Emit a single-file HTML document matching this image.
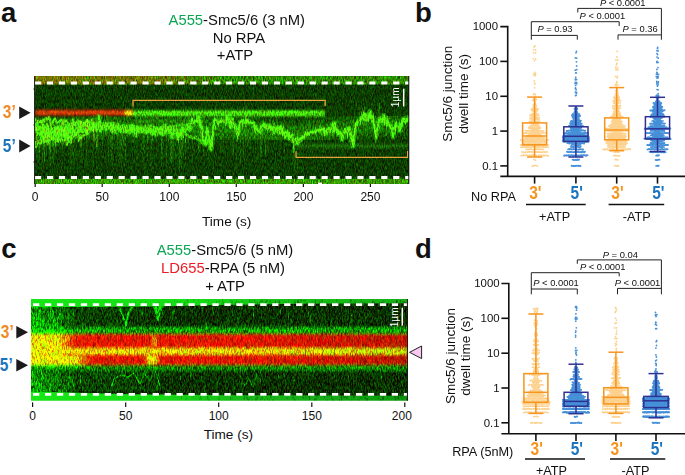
<!DOCTYPE html>
<html><head><meta charset="utf-8"><title>Figure</title>
<style>html,body{margin:0;padding:0;background:#fff;}svg{display:block;font-family:"Liberation Sans", sans-serif;}</style>
</head><body>
<svg width="685" height="475" viewBox="0 0 685 475">
<defs>
<clipPath id="clipA"><rect x="35" y="76" width="374" height="108"/></clipPath>
<clipPath id="clipC"><rect x="31" y="299" width="376.8" height="101.7"/></clipPath>
<filter id="blur05" x="-10%" y="-50%" width="120%" height="200%"><feGaussianBlur stdDeviation="0.5"/></filter>
<filter id="blur07" x="-10%" y="-50%" width="120%" height="200%"><feGaussianBlur stdDeviation="0.7"/></filter>
<filter id="blur1" x="-10%" y="-50%" width="120%" height="200%"><feGaussianBlur stdDeviation="1.0"/></filter>
<filter id="blur15" x="-10%" y="-50%" width="120%" height="200%"><feGaussianBlur stdDeviation="1.5"/></filter>
<filter id="blur2" x="-10%" y="-50%" width="120%" height="200%"><feGaussianBlur stdDeviation="2.2"/></filter>
<filter id="blur3" x="-10%" y="-50%" width="120%" height="200%"><feGaussianBlur stdDeviation="4"/></filter>
<filter id="noiseA" filterUnits="userSpaceOnUse" x="35" y="76" width="374" height="108" color-interpolation-filters="sRGB">
<feTurbulence type="fractalNoise" baseFrequency="1.1 0.3" numOctaves="2" seed="4" result="t"/>
<feColorMatrix in="t" type="matrix" values="1.3 0 0 0 -0.22  0 1.5 0 0 -0.25  0 0 0 0 0  0 0 0 0 1" result="n"/>
<feComposite in="SourceGraphic" in2="n" operator="arithmetic" k1="1.2" k2="0.4" k3="0.14" k4="-0.07"/>
</filter>
<filter id="noiseA2" filterUnits="userSpaceOnUse" x="35" y="76" width="374" height="108" color-interpolation-filters="sRGB">
<feTurbulence type="fractalNoise" baseFrequency="1.1 0.3" numOctaves="2" seed="4" result="t"/>
<feColorMatrix in="t" type="matrix" values="1.2 0 0 0 -0.1  0 1.6 0 0 -0.3  0 0 0 0 0  0 0 0 0 1" result="n"/>
<feComposite in="SourceGraphic" in2="n" operator="arithmetic" k1="1.1" k2="0.5" k3="0" k4="0"/>
</filter>
<filter id="noiseCg" filterUnits="userSpaceOnUse" x="31" y="299" width="377" height="102" color-interpolation-filters="sRGB">
<feTurbulence type="fractalNoise" baseFrequency="1.25 0.3" numOctaves="2" seed="9" result="t"/>
<feColorMatrix in="t" type="matrix" values="0 0 0 0 0  0 2.2 0 0 -0.6  0 0 0 0 0  0 0 0 0 1" result="n"/>
<feComposite in="SourceGraphic" in2="n" operator="arithmetic" k1="0.8" k2="0.6" k3="0.26" k4="-0.13"/>
</filter>
<filter id="noiseCr" filterUnits="userSpaceOnUse" x="31" y="299" width="377" height="102" color-interpolation-filters="sRGB">
<feTurbulence type="fractalNoise" baseFrequency="0.8 0.14" numOctaves="2" seed="23" result="t"/>
<feColorMatrix in="t" type="matrix" values="2 0 0 0 -0.5  0 0 0 0 0  0 0 0 0 0  0 0 0 0 1" result="n"/>
<feComposite in="SourceGraphic" in2="n" operator="arithmetic" k1="0.45" k2="0.78" k3="0.08" k4="-0.04"/>
</filter>
<linearGradient id="topA" x1="0" x2="1"><stop offset="0" stop-color="#847a1a"/><stop offset="0.7" stop-color="#7c7418" stop-opacity="0.85"/><stop offset="1" stop-color="#6a7c18" stop-opacity="0"/></linearGradient>
<linearGradient id="leftC" x1="0" x2="1"><stop offset="0" stop-color="#008800"/><stop offset="0.6" stop-color="#007000" stop-opacity="0.8"/><stop offset="1" stop-color="#007000" stop-opacity="0"/></linearGradient>
<linearGradient id="gLeftBand" x1="0" x2="1"><stop offset="0" stop-color="#00ff00"/><stop offset="0.62" stop-color="#00f800" stop-opacity="0.95"/><stop offset="1" stop-color="#00e000" stop-opacity="0"/></linearGradient>
<linearGradient id="gLeftBand2" x1="0" x2="1"><stop offset="0" stop-color="#00ff00"/><stop offset="0.75" stop-color="#00f800" stop-opacity="0.95"/><stop offset="1" stop-color="#00e000" stop-opacity="0"/></linearGradient>
<linearGradient id="yelC" x1="0" x2="1"><stop offset="0" stop-color="#f0d818"/><stop offset="0.75" stop-color="#f0c818" stop-opacity="0.8"/><stop offset="1" stop-color="#f0c818" stop-opacity="0"/></linearGradient>
<linearGradient id="ygC" x1="0" x2="1"><stop offset="0" stop-color="#9ee020" stop-opacity="0"/><stop offset="0.4" stop-color="#9ee020" stop-opacity="0.7"/><stop offset="1" stop-color="#8ce020" stop-opacity="0.85"/></linearGradient>
<linearGradient id="redC" gradientUnits="userSpaceOnUse" x1="31" x2="408"><stop offset="0" stop-color="#e60000"/><stop offset="0.6" stop-color="#e00000"/><stop offset="0.8" stop-color="#cc0000"/><stop offset="1" stop-color="#b80000"/></linearGradient>
<linearGradient id="hazeC" x1="0" x2="1"><stop offset="0" stop-color="#006000" stop-opacity="0.0"/><stop offset="0.3" stop-color="#005800" stop-opacity="0.55"/><stop offset="0.8" stop-color="#005000" stop-opacity="0.5"/><stop offset="1" stop-color="#004000" stop-opacity="0"/></linearGradient>
<linearGradient id="stripT" gradientUnits="userSpaceOnUse" x1="31" x2="408"><stop offset="0" stop-color="#18e618"/><stop offset="0.4" stop-color="#18e018"/><stop offset="0.65" stop-color="#16c416"/><stop offset="1" stop-color="#14b014"/></linearGradient>
<linearGradient id="stripB" gradientUnits="userSpaceOnUse" x1="31" x2="408"><stop offset="0" stop-color="#18e618"/><stop offset="0.3" stop-color="#18e018"/><stop offset="0.55" stop-color="#14bc14"/><stop offset="1" stop-color="#109c10"/></linearGradient>
<linearGradient id="yelC2" x1="0" x2="1"><stop offset="0" stop-color="#ecec1c"/><stop offset="0.8" stop-color="#ecec1c" stop-opacity="0.9"/><stop offset="1" stop-color="#ecec1c" stop-opacity="0"/></linearGradient>
</defs>
<rect width="685" height="475" fill="#fff"/>
<text x="1.0" y="22.4" font-size="27.5" text-anchor="start" font-weight="bold" fill="#111" >a</text>
<text x="415.0" y="22.4" font-size="27.5" text-anchor="start" font-weight="bold" fill="#111" >b</text>
<text x="1.2" y="258.3" font-size="27.5" text-anchor="start" font-weight="bold" fill="#111" >c</text>
<text x="415.0" y="258.3" font-size="27.5" text-anchor="start" font-weight="bold" fill="#111" >d</text>
<!-- panel a -->
<g clip-path="url(#clipA)">
<g filter="url(#noiseA)">
<rect x="35" y="76" width="374" height="108" fill="#103d08"/>
<g filter="url(#blur07)">
<rect x="25" y="70" width="400" height="14.4" fill="#348a12"/>
<rect x="25" y="70" width="200" height="14.4" fill="url(#topA)"/>
</g>
<rect x="35" y="178.8" width="374" height="6" fill="#3e9a15"/>
<g filter="url(#blur3)" opacity="0.45">
<path d="M35 131 L68 131 L95 126 L133 127 L200 127 L295 134 L355 128 L409 122" stroke="#34c018" stroke-width="20" fill="none"/>
</g>
</g>
<g filter="url(#noiseA2)">
<g filter="url(#blur2)">
<path d="M35 117 L70 118 L100 120 L100 130 L82 137 L68 145 L35 148 Z" fill="#36c416" opacity="0.42"/>
<ellipse cx="54" cy="133" rx="15" ry="7" fill="#50e81c" opacity="0.4"/>
</g>
<g filter="url(#blur07)" fill="none" stroke-linejoin="round">
<path d="M35 117.8L36 120.2L37 122.7L38 120.5L39 122.3L40 122.6L41 120.7L42 122.3L43 119.3L44 119.4L45 121.6L46 117.8L47 119.9L48 119.1L49 116.7L50 119.8L51 125.5L52 123.4L53 121.6L54 119.9L55 118.3L56 121.1L57 123.1L58 122.4L59 122.5L60 120.7L61 119.5L62 119.7L63 123L64 120.4L65 121.5L66 120.3L67 122.7L68 122.4L69 124.5L70 123.9L71 124.2L72 123.6L73 124L74 124.4L75 125.7L76 123.9L77 124.2L78 121L79 125.3L80 124.3L81 126.2L82 124.2L83 123.9L84 123.6L85 126L86 123.2L87 119.9L88 126.5L89 127.2L90 127.3L91 122.5L92 119L93 125.4L94 126.6L95 128.3L96 129L97 126.6L98 126.4L99 126L100 131.5L101 127L102 126.5L103 127.9L104 125.2L105 127.2L106 129L107 127L108 127.6" stroke="#5cf420" stroke-width="2.1" opacity="0.85"/>
<path d="M35 128L36 125.4L37 120.8L38 127.7L39 129.7L40 132L41 131.2L42 127.2L43 131.7L44 133.3L45 134.3L46 132.7L47 135.7L48 136.6L49 136.1L50 134.6L51 134.7L52 138.8L53 135.3L54 139L55 139.1L56 139.3L57 140.5L58 141.7L59 138.9L60 136.5L61 141.3L62 139.6L63 140L64 141.1L65 139.5L66 139.4L67 141.3L68 140.2L69 141.9L70 140.6L71 142.9L72 137.4L73 137.1L74 135.2L75 135L76 134.1L77 130.1L78 127.5L79 130.1L80 127.1L81 128.4L82 125.9" stroke="#5cf420" stroke-width="2.1" opacity="0.85"/>
<path d="M35 133.4L36 132L37 134.9L38 133L39 132.7L40 134.5L41 133.7L42 129.5L43 132.6L44 133.2L45 134L46 131.4L47 132.1L48 135L49 130.5L50 129.2L51 128.2L52 131.9L53 131.9L54 127.9L55 129L56 128.4L57 128.7L58 127.7L59 128.7L60 130.1L61 126.6L62 123.4L63 123.5L64 124.9L65 125.8L66 124.8L67 125.8L68 125.4L69 125.3L70 131.7L71 124.9L72 125.1L73 119.2L74 124.6L75 122.8L76 122.6L77 122.3L78 120.1L79 122.3L80 121.7L81 124.4L82 125.3L83 124.9L84 122.9L85 125L86 124.6L87 123.7L88 121.4L89 122.6L90 127.9L91 124.2L92 124.7" stroke="#5cf420" stroke-width="2.1" opacity="0.85"/>
<path d="M35 141.9L36 142.5L37 143.1L38 141L39 142.1L40 141L41 139.4L42 135.7L43 137.4L44 137.4L45 141.2L46 141.3L47 141.3L48 137.5L49 137.2L50 135.5L51 138.1L52 139.5L53 135.6L54 137L55 136.4L56 131.7L57 137L58 136.5L59 131.2L60 130.1L61 132.9L62 136.7L63 135L64 134.8L65 133.8L66 129.5L67 129.5L68 131.9L69 132L70 131.9L71 132.1L72 126.9L73 132.2L74 131.8L75 131.3L76 130.1L77 132.6L78 133.5L79 128.3L80 130.3L81 130.1L82 131.1L83 129.6L84 129.2L85 131.1L86 132L87 129.8L88 128.1L89 128.5L90 128.4L91 127.9L92 128.7L93 128.2L94 127.8L95 130.1L96 130.9L97 128.4L98 129L99 126.6L100 126.1L101 127.2L102 127.1L103 127.8L104 126.5" stroke="#5cf420" stroke-width="2.1" opacity="0.85"/>
<path d="M35 143.4L36 147.3L37 143.7L38 141.9L39 143.3L40 143.2L41 143.5L42 138.6L43 141.2L44 142.7L45 141.5L46 140.5L47 140.8L48 144.6L49 139.4L50 140.4L51 139.2L52 139.2L53 138.8L54 140.3L55 142.4L56 140.4L57 139.3L58 139.5L59 136.9L60 136.5L61 134.1L62 134.5L63 134.8L64 136.6L65 137.8L66 138.3L67 144.9L68 137.1L69 137.4L70 137.3L71 138.9L72 136.4L73 131.4L74 135.8L75 135L76 134.4L77 133.6L78 129.5L79 140.8L80 137.1L81 134.8L82 137.6L83 135.7L84 135.1L85 135.3L86 134.3L87 134.1L88 133.2L89 129.6L90 130.1L91 129.6L92 129.3L93 130.2L94 129.3L95 128.3L96 128.5" stroke="#5cf420" stroke-width="2.1" opacity="0.85"/>
<path d="M35 128.5L36 127.8L37 129.3L38 129.1L39 129.5L40 129.4L41 128.9L42 127.9L43 124.8L44 129L45 136.3L46 128.3L47 124.1L48 128.3L49 131.6L50 133.1L51 132.5L52 131.6L53 128.5L54 129.9L55 129L56 131.4L57 131.1L58 133.3L59 138L60 134.8L61 134.1L62 132.9L63 133.3L64 131.4L65 129.6L66 127.3L67 125.9L68 128.1L69 128.3L70 132.3L71 127.1L72 124.5" stroke="#5cf420" stroke-width="2.1" opacity="0.85"/>
</g>
<g filter="url(#blur1)">
<rect x="35" y="109.6" width="98" height="6" fill="#b8400e"/>
<rect x="35" y="110.8" width="96" height="3.6" fill="#cc3a0a"/>
<ellipse cx="128.5" cy="113" rx="3.6" ry="3" fill="#e6dc20"/>
<rect x="133" y="110.3" width="192" height="6.2" fill="#48ec1a"/>
<rect x="133" y="113.6" width="192" height="0.9" fill="#2a9014" opacity="0.7"/>
<rect x="296" y="143.4" width="113" height="5.2" fill="#218211" opacity="0.8"/>
</g>
<g filter="url(#blur07)">
<path d="M35 123L36 130.6L37 127.9L38 130.1L39 127L40 126.7L41 134.2L42 136.6L43 129.1L44 127.6L45 131.5L46 132.7L47 129.4L48 132L49 131.1L50 131.8L51 130.5L52 132.3L53 131.8L54 134.2L55 133.6L56 133.2L57 132.5L58 126.2L59 127.7L60 131.3L61 135.7L62 128.6L63 131.6L64 132.7L65 136.1L66 131.1L67 136.6L68 124.6L69 131.4L70 131.1L71 130.8L72 132.3L73 131.4L74 131.6L75 131L76 131.1L77 129.9L78 129.1L79 124.6L80 130L81 123L82 129.5L83 131L84 130.6L85 130L86 129.8L87 129.9L88 129.5L89 128.4L90 128.3L91 126.9L92 126.8L93 128.3L94 125.6L95 126L96 125L97 126.1L98 125.2L99 116.5L100 125.3L101 126.9L102 129.2L103 126.3L104 124.9L105 127.2L106 124.2L107 125.5L108 127.3L109 126.5L110 126.2L111 124.1L112 126.1L113 131.3L114 130.1L115 132.5L116 126.1L117 128.3L118 128L119 129.3L120 130.1L121 128.6L122 127L123 130.8L124 127.9L125 128.5L126 128L127 130L128 131.6L129 130.6L130 130.6L131 129.2L132 126.4L133 128.8L134 128.1L135 129.1L136 135.8L137 127.2L138 129.2L139 129.3L140 131.3L141 129L142 130.4L143 129.6L144 130.2L145 131.1L146 129.8L147 132.8L148 130.1L149 129.8L150 127.5L151 128.1L152 131.7L153 133.1L154 129.4L155 128.2L156 134.8L157 128.8L158 129.6L159 130.1L160 130.4L161 130.2L162 134L163 127.5L164 128.1L165 124.8L166 129.5L167 129.2L168 131.2L169 128.7L170 128.2L171 129.7L172 137L173 133.8L174 132.8L175 133L176 126.4L177 136.7L178 138.7L179 135.9L180 135.1L181 132.4L182 129.3L183 130.7L184 130.2L185 130.5L186 128.6L187 128.8L188 129.1L189 129.3L190 124L191 123L192 118.9L193 123.2L194 121L195 121.4L196 121L197 121.5L198 122.3L199 117.1L200 124.4L201 126.9L202 127.4L203 139.6L204 142.1L205 144.8L206 137.7L207 128.2L208 131.6L209 138.3L210 143.2L211 149L212 144.7L213 130.6L214 122.2L215 118.7L216 120L217 120.4L218 124L219 122L220 120.9L221 121.9L222 120.1L223 120.5L224 121.7L225 120.3L226 123.8L227 115.9L228 118.9L229 119.4L230 127.5L231 120.6L232 119.4L233 121.7L234 125.5L235 128.5L236 126.8L237 134.5L238 134.9L239 128.8L240 122.1L241 121.8L242 121.8L243 122.1L244 122.9L245 122.5L246 121L247 120.3L248 122.3L249 122.7L250 121.7L251 123L252 123.1L253 122.9L254 124.1L255 131.7L256 126.3L257 128.7L258 131.4L259 130.9L260 131.9L261 127.1L262 125.3L263 125.9L264 123.6L265 127.4L266 125.3L267 129.1L268 128.5L269 127.3L270 126.2L271 129.7L272 128.2L273 129.8L274 133.3L275 128L276 128.6L277 129.1L278 128.2L279 127.4L280 133.6L281 126.1L282 130.9L283 134.7L284 132.3L285 137.6L286 133L287 132.8L288 133.5L289 139L290 136.6L291 137.1L292 134.5L293 139.7L294 141.3L295 139.5L296 138.3L297 143.3L298 141.4L299 139.8L300 140.4L301 138.7L302 137.8L303 136.9L304 137.5L305 134.5L306 133L307 134.2L308 133.5L309 133.5L310 132.2L311 132.5L312 132L313 131.8L314 132.2L315 131.7L316 129.8L317 130.6L318 129.6L319 130.6L320 128.3L321 130.3L322 129.5L323 130L324 128.6L325 135L326 131.2L327 132.4L328 129.6L329 128L330 128.1L331 128.9L332 128.1L333 123.5L334 131.1L335 122.8L336 131.7L337 129.1L338 134.4L339 132.9L340 132.1L341 133.3L342 139.7L343 135.5L344 133.2L345 129L346 131.5L347 132.2L348 130.5L349 127.4L350 130.5L351 134.3L352 139.5L353 145.8L354 135.6L355 130.6L356 123.4L357 123.2L358 121.5L359 121.1L360 120.8L361 119.1L362 118L363 118.2L364 119.4L365 114L366 120.4L367 118.2L368 119L369 116.1L370 111.2L371 118.1L372 116.4L373 119.6L374 123.4L375 130L376 137.3L377 131.6L378 124L379 119.2L380 119.2L381 122L382 118.6L383 119.2L384 115.4L385 122L386 121.3L387 122.6L388 122.5L389 124.3L390 125.6L391 128.2L392 128.4L393 136.9L394 127.3L395 127.4L396 123L397 126.7L398 127.5L399 126.8L400 130.8L401 123.9L402 123.1L403 119L404 118.7L405 118.4L406 121.3L407 119.4L408 117.5L409 119.9" stroke="#2ed014" stroke-width="5" fill="none" stroke-linejoin="round" opacity="0.65"/>
<path d="M35 123L36 130.6L37 127.9L38 130.1L39 127L40 126.7L41 134.2L42 136.6L43 129.1L44 127.6L45 131.5L46 132.7L47 129.4L48 132L49 131.1L50 131.8L51 130.5L52 132.3L53 131.8L54 134.2L55 133.6L56 133.2L57 132.5L58 126.2L59 127.7L60 131.3L61 135.7L62 128.6L63 131.6L64 132.7L65 136.1L66 131.1L67 136.6L68 124.6L69 131.4L70 131.1L71 130.8L72 132.3L73 131.4L74 131.6L75 131L76 131.1L77 129.9L78 129.1L79 124.6L80 130L81 123L82 129.5L83 131L84 130.6L85 130L86 129.8L87 129.9L88 129.5L89 128.4L90 128.3L91 126.9L92 126.8L93 128.3L94 125.6L95 126L96 125L97 126.1L98 125.2L99 116.5L100 125.3L101 126.9L102 129.2L103 126.3L104 124.9L105 127.2L106 124.2L107 125.5L108 127.3L109 126.5L110 126.2L111 124.1L112 126.1L113 131.3L114 130.1L115 132.5L116 126.1L117 128.3L118 128L119 129.3L120 130.1L121 128.6L122 127L123 130.8L124 127.9L125 128.5L126 128L127 130L128 131.6L129 130.6L130 130.6L131 129.2L132 126.4L133 128.8L134 128.1L135 129.1L136 135.8L137 127.2L138 129.2L139 129.3L140 131.3L141 129L142 130.4L143 129.6L144 130.2L145 131.1L146 129.8L147 132.8L148 130.1L149 129.8L150 127.5L151 128.1L152 131.7L153 133.1L154 129.4L155 128.2L156 134.8L157 128.8L158 129.6L159 130.1L160 130.4L161 130.2L162 134L163 127.5L164 128.1L165 124.8L166 129.5L167 129.2L168 131.2L169 128.7L170 128.2L171 129.7L172 137L173 133.8L174 132.8L175 133L176 126.4L177 136.7L178 138.7L179 135.9L180 135.1L181 132.4L182 129.3L183 130.7L184 130.2L185 130.5L186 128.6L187 128.8L188 129.1L189 129.3L190 124L191 123L192 118.9L193 123.2L194 121L195 121.4L196 121L197 121.5L198 122.3L199 117.1L200 124.4L201 126.9L202 127.4L203 139.6L204 142.1L205 144.8L206 137.7L207 128.2L208 131.6L209 138.3L210 143.2L211 149L212 144.7L213 130.6L214 122.2L215 118.7L216 120L217 120.4L218 124L219 122L220 120.9L221 121.9L222 120.1L223 120.5L224 121.7L225 120.3L226 123.8L227 115.9L228 118.9L229 119.4L230 127.5L231 120.6L232 119.4L233 121.7L234 125.5L235 128.5L236 126.8L237 134.5L238 134.9L239 128.8L240 122.1L241 121.8L242 121.8L243 122.1L244 122.9L245 122.5L246 121L247 120.3L248 122.3L249 122.7L250 121.7L251 123L252 123.1L253 122.9L254 124.1L255 131.7L256 126.3L257 128.7L258 131.4L259 130.9L260 131.9L261 127.1L262 125.3L263 125.9L264 123.6L265 127.4L266 125.3L267 129.1L268 128.5L269 127.3L270 126.2L271 129.7L272 128.2L273 129.8L274 133.3L275 128L276 128.6L277 129.1L278 128.2L279 127.4L280 133.6L281 126.1L282 130.9L283 134.7L284 132.3L285 137.6L286 133L287 132.8L288 133.5L289 139L290 136.6L291 137.1L292 134.5L293 139.7L294 141.3L295 139.5L296 138.3L297 143.3L298 141.4L299 139.8L300 140.4L301 138.7L302 137.8L303 136.9L304 137.5L305 134.5L306 133L307 134.2L308 133.5L309 133.5L310 132.2L311 132.5L312 132L313 131.8L314 132.2L315 131.7L316 129.8L317 130.6L318 129.6L319 130.6L320 128.3L321 130.3L322 129.5L323 130L324 128.6L325 135L326 131.2L327 132.4L328 129.6L329 128L330 128.1L331 128.9L332 128.1L333 123.5L334 131.1L335 122.8L336 131.7L337 129.1L338 134.4L339 132.9L340 132.1L341 133.3L342 139.7L343 135.5L344 133.2L345 129L346 131.5L347 132.2L348 130.5L349 127.4L350 130.5L351 134.3L352 139.5L353 145.8L354 135.6L355 130.6L356 123.4L357 123.2L358 121.5L359 121.1L360 120.8L361 119.1L362 118L363 118.2L364 119.4L365 114L366 120.4L367 118.2L368 119L369 116.1L370 111.2L371 118.1L372 116.4L373 119.6L374 123.4L375 130L376 137.3L377 131.6L378 124L379 119.2L380 119.2L381 122L382 118.6L383 119.2L384 115.4L385 122L386 121.3L387 122.6L388 122.5L389 124.3L390 125.6L391 128.2L392 128.4L393 136.9L394 127.3L395 127.4L396 123L397 126.7L398 127.5L399 126.8L400 130.8L401 123.9L402 123.1L403 119L404 118.7L405 118.4L406 121.3L407 119.4L408 117.5L409 119.9" stroke="#50f81c" stroke-width="2" fill="none" stroke-linejoin="round"/>
<path d="M68 131.4L69 131.4L70 131.8L71 133.5L72 130.7L73 132.1L74 133.1L75 132.1L76 130.2L77 130.3L78 129.2L79 128.5L80 128.8L81 128.3L82 128.8L83 129.2L84 127.8L85 128.8L86 128.5L87 129L88 128.7L89 127.7L90 125.8L91 126.4L92 126.6L93 125.9L94 126.9L95 125.8L96 126L97 127L98 127.1L99 126.2L100 126.3L101 126.7L102 126L103 125.7L104 126.1L105 126.4L106 126.8L107 126.9L108 126.1L109 125.6L110 125.7L111 126.4L112 124.9L113 125.9L114 128.2L115 126L116 126.6L117 126.3L118 127.5L119 128.1L120 128.2L121 128.6L122 128.3L123 127.8L124 127.7L125 128.4L126 129.9L127 128.2L128 127.9L129 128.7L130 130.5L131 129.6L132 129.7L133 128.4L134 129.1L135 128.8L136 128.8L137 129.4L138 128.8L139 129.9L140 129.6L141 129.8L142 129.7L143 128.8L144 130.2L145 128.4L146 129.3L147 130.8L148 129.4L149 128.5L150 127.9L151 128.9L152 129.1L153 129.3L154 130.2L155 131.6L156 131.8L157 130.4L158 130.2L159 130.5L160 129.6L161 129.9L162 131.2L163 131.5L164 132.4L165 131.5L166 130.6L167 130.1L168 130L169 130.5L170 130L171 128.7L172 129.2L173 129.5L174 128.6L175 129.5L176 129.8L177 129.9L178 129.4L179 129L180 127.7L181 126.9L182 128L183 127.2L184 127.7L185 127.1L186 127.8L187 126.9L188 127.6L189 127.9L190 125.7" stroke="#44e01a" stroke-width="7.5" fill="none" stroke-linejoin="round" opacity="0.7"/>
<rect x="133" y="119.6" width="62" height="3" fill="#38c018" opacity="0.6"/>
<path d="M172 130.8L173 130.1L174 131.9L175 130.8L176 132.1L177 133.5L178 134.1L179 134.1L180 132.6L181 133.9L182 134.2L183 131.8L184 133.5L185 133.5L186 134.5L187 135L188 136.2L189 136.2L190 136.5L191 137.3L192 137L193 138.1L194 138.3L195 138.1L196 136.9L197 138.8L198 139L199 140L200 139.9L201 141L202 142.6L203 142.8L204 142.2L205 144L206 143.5L207 143.8L208 142.6L209 141.8L210 141.2L211 140.7L212 137.9L213 135.6" stroke="#44dc1c" stroke-width="3" fill="none" stroke-linejoin="round" opacity="0.8"/>
<line x1="380.2" y1="119.1" x2="379.3" y2="129.8" stroke="#3cd818" stroke-width="1.1" opacity="0.64"/>
<line x1="397.1" y1="128" x2="396.5" y2="118.8" stroke="#3cd818" stroke-width="1.1" opacity="0.41"/>
<line x1="181.1" y1="133.4" x2="181.9" y2="124.4" stroke="#3cd818" stroke-width="1.1" opacity="0.74"/>
<line x1="89.7" y1="127.4" x2="89.7" y2="139.1" stroke="#3cd818" stroke-width="1.1" opacity="0.53"/>
<line x1="200.8" y1="124.8" x2="200.3" y2="138.3" stroke="#3cd818" stroke-width="1.1" opacity="0.46"/>
<line x1="51.1" y1="130.9" x2="50.3" y2="122" stroke="#3cd818" stroke-width="1.1" opacity="0.68"/>
<line x1="230.1" y1="120.7" x2="230.3" y2="113.9" stroke="#3cd818" stroke-width="1.1" opacity="0.67"/>
<line x1="366.8" y1="117.4" x2="366" y2="130.1" stroke="#3cd818" stroke-width="1.1" opacity="0.36"/>
<line x1="285.2" y1="132.1" x2="284.7" y2="120.5" stroke="#3cd818" stroke-width="1.1" opacity="0.30"/>
<line x1="293.5" y1="141.4" x2="294.5" y2="151.6" stroke="#3cd818" stroke-width="1.1" opacity="0.53"/>
<line x1="165.3" y1="129.7" x2="166.4" y2="137" stroke="#3cd818" stroke-width="1.1" opacity="0.34"/>
<line x1="188.3" y1="127.4" x2="188.7" y2="114.2" stroke="#3cd818" stroke-width="1.1" opacity="0.41"/>
<line x1="245.5" y1="121.6" x2="246" y2="105.8" stroke="#3cd818" stroke-width="1.1" opacity="0.56"/>
<line x1="355.2" y1="127.3" x2="356.3" y2="135.6" stroke="#3cd818" stroke-width="1.1" opacity="0.33"/>
<line x1="168.7" y1="129.6" x2="169.7" y2="136.5" stroke="#3cd818" stroke-width="1.1" opacity="0.65"/>
<line x1="358.9" y1="119.4" x2="358.4" y2="130.4" stroke="#3cd818" stroke-width="1.1" opacity="0.35"/>
<line x1="307.9" y1="134" x2="308.6" y2="124.7" stroke="#3cd818" stroke-width="1.1" opacity="0.36"/>
<line x1="126.6" y1="128.2" x2="125.8" y2="133.3" stroke="#3cd818" stroke-width="1.1" opacity="0.44"/>
<line x1="242.6" y1="122.4" x2="243.6" y2="106.9" stroke="#3cd818" stroke-width="1.1" opacity="0.63"/>
<line x1="133.2" y1="129" x2="133.2" y2="143.1" stroke="#3cd818" stroke-width="1.1" opacity="0.41"/>
<line x1="201.2" y1="125.2" x2="200.5" y2="117" stroke="#3cd818" stroke-width="1.1" opacity="0.42"/>
<line x1="208.9" y1="138.2" x2="208" y2="149.3" stroke="#3cd818" stroke-width="1.1" opacity="0.35"/>
<line x1="365" y1="117.2" x2="364.4" y2="106.7" stroke="#3cd818" stroke-width="1.1" opacity="0.60"/>
<line x1="207.9" y1="133.8" x2="206.7" y2="142.5" stroke="#3cd818" stroke-width="1.1" opacity="0.59"/>
<line x1="294.1" y1="141.9" x2="293" y2="153.1" stroke="#3cd818" stroke-width="1.1" opacity="0.74"/>
<line x1="55.3" y1="131.4" x2="56.1" y2="139.8" stroke="#3cd818" stroke-width="1.1" opacity="0.62"/>
<line x1="349.6" y1="131.9" x2="349.2" y2="142.7" stroke="#3cd818" stroke-width="1.1" opacity="0.48"/>
<line x1="244.7" y1="121.8" x2="245.2" y2="113.9" stroke="#3cd818" stroke-width="1.1" opacity="0.46"/>
<line x1="359.8" y1="118.7" x2="358.9" y2="106.7" stroke="#3cd818" stroke-width="1.1" opacity="0.38"/>
<line x1="156.7" y1="129.8" x2="156" y2="136.3" stroke="#3cd818" stroke-width="1.1" opacity="0.49"/>
<line x1="183.7" y1="131.2" x2="182.6" y2="147.2" stroke="#3cd818" stroke-width="1.1" opacity="0.74"/>
<line x1="398.1" y1="127.1" x2="398.4" y2="131.6" stroke="#3cd818" stroke-width="1.1" opacity="0.71"/>
<line x1="267.9" y1="127" x2="266.8" y2="138.5" stroke="#3cd818" stroke-width="1.1" opacity="0.35"/>
<line x1="81.3" y1="129.7" x2="80.2" y2="125.5" stroke="#3cd818" stroke-width="1.1" opacity="0.35"/>
<line x1="165.3" y1="129.7" x2="166.4" y2="123.6" stroke="#3cd818" stroke-width="1.1" opacity="0.71"/>
<line x1="371.3" y1="117.8" x2="372.4" y2="122.8" stroke="#3cd818" stroke-width="1.1" opacity="0.50"/>
<line x1="226.3" y1="120.1" x2="226.5" y2="134.8" stroke="#3cd818" stroke-width="1.1" opacity="0.42"/>
<line x1="309.8" y1="133.1" x2="309.7" y2="120.2" stroke="#3cd818" stroke-width="1.1" opacity="0.61"/>
<line x1="118.4" y1="127" x2="118.1" y2="135.6" stroke="#3cd818" stroke-width="1.1" opacity="0.70"/>
<line x1="149" y1="129.9" x2="147.9" y2="139.7" stroke="#3cd818" stroke-width="1.1" opacity="0.45"/>
<line x1="106.2" y1="126" x2="106" y2="136.6" stroke="#3cd818" stroke-width="1.1" opacity="0.72"/>
<line x1="96.4" y1="126" x2="96" y2="141.4" stroke="#3cd818" stroke-width="1.1" opacity="0.42"/>
<line x1="362.8" y1="117.1" x2="361.6" y2="110.5" stroke="#3cd818" stroke-width="1.1" opacity="0.55"/>
<line x1="261.4" y1="128.3" x2="261.4" y2="136.5" stroke="#3cd818" stroke-width="1.1" opacity="0.68"/>
<line x1="167.7" y1="129.6" x2="168.9" y2="142.8" stroke="#3cd818" stroke-width="1.1" opacity="0.60"/>
<line x1="383.4" y1="119.3" x2="382.6" y2="128.3" stroke="#3cd818" stroke-width="1.1" opacity="0.39"/>
<line x1="263.2" y1="127" x2="262.2" y2="134.3" stroke="#3cd818" stroke-width="1.1" opacity="0.69"/>
<line x1="379" y1="119" x2="379.3" y2="103.1" stroke="#3cd818" stroke-width="1.1" opacity="0.58"/>
<line x1="297.7" y1="140.1" x2="297.5" y2="131.2" stroke="#3cd818" stroke-width="1.1" opacity="0.55"/>
<line x1="79.7" y1="130.1" x2="78.8" y2="138.8" stroke="#3cd818" stroke-width="1.1" opacity="0.68"/>
<line x1="139.9" y1="129.4" x2="140.7" y2="117.9" stroke="#3cd818" stroke-width="1.1" opacity="0.61"/>
<line x1="143.2" y1="129.6" x2="143.2" y2="137.8" stroke="#3cd818" stroke-width="1.1" opacity="0.57"/>
<line x1="277.1" y1="128" x2="278.3" y2="132" stroke="#3cd818" stroke-width="1.1" opacity="0.47"/>
<line x1="147.6" y1="129.9" x2="147.5" y2="140.3" stroke="#3cd818" stroke-width="1.1" opacity="0.47"/>
<line x1="122.3" y1="127.6" x2="123.4" y2="141.4" stroke="#3cd818" stroke-width="1.1" opacity="0.57"/>
<line x1="126.3" y1="128.2" x2="127.2" y2="136.1" stroke="#3cd818" stroke-width="1.1" opacity="0.73"/>
<line x1="45.5" y1="130.3" x2="45" y2="137.3" stroke="#3cd818" stroke-width="1.1" opacity="0.54"/>
<line x1="152.2" y1="129.9" x2="153" y2="141.4" stroke="#3cd818" stroke-width="1.1" opacity="0.63"/>
<line x1="196" y1="121.7" x2="196.4" y2="112.2" stroke="#3cd818" stroke-width="1.1" opacity="0.50"/>
<line x1="39.9" y1="129.6" x2="39.6" y2="124.8" stroke="#3cd818" stroke-width="1.1" opacity="0.53"/>
<line x1="277.3" y1="128" x2="276.5" y2="112.8" stroke="#3cd818" stroke-width="1.1" opacity="0.49"/>
<line x1="185.4" y1="129.8" x2="185.6" y2="143" stroke="#3cd818" stroke-width="1.1" opacity="0.61"/>
<line x1="313.7" y1="131.6" x2="313.4" y2="136.7" stroke="#3cd818" stroke-width="1.1" opacity="0.33"/>
<line x1="151.6" y1="130" x2="151.1" y2="136.1" stroke="#3cd818" stroke-width="1.1" opacity="0.45"/>
<line x1="384" y1="119.4" x2="384.3" y2="129.5" stroke="#3cd818" stroke-width="1.1" opacity="0.54"/>
<line x1="339.6" y1="131.8" x2="339.4" y2="138.3" stroke="#3cd818" stroke-width="1.1" opacity="0.33"/>
<line x1="246.2" y1="121.5" x2="246.5" y2="126.7" stroke="#3cd818" stroke-width="1.1" opacity="0.63"/>
<line x1="293.3" y1="141.1" x2="293.8" y2="137" stroke="#3cd818" stroke-width="1.1" opacity="0.55"/>
<line x1="377.1" y1="129.4" x2="376" y2="120.6" stroke="#3cd818" stroke-width="1.1" opacity="0.31"/>
<line x1="101.2" y1="126" x2="102.1" y2="139.2" stroke="#3cd818" stroke-width="1.1" opacity="0.70"/>
<line x1="227.3" y1="120.3" x2="227.6" y2="114.6" stroke="#3cd818" stroke-width="1.1" opacity="0.37"/>
<line x1="228.9" y1="120.5" x2="227.8" y2="110.4" stroke="#3cd818" stroke-width="1.1" opacity="0.73"/>
<line x1="218.4" y1="121.5" x2="219.2" y2="131.1" stroke="#3cd818" stroke-width="1.1" opacity="0.59"/>
<line x1="290.7" y1="137.5" x2="290" y2="126.6" stroke="#3cd818" stroke-width="1.1" opacity="0.42"/>
<line x1="48.2" y1="130.6" x2="49.3" y2="142.1" stroke="#3cd818" stroke-width="1.1" opacity="0.33"/>
<line x1="107.3" y1="126" x2="106.6" y2="114.5" stroke="#3cd818" stroke-width="1.1" opacity="0.48"/>
<line x1="320.2" y1="130.4" x2="319.6" y2="125.9" stroke="#3cd818" stroke-width="1.1" opacity="0.40"/>
<line x1="95.3" y1="126" x2="94.1" y2="115" stroke="#3cd818" stroke-width="1.1" opacity="0.69"/>
<line x1="205.4" y1="142" x2="206.4" y2="133" stroke="#3cd818" stroke-width="1.1" opacity="0.74"/>
<line x1="61.1" y1="132" x2="61.3" y2="144.1" stroke="#3cd818" stroke-width="1.1" opacity="0.49"/>
<line x1="184.3" y1="130.8" x2="185.2" y2="118.2" stroke="#3cd818" stroke-width="1.1" opacity="0.34"/>
<line x1="99.2" y1="126" x2="100.1" y2="117.5" stroke="#3cd818" stroke-width="1.1" opacity="0.48"/>
<line x1="171" y1="129.5" x2="170.6" y2="137.5" stroke="#3cd818" stroke-width="1.1" opacity="0.59"/>
<line x1="393.6" y1="128" x2="393.7" y2="137.1" stroke="#3cd818" stroke-width="1.1" opacity="0.47"/>
<line x1="209.7" y1="141.7" x2="209.2" y2="149.8" stroke="#3cd818" stroke-width="1.1" opacity="0.31"/>
<line x1="335.4" y1="130.2" x2="334.7" y2="123.3" stroke="#3cd818" stroke-width="1.1" opacity="0.55"/>
<line x1="328.9" y1="130.2" x2="329.6" y2="140.8" stroke="#3cd818" stroke-width="1.1" opacity="0.41"/>
<line x1="172.9" y1="130.4" x2="173.2" y2="137" stroke="#3cd818" stroke-width="1.1" opacity="0.56"/>
<line x1="146.6" y1="129.8" x2="147.4" y2="120.1" stroke="#3cd818" stroke-width="1.1" opacity="0.60"/>
<line x1="386.5" y1="120.2" x2="386.3" y2="136.2" stroke="#3cd818" stroke-width="1.1" opacity="0.75"/>
<line x1="234.9" y1="122.4" x2="234.9" y2="126.6" stroke="#5cff20" stroke-width="1" opacity="0.40"/>
<line x1="352.9" y1="139" x2="352.9" y2="145.1" stroke="#5cff20" stroke-width="1" opacity="0.75"/>
<line x1="90" y1="126.2" x2="90" y2="132.9" stroke="#5cff20" stroke-width="1" opacity="0.45"/>
<line x1="367.6" y1="115.7" x2="367.6" y2="120.1" stroke="#5cff20" stroke-width="1" opacity="0.77"/>
<line x1="107.7" y1="123.4" x2="107.7" y2="128.2" stroke="#5cff20" stroke-width="1" opacity="0.55"/>
<line x1="350.1" y1="129.1" x2="350.1" y2="135.2" stroke="#5cff20" stroke-width="1" opacity="0.82"/>
<line x1="384.5" y1="116.4" x2="384.5" y2="125.9" stroke="#5cff20" stroke-width="1" opacity="0.36"/>
<line x1="297.8" y1="138" x2="297.8" y2="144.4" stroke="#5cff20" stroke-width="1" opacity="0.85"/>
<line x1="72.3" y1="129.7" x2="72.3" y2="135.8" stroke="#5cff20" stroke-width="1" opacity="0.57"/>
<line x1="262.4" y1="125.4" x2="262.4" y2="130.3" stroke="#5cff20" stroke-width="1" opacity="0.76"/>
<line x1="241.5" y1="118.2" x2="241.5" y2="123.5" stroke="#5cff20" stroke-width="1" opacity="0.64"/>
<line x1="380.4" y1="113.3" x2="380.4" y2="121.7" stroke="#5cff20" stroke-width="1" opacity="0.41"/>
<line x1="320.1" y1="124.9" x2="320.1" y2="133.9" stroke="#5cff20" stroke-width="1" opacity="0.89"/>
<line x1="289.4" y1="131.9" x2="289.4" y2="135.2" stroke="#5cff20" stroke-width="1" opacity="0.54"/>
<line x1="375.9" y1="130.7" x2="375.9" y2="138.4" stroke="#5cff20" stroke-width="1" opacity="0.64"/>
<line x1="165.8" y1="127.7" x2="165.8" y2="135" stroke="#5cff20" stroke-width="1" opacity="0.63"/>
<line x1="292.1" y1="137.8" x2="292.1" y2="143.1" stroke="#5cff20" stroke-width="1" opacity="0.72"/>
<line x1="350.9" y1="130.1" x2="350.9" y2="136.2" stroke="#5cff20" stroke-width="1" opacity="0.87"/>
<line x1="343" y1="134.5" x2="343" y2="138.3" stroke="#5cff20" stroke-width="1" opacity="0.49"/>
<line x1="394.5" y1="126.7" x2="394.5" y2="129.4" stroke="#5cff20" stroke-width="1" opacity="0.70"/>
<line x1="87" y1="124.6" x2="87" y2="129.2" stroke="#5cff20" stroke-width="1" opacity="0.73"/>
<line x1="85.5" y1="123.6" x2="85.5" y2="129.4" stroke="#5cff20" stroke-width="1" opacity="0.74"/>
<line x1="254.6" y1="122.5" x2="254.6" y2="126.7" stroke="#5cff20" stroke-width="1" opacity="0.72"/>
<line x1="93.6" y1="123.9" x2="93.6" y2="133.1" stroke="#5cff20" stroke-width="1" opacity="0.46"/>
<line x1="292.7" y1="140.3" x2="292.7" y2="143.6" stroke="#5cff20" stroke-width="1" opacity="0.41"/>
<line x1="150.9" y1="127.8" x2="150.9" y2="134.7" stroke="#5cff20" stroke-width="1" opacity="0.66"/>
<line x1="143.7" y1="125.7" x2="143.7" y2="132.3" stroke="#5cff20" stroke-width="1" opacity="0.76"/>
<line x1="159.4" y1="127.3" x2="159.4" y2="134.2" stroke="#5cff20" stroke-width="1" opacity="0.88"/>
<line x1="217.7" y1="121" x2="217.7" y2="124.5" stroke="#5cff20" stroke-width="1" opacity="0.69"/>
<line x1="307.8" y1="129.4" x2="307.8" y2="135.2" stroke="#5cff20" stroke-width="1" opacity="0.76"/>
<line x1="45.4" y1="126.5" x2="45.4" y2="132.5" stroke="#5cff20" stroke-width="1" opacity="0.84"/>
<line x1="289.7" y1="135.1" x2="289.7" y2="138.5" stroke="#5cff20" stroke-width="1" opacity="0.69"/>
<line x1="177.1" y1="133" x2="177.1" y2="137.5" stroke="#5cff20" stroke-width="1" opacity="0.81"/>
<line x1="130.3" y1="126.7" x2="130.3" y2="129.8" stroke="#5cff20" stroke-width="1" opacity="0.86"/>
<line x1="408" y1="116.8" x2="408" y2="121.3" stroke="#5cff20" stroke-width="1" opacity="0.90"/>
<line x1="260.2" y1="129.5" x2="260.2" y2="134" stroke="#5cff20" stroke-width="1" opacity="0.43"/>
<line x1="272.9" y1="120.4" x2="272.9" y2="126.9" stroke="#5cff20" stroke-width="1" opacity="0.55"/>
<line x1="47.9" y1="129.6" x2="47.9" y2="136.8" stroke="#5cff20" stroke-width="1" opacity="0.43"/>
<line x1="62.8" y1="132.5" x2="62.8" y2="136.9" stroke="#5cff20" stroke-width="1" opacity="0.88"/>
<line x1="101.6" y1="124.3" x2="101.6" y2="129.1" stroke="#5cff20" stroke-width="1" opacity="0.79"/>
<line x1="287.2" y1="129.3" x2="287.2" y2="135" stroke="#5cff20" stroke-width="1" opacity="0.64"/>
<line x1="268.8" y1="124.8" x2="268.8" y2="128.6" stroke="#5cff20" stroke-width="1" opacity="0.39"/>
<line x1="337.2" y1="127.7" x2="337.2" y2="134.2" stroke="#5cff20" stroke-width="1" opacity="0.55"/>
<line x1="280.2" y1="125.1" x2="280.2" y2="129.4" stroke="#5cff20" stroke-width="1" opacity="0.70"/>
<line x1="351.5" y1="135.6" x2="351.5" y2="141.7" stroke="#5cff20" stroke-width="1" opacity="0.66"/>
<line x1="386.9" y1="121.9" x2="386.9" y2="126.1" stroke="#5cff20" stroke-width="1" opacity="0.49"/>
<line x1="120.5" y1="126.2" x2="120.5" y2="133.8" stroke="#5cff20" stroke-width="1" opacity="0.71"/>
<line x1="105.8" y1="122.4" x2="105.8" y2="128.7" stroke="#5cff20" stroke-width="1" opacity="0.60"/>
<line x1="237.3" y1="131.8" x2="237.3" y2="141.6" stroke="#5cff20" stroke-width="1" opacity="0.72"/>
<line x1="333.7" y1="126" x2="333.7" y2="129.7" stroke="#5cff20" stroke-width="1" opacity="0.81"/>
<line x1="388.7" y1="118.3" x2="388.7" y2="124.6" stroke="#5cff20" stroke-width="1" opacity="0.65"/>
<line x1="396.1" y1="124.4" x2="396.1" y2="127.5" stroke="#5cff20" stroke-width="1" opacity="0.56"/>
<line x1="266.2" y1="125" x2="266.2" y2="129.1" stroke="#5cff20" stroke-width="1" opacity="0.60"/>
<line x1="80.8" y1="127.9" x2="80.8" y2="131.4" stroke="#5cff20" stroke-width="1" opacity="0.89"/>
<line x1="111" y1="126.2" x2="111" y2="131.6" stroke="#5cff20" stroke-width="1" opacity="0.79"/>
<line x1="309.8" y1="133.9" x2="309.8" y2="136.1" stroke="#5cff20" stroke-width="1" opacity="0.63"/>
<line x1="231.2" y1="117" x2="231.2" y2="123.5" stroke="#5cff20" stroke-width="1" opacity="0.53"/>
<line x1="260.3" y1="130.2" x2="260.3" y2="133.4" stroke="#5cff20" stroke-width="1" opacity="0.54"/>
<line x1="294.1" y1="143.8" x2="294.1" y2="149.7" stroke="#5cff20" stroke-width="1" opacity="0.39"/>
<line x1="132.1" y1="127.3" x2="132.1" y2="132.4" stroke="#5cff20" stroke-width="1" opacity="0.72"/>
<line x1="347.1" y1="125.8" x2="347.1" y2="134.3" stroke="#5cff20" stroke-width="1" opacity="0.59"/>
<line x1="45.2" y1="126" x2="45.2" y2="134.4" stroke="#5cff20" stroke-width="1" opacity="0.37"/>
<line x1="347.4" y1="130.4" x2="347.4" y2="138.4" stroke="#5cff20" stroke-width="1" opacity="0.88"/>
<line x1="293.8" y1="141" x2="293.8" y2="147.1" stroke="#5cff20" stroke-width="1" opacity="0.63"/>
<line x1="170.3" y1="126.5" x2="170.3" y2="129.7" stroke="#5cff20" stroke-width="1" opacity="0.80"/>
<line x1="306.5" y1="132.6" x2="306.5" y2="138.3" stroke="#5cff20" stroke-width="1" opacity="0.52"/>
<line x1="160.8" y1="126.1" x2="160.8" y2="131.3" stroke="#5cff20" stroke-width="1" opacity="0.70"/>
<line x1="306.4" y1="133.5" x2="306.4" y2="136.2" stroke="#5cff20" stroke-width="1" opacity="0.90"/>
<line x1="168.7" y1="125.8" x2="168.7" y2="130.6" stroke="#5cff20" stroke-width="1" opacity="0.85"/>
<line x1="71.4" y1="129.5" x2="71.4" y2="133.5" stroke="#5cff20" stroke-width="1" opacity="0.40"/>
<line x1="330.6" y1="128.4" x2="330.6" y2="133.1" stroke="#5cff20" stroke-width="1" opacity="0.88"/>
<line x1="163" y1="125.8" x2="163" y2="130.8" stroke="#5cff20" stroke-width="1" opacity="0.83"/>
<line x1="302.2" y1="132.2" x2="302.2" y2="140.9" stroke="#5cff20" stroke-width="1" opacity="0.63"/>
<line x1="368.6" y1="115" x2="368.6" y2="122.6" stroke="#5cff20" stroke-width="1" opacity="0.46"/>
<line x1="366.6" y1="113.8" x2="366.6" y2="120.7" stroke="#5cff20" stroke-width="1" opacity="0.67"/>
<line x1="89.5" y1="123.9" x2="89.5" y2="130.4" stroke="#5cff20" stroke-width="1" opacity="0.71"/>
<line x1="395.3" y1="125.9" x2="395.3" y2="133.5" stroke="#5cff20" stroke-width="1" opacity="0.54"/>
<line x1="210" y1="139.3" x2="210" y2="149.4" stroke="#5cff20" stroke-width="1" opacity="0.86"/>
<line x1="348" y1="127.7" x2="348" y2="136.9" stroke="#5cff20" stroke-width="1" opacity="0.69"/>
<line x1="124.1" y1="128.1" x2="124.1" y2="130.4" stroke="#5cff20" stroke-width="1" opacity="0.84"/>
<line x1="141.1" y1="127.8" x2="141.1" y2="130.4" stroke="#5cff20" stroke-width="1" opacity="0.38"/>
<line x1="63.3" y1="128.6" x2="63.3" y2="137.2" stroke="#5cff20" stroke-width="1" opacity="0.35"/>
<line x1="136.7" y1="128" x2="136.7" y2="131.3" stroke="#5cff20" stroke-width="1" opacity="0.83"/>
<line x1="46.1" y1="127.5" x2="46.1" y2="134.3" stroke="#5cff20" stroke-width="1" opacity="0.45"/>
<line x1="357.1" y1="117.8" x2="357.1" y2="126.5" stroke="#5cff20" stroke-width="1" opacity="0.57"/>
<line x1="385.8" y1="117.1" x2="385.8" y2="122.6" stroke="#5cff20" stroke-width="1" opacity="0.71"/>
<line x1="152.6" y1="125.7" x2="152.6" y2="130.2" stroke="#5cff20" stroke-width="1" opacity="0.47"/>
<line x1="233" y1="121.1" x2="233" y2="127.8" stroke="#5cff20" stroke-width="1" opacity="0.54"/>
<line x1="289" y1="132.1" x2="289" y2="139.7" stroke="#5cff20" stroke-width="1" opacity="0.69"/>
<line x1="338.6" y1="129.5" x2="338.6" y2="134.4" stroke="#5cff20" stroke-width="1" opacity="0.71"/>
<line x1="240.4" y1="120.2" x2="240.4" y2="124.6" stroke="#5cff20" stroke-width="1" opacity="0.49"/>
<line x1="243.6" y1="118.2" x2="243.6" y2="123" stroke="#5cff20" stroke-width="1" opacity="0.43"/>
<line x1="270" y1="119.5" x2="270" y2="126.5" stroke="#5cff20" stroke-width="1" opacity="0.65"/>
<line x1="112.2" y1="126.3" x2="112.2" y2="133.3" stroke="#5cff20" stroke-width="1" opacity="0.76"/>
<line x1="371.9" y1="116.9" x2="371.9" y2="123.7" stroke="#5cff20" stroke-width="1" opacity="0.74"/>
<line x1="200.3" y1="119.6" x2="200.3" y2="128.1" stroke="#5cff20" stroke-width="1" opacity="0.85"/>
<line x1="180.7" y1="132.9" x2="180.7" y2="135.4" stroke="#5cff20" stroke-width="1" opacity="0.79"/>
<line x1="375.9" y1="137.4" x2="375.9" y2="142.7" stroke="#5cff20" stroke-width="1" opacity="0.56"/>
<line x1="373.4" y1="114.6" x2="373.4" y2="118.9" stroke="#5cff20" stroke-width="1" opacity="0.74"/>
<line x1="126" y1="128.1" x2="126" y2="132.4" stroke="#5cff20" stroke-width="1" opacity="0.50"/>
<line x1="363.1" y1="109.5" x2="363.1" y2="118.4" stroke="#5cff20" stroke-width="1" opacity="0.77"/>
<line x1="391" y1="125.8" x2="391" y2="128.3" stroke="#5cff20" stroke-width="1" opacity="0.35"/>
<line x1="360.4" y1="114.4" x2="360.4" y2="121" stroke="#5cff20" stroke-width="1" opacity="0.38"/>
<line x1="327" y1="127.6" x2="327" y2="134.3" stroke="#5cff20" stroke-width="1" opacity="0.78"/>
<line x1="199.3" y1="118.4" x2="199.3" y2="128.6" stroke="#5cff20" stroke-width="1" opacity="0.43"/>
<line x1="375.5" y1="133.3" x2="375.5" y2="136.6" stroke="#5cff20" stroke-width="1" opacity="0.54"/>
<line x1="315.5" y1="127.1" x2="315.5" y2="133" stroke="#5cff20" stroke-width="1" opacity="0.57"/>
<line x1="160.9" y1="126.5" x2="160.9" y2="133.5" stroke="#5cff20" stroke-width="1" opacity="0.70"/>
<line x1="41.7" y1="128.1" x2="41.7" y2="135.5" stroke="#5cff20" stroke-width="1" opacity="0.38"/>
<line x1="368.6" y1="118.3" x2="368.6" y2="121.8" stroke="#5cff20" stroke-width="1" opacity="0.88"/>
<line x1="231.5" y1="119.2" x2="231.5" y2="125.6" stroke="#5cff20" stroke-width="1" opacity="0.90"/>
<line x1="233.1" y1="118.2" x2="233.1" y2="125.6" stroke="#5cff20" stroke-width="1" opacity="0.88"/>
<line x1="353.4" y1="138.9" x2="353.4" y2="141.6" stroke="#5cff20" stroke-width="1" opacity="0.50"/>
<line x1="395.5" y1="127.7" x2="395.5" y2="131.5" stroke="#5cff20" stroke-width="1" opacity="0.87"/>
<line x1="135.4" y1="127.1" x2="135.4" y2="131.6" stroke="#5cff20" stroke-width="1" opacity="0.58"/>
<line x1="405.5" y1="118.8" x2="405.5" y2="125" stroke="#5cff20" stroke-width="1" opacity="0.65"/>
<line x1="178.5" y1="132.9" x2="178.5" y2="143.4" stroke="#5cff20" stroke-width="1" opacity="0.70"/>
<line x1="124.9" y1="126.6" x2="124.9" y2="134.1" stroke="#5cff20" stroke-width="1" opacity="0.75"/>
<line x1="404.7" y1="120.9" x2="404.7" y2="123.6" stroke="#5cff20" stroke-width="1" opacity="0.74"/>
<line x1="187" y1="123.4" x2="187" y2="129.7" stroke="#5cff20" stroke-width="1" opacity="0.72"/>
<line x1="205.4" y1="137.6" x2="205.4" y2="143.5" stroke="#5cff20" stroke-width="1" opacity="0.65"/>
<line x1="177.3" y1="130.3" x2="177.3" y2="140.3" stroke="#5cff20" stroke-width="1" opacity="0.55"/>
<line x1="59.9" y1="129.5" x2="59.9" y2="135.6" stroke="#5cff20" stroke-width="1" opacity="0.79"/>
<line x1="283.1" y1="126.1" x2="283.1" y2="134.1" stroke="#5cff20" stroke-width="1" opacity="0.81"/>
<line x1="355.1" y1="123.1" x2="355.1" y2="129.1" stroke="#5cff20" stroke-width="1" opacity="0.77"/>
<line x1="171.4" y1="130.1" x2="171.4" y2="133.3" stroke="#5cff20" stroke-width="1" opacity="0.72"/>
<line x1="92.7" y1="121.4" x2="92.7" y2="131.5" stroke="#5cff20" stroke-width="1" opacity="0.85"/>
<line x1="155.8" y1="126.2" x2="155.8" y2="131.7" stroke="#5cff20" stroke-width="1" opacity="0.58"/>
<line x1="297.4" y1="136.4" x2="297.4" y2="142.4" stroke="#5cff20" stroke-width="1" opacity="0.71"/>
<line x1="138.3" y1="128.6" x2="138.3" y2="132.1" stroke="#5cff20" stroke-width="1" opacity="0.70"/>
<line x1="307.8" y1="134.2" x2="307.8" y2="136.6" stroke="#5cff20" stroke-width="1" opacity="0.71"/>
<line x1="267.7" y1="125.5" x2="267.7" y2="131.3" stroke="#5cff20" stroke-width="1" opacity="0.66"/>
<line x1="36.3" y1="127" x2="36.3" y2="132.7" stroke="#5cff20" stroke-width="1" opacity="0.49"/>
<line x1="134.7" y1="128.9" x2="134.7" y2="134.3" stroke="#5cff20" stroke-width="1" opacity="0.40"/>
<line x1="83.7" y1="126" x2="83.7" y2="135.4" stroke="#5cff20" stroke-width="1" opacity="0.56"/>
<line x1="51.5" y1="126.2" x2="51.5" y2="134.5" stroke="#5cff20" stroke-width="1" opacity="0.68"/>
<line x1="131.5" y1="127.3" x2="131.5" y2="132" stroke="#5cff20" stroke-width="1" opacity="0.82"/>
<line x1="251.8" y1="123.9" x2="251.8" y2="127.4" stroke="#5cff20" stroke-width="1" opacity="0.39"/>
<line x1="201.7" y1="120.5" x2="201.7" y2="130.4" stroke="#5cff20" stroke-width="1" opacity="0.41"/>
<line x1="245.6" y1="118.5" x2="245.6" y2="127.1" stroke="#5cff20" stroke-width="1" opacity="0.90"/>
<line x1="101.6" y1="125.6" x2="101.6" y2="128.6" stroke="#5cff20" stroke-width="1" opacity="0.48"/>
<line x1="110.5" y1="123.1" x2="110.5" y2="129.4" stroke="#5cff20" stroke-width="1" opacity="0.53"/>
<line x1="180.1" y1="130.1" x2="180.1" y2="136" stroke="#5cff20" stroke-width="1" opacity="0.62"/>
<line x1="351.5" y1="135.6" x2="351.5" y2="140.3" stroke="#5cff20" stroke-width="1" opacity="0.46"/>
<line x1="160.8" y1="127" x2="160.8" y2="133.8" stroke="#5cff20" stroke-width="1" opacity="0.57"/>
<line x1="54.6" y1="127.6" x2="54.6" y2="132.5" stroke="#5cff20" stroke-width="1" opacity="0.89"/>
<line x1="105.2" y1="122.9" x2="105.2" y2="126.3" stroke="#5cff20" stroke-width="1" opacity="0.51"/>
<line x1="182.9" y1="127.6" x2="182.9" y2="135.3" stroke="#5cff20" stroke-width="1" opacity="0.49"/>
<line x1="177.4" y1="132.3" x2="177.4" y2="135.5" stroke="#5cff20" stroke-width="1" opacity="0.71"/>
<line x1="382.9" y1="116.7" x2="382.9" y2="122.6" stroke="#5cff20" stroke-width="1" opacity="0.86"/>
<line x1="163.1" y1="123.9" x2="163.1" y2="129.4" stroke="#5cff20" stroke-width="1" opacity="0.39"/>
<line x1="389.9" y1="124.4" x2="389.9" y2="129.3" stroke="#5cff20" stroke-width="1" opacity="0.59"/>
<line x1="110.6" y1="124.7" x2="110.6" y2="131.5" stroke="#5cff20" stroke-width="1" opacity="0.46"/>
<line x1="111.6" y1="127.9" x2="111.6" y2="131.6" stroke="#5cff20" stroke-width="1" opacity="0.43"/>
<line x1="363.3" y1="116.3" x2="363.3" y2="119.8" stroke="#5cff20" stroke-width="1" opacity="0.44"/>
<line x1="118.1" y1="121.6" x2="118.1" y2="130.4" stroke="#5cff20" stroke-width="1" opacity="0.64"/>
<line x1="95.1" y1="124.1" x2="95.1" y2="128.9" stroke="#5cff20" stroke-width="1" opacity="0.40"/>
<line x1="54.7" y1="126.6" x2="54.7" y2="131.7" stroke="#5cff20" stroke-width="1" opacity="0.59"/>
<line x1="193.9" y1="124.6" x2="193.9" y2="127.6" stroke="#5cff20" stroke-width="1" opacity="0.77"/>
<line x1="361.4" y1="111.4" x2="361.4" y2="120.3" stroke="#5cff20" stroke-width="1" opacity="0.52"/>
<line x1="132" y1="123.8" x2="132" y2="131.4" stroke="#5cff20" stroke-width="1" opacity="0.89"/>
<line x1="157.9" y1="128.2" x2="157.9" y2="132" stroke="#5cff20" stroke-width="1" opacity="0.73"/>
<line x1="109.7" y1="124.8" x2="109.7" y2="128.2" stroke="#5cff20" stroke-width="1" opacity="0.54"/>
<line x1="280.6" y1="127.8" x2="280.6" y2="132.1" stroke="#5cff20" stroke-width="1" opacity="0.39"/>
<line x1="218.2" y1="119.7" x2="218.2" y2="127.7" stroke="#5cff20" stroke-width="1" opacity="0.50"/>
<line x1="148.7" y1="127" x2="148.7" y2="132.8" stroke="#5cff20" stroke-width="1" opacity="0.61"/>
<line x1="321.6" y1="128.7" x2="321.6" y2="134.5" stroke="#5cff20" stroke-width="1" opacity="0.41"/>
<line x1="36.5" y1="124.6" x2="36.5" y2="127.6" stroke="#5cff20" stroke-width="1" opacity="0.44"/>
<line x1="166.3" y1="126.9" x2="166.3" y2="131.9" stroke="#5cff20" stroke-width="1" opacity="0.79"/>
<line x1="305.2" y1="132.7" x2="305.2" y2="137.6" stroke="#5cff20" stroke-width="1" opacity="0.44"/>
<line x1="182.3" y1="130.5" x2="182.3" y2="137.1" stroke="#5cff20" stroke-width="1" opacity="0.58"/>
<line x1="347.4" y1="129.9" x2="347.4" y2="133.9" stroke="#5cff20" stroke-width="1" opacity="0.55"/>
<line x1="282.5" y1="126.7" x2="282.5" y2="133.5" stroke="#5cff20" stroke-width="1" opacity="0.49"/>
<line x1="75.6" y1="130" x2="75.6" y2="133.1" stroke="#5cff20" stroke-width="1" opacity="0.65"/>
<line x1="156.6" y1="128.9" x2="156.6" y2="132.4" stroke="#5cff20" stroke-width="1" opacity="0.51"/>
<line x1="242.6" y1="119.4" x2="242.6" y2="130.4" stroke="#5cff20" stroke-width="1" opacity="0.64"/>
<line x1="125.1" y1="126.9" x2="125.1" y2="130.8" stroke="#5cff20" stroke-width="1" opacity="0.47"/>
<line x1="312.7" y1="131.3" x2="312.7" y2="134.8" stroke="#5cff20" stroke-width="1" opacity="0.90"/>
<line x1="193.7" y1="121.2" x2="193.7" y2="126.8" stroke="#5cff20" stroke-width="1" opacity="0.47"/>
<line x1="126.6" y1="124.6" x2="126.6" y2="133.1" stroke="#5cff20" stroke-width="1" opacity="0.80"/>
<line x1="63.2" y1="129.4" x2="63.2" y2="133.3" stroke="#5cff20" stroke-width="1" opacity="0.52"/>
<line x1="67.2" y1="129.3" x2="67.2" y2="135.6" stroke="#5cff20" stroke-width="1" opacity="0.52"/>
<line x1="382.5" y1="117.4" x2="382.5" y2="123.7" stroke="#5cff20" stroke-width="1" opacity="0.44"/>
<line x1="332.7" y1="127.5" x2="332.7" y2="135.5" stroke="#5cff20" stroke-width="1" opacity="0.73"/>
<line x1="299.6" y1="137.4" x2="299.6" y2="143.9" stroke="#5cff20" stroke-width="1" opacity="0.53"/>
<line x1="61.7" y1="130.6" x2="61.7" y2="136.9" stroke="#5cff20" stroke-width="1" opacity="0.38"/>
<line x1="172" y1="123.7" x2="172" y2="133.7" stroke="#5cff20" stroke-width="1" opacity="0.62"/>
<line x1="323.2" y1="129.8" x2="323.2" y2="135.4" stroke="#5cff20" stroke-width="1" opacity="0.52"/>
<line x1="55.6" y1="126.8" x2="55.6" y2="132.2" stroke="#5cff20" stroke-width="1" opacity="0.70"/>
<line x1="384.8" y1="117" x2="384.8" y2="123.6" stroke="#5cff20" stroke-width="1" opacity="0.71"/>
<line x1="271.3" y1="125.6" x2="271.3" y2="135.2" stroke="#5cff20" stroke-width="1" opacity="0.48"/>
<line x1="254.6" y1="121.4" x2="254.6" y2="128.6" stroke="#5cff20" stroke-width="1" opacity="0.86"/>
<line x1="366.9" y1="117.2" x2="366.9" y2="123.3" stroke="#5cff20" stroke-width="1" opacity="0.54"/>
<line x1="177" y1="133.1" x2="177" y2="141.2" stroke="#5cff20" stroke-width="1" opacity="0.79"/>
<line x1="282.7" y1="130.2" x2="282.7" y2="134.7" stroke="#5cff20" stroke-width="1" opacity="0.87"/>
<line x1="362.7" y1="114.1" x2="362.7" y2="118.8" stroke="#5cff20" stroke-width="1" opacity="0.43"/>
<line x1="238.9" y1="129.4" x2="238.9" y2="133.3" stroke="#5cff20" stroke-width="1" opacity="0.90"/>
<line x1="105.7" y1="123.8" x2="105.7" y2="131.5" stroke="#5cff20" stroke-width="1" opacity="0.48"/>
<line x1="116.5" y1="122.6" x2="116.5" y2="129.5" stroke="#5cff20" stroke-width="1" opacity="0.43"/>
<line x1="98.3" y1="122.2" x2="98.3" y2="128.7" stroke="#5cff20" stroke-width="1" opacity="0.88"/>
<line x1="150.8" y1="125.2" x2="150.8" y2="134.3" stroke="#5cff20" stroke-width="1" opacity="0.88"/>
<line x1="181.4" y1="134.5" x2="181.4" y2="137.2" stroke="#5cff20" stroke-width="1" opacity="0.49"/>
<line x1="246.3" y1="115.8" x2="246.3" y2="124.7" stroke="#5cff20" stroke-width="1" opacity="0.76"/>
<line x1="283.8" y1="127" x2="283.8" y2="130.6" stroke="#5cff20" stroke-width="1" opacity="0.58"/>
<line x1="227.3" y1="118.1" x2="227.3" y2="122.8" stroke="#5cff20" stroke-width="1" opacity="0.73"/>
<line x1="384.9" y1="118.8" x2="384.9" y2="125.4" stroke="#5cff20" stroke-width="1" opacity="0.62"/>
<line x1="293.3" y1="142.2" x2="293.3" y2="148.3" stroke="#5cff20" stroke-width="1" opacity="0.52"/>
<line x1="226.6" y1="118.8" x2="226.6" y2="122.6" stroke="#5cff20" stroke-width="1" opacity="0.87"/>
<line x1="215.5" y1="125.6" x2="215.5" y2="130.4" stroke="#5cff20" stroke-width="1" opacity="0.63"/>
<line x1="407.1" y1="117.9" x2="407.1" y2="122.8" stroke="#5cff20" stroke-width="1" opacity="0.70"/>
<line x1="125.9" y1="125.9" x2="125.9" y2="130.3" stroke="#5cff20" stroke-width="1" opacity="0.87"/>
<line x1="273.9" y1="123.5" x2="273.9" y2="129.8" stroke="#5cff20" stroke-width="1" opacity="0.85"/>
<line x1="156.6" y1="129.4" x2="156.6" y2="133.2" stroke="#5cff20" stroke-width="1" opacity="0.46"/>
<line x1="336.4" y1="127.8" x2="336.4" y2="130.8" stroke="#5cff20" stroke-width="1" opacity="0.72"/>
<line x1="373.6" y1="112.7" x2="373.6" y2="120.3" stroke="#5cff20" stroke-width="1" opacity="0.50"/>
<line x1="367.5" y1="112.6" x2="367.5" y2="119.7" stroke="#5cff20" stroke-width="1" opacity="0.57"/>
<line x1="289.5" y1="132.1" x2="289.5" y2="137.9" stroke="#5cff20" stroke-width="1" opacity="0.86"/>
<line x1="267.7" y1="125.9" x2="267.7" y2="130.4" stroke="#5cff20" stroke-width="1" opacity="0.84"/>
<line x1="52.3" y1="127" x2="52.3" y2="134.2" stroke="#5cff20" stroke-width="1" opacity="0.39"/>
<line x1="181.7" y1="132.3" x2="181.7" y2="140" stroke="#5cff20" stroke-width="1" opacity="0.82"/>
<line x1="81" y1="126.5" x2="81" y2="132.3" stroke="#5cff20" stroke-width="1" opacity="0.68"/>
<line x1="169.8" y1="124.7" x2="169.8" y2="136.2" stroke="#5cff20" stroke-width="1" opacity="0.40"/>
<line x1="260.2" y1="128.1" x2="260.2" y2="135" stroke="#5cff20" stroke-width="1" opacity="0.45"/>
<line x1="304.9" y1="131" x2="304.9" y2="136.6" stroke="#5cff20" stroke-width="1" opacity="0.81"/>
<line x1="329.8" y1="129" x2="329.8" y2="135.4" stroke="#5cff20" stroke-width="1" opacity="0.74"/>
<line x1="89.4" y1="123.5" x2="89.4" y2="131.8" stroke="#5cff20" stroke-width="1" opacity="0.51"/>
<line x1="115.3" y1="124.3" x2="115.3" y2="127" stroke="#5cff20" stroke-width="1" opacity="0.48"/>
<line x1="196.9" y1="115.6" x2="196.9" y2="120.7" stroke="#5cff20" stroke-width="1" opacity="0.72"/>
<line x1="353.3" y1="138.3" x2="353.3" y2="143.6" stroke="#5cff20" stroke-width="1" opacity="0.51"/>
<line x1="48.5" y1="126.4" x2="48.5" y2="135.8" stroke="#5cff20" stroke-width="1" opacity="0.51"/>
<line x1="276.9" y1="125" x2="276.9" y2="134.8" stroke="#5cff20" stroke-width="1" opacity="0.68"/>
<line x1="225.4" y1="115.2" x2="225.4" y2="121.9" stroke="#5cff20" stroke-width="1" opacity="0.55"/>
<line x1="247.7" y1="120.3" x2="247.7" y2="122.7" stroke="#5cff20" stroke-width="1" opacity="0.87"/>
<line x1="117.2" y1="123.5" x2="117.2" y2="129.4" stroke="#5cff20" stroke-width="1" opacity="0.63"/>
<line x1="399.5" y1="122.6" x2="399.5" y2="125.6" stroke="#5cff20" stroke-width="1" opacity="0.62"/>
<line x1="145.4" y1="123.5" x2="145.4" y2="133.4" stroke="#5cff20" stroke-width="1" opacity="0.48"/>
<line x1="243.1" y1="119" x2="243.1" y2="128.6" stroke="#5cff20" stroke-width="1" opacity="0.47"/>
<line x1="100.4" y1="122.4" x2="100.4" y2="128.7" stroke="#5cff20" stroke-width="1" opacity="0.87"/>
<line x1="137.8" y1="126.8" x2="137.8" y2="132.6" stroke="#5cff20" stroke-width="1" opacity="0.72"/>
<line x1="364" y1="116.4" x2="364" y2="119.4" stroke="#5cff20" stroke-width="1" opacity="0.71"/>
<line x1="129.7" y1="124" x2="129.7" y2="131.4" stroke="#5cff20" stroke-width="1" opacity="0.69"/>
<line x1="107" y1="122.7" x2="107" y2="126.9" stroke="#5cff20" stroke-width="1" opacity="0.77"/>
<line x1="64.4" y1="128.3" x2="64.4" y2="137.4" stroke="#5cff20" stroke-width="1" opacity="0.78"/>
<line x1="110.8" y1="121.8" x2="110.8" y2="129.2" stroke="#5cff20" stroke-width="1" opacity="0.78"/>
<line x1="44.5" y1="128.9" x2="44.5" y2="131.6" stroke="#5cff20" stroke-width="1" opacity="0.81"/>
<line x1="274.7" y1="122.2" x2="274.7" y2="129.6" stroke="#5cff20" stroke-width="1" opacity="0.70"/>
<line x1="246.3" y1="119" x2="246.3" y2="123.2" stroke="#5cff20" stroke-width="1" opacity="0.58"/>
<line x1="46.9" y1="128.1" x2="46.9" y2="135.2" stroke="#5cff20" stroke-width="1" opacity="0.82"/>
<line x1="171.4" y1="129.7" x2="171.4" y2="132.5" stroke="#5cff20" stroke-width="1" opacity="0.84"/>
<line x1="399.2" y1="121.5" x2="399.2" y2="128.3" stroke="#5cff20" stroke-width="1" opacity="0.56"/>
<line x1="167.6" y1="126.2" x2="167.6" y2="130.4" stroke="#5cff20" stroke-width="1" opacity="0.64"/>
<line x1="324.1" y1="125.2" x2="324.1" y2="132.7" stroke="#5cff20" stroke-width="1" opacity="0.59"/>
<line x1="87.5" y1="128.7" x2="87.5" y2="134.4" stroke="#5cff20" stroke-width="1" opacity="0.89"/>
<line x1="68" y1="131.5" x2="68" y2="138.2" stroke="#5cff20" stroke-width="1" opacity="0.85"/>
<line x1="355.4" y1="122.2" x2="355.4" y2="129.5" stroke="#5cff20" stroke-width="1" opacity="0.35"/>
<line x1="112.1" y1="124.9" x2="112.1" y2="129.5" stroke="#5cff20" stroke-width="1" opacity="0.83"/>
<line x1="387.5" y1="115.7" x2="387.5" y2="126.2" stroke="#5cff20" stroke-width="1" opacity="0.77"/>
<line x1="248.1" y1="117.8" x2="248.1" y2="124.6" stroke="#5cff20" stroke-width="1" opacity="0.71"/>
<line x1="356.6" y1="120.8" x2="356.6" y2="127.5" stroke="#5cff20" stroke-width="1" opacity="0.42"/>
<line x1="221.2" y1="117.2" x2="221.2" y2="123.5" stroke="#5cff20" stroke-width="1" opacity="0.84"/>
<line x1="37.8" y1="124.8" x2="37.8" y2="129.6" stroke="#5cff20" stroke-width="1" opacity="0.48"/>
<line x1="373.8" y1="118.3" x2="373.8" y2="121.4" stroke="#5cff20" stroke-width="1" opacity="0.57"/>
<line x1="386.1" y1="121" x2="386.1" y2="124.3" stroke="#5cff20" stroke-width="1" opacity="0.58"/>
<line x1="51.4" y1="128" x2="51.4" y2="134.8" stroke="#5cff20" stroke-width="1" opacity="0.77"/>
<line x1="364.2" y1="115.1" x2="364.2" y2="120.7" stroke="#5cff20" stroke-width="1" opacity="0.63"/>
<line x1="391.9" y1="125" x2="391.9" y2="129.7" stroke="#5cff20" stroke-width="1" opacity="0.37"/>
<line x1="277.2" y1="126.3" x2="277.2" y2="133.5" stroke="#5cff20" stroke-width="1" opacity="0.74"/>
<line x1="282.1" y1="128.4" x2="282.1" y2="135.2" stroke="#5cff20" stroke-width="1" opacity="0.66"/>
<line x1="113.6" y1="124.7" x2="113.6" y2="132.2" stroke="#5cff20" stroke-width="1" opacity="0.75"/>
<line x1="285.9" y1="130.3" x2="285.9" y2="137.4" stroke="#5cff20" stroke-width="1" opacity="0.64"/>
<line x1="288.1" y1="130.2" x2="288.1" y2="138" stroke="#5cff20" stroke-width="1" opacity="0.50"/>
<line x1="151" y1="128.7" x2="151" y2="133.4" stroke="#5cff20" stroke-width="1" opacity="0.53"/>
<line x1="107.4" y1="122.8" x2="107.4" y2="129.3" stroke="#5cff20" stroke-width="1" opacity="0.56"/>
<line x1="401.9" y1="120.1" x2="401.9" y2="127.2" stroke="#5cff20" stroke-width="1" opacity="0.77"/>
<line x1="315.7" y1="129.7" x2="315.7" y2="133.5" stroke="#5cff20" stroke-width="1" opacity="0.42"/>
<line x1="375" y1="128.1" x2="375" y2="134.6" stroke="#5cff20" stroke-width="1" opacity="0.51"/>
<line x1="131" y1="128.9" x2="131" y2="134.6" stroke="#5cff20" stroke-width="1" opacity="0.44"/>
<line x1="96.6" y1="124.1" x2="96.6" y2="132.8" stroke="#5cff20" stroke-width="1" opacity="0.69"/>
<line x1="316.2" y1="129.3" x2="316.2" y2="135.4" stroke="#5cff20" stroke-width="1" opacity="0.54"/>
<line x1="238.4" y1="128.1" x2="238.4" y2="132.3" stroke="#5cff20" stroke-width="1" opacity="0.77"/>
<line x1="124.8" y1="126.8" x2="124.8" y2="130.5" stroke="#5cff20" stroke-width="1" opacity="0.58"/>
<line x1="161.3" y1="129.4" x2="161.3" y2="132.1" stroke="#5cff20" stroke-width="1" opacity="0.47"/>
<line x1="55.9" y1="126" x2="55.9" y2="135.6" stroke="#5cff20" stroke-width="1" opacity="0.78"/>
<line x1="270.9" y1="124" x2="270.9" y2="130.6" stroke="#5cff20" stroke-width="1" opacity="0.84"/>
<line x1="301.7" y1="133.1" x2="301.7" y2="142.2" stroke="#5cff20" stroke-width="1" opacity="0.44"/>
<line x1="388.7" y1="122.2" x2="388.7" y2="126.1" stroke="#5cff20" stroke-width="1" opacity="0.88"/>
<line x1="70.1" y1="130.4" x2="70.1" y2="138" stroke="#5cff20" stroke-width="1" opacity="0.43"/>
<line x1="61.8" y1="129.1" x2="61.8" y2="131.4" stroke="#5cff20" stroke-width="1" opacity="0.75"/>
<line x1="235.3" y1="124.7" x2="235.3" y2="131.7" stroke="#5cff20" stroke-width="1" opacity="0.63"/>
<line x1="362.5" y1="114.3" x2="362.5" y2="123.9" stroke="#5cff20" stroke-width="1" opacity="0.49"/>
<line x1="182.9" y1="126.7" x2="182.9" y2="138.2" stroke="#5cff20" stroke-width="1" opacity="0.60"/>
<line x1="156" y1="127.4" x2="156" y2="131.9" stroke="#5cff20" stroke-width="1" opacity="0.41"/>
<line x1="113.7" y1="121.8" x2="113.7" y2="127.7" stroke="#5cff20" stroke-width="1" opacity="0.40"/>
<line x1="327.1" y1="129.1" x2="327.1" y2="134.4" stroke="#5cff20" stroke-width="1" opacity="0.38"/>
<line x1="215.1" y1="122.6" x2="215.1" y2="126.4" stroke="#5cff20" stroke-width="1" opacity="0.38"/>
<line x1="146.1" y1="126.7" x2="146.1" y2="132.8" stroke="#5cff20" stroke-width="1" opacity="0.55"/>
<line x1="237.7" y1="134" x2="237.7" y2="139.5" stroke="#5cff20" stroke-width="1" opacity="0.71"/>
<line x1="360.5" y1="117.4" x2="360.5" y2="125.4" stroke="#5cff20" stroke-width="1" opacity="0.86"/>
<line x1="47.2" y1="124.4" x2="47.2" y2="131.7" stroke="#5cff20" stroke-width="1" opacity="0.84"/>
<line x1="133.8" y1="125.6" x2="133.8" y2="127.9" stroke="#5cff20" stroke-width="1" opacity="0.55"/>
<line x1="110.4" y1="132.3" x2="110.4" y2="152" stroke="#38c818" stroke-width="1" opacity="0.15"/>
<line x1="182.6" y1="138.6" x2="182.6" y2="156.3" stroke="#38c818" stroke-width="1" opacity="0.23"/>
<line x1="279.7" y1="137.8" x2="279.7" y2="156" stroke="#38c818" stroke-width="1" opacity="0.13"/>
<line x1="86.4" y1="133.2" x2="86.4" y2="151.9" stroke="#38c818" stroke-width="1" opacity="0.17"/>
<line x1="125.4" y1="131.4" x2="125.4" y2="151.7" stroke="#38c818" stroke-width="1" opacity="0.23"/>
<line x1="93" y1="133.8" x2="93" y2="165.8" stroke="#38c818" stroke-width="1" opacity="0.33"/>
<line x1="135.3" y1="132.6" x2="135.3" y2="150.9" stroke="#38c818" stroke-width="1" opacity="0.13"/>
<line x1="173.7" y1="137.9" x2="173.7" y2="153.5" stroke="#38c818" stroke-width="1" opacity="0.14"/>
<line x1="162" y1="136" x2="162" y2="166.7" stroke="#38c818" stroke-width="1" opacity="0.30"/>
<line x1="70.8" y1="140.6" x2="70.8" y2="163.8" stroke="#38c818" stroke-width="1" opacity="0.14"/>
<line x1="110.1" y1="134.5" x2="110.1" y2="144.2" stroke="#38c818" stroke-width="1" opacity="0.28"/>
<line x1="161.4" y1="134.5" x2="161.4" y2="154.8" stroke="#38c818" stroke-width="1" opacity="0.26"/>
<line x1="250.2" y1="130" x2="250.2" y2="153.4" stroke="#38c818" stroke-width="1" opacity="0.28"/>
<line x1="44.5" y1="137.7" x2="44.5" y2="164.2" stroke="#38c818" stroke-width="1" opacity="0.27"/>
<line x1="72.8" y1="137.4" x2="72.8" y2="154.7" stroke="#38c818" stroke-width="1" opacity="0.32"/>
<line x1="121" y1="130.7" x2="121" y2="159.3" stroke="#38c818" stroke-width="1" opacity="0.27"/>
<line x1="207.8" y1="141.4" x2="207.8" y2="149.8" stroke="#38c818" stroke-width="1" opacity="0.23"/>
<line x1="227.1" y1="126.4" x2="227.1" y2="154.8" stroke="#38c818" stroke-width="1" opacity="0.19"/>
<line x1="293.5" y1="150.2" x2="293.5" y2="165.5" stroke="#38c818" stroke-width="1" opacity="0.19"/>
<line x1="88.6" y1="131.2" x2="88.6" y2="139.8" stroke="#38c818" stroke-width="1" opacity="0.16"/>
<line x1="131" y1="135.1" x2="131" y2="144.7" stroke="#38c818" stroke-width="1" opacity="0.21"/>
<line x1="261.3" y1="136.8" x2="261.3" y2="160.9" stroke="#38c818" stroke-width="1" opacity="0.17"/>
<line x1="275.2" y1="131.9" x2="275.2" y2="151.2" stroke="#38c818" stroke-width="1" opacity="0.19"/>
<line x1="243.1" y1="127.1" x2="243.1" y2="158.5" stroke="#38c818" stroke-width="1" opacity="0.29"/>
<line x1="44.4" y1="134.4" x2="44.4" y2="152.3" stroke="#38c818" stroke-width="1" opacity="0.28"/>
<line x1="186.1" y1="137.6" x2="186.1" y2="151.4" stroke="#38c818" stroke-width="1" opacity="0.31"/>
<line x1="76.9" y1="139.5" x2="76.9" y2="162" stroke="#38c818" stroke-width="1" opacity="0.23"/>
<line x1="180.6" y1="139.5" x2="180.6" y2="153.8" stroke="#38c818" stroke-width="1" opacity="0.25"/>
<line x1="108.3" y1="131.9" x2="108.3" y2="161.8" stroke="#38c818" stroke-width="1" opacity="0.35"/>
<line x1="71.7" y1="137.2" x2="71.7" y2="163.3" stroke="#38c818" stroke-width="1" opacity="0.16"/>
<line x1="147.6" y1="133.4" x2="147.6" y2="161.1" stroke="#38c818" stroke-width="1" opacity="0.30"/>
<line x1="102.8" y1="133" x2="102.8" y2="146.3" stroke="#38c818" stroke-width="1" opacity="0.15"/>
<line x1="232.5" y1="131.7" x2="232.5" y2="156.8" stroke="#38c818" stroke-width="1" opacity="0.14"/>
<line x1="151" y1="138.7" x2="151" y2="169.9" stroke="#38c818" stroke-width="1" opacity="0.33"/>
<line x1="54.6" y1="139.6" x2="54.6" y2="151.8" stroke="#38c818" stroke-width="1" opacity="0.15"/>
<line x1="55.4" y1="137.1" x2="55.4" y2="152.3" stroke="#38c818" stroke-width="1" opacity="0.27"/>
<line x1="222.3" y1="126.6" x2="222.3" y2="145.3" stroke="#38c818" stroke-width="1" opacity="0.23"/>
<line x1="176" y1="141.6" x2="176" y2="158.5" stroke="#38c818" stroke-width="1" opacity="0.24"/>
<line x1="183.4" y1="137.6" x2="183.4" y2="159.8" stroke="#38c818" stroke-width="1" opacity="0.18"/>
<line x1="136.8" y1="138.2" x2="136.8" y2="169.2" stroke="#38c818" stroke-width="1" opacity="0.27"/>
<line x1="144.8" y1="139.4" x2="144.8" y2="153.6" stroke="#38c818" stroke-width="1" opacity="0.31"/>
<line x1="221.1" y1="123.4" x2="221.1" y2="147.8" stroke="#38c818" stroke-width="1" opacity="0.17"/>
<line x1="122.6" y1="137.1" x2="122.6" y2="155.8" stroke="#38c818" stroke-width="1" opacity="0.20"/>
<line x1="236.8" y1="143.8" x2="236.8" y2="173.2" stroke="#38c818" stroke-width="1" opacity="0.23"/>
<line x1="121.6" y1="137.3" x2="121.6" y2="168.8" stroke="#38c818" stroke-width="1" opacity="0.14"/>
<line x1="292.3" y1="146.6" x2="292.3" y2="164.2" stroke="#38c818" stroke-width="1" opacity="0.15"/>
<line x1="233.3" y1="128.7" x2="233.3" y2="153.7" stroke="#38c818" stroke-width="1" opacity="0.21"/>
<line x1="166.5" y1="135.2" x2="166.5" y2="167.1" stroke="#38c818" stroke-width="1" opacity="0.27"/>
<line x1="268" y1="130.8" x2="268" y2="151" stroke="#38c818" stroke-width="1" opacity="0.32"/>
<line x1="198.6" y1="130.1" x2="198.6" y2="149.4" stroke="#38c818" stroke-width="1" opacity="0.22"/>
<line x1="123.7" y1="134.6" x2="123.7" y2="150.9" stroke="#38c818" stroke-width="1" opacity="0.29"/>
<line x1="119" y1="135.8" x2="119" y2="160.4" stroke="#38c818" stroke-width="1" opacity="0.28"/>
<line x1="242.2" y1="128.2" x2="242.2" y2="139" stroke="#38c818" stroke-width="1" opacity="0.26"/>
<line x1="113.1" y1="133" x2="113.1" y2="145.9" stroke="#38c818" stroke-width="1" opacity="0.18"/>
<line x1="192.3" y1="132.7" x2="192.3" y2="149.6" stroke="#38c818" stroke-width="1" opacity="0.32"/>
<line x1="207.3" y1="135.3" x2="207.3" y2="144.8" stroke="#38c818" stroke-width="1" opacity="0.22"/>
<line x1="211.8" y1="145.6" x2="211.8" y2="154.7" stroke="#38c818" stroke-width="1" opacity="0.33"/>
<line x1="193.2" y1="129.6" x2="193.2" y2="151" stroke="#38c818" stroke-width="1" opacity="0.13"/>
<line x1="246.8" y1="130.2" x2="246.8" y2="140.2" stroke="#38c818" stroke-width="1" opacity="0.18"/>
<line x1="81.8" y1="133.8" x2="81.8" y2="163.4" stroke="#38c818" stroke-width="1" opacity="0.30"/>
<line x1="98.4" y1="129.2" x2="98.4" y2="139.1" stroke="#38c818" stroke-width="1" opacity="0.14"/>
<line x1="88.4" y1="134.1" x2="88.4" y2="143.9" stroke="#38c818" stroke-width="1" opacity="0.20"/>
<line x1="113" y1="134.4" x2="113" y2="163.4" stroke="#38c818" stroke-width="1" opacity="0.20"/>
<line x1="280.8" y1="133.9" x2="280.8" y2="148.3" stroke="#38c818" stroke-width="1" opacity="0.13"/>
<line x1="49.8" y1="140.6" x2="49.8" y2="151.8" stroke="#38c818" stroke-width="1" opacity="0.32"/>
<line x1="122.8" y1="134.2" x2="122.8" y2="145.6" stroke="#38c818" stroke-width="1" opacity="0.26"/>
<line x1="297.2" y1="149" x2="297.2" y2="175" stroke="#38c818" stroke-width="1" opacity="0.31"/>
<line x1="147.6" y1="134.9" x2="147.6" y2="143.3" stroke="#38c818" stroke-width="1" opacity="0.19"/>
<line x1="55" y1="137.7" x2="55" y2="147.3" stroke="#38c818" stroke-width="1" opacity="0.16"/>
<line x1="245.6" y1="127.8" x2="245.6" y2="147" stroke="#38c818" stroke-width="1" opacity="0.31"/>
<line x1="200.3" y1="133.1" x2="200.3" y2="152.4" stroke="#38c818" stroke-width="1" opacity="0.22"/>
<line x1="39.5" y1="139.1" x2="39.5" y2="152.3" stroke="#38c818" stroke-width="1" opacity="0.31"/>
<line x1="156.7" y1="138.1" x2="156.7" y2="158.1" stroke="#38c818" stroke-width="1" opacity="0.24"/>
<line x1="123.6" y1="131.2" x2="123.6" y2="144.7" stroke="#38c818" stroke-width="1" opacity="0.13"/>
<line x1="171.4" y1="134" x2="171.4" y2="159.2" stroke="#38c818" stroke-width="1" opacity="0.22"/>
<line x1="86.8" y1="132.5" x2="86.8" y2="164.2" stroke="#38c818" stroke-width="1" opacity="0.35"/>
<line x1="273.2" y1="131.1" x2="273.2" y2="140.6" stroke="#38c818" stroke-width="1" opacity="0.23"/>
<line x1="125.5" y1="136" x2="125.5" y2="160.3" stroke="#38c818" stroke-width="1" opacity="0.28"/>
<line x1="248.5" y1="126.6" x2="248.5" y2="147.2" stroke="#38c818" stroke-width="1" opacity="0.19"/>
<line x1="240.5" y1="128.1" x2="240.5" y2="143.1" stroke="#38c818" stroke-width="1" opacity="0.19"/>
<line x1="98.4" y1="130.2" x2="98.4" y2="153.3" stroke="#38c818" stroke-width="1" opacity="0.18"/>
<line x1="44" y1="135.3" x2="44" y2="162.2" stroke="#38c818" stroke-width="1" opacity="0.29"/>
<line x1="265.7" y1="134.8" x2="265.7" y2="154.2" stroke="#38c818" stroke-width="1" opacity="0.19"/>
<line x1="55.8" y1="139.1" x2="55.8" y2="162.1" stroke="#38c818" stroke-width="1" opacity="0.22"/>
<line x1="53.6" y1="139.9" x2="53.6" y2="160.2" stroke="#38c818" stroke-width="1" opacity="0.22"/>
<line x1="261" y1="138.7" x2="261" y2="156.7" stroke="#38c818" stroke-width="1" opacity="0.28"/>
<line x1="177.2" y1="143.6" x2="177.2" y2="169" stroke="#38c818" stroke-width="1" opacity="0.19"/>
<line x1="49.5" y1="139.1" x2="49.5" y2="149.2" stroke="#38c818" stroke-width="1" opacity="0.33"/>
<line x1="71.1" y1="141" x2="71.1" y2="171.6" stroke="#38c818" stroke-width="1" opacity="0.25"/>
<line x1="52.7" y1="138.9" x2="52.7" y2="147.8" stroke="#38c818" stroke-width="1" opacity="0.27"/>
<line x1="261" y1="136.7" x2="261" y2="152.9" stroke="#38c818" stroke-width="1" opacity="0.24"/>
<line x1="74.2" y1="139.3" x2="74.2" y2="164.5" stroke="#38c818" stroke-width="1" opacity="0.29"/>
<line x1="44.4" y1="139.5" x2="44.4" y2="163.6" stroke="#38c818" stroke-width="1" opacity="0.24"/>
<line x1="220.8" y1="125.4" x2="220.8" y2="153" stroke="#38c818" stroke-width="1" opacity="0.26"/>
<line x1="143.3" y1="134.3" x2="143.3" y2="151.6" stroke="#38c818" stroke-width="1" opacity="0.31"/>
<line x1="222.9" y1="125.2" x2="222.9" y2="154.6" stroke="#38c818" stroke-width="1" opacity="0.23"/>
<line x1="181.7" y1="136.6" x2="181.7" y2="167.2" stroke="#38c818" stroke-width="1" opacity="0.34"/>
<line x1="226.1" y1="125.8" x2="226.1" y2="139.3" stroke="#38c818" stroke-width="1" opacity="0.16"/>
<line x1="250.1" y1="128.9" x2="250.1" y2="146.3" stroke="#38c818" stroke-width="1" opacity="0.17"/>
<line x1="243.9" y1="130.3" x2="243.9" y2="160.2" stroke="#38c818" stroke-width="1" opacity="0.23"/>
<line x1="265" y1="133.6" x2="265" y2="160.8" stroke="#38c818" stroke-width="1" opacity="0.13"/>
<line x1="171.4" y1="138.2" x2="171.4" y2="162.9" stroke="#38c818" stroke-width="1" opacity="0.34"/>
<line x1="198.5" y1="127.6" x2="198.5" y2="153.2" stroke="#38c818" stroke-width="1" opacity="0.32"/>
<line x1="216.2" y1="130.4" x2="216.2" y2="139.7" stroke="#38c818" stroke-width="1" opacity="0.12"/>
<line x1="97.2" y1="131.4" x2="97.2" y2="158.3" stroke="#38c818" stroke-width="1" opacity="0.18"/>
<line x1="46.4" y1="133.6" x2="46.4" y2="165.6" stroke="#38c818" stroke-width="1" opacity="0.17"/>
<line x1="119.9" y1="136.4" x2="119.9" y2="167.2" stroke="#38c818" stroke-width="1" opacity="0.19"/>
<line x1="199.1" y1="128.9" x2="199.1" y2="143.7" stroke="#38c818" stroke-width="1" opacity="0.34"/>
<line x1="39.3" y1="137.2" x2="39.3" y2="163.4" stroke="#38c818" stroke-width="1" opacity="0.30"/>
<line x1="185.7" y1="139" x2="185.7" y2="166.6" stroke="#38c818" stroke-width="1" opacity="0.27"/>
<line x1="49.8" y1="140" x2="49.8" y2="152.1" stroke="#38c818" stroke-width="1" opacity="0.15"/>
<line x1="117" y1="133.3" x2="117" y2="149.1" stroke="#38c818" stroke-width="1" opacity="0.22"/>
<line x1="117.1" y1="131.5" x2="117.1" y2="156.6" stroke="#38c818" stroke-width="1" opacity="0.27"/>
<line x1="50.5" y1="140.1" x2="50.5" y2="152.3" stroke="#38c818" stroke-width="1" opacity="0.19"/>
<line x1="240.4" y1="131.9" x2="240.4" y2="162.8" stroke="#38c818" stroke-width="1" opacity="0.32"/>
<line x1="179.2" y1="144.3" x2="179.2" y2="171.4" stroke="#38c818" stroke-width="1" opacity="0.31"/>
<line x1="294.5" y1="151.4" x2="294.5" y2="170.7" stroke="#38c818" stroke-width="1" opacity="0.23"/>
<line x1="233.7" y1="132.7" x2="233.7" y2="158.2" stroke="#38c818" stroke-width="1" opacity="0.20"/>
<line x1="52.9" y1="135" x2="52.9" y2="164.3" stroke="#38c818" stroke-width="1" opacity="0.33"/>
<line x1="42.8" y1="135.5" x2="42.8" y2="158.3" stroke="#38c818" stroke-width="1" opacity="0.23"/>
<line x1="49.9" y1="139.8" x2="49.9" y2="163.2" stroke="#38c818" stroke-width="1" opacity="0.19"/>
<line x1="161.8" y1="135.4" x2="161.8" y2="158.7" stroke="#38c818" stroke-width="1" opacity="0.32"/>
<line x1="188.3" y1="132.7" x2="188.3" y2="149" stroke="#38c818" stroke-width="1" opacity="0.31"/>
<line x1="231.1" y1="126.3" x2="231.1" y2="156.3" stroke="#38c818" stroke-width="1" opacity="0.26"/>
<line x1="299.4" y1="148.5" x2="299.4" y2="158.1" stroke="#38c818" stroke-width="1" opacity="0.22"/>
<line x1="39.1" y1="139.2" x2="39.1" y2="152.6" stroke="#38c818" stroke-width="1" opacity="0.17"/>
<line x1="179.3" y1="144.4" x2="179.3" y2="168.2" stroke="#38c818" stroke-width="1" opacity="0.32"/>
<line x1="208.9" y1="145" x2="208.9" y2="164" stroke="#38c818" stroke-width="1" opacity="0.25"/>
<line x1="42.2" y1="133.8" x2="42.2" y2="165.8" stroke="#38c818" stroke-width="1" opacity="0.16"/>
<line x1="112.8" y1="132.7" x2="112.8" y2="158.6" stroke="#38c818" stroke-width="1" opacity="0.14"/>
<line x1="245.6" y1="128.8" x2="245.6" y2="138.2" stroke="#38c818" stroke-width="1" opacity="0.20"/>
<line x1="284.7" y1="139.9" x2="284.7" y2="151.7" stroke="#38c818" stroke-width="1" opacity="0.27"/>
<line x1="56.3" y1="137.5" x2="56.3" y2="153.3" stroke="#38c818" stroke-width="1" opacity="0.35"/>
<line x1="172.1" y1="139.4" x2="172.1" y2="159.2" stroke="#38c818" stroke-width="1" opacity="0.29"/>
<line x1="38.9" y1="138.6" x2="38.9" y2="161.1" stroke="#38c818" stroke-width="1" opacity="0.21"/>
<line x1="255.6" y1="135" x2="255.6" y2="146.9" stroke="#38c818" stroke-width="1" opacity="0.12"/>
<line x1="207.4" y1="140.9" x2="207.4" y2="151.6" stroke="#38c818" stroke-width="1" opacity="0.25"/>
<line x1="50.1" y1="134.2" x2="50.1" y2="154.3" stroke="#38c818" stroke-width="1" opacity="0.33"/>
<line x1="260.7" y1="137.8" x2="260.7" y2="162.9" stroke="#38c818" stroke-width="1" opacity="0.17"/>
<line x1="158.1" y1="133.9" x2="158.1" y2="147" stroke="#38c818" stroke-width="1" opacity="0.16"/>
<line x1="151.7" y1="133.2" x2="151.7" y2="144.4" stroke="#38c818" stroke-width="1" opacity="0.28"/>
<line x1="195.5" y1="126.7" x2="195.5" y2="139.9" stroke="#38c818" stroke-width="1" opacity="0.26"/>
<line x1="50.3" y1="139.3" x2="50.3" y2="166.5" stroke="#38c818" stroke-width="1" opacity="0.33"/>
<line x1="79.7" y1="138.6" x2="79.7" y2="159.5" stroke="#38c818" stroke-width="1" opacity="0.17"/>
<line x1="253" y1="127.2" x2="253" y2="139.4" stroke="#38c818" stroke-width="1" opacity="0.32"/>
<line x1="293.7" y1="149.6" x2="293.7" y2="160.2" stroke="#38c818" stroke-width="1" opacity="0.23"/>
<line x1="192.9" y1="128.5" x2="192.9" y2="156.5" stroke="#38c818" stroke-width="1" opacity="0.22"/>
<line x1="170.9" y1="135.9" x2="170.9" y2="144" stroke="#38c818" stroke-width="1" opacity="0.32"/>
<line x1="265.3" y1="136.3" x2="265.3" y2="157.7" stroke="#38c818" stroke-width="1" opacity="0.22"/>
<line x1="120.5" y1="131.5" x2="120.5" y2="144.7" stroke="#38c818" stroke-width="1" opacity="0.24"/>
<line x1="143.8" y1="137.7" x2="143.8" y2="169.6" stroke="#38c818" stroke-width="1" opacity="0.17"/>
<line x1="265.5" y1="132.5" x2="265.5" y2="151" stroke="#38c818" stroke-width="1" opacity="0.19"/>
<line x1="203.6" y1="147.2" x2="203.6" y2="158.6" stroke="#38c818" stroke-width="1" opacity="0.26"/>
<line x1="68.9" y1="137.1" x2="68.9" y2="155.1" stroke="#38c818" stroke-width="1" opacity="0.31"/>
<line x1="238.9" y1="136.1" x2="238.9" y2="155.5" stroke="#38c818" stroke-width="1" opacity="0.18"/>
<line x1="172.9" y1="136.8" x2="172.9" y2="157" stroke="#38c818" stroke-width="1" opacity="0.24"/>
<line x1="97.5" y1="131.5" x2="97.5" y2="148.7" stroke="#38c818" stroke-width="1" opacity="0.14"/>
<line x1="62.5" y1="140.1" x2="62.5" y2="156.2" stroke="#38c818" stroke-width="1" opacity="0.28"/>
<line x1="257.8" y1="140" x2="257.8" y2="159.2" stroke="#38c818" stroke-width="1" opacity="0.31"/>
<line x1="180.6" y1="137.1" x2="180.6" y2="163.9" stroke="#38c818" stroke-width="1" opacity="0.23"/>
<line x1="170.4" y1="137.5" x2="170.4" y2="161.8" stroke="#38c818" stroke-width="1" opacity="0.34"/>
<line x1="199.6" y1="127.7" x2="199.6" y2="151.4" stroke="#38c818" stroke-width="1" opacity="0.29"/>
<line x1="37" y1="137" x2="37" y2="160.1" stroke="#38c818" stroke-width="1" opacity="0.28"/>
<line x1="141.3" y1="134.8" x2="141.3" y2="156.5" stroke="#38c818" stroke-width="1" opacity="0.17"/>
<line x1="247.5" y1="125.2" x2="247.5" y2="146.5" stroke="#38c818" stroke-width="1" opacity="0.27"/>
<line x1="111.4" y1="130" x2="111.4" y2="159.7" stroke="#38c818" stroke-width="1" opacity="0.34"/>
<line x1="198.7" y1="131.4" x2="198.7" y2="150" stroke="#38c818" stroke-width="1" opacity="0.18"/>
<line x1="173.7" y1="134.4" x2="173.7" y2="155.6" stroke="#38c818" stroke-width="1" opacity="0.30"/>
<line x1="121.8" y1="137.1" x2="121.8" y2="147.9" stroke="#38c818" stroke-width="1" opacity="0.18"/>
<line x1="197" y1="128" x2="197" y2="156.6" stroke="#38c818" stroke-width="1" opacity="0.12"/>
<line x1="87.2" y1="118.4" x2="87.2" y2="128.9" stroke="#90ff30" stroke-width="1.1" opacity="0.61"/>
<line x1="36.8" y1="135.7" x2="36.8" y2="142" stroke="#90ff30" stroke-width="1.1" opacity="0.55"/>
<line x1="96.1" y1="124.9" x2="96.1" y2="129.5" stroke="#90ff30" stroke-width="1.1" opacity="0.40"/>
<line x1="83.2" y1="120" x2="83.2" y2="126.4" stroke="#90ff30" stroke-width="1.1" opacity="0.41"/>
<line x1="63.9" y1="119.6" x2="63.9" y2="131.3" stroke="#90ff30" stroke-width="1.1" opacity="0.75"/>
<line x1="42.9" y1="120" x2="42.9" y2="128.4" stroke="#90ff30" stroke-width="1.1" opacity="0.79"/>
<line x1="85.5" y1="120.1" x2="85.5" y2="130.8" stroke="#90ff30" stroke-width="1.1" opacity="0.32"/>
<line x1="67.8" y1="132.3" x2="67.8" y2="139.7" stroke="#90ff30" stroke-width="1.1" opacity="0.61"/>
<line x1="81.4" y1="120.8" x2="81.4" y2="125.8" stroke="#90ff30" stroke-width="1.1" opacity="0.45"/>
<line x1="41.4" y1="120.4" x2="41.4" y2="124.7" stroke="#90ff30" stroke-width="1.1" opacity="0.46"/>
<line x1="80.4" y1="120.5" x2="80.4" y2="128.2" stroke="#90ff30" stroke-width="1.1" opacity="0.35"/>
<line x1="48.6" y1="124.5" x2="48.6" y2="136" stroke="#90ff30" stroke-width="1.1" opacity="0.40"/>
<line x1="43.7" y1="135" x2="43.7" y2="141.6" stroke="#90ff30" stroke-width="1.1" opacity="0.50"/>
<line x1="64.6" y1="127.1" x2="64.6" y2="131.3" stroke="#90ff30" stroke-width="1.1" opacity="0.64"/>
<line x1="93.6" y1="120.5" x2="93.6" y2="131.6" stroke="#90ff30" stroke-width="1.1" opacity="0.70"/>
<line x1="76.1" y1="130.8" x2="76.1" y2="138.3" stroke="#90ff30" stroke-width="1.1" opacity="0.61"/>
<line x1="93.9" y1="133.4" x2="93.9" y2="141.8" stroke="#90ff30" stroke-width="1.1" opacity="0.74"/>
<line x1="36.9" y1="126.2" x2="36.9" y2="130.4" stroke="#90ff30" stroke-width="1.1" opacity="0.62"/>
<line x1="78.3" y1="127.7" x2="78.3" y2="132.9" stroke="#90ff30" stroke-width="1.1" opacity="0.32"/>
<line x1="86.3" y1="127.8" x2="86.3" y2="135.8" stroke="#90ff30" stroke-width="1.1" opacity="0.64"/>
<line x1="46" y1="130.6" x2="46" y2="138.6" stroke="#90ff30" stroke-width="1.1" opacity="0.76"/>
<line x1="80.9" y1="136.7" x2="80.9" y2="147.5" stroke="#90ff30" stroke-width="1.1" opacity="0.48"/>
<line x1="81.2" y1="121" x2="81.2" y2="128" stroke="#90ff30" stroke-width="1.1" opacity="0.63"/>
<line x1="57.4" y1="127.1" x2="57.4" y2="135.7" stroke="#90ff30" stroke-width="1.1" opacity="0.79"/>
<line x1="46.3" y1="135.8" x2="46.3" y2="141.3" stroke="#90ff30" stroke-width="1.1" opacity="0.80"/>
<line x1="49.5" y1="130.9" x2="49.5" y2="139.9" stroke="#90ff30" stroke-width="1.1" opacity="0.30"/>
<line x1="73.1" y1="123.9" x2="73.1" y2="133" stroke="#90ff30" stroke-width="1.1" opacity="0.58"/>
<line x1="87.3" y1="124.1" x2="87.3" y2="132.7" stroke="#90ff30" stroke-width="1.1" opacity="0.57"/>
<line x1="96.9" y1="135" x2="96.9" y2="146.9" stroke="#90ff30" stroke-width="1.1" opacity="0.55"/>
<line x1="89" y1="118" x2="89" y2="125.4" stroke="#90ff30" stroke-width="1.1" opacity="0.34"/>
</g>
</g>
</g>
<line x1="35" y1="83" x2="409" y2="83" stroke="#fff" stroke-width="3" stroke-dasharray="6.2 5.74"/>
<line x1="35" y1="177.5" x2="409" y2="177.5" stroke="#fff" stroke-width="3" stroke-dasharray="6.2 5.74"/>
<path d="M133 106.5 V100.3 H325.2 V106.3" stroke="#e9a23b" stroke-width="1.3" fill="none"/>
<path d="M296 151.3 V157.4 H407.6 V151" stroke="#e9a23b" stroke-width="1.3" fill="none"/>
<line x1="403.7" y1="88.7" x2="403.7" y2="106.4" stroke="#fff" stroke-width="1.5"/>
<text transform="translate(399.3,107.3) rotate(-90)" font-size="10.1" fill="#fff">1µm</text>
<line x1="34.6" y1="76" x2="34.6" y2="184" stroke="#111" stroke-width="1"/>
<line x1="408.8" y1="76" x2="408.8" y2="184" stroke="#111" stroke-width="1"/>
<line x1="33.4" y1="89" x2="35" y2="89" stroke="#111" stroke-width="0.9"/>
<line x1="33.4" y1="125" x2="35" y2="125" stroke="#111" stroke-width="0.9"/>
<line x1="33.4" y1="162" x2="35" y2="162" stroke="#111" stroke-width="0.9"/>
<line x1="35.2" y1="184" x2="35.2" y2="187" stroke="#111" stroke-width="1.2"/>
<text x="35.2" y="200.6" font-size="12" text-anchor="middle" font-weight="normal" fill="#111" >0</text>
<line x1="102.2" y1="184" x2="102.2" y2="187" stroke="#111" stroke-width="1.2"/>
<text x="102.2" y="200.6" font-size="12" text-anchor="middle" font-weight="normal" fill="#111" >50</text>
<line x1="169.3" y1="184" x2="169.3" y2="187" stroke="#111" stroke-width="1.2"/>
<text x="169.3" y="200.6" font-size="12" text-anchor="middle" font-weight="normal" fill="#111" >100</text>
<line x1="236.3" y1="184" x2="236.3" y2="187" stroke="#111" stroke-width="1.2"/>
<text x="236.3" y="200.6" font-size="12" text-anchor="middle" font-weight="normal" fill="#111" >150</text>
<line x1="303.4" y1="184" x2="303.4" y2="187" stroke="#111" stroke-width="1.2"/>
<text x="303.4" y="200.6" font-size="12" text-anchor="middle" font-weight="normal" fill="#111" >200</text>
<line x1="370.4" y1="184" x2="370.4" y2="187" stroke="#111" stroke-width="1.2"/>
<text x="370.4" y="200.6" font-size="12" text-anchor="middle" font-weight="normal" fill="#111" >250</text>
<rect x="318" y="182.6" width="4" height="1.6" fill="#fff"/>
<text x="226.7" y="226.2" font-size="13.6" text-anchor="middle" font-weight="normal" fill="#111" >Time (s)</text>
<text transform="translate(2.8,118.3) scale(0.82,1)" font-size="18.9" text-anchor="start" font-weight="bold" fill="#f08a24">3’</text>
<text transform="translate(2.8,151.8) scale(0.82,1)" font-size="18.9" text-anchor="start" font-weight="bold" fill="#1c75bc">5’</text>
<path d="M19.2 106.4 L30.6 112.7 L19.2 119 Z" fill="#1a1a1a"/>
<path d="M19.2 139.6 L30.6 146 L19.2 152.4 Z" fill="#1a1a1a"/>
<text x="236.8" y="25.4" font-size="14.8" text-anchor="middle" fill="#111"><tspan fill="#0aa653">A555</tspan>-Smc5/6 (3 nM)</text>
<text x="239" y="42.7" font-size="14.8" text-anchor="middle" font-weight="normal" fill="#111" >No RPA</text>
<text x="235" y="60.1" font-size="14.8" text-anchor="middle" font-weight="normal" fill="#111" >+ATP</text>
<!-- panel c -->
<g clip-path="url(#clipC)" style="isolation:isolate">
<g filter="url(#noiseCg)">
<rect x="31" y="299" width="376.5" height="101.69999999999999" fill="#003000"/>
<rect x="31" y="299" width="46" height="101.69999999999999" fill="url(#leftC)"/>
<rect x="31" y="366" width="140" height="25" fill="url(#hazeC)"/>
<rect x="31" y="306" width="120" height="24" fill="url(#hazeC)" opacity="0.7"/>
<g filter="url(#blur15)">
<rect x="25" y="327" width="390" height="6.2" fill="#00a800"/>
<rect x="25" y="365.4" width="390" height="5.4" fill="#008c00"/>
<rect x="25" y="334" width="390" height="31" fill="#001200"/>
<rect x="25" y="348.6" width="390" height="5.2" fill="#00ee00"/>
<rect x="25" y="330" width="52" height="37" fill="url(#gLeftBand)"/>
<rect x="25" y="356" width="66" height="10" fill="url(#gLeftBand2)"/>
<ellipse cx="152" cy="359.5" rx="5.5" ry="4.8" fill="#00f000"/>
<rect x="153.4" y="335.5" width="2.2" height="10" fill="#00e600"/>
</g>
<g filter="url(#blur07)" stroke="#00e000" fill="none" stroke-width="1.6" stroke-linejoin="round">
<path d="M119 307 L123 316 L126 326 L128 314 L132 307" />
<path d="M154 307 L158 320 L161 309 L163 307 Z" fill="#00e000"/>
<path d="M111 388 L114 379 L120 375 L128 377 L134 373 L140 384 L144 373 L150 380 L155 369 L160 386" opacity="0.6" stroke-width="1.4"/>
<path d="M239 373 L244 386 L249 379 L253 388 L257 373" stroke-width="1.2" opacity="0.45"/>
<line x1="47" y1="386.5" x2="47" y2="396.4" stroke-width="1.1" opacity="0.47"/>
<line x1="36.7" y1="380.6" x2="35.9" y2="387.6" stroke-width="1.1" opacity="0.73"/>
<line x1="33.9" y1="381.9" x2="34.8" y2="395.5" stroke-width="1.1" opacity="0.41"/>
<line x1="56.2" y1="371.1" x2="56.2" y2="375.7" stroke-width="1.1" opacity="0.24"/>
<line x1="36.9" y1="307.6" x2="36.7" y2="320" stroke-width="1.1" opacity="0.58"/>
<line x1="49.9" y1="378" x2="49.8" y2="384.8" stroke-width="1.1" opacity="0.51"/>
<line x1="73.9" y1="384.8" x2="73.5" y2="391.1" stroke-width="1.1" opacity="0.23"/>
<line x1="40.4" y1="321.6" x2="41.1" y2="329.4" stroke-width="1.1" opacity="0.52"/>
<line x1="71.7" y1="368" x2="72.5" y2="376.7" stroke-width="1.1" opacity="0.17"/>
<line x1="72.9" y1="308.4" x2="73.5" y2="315.1" stroke-width="1.1" opacity="0.23"/>
<line x1="33.8" y1="325.3" x2="33" y2="331.8" stroke-width="1.1" opacity="0.76"/>
<line x1="34.1" y1="322.1" x2="34.3" y2="330.6" stroke-width="1.1" opacity="0.47"/>
<line x1="36.9" y1="370.6" x2="36.1" y2="378.8" stroke-width="1.1" opacity="0.66"/>
<line x1="37.6" y1="325.4" x2="37.2" y2="338.3" stroke-width="1.1" opacity="0.73"/>
<line x1="37.5" y1="323.2" x2="36.7" y2="337.1" stroke-width="1.1" opacity="0.65"/>
<line x1="37.6" y1="321.7" x2="37.2" y2="326.4" stroke-width="1.1" opacity="0.51"/>
<line x1="33.8" y1="372.9" x2="33.6" y2="381.4" stroke-width="1.1" opacity="0.68"/>
<line x1="71.8" y1="317.9" x2="71.1" y2="323.5" stroke-width="1.1" opacity="0.28"/>
<line x1="69.1" y1="373" x2="69.5" y2="386.4" stroke-width="1.1" opacity="0.19"/>
<line x1="37.1" y1="385.6" x2="36.9" y2="390.7" stroke-width="1.1" opacity="0.64"/>
<line x1="32.6" y1="372.8" x2="32.1" y2="385" stroke-width="1.1" opacity="0.74"/>
<line x1="53.5" y1="310.3" x2="52.6" y2="316.6" stroke-width="1.1" opacity="0.49"/>
<line x1="51.7" y1="380.3" x2="52.6" y2="386.3" stroke-width="1.1" opacity="0.36"/>
<line x1="32.2" y1="315.5" x2="31.6" y2="323.2" stroke-width="1.1" opacity="0.43"/>
<line x1="52.3" y1="313.9" x2="53.3" y2="324.5" stroke-width="1.1" opacity="0.56"/>
<line x1="58" y1="370.8" x2="57" y2="383.9" stroke-width="1.1" opacity="0.24"/>
<line x1="58.5" y1="368.4" x2="58.4" y2="379.7" stroke-width="1.1" opacity="0.40"/>
<line x1="41.5" y1="369.5" x2="42" y2="382.5" stroke-width="1.1" opacity="0.57"/>
<line x1="60.3" y1="383.9" x2="60" y2="394.7" stroke-width="1.1" opacity="0.45"/>
<line x1="68.7" y1="376.3" x2="69.4" y2="386.1" stroke-width="1.1" opacity="0.31"/>
<line x1="54.8" y1="318.1" x2="54" y2="328.5" stroke-width="1.1" opacity="0.44"/>
<line x1="73.6" y1="382.6" x2="74.1" y2="392.4" stroke-width="1.1" opacity="0.18"/>
<line x1="46.5" y1="369.7" x2="45.5" y2="379.7" stroke-width="1.1" opacity="0.59"/>
<line x1="48.2" y1="320.3" x2="48.4" y2="333.5" stroke-width="1.1" opacity="0.47"/>
<line x1="39.1" y1="312.7" x2="38.5" y2="318.4" stroke-width="1.1" opacity="0.65"/>
<line x1="68.9" y1="376.8" x2="68.6" y2="387.5" stroke-width="1.1" opacity="0.33"/>
<line x1="37.1" y1="322.3" x2="37.9" y2="330.2" stroke-width="1.1" opacity="0.78"/>
<line x1="52.8" y1="309.6" x2="53.5" y2="322.1" stroke-width="1.1" opacity="0.42"/>
<line x1="59" y1="373.5" x2="58.9" y2="380.3" stroke-width="1.1" opacity="0.27"/>
<line x1="37.7" y1="318.9" x2="37.3" y2="331.3" stroke-width="1.1" opacity="0.59"/>
<line x1="73" y1="308.4" x2="73.8" y2="312.8" stroke-width="1.1" opacity="0.13"/>
<line x1="58.8" y1="374.2" x2="57.9" y2="379.5" stroke-width="1.1" opacity="0.44"/>
<line x1="47.1" y1="322.8" x2="46.4" y2="327.2" stroke-width="1.1" opacity="0.39"/>
<line x1="55" y1="319" x2="55.6" y2="332.6" stroke-width="1.1" opacity="0.45"/>
<line x1="57.7" y1="316" x2="56.7" y2="324.7" stroke-width="1.1" opacity="0.28"/>
<line x1="59.1" y1="312.2" x2="59.5" y2="321.4" stroke-width="1.1" opacity="0.31"/>
<line x1="54.3" y1="375.9" x2="55.1" y2="380.7" stroke-width="1.1" opacity="0.50"/>
<line x1="70.4" y1="370.6" x2="70.6" y2="383.7" stroke-width="1.1" opacity="0.23"/>
<line x1="43.8" y1="385.6" x2="44.7" y2="394.2" stroke-width="1.1" opacity="0.64"/>
<line x1="56.1" y1="320.7" x2="56.3" y2="331.9" stroke-width="1.1" opacity="0.48"/>
<line x1="37.6" y1="387.6" x2="37.7" y2="399.5" stroke-width="1.1" opacity="0.81"/>
<line x1="41.6" y1="385.1" x2="40.7" y2="393.5" stroke-width="1.1" opacity="0.48"/>
<line x1="51.3" y1="377.7" x2="51.9" y2="382.4" stroke-width="1.1" opacity="0.28"/>
<line x1="63.4" y1="313.4" x2="62.7" y2="318.9" stroke-width="1.1" opacity="0.38"/>
<line x1="49.8" y1="384.8" x2="50.7" y2="393.7" stroke-width="1.1" opacity="0.52"/>
<line x1="71.2" y1="311.2" x2="70.8" y2="322.5" stroke-width="1.1" opacity="0.23"/>
<line x1="55.5" y1="384.9" x2="55.1" y2="392.7" stroke-width="1.1" opacity="0.41"/>
<line x1="65.8" y1="372.2" x2="66.7" y2="381.4" stroke-width="1.1" opacity="0.36"/>
<line x1="52.4" y1="317.2" x2="52.6" y2="321.5" stroke-width="1.1" opacity="0.43"/>
<line x1="72.3" y1="376" x2="72.5" y2="384.9" stroke-width="1.1" opacity="0.26"/>
<line x1="58" y1="317.2" x2="58.9" y2="330.5" stroke-width="1.1" opacity="0.34"/>
<line x1="39.6" y1="309.4" x2="40.3" y2="322.4" stroke-width="1.1" opacity="0.54"/>
<line x1="48" y1="310.6" x2="48.9" y2="315.9" stroke-width="1.1" opacity="0.52"/>
<line x1="62.4" y1="310.7" x2="62.7" y2="317.9" stroke-width="1.1" opacity="0.25"/>
<line x1="42.9" y1="370.1" x2="42.2" y2="379.2" stroke-width="1.1" opacity="0.63"/>
<line x1="38.9" y1="317.1" x2="38.7" y2="325.2" stroke-width="1.1" opacity="0.55"/>
<line x1="50.4" y1="310.9" x2="50.6" y2="320.2" stroke-width="1.1" opacity="0.50"/>
<line x1="66.1" y1="385.1" x2="66.5" y2="397.2" stroke-width="1.1" opacity="0.22"/>
<line x1="68.8" y1="313" x2="68.2" y2="327" stroke-width="1.1" opacity="0.33"/>
<line x1="68" y1="311.5" x2="67.5" y2="316.5" stroke-width="1.1" opacity="0.31"/>
<line x1="65.1" y1="322" x2="64.9" y2="332.9" stroke-width="1.1" opacity="0.21"/>
<line x1="32.2" y1="320" x2="33.2" y2="325.1" stroke-width="1.1" opacity="0.85"/>
<line x1="49.3" y1="378.1" x2="48.7" y2="382.8" stroke-width="1.1" opacity="0.53"/>
<line x1="34.3" y1="317.5" x2="34.4" y2="322.9" stroke-width="1.1" opacity="0.63"/>
<line x1="36.7" y1="323" x2="37.5" y2="327.9" stroke-width="1.1" opacity="0.83"/>
<line x1="33.1" y1="377.2" x2="32.8" y2="385.9" stroke-width="1.1" opacity="0.77"/>
<line x1="49.7" y1="318.4" x2="50.1" y2="330.9" stroke-width="1.1" opacity="0.29"/>
<line x1="36.6" y1="321" x2="36" y2="326.7" stroke-width="1.1" opacity="0.56"/>
<line x1="49.6" y1="324" x2="50" y2="336.6" stroke-width="1.1" opacity="0.57"/>
<line x1="55" y1="318.4" x2="56" y2="330.4" stroke-width="1.1" opacity="0.40"/>
<line x1="39.2" y1="382.9" x2="39.9" y2="390.9" stroke-width="1.1" opacity="0.69"/>
<line x1="68.4" y1="381.9" x2="69" y2="390" stroke-width="1.1" opacity="0.31"/>
<line x1="59.5" y1="313.5" x2="58.6" y2="321" stroke-width="1.1" opacity="0.34"/>
<line x1="55.5" y1="372.6" x2="55.8" y2="380" stroke-width="1.1" opacity="0.53"/>
<line x1="56.5" y1="378.7" x2="57.5" y2="389.1" stroke-width="1.1" opacity="0.35"/>
<line x1="58.5" y1="387.6" x2="58.7" y2="399" stroke-width="1.1" opacity="0.23"/>
<line x1="39.2" y1="308" x2="38.9" y2="312.9" stroke-width="1.1" opacity="0.44"/>
<line x1="39" y1="379" x2="39.9" y2="388.7" stroke-width="1.1" opacity="0.58"/>
<line x1="73.7" y1="384.2" x2="73.9" y2="395.8" stroke-width="1.1" opacity="0.13"/>
<line x1="32.7" y1="371.2" x2="32.1" y2="380.2" stroke-width="1.1" opacity="0.63"/>
<line x1="54.1" y1="325" x2="54.2" y2="334.9" stroke-width="1.1" opacity="0.39"/>
<line x1="43.4" y1="319.4" x2="42.9" y2="330.6" stroke-width="1.1" opacity="0.55"/>
<line x1="40.6" y1="311.7" x2="39.9" y2="323.2" stroke-width="1.1" opacity="0.36"/>
<line x1="44.3" y1="383" x2="45.3" y2="396.4" stroke-width="1.1" opacity="0.34"/>
<line x1="33.4" y1="376.6" x2="34.4" y2="383" stroke-width="1.1" opacity="0.62"/>
<line x1="50.1" y1="382.5" x2="51.1" y2="394.6" stroke-width="1.1" opacity="0.44"/>
<line x1="53.8" y1="318.9" x2="53.2" y2="323.4" stroke-width="1.1" opacity="0.40"/>
<line x1="50.3" y1="315.4" x2="50.2" y2="322" stroke-width="1.1" opacity="0.51"/>
<line x1="52.8" y1="321.8" x2="53.8" y2="335.3" stroke-width="1.1" opacity="0.43"/>
<line x1="60.1" y1="309.2" x2="60.7" y2="319.4" stroke-width="1.1" opacity="0.45"/>
<line x1="43.1" y1="320" x2="43.3" y2="330.3" stroke-width="1.1" opacity="0.56"/>
<line x1="61.1" y1="311.7" x2="61.9" y2="324.5" stroke-width="1.1" opacity="0.46"/>
<line x1="32.6" y1="312.1" x2="32.9" y2="317.2" stroke-width="1.1" opacity="0.61"/>
<line x1="50.9" y1="308.6" x2="51" y2="319" stroke-width="1.1" opacity="0.51"/>
<line x1="43.7" y1="311" x2="44.2" y2="323.4" stroke-width="1.1" opacity="0.46"/>
<line x1="33.4" y1="322.4" x2="34" y2="328.5" stroke-width="1.1" opacity="0.69"/>
<line x1="45.8" y1="322.4" x2="46.1" y2="336.3" stroke-width="1.1" opacity="0.45"/>
<line x1="41.8" y1="382.9" x2="41.6" y2="390.6" stroke-width="1.1" opacity="0.72"/>
<line x1="34" y1="369.6" x2="34.2" y2="378.4" stroke-width="1.1" opacity="0.43"/>
<line x1="57.7" y1="321.7" x2="57.1" y2="332.4" stroke-width="1.1" opacity="0.25"/>
<line x1="33.6" y1="320.8" x2="33.2" y2="326.2" stroke-width="1.1" opacity="0.73"/>
<line x1="43" y1="375.3" x2="43.5" y2="385" stroke-width="1.1" opacity="0.37"/>
<line x1="69.6" y1="386.3" x2="70.2" y2="393.3" stroke-width="1.1" opacity="0.23"/>
<line x1="41.5" y1="324.8" x2="41" y2="332.4" stroke-width="1.1" opacity="0.71"/>
<line x1="43.4" y1="314.5" x2="42.7" y2="324.2" stroke-width="1.1" opacity="0.48"/>
<line x1="63.3" y1="384.7" x2="62.6" y2="396.3" stroke-width="1.1" opacity="0.33"/>
<line x1="67.6" y1="307.4" x2="67.7" y2="317.1" stroke-width="1.1" opacity="0.27"/>
<line x1="72.2" y1="384.1" x2="72.3" y2="396" stroke-width="1.1" opacity="0.14"/>
<line x1="33.7" y1="321" x2="32.8" y2="331.3" stroke-width="1.1" opacity="0.83"/>
<line x1="35.4" y1="381" x2="34.8" y2="392.6" stroke-width="1.1" opacity="0.49"/>
<line x1="50" y1="375.9" x2="51" y2="386.6" stroke-width="1.1" opacity="0.40"/>
<line x1="48.8" y1="382.4" x2="49.6" y2="390.5" stroke-width="1.1" opacity="0.54"/>
<line x1="64.8" y1="385.1" x2="65.4" y2="398" stroke-width="1.1" opacity="0.36"/>
<line x1="71.7" y1="378.5" x2="72.3" y2="386.7" stroke-width="1.1" opacity="0.26"/>
<line x1="45.6" y1="321.1" x2="45.4" y2="326.8" stroke-width="1.1" opacity="0.69"/>
<line x1="37.3" y1="312.5" x2="36.4" y2="319.6" stroke-width="1.1" opacity="0.81"/>
<line x1="34.5" y1="383.5" x2="33.6" y2="392.1" stroke-width="1.1" opacity="0.47"/>
<line x1="52.9" y1="368.7" x2="52.2" y2="374.9" stroke-width="1.1" opacity="0.30"/>
<line x1="38.4" y1="379.9" x2="37.8" y2="386.7" stroke-width="1.1" opacity="0.46"/>
<line x1="36.3" y1="374.2" x2="36.9" y2="383" stroke-width="1.1" opacity="0.63"/>
<line x1="157.5" y1="384.6" x2="157.2" y2="390.9" stroke-width="1" opacity="0.48"/>
<line x1="232.2" y1="307.8" x2="233.1" y2="315.7" stroke-width="1" opacity="0.28"/>
<line x1="247.3" y1="374.4" x2="248.2" y2="381.3" stroke-width="1" opacity="0.23"/>
<line x1="73.7" y1="313.3" x2="74.2" y2="320.6" stroke-width="1" opacity="0.36"/>
<line x1="122.8" y1="312.5" x2="122.4" y2="320.7" stroke-width="1" opacity="0.33"/>
<line x1="284" y1="374.3" x2="284.1" y2="378.2" stroke-width="1" opacity="0.42"/>
<line x1="70.5" y1="383.5" x2="71.1" y2="387" stroke-width="1" opacity="0.24"/>
<line x1="310.8" y1="315.2" x2="310.7" y2="323.9" stroke-width="1" opacity="0.36"/>
<line x1="358.1" y1="320.4" x2="357.9" y2="328.9" stroke-width="1" opacity="0.18"/>
<line x1="347.6" y1="316.2" x2="347.7" y2="320.2" stroke-width="1" opacity="0.44"/>
<line x1="174.6" y1="308.3" x2="174.2" y2="314.1" stroke-width="1" opacity="0.40"/>
<line x1="190.9" y1="371.7" x2="190.7" y2="377.5" stroke-width="1" opacity="0.49"/>
<line x1="348.8" y1="370.2" x2="348.5" y2="377.5" stroke-width="1" opacity="0.23"/>
<line x1="259.5" y1="307.2" x2="260.5" y2="315" stroke-width="1" opacity="0.22"/>
<line x1="277" y1="313.4" x2="277.1" y2="318.2" stroke-width="1" opacity="0.27"/>
<line x1="201.8" y1="374.1" x2="201.2" y2="381.5" stroke-width="1" opacity="0.27"/>
<line x1="387.5" y1="381.6" x2="387.2" y2="389.5" stroke-width="1" opacity="0.18"/>
<line x1="117.3" y1="318.5" x2="117.7" y2="322.6" stroke-width="1" opacity="0.29"/>
<line x1="351.2" y1="371.4" x2="350.7" y2="375.4" stroke-width="1" opacity="0.19"/>
<line x1="206.7" y1="322.7" x2="206.6" y2="328.7" stroke-width="1" opacity="0.38"/>
<line x1="327.7" y1="376.2" x2="327.3" y2="381.6" stroke-width="1" opacity="0.16"/>
<line x1="204.6" y1="385.7" x2="205.2" y2="392.7" stroke-width="1" opacity="0.36"/>
<line x1="76.2" y1="312.8" x2="76.5" y2="316.5" stroke-width="1" opacity="0.28"/>
<line x1="241.1" y1="383.2" x2="241.4" y2="387.2" stroke-width="1" opacity="0.42"/>
<line x1="373.4" y1="375.6" x2="373.4" y2="379.5" stroke-width="1" opacity="0.40"/>
<line x1="401.6" y1="381.4" x2="402.2" y2="385.6" stroke-width="1" opacity="0.48"/>
<line x1="280.7" y1="308.4" x2="280.2" y2="314.9" stroke-width="1" opacity="0.39"/>
<line x1="180.6" y1="375.8" x2="180.5" y2="379.5" stroke-width="1" opacity="0.49"/>
<line x1="115.6" y1="378.7" x2="115.7" y2="385.1" stroke-width="1" opacity="0.24"/>
<line x1="375.5" y1="383.1" x2="375.7" y2="386.8" stroke-width="1" opacity="0.44"/>
<line x1="167" y1="373.9" x2="167.1" y2="381.8" stroke-width="1" opacity="0.21"/>
<line x1="254.1" y1="307.5" x2="253.4" y2="316.5" stroke-width="1" opacity="0.48"/>
<line x1="291.2" y1="318.4" x2="291.7" y2="323.7" stroke-width="1" opacity="0.36"/>
<line x1="340.1" y1="310.4" x2="340" y2="314.3" stroke-width="1" opacity="0.29"/>
<line x1="261.4" y1="315.8" x2="260.9" y2="322.2" stroke-width="1" opacity="0.27"/>
<line x1="285.6" y1="318.4" x2="284.9" y2="327.2" stroke-width="1" opacity="0.36"/>
<line x1="227.9" y1="317.6" x2="228.3" y2="325.2" stroke-width="1" opacity="0.41"/>
<line x1="233.2" y1="383.4" x2="233.9" y2="388.9" stroke-width="1" opacity="0.30"/>
<line x1="260.2" y1="378.4" x2="260.2" y2="384" stroke-width="1" opacity="0.47"/>
<line x1="177.8" y1="319.3" x2="178.6" y2="326.7" stroke-width="1" opacity="0.36"/>
<line x1="322.6" y1="317.1" x2="321.8" y2="320.8" stroke-width="1" opacity="0.31"/>
<line x1="238.9" y1="307.9" x2="239.3" y2="314" stroke-width="1" opacity="0.23"/>
<line x1="172.9" y1="311" x2="172.1" y2="319.5" stroke-width="1" opacity="0.49"/>
<line x1="293.7" y1="376.7" x2="294.3" y2="381.1" stroke-width="1" opacity="0.41"/>
<line x1="260.4" y1="371.6" x2="261" y2="375.3" stroke-width="1" opacity="0.34"/>
<line x1="389.5" y1="311.1" x2="389.1" y2="316.1" stroke-width="1" opacity="0.17"/>
<line x1="370.8" y1="376.4" x2="370.5" y2="382.9" stroke-width="1" opacity="0.17"/>
<line x1="80.5" y1="374.9" x2="80.5" y2="383.5" stroke-width="1" opacity="0.49"/>
<line x1="228.8" y1="312" x2="229.7" y2="320.4" stroke-width="1" opacity="0.22"/>
<line x1="351.5" y1="315" x2="350.9" y2="323.3" stroke-width="1" opacity="0.50"/>
<line x1="137.9" y1="373.1" x2="138.6" y2="376.4" stroke-width="1" opacity="0.19"/>
<line x1="313.9" y1="322.3" x2="314.6" y2="329.6" stroke-width="1" opacity="0.20"/>
<line x1="303.8" y1="377.1" x2="303" y2="381.5" stroke-width="1" opacity="0.26"/>
<line x1="308.7" y1="310.1" x2="308.2" y2="317.1" stroke-width="1" opacity="0.43"/>
<line x1="195.2" y1="384.2" x2="195.3" y2="388.5" stroke-width="1" opacity="0.26"/>
<line x1="381.4" y1="374.4" x2="381.7" y2="378" stroke-width="1" opacity="0.49"/>
<line x1="218" y1="378.5" x2="217" y2="385.1" stroke-width="1" opacity="0.25"/>
<line x1="154.3" y1="371.4" x2="153.9" y2="378.9" stroke-width="1" opacity="0.24"/>
<line x1="163.8" y1="373" x2="164.6" y2="381.9" stroke-width="1" opacity="0.16"/>
<line x1="225.1" y1="376.2" x2="226" y2="382.2" stroke-width="1" opacity="0.21"/>
<line x1="256.8" y1="375.8" x2="257.1" y2="383.5" stroke-width="1" opacity="0.33"/>
<line x1="239.9" y1="380.9" x2="239.9" y2="389.7" stroke-width="1" opacity="0.21"/>
<line x1="332" y1="317.3" x2="331.4" y2="323" stroke-width="1" opacity="0.42"/>
<line x1="334.3" y1="373.8" x2="334.3" y2="378.1" stroke-width="1" opacity="0.35"/>
<line x1="237.7" y1="317.1" x2="238.1" y2="323.6" stroke-width="1" opacity="0.46"/>
<line x1="130.5" y1="307.3" x2="130.5" y2="312.9" stroke-width="1" opacity="0.30"/>
<line x1="158.3" y1="371.2" x2="159.2" y2="377.6" stroke-width="1" opacity="0.34"/>
<line x1="336" y1="309.5" x2="335.6" y2="312.7" stroke-width="1" opacity="0.26"/>
<line x1="278.7" y1="374.2" x2="278.9" y2="377.8" stroke-width="1" opacity="0.44"/>
<line x1="127.7" y1="309.7" x2="128" y2="317.7" stroke-width="1" opacity="0.43"/>
<line x1="90.5" y1="313.2" x2="90" y2="322" stroke-width="1" opacity="0.16"/>
<line x1="234.5" y1="385.8" x2="233.8" y2="391.5" stroke-width="1" opacity="0.41"/>
<line x1="83.2" y1="322.1" x2="82.5" y2="327.5" stroke-width="1" opacity="0.25"/>
<line x1="212.6" y1="307.6" x2="213.6" y2="315.2" stroke-width="1" opacity="0.41"/>
<line x1="147.2" y1="316.4" x2="146.7" y2="322.2" stroke-width="1" opacity="0.48"/>
<line x1="192.3" y1="323.7" x2="192.5" y2="326.9" stroke-width="1" opacity="0.29"/>
<line x1="288.3" y1="312.8" x2="288.7" y2="321" stroke-width="1" opacity="0.36"/>
<line x1="367.8" y1="313.7" x2="368.5" y2="319" stroke-width="1" opacity="0.42"/>
<line x1="142.4" y1="310.1" x2="142.5" y2="314.1" stroke-width="1" opacity="0.22"/>
<line x1="142.1" y1="312.2" x2="142" y2="321.2" stroke-width="1" opacity="0.39"/>
<line x1="359.9" y1="313.5" x2="359" y2="320.7" stroke-width="1" opacity="0.28"/>
<line x1="162.2" y1="310.1" x2="161.8" y2="315.5" stroke-width="1" opacity="0.47"/>
<line x1="310.3" y1="313.1" x2="309.6" y2="321.8" stroke-width="1" opacity="0.28"/>
<line x1="327.3" y1="384.5" x2="326.3" y2="389.4" stroke-width="1" opacity="0.28"/>
<line x1="97.9" y1="375.2" x2="98.5" y2="381.3" stroke-width="1" opacity="0.17"/>
<line x1="202.4" y1="307.7" x2="201.7" y2="314.3" stroke-width="1" opacity="0.16"/>
<line x1="174.9" y1="316.2" x2="174.2" y2="323.5" stroke-width="1" opacity="0.24"/>
<line x1="313.8" y1="372.4" x2="313.2" y2="377" stroke-width="1" opacity="0.40"/>
<line x1="206.2" y1="321.7" x2="205.6" y2="326.5" stroke-width="1" opacity="0.27"/>
<line x1="142.5" y1="307.4" x2="142.8" y2="313.8" stroke-width="1" opacity="0.43"/>
</g>
</g>
<g style="mix-blend-mode:screen">
<g filter="url(#noiseCr)">
<rect x="31" y="299" width="376.5" height="101.69999999999999" fill="#0a0000"/>
<g filter="url(#blur15)">
<rect x="25" y="333.8" width="390" height="31.4" fill="url(#redC)"/>
</g>
</g>
</g>
<g filter="url(#blur05)">
<path d="M25 296 H415 V303.2 L300 303.8 L230 304.8 L150 306.6 L25 307.2 Z" fill="url(#stripT)"/>
<path d="M25 391.6 L60 392.2 L130 394.2 L230 395.2 L415 395.8 V404 H25 Z" fill="url(#stripB)"/>
</g>
<line x1="403.1" y1="399.2" x2="403.1" y2="400.9" stroke="#033c03" stroke-width="1" opacity="0.33"/>
<line x1="341.9" y1="399" x2="341.9" y2="400.7" stroke="#033c03" stroke-width="1" opacity="0.46"/>
<line x1="329" y1="300.6" x2="329" y2="301.9" stroke="#033c03" stroke-width="1" opacity="0.19"/>
<line x1="267.2" y1="300.1" x2="267.2" y2="301.7" stroke="#033c03" stroke-width="1" opacity="0.25"/>
<line x1="272.3" y1="301.7" x2="272.3" y2="303.4" stroke="#033c03" stroke-width="1" opacity="0.30"/>
<line x1="174.6" y1="299.6" x2="174.6" y2="302.1" stroke="#033c03" stroke-width="1" opacity="0.19"/>
<line x1="344.7" y1="395.6" x2="344.7" y2="397.7" stroke="#033c03" stroke-width="1" opacity="0.41"/>
<line x1="262" y1="299.2" x2="262" y2="301.6" stroke="#033c03" stroke-width="1" opacity="0.17"/>
<line x1="318.1" y1="300" x2="318.1" y2="301.3" stroke="#033c03" stroke-width="1" opacity="0.34"/>
<line x1="257.3" y1="396.5" x2="257.3" y2="399.3" stroke="#033c03" stroke-width="1" opacity="0.41"/>
<line x1="208.7" y1="399.3" x2="208.7" y2="401.4" stroke="#033c03" stroke-width="1" opacity="0.24"/>
<line x1="315.8" y1="398" x2="315.8" y2="400.6" stroke="#033c03" stroke-width="1" opacity="0.53"/>
<line x1="274.5" y1="302.3" x2="274.5" y2="305.5" stroke="#033c03" stroke-width="1" opacity="0.28"/>
<line x1="266.8" y1="299.5" x2="266.8" y2="301.9" stroke="#033c03" stroke-width="1" opacity="0.43"/>
<line x1="246.5" y1="396.1" x2="246.5" y2="397.7" stroke="#033c03" stroke-width="1" opacity="0.24"/>
<line x1="222.5" y1="299" x2="222.5" y2="301.5" stroke="#033c03" stroke-width="1" opacity="0.30"/>
<line x1="270" y1="301.6" x2="270" y2="304.1" stroke="#033c03" stroke-width="1" opacity="0.22"/>
<line x1="327.1" y1="399.4" x2="327.1" y2="401.3" stroke="#033c03" stroke-width="1" opacity="0.39"/>
<line x1="257.2" y1="301.9" x2="257.2" y2="304.7" stroke="#033c03" stroke-width="1" opacity="0.40"/>
<line x1="341.3" y1="396.1" x2="341.3" y2="398.8" stroke="#033c03" stroke-width="1" opacity="0.59"/>
<line x1="295" y1="300.1" x2="295" y2="303.1" stroke="#033c03" stroke-width="1" opacity="0.36"/>
<line x1="305.6" y1="300.3" x2="305.6" y2="301.9" stroke="#033c03" stroke-width="1" opacity="0.24"/>
<line x1="300.7" y1="299.3" x2="300.7" y2="300.7" stroke="#033c03" stroke-width="1" opacity="0.20"/>
<line x1="345.4" y1="302.1" x2="345.4" y2="304.4" stroke="#033c03" stroke-width="1" opacity="0.20"/>
<line x1="200.7" y1="395.7" x2="200.7" y2="397.5" stroke="#033c03" stroke-width="1" opacity="0.30"/>
<line x1="299.1" y1="301.9" x2="299.1" y2="303.6" stroke="#033c03" stroke-width="1" opacity="0.45"/>
<line x1="347.9" y1="302" x2="347.9" y2="305.2" stroke="#033c03" stroke-width="1" opacity="0.31"/>
<line x1="372.5" y1="301.8" x2="372.5" y2="304.5" stroke="#033c03" stroke-width="1" opacity="0.45"/>
<line x1="373" y1="300.5" x2="373" y2="303.2" stroke="#033c03" stroke-width="1" opacity="0.57"/>
<line x1="223.3" y1="301.3" x2="223.3" y2="304.7" stroke="#033c03" stroke-width="1" opacity="0.19"/>
<line x1="402" y1="397.2" x2="402" y2="399.8" stroke="#033c03" stroke-width="1" opacity="0.23"/>
<line x1="270.8" y1="395.7" x2="270.8" y2="398.5" stroke="#033c03" stroke-width="1" opacity="0.44"/>
<line x1="184.7" y1="301.9" x2="184.7" y2="305.4" stroke="#033c03" stroke-width="1" opacity="0.16"/>
<line x1="185.3" y1="301.2" x2="185.3" y2="303.5" stroke="#033c03" stroke-width="1" opacity="0.19"/>
<line x1="264.5" y1="398.9" x2="264.5" y2="400.7" stroke="#033c03" stroke-width="1" opacity="0.24"/>
<line x1="269.4" y1="399.4" x2="269.4" y2="401.5" stroke="#033c03" stroke-width="1" opacity="0.34"/>
<line x1="343" y1="396.1" x2="343" y2="397.7" stroke="#033c03" stroke-width="1" opacity="0.40"/>
<line x1="180.3" y1="301" x2="180.3" y2="302.4" stroke="#033c03" stroke-width="1" opacity="0.27"/>
<line x1="250.8" y1="396.1" x2="250.8" y2="398.7" stroke="#033c03" stroke-width="1" opacity="0.16"/>
<line x1="236.4" y1="300.5" x2="236.4" y2="302.3" stroke="#033c03" stroke-width="1" opacity="0.21"/>
<line x1="156" y1="396.7" x2="156" y2="398.1" stroke="#033c03" stroke-width="1" opacity="0.15"/>
<line x1="207.6" y1="396.3" x2="207.6" y2="399.5" stroke="#033c03" stroke-width="1" opacity="0.24"/>
<line x1="293.4" y1="397.1" x2="293.4" y2="398.4" stroke="#033c03" stroke-width="1" opacity="0.30"/>
<line x1="309.6" y1="396.6" x2="309.6" y2="400" stroke="#033c03" stroke-width="1" opacity="0.41"/>
<line x1="380.1" y1="302.3" x2="380.1" y2="305.2" stroke="#033c03" stroke-width="1" opacity="0.69"/>
<line x1="205.3" y1="299.5" x2="205.3" y2="300.8" stroke="#033c03" stroke-width="1" opacity="0.15"/>
<line x1="260.6" y1="301.1" x2="260.6" y2="302.3" stroke="#033c03" stroke-width="1" opacity="0.37"/>
<line x1="216.6" y1="301.1" x2="216.6" y2="304.2" stroke="#033c03" stroke-width="1" opacity="0.34"/>
<line x1="364.7" y1="302.2" x2="364.7" y2="305.3" stroke="#033c03" stroke-width="1" opacity="0.52"/>
<line x1="359.3" y1="302.8" x2="359.3" y2="304.9" stroke="#033c03" stroke-width="1" opacity="0.64"/>
<line x1="345.5" y1="395.6" x2="345.5" y2="398.1" stroke="#033c03" stroke-width="1" opacity="0.27"/>
<line x1="222.1" y1="301.6" x2="222.1" y2="304.7" stroke="#033c03" stroke-width="1" opacity="0.23"/>
<line x1="262.1" y1="300.1" x2="262.1" y2="303.4" stroke="#033c03" stroke-width="1" opacity="0.34"/>
<line x1="250.2" y1="302" x2="250.2" y2="303.7" stroke="#033c03" stroke-width="1" opacity="0.18"/>
<line x1="354" y1="396.2" x2="354" y2="397.7" stroke="#033c03" stroke-width="1" opacity="0.42"/>
<line x1="193.8" y1="299" x2="193.8" y2="301.4" stroke="#033c03" stroke-width="1" opacity="0.20"/>
<line x1="272.5" y1="399.3" x2="272.5" y2="401" stroke="#033c03" stroke-width="1" opacity="0.25"/>
<line x1="383.4" y1="395.9" x2="383.4" y2="399.4" stroke="#033c03" stroke-width="1" opacity="0.33"/>
<line x1="279.6" y1="300.6" x2="279.6" y2="303.5" stroke="#033c03" stroke-width="1" opacity="0.47"/>
<line x1="206" y1="399.3" x2="206" y2="401.2" stroke="#033c03" stroke-width="1" opacity="0.20"/>
<line x1="207.9" y1="396.1" x2="207.9" y2="398.8" stroke="#033c03" stroke-width="1" opacity="0.22"/>
<line x1="265.8" y1="301.5" x2="265.8" y2="304.7" stroke="#033c03" stroke-width="1" opacity="0.35"/>
<line x1="378.4" y1="397.8" x2="378.4" y2="399.2" stroke="#033c03" stroke-width="1" opacity="0.49"/>
<line x1="374.4" y1="301.7" x2="374.4" y2="303.8" stroke="#033c03" stroke-width="1" opacity="0.52"/>
<line x1="267.5" y1="397.8" x2="267.5" y2="400.2" stroke="#033c03" stroke-width="1" opacity="0.22"/>
<line x1="146" y1="301.4" x2="146" y2="303.9" stroke="#033c03" stroke-width="1" opacity="0.18"/>
<line x1="394.1" y1="303" x2="394.1" y2="305.9" stroke="#033c03" stroke-width="1" opacity="0.24"/>
<line x1="247.7" y1="397.1" x2="247.7" y2="400.3" stroke="#033c03" stroke-width="1" opacity="0.35"/>
<line x1="187.8" y1="299.9" x2="187.8" y2="303.1" stroke="#033c03" stroke-width="1" opacity="0.29"/>
<line x1="332.8" y1="398.7" x2="332.8" y2="401.1" stroke="#033c03" stroke-width="1" opacity="0.57"/>
<line x1="406.7" y1="398.3" x2="406.7" y2="400.1" stroke="#033c03" stroke-width="1" opacity="0.19"/>
<line x1="367.9" y1="399" x2="367.9" y2="400.6" stroke="#033c03" stroke-width="1" opacity="0.38"/>
<line x1="238" y1="301.2" x2="238" y2="304.2" stroke="#033c03" stroke-width="1" opacity="0.31"/>
<line x1="295" y1="398.9" x2="295" y2="401.9" stroke="#033c03" stroke-width="1" opacity="0.24"/>
<line x1="309.3" y1="396.1" x2="309.3" y2="398.1" stroke="#033c03" stroke-width="1" opacity="0.51"/>
<line x1="177.6" y1="302.5" x2="177.6" y2="305.6" stroke="#033c03" stroke-width="1" opacity="0.15"/>
<line x1="184.3" y1="302.4" x2="184.3" y2="305" stroke="#033c03" stroke-width="1" opacity="0.17"/>
<line x1="387.9" y1="396.3" x2="387.9" y2="399" stroke="#033c03" stroke-width="1" opacity="0.19"/>
<line x1="382.6" y1="301.7" x2="382.6" y2="303.9" stroke="#033c03" stroke-width="1" opacity="0.55"/>
<line x1="135.5" y1="301.5" x2="135.5" y2="303.4" stroke="#033c03" stroke-width="1" opacity="0.16"/>
<line x1="322.1" y1="299.5" x2="322.1" y2="302.3" stroke="#033c03" stroke-width="1" opacity="0.44"/>
<line x1="288.9" y1="302.8" x2="288.9" y2="305.4" stroke="#033c03" stroke-width="1" opacity="0.20"/>
<line x1="260.2" y1="398.3" x2="260.2" y2="401.2" stroke="#033c03" stroke-width="1" opacity="0.21"/>
<line x1="261" y1="299.6" x2="261" y2="302.2" stroke="#033c03" stroke-width="1" opacity="0.24"/>
<line x1="278.1" y1="300.8" x2="278.1" y2="303.2" stroke="#033c03" stroke-width="1" opacity="0.42"/>
<line x1="396.1" y1="396.4" x2="396.1" y2="399" stroke="#033c03" stroke-width="1" opacity="0.35"/>
<line x1="239.6" y1="302.4" x2="239.6" y2="305.2" stroke="#033c03" stroke-width="1" opacity="0.37"/>
<line x1="285.9" y1="302" x2="285.9" y2="304.6" stroke="#033c03" stroke-width="1" opacity="0.47"/>
<line x1="284.3" y1="300.1" x2="284.3" y2="302.3" stroke="#033c03" stroke-width="1" opacity="0.17"/>
<line x1="398.8" y1="398.2" x2="398.8" y2="400" stroke="#033c03" stroke-width="1" opacity="0.32"/>
<line x1="274.7" y1="396.5" x2="274.7" y2="398.7" stroke="#033c03" stroke-width="1" opacity="0.19"/>
<line x1="255.8" y1="397.9" x2="255.8" y2="400.3" stroke="#033c03" stroke-width="1" opacity="0.38"/>
<line x1="177.2" y1="300.5" x2="177.2" y2="302.5" stroke="#033c03" stroke-width="1" opacity="0.26"/>
<line x1="349.5" y1="302.6" x2="349.5" y2="306" stroke="#033c03" stroke-width="1" opacity="0.47"/>
<line x1="140.7" y1="300.4" x2="140.7" y2="302.7" stroke="#033c03" stroke-width="1" opacity="0.18"/>
<line x1="248.6" y1="399.4" x2="248.6" y2="402.8" stroke="#033c03" stroke-width="1" opacity="0.33"/>
<line x1="406.5" y1="398.1" x2="406.5" y2="400.9" stroke="#033c03" stroke-width="1" opacity="0.39"/>
<line x1="407.5" y1="300.6" x2="407.5" y2="303.3" stroke="#033c03" stroke-width="1" opacity="0.19"/>
<line x1="219.2" y1="300.5" x2="219.2" y2="302" stroke="#033c03" stroke-width="1" opacity="0.35"/>
<line x1="270.2" y1="299.7" x2="270.2" y2="302.4" stroke="#033c03" stroke-width="1" opacity="0.38"/>
<line x1="326.8" y1="302.2" x2="326.8" y2="305.1" stroke="#033c03" stroke-width="1" opacity="0.47"/>
<line x1="361.2" y1="299.1" x2="361.2" y2="302.2" stroke="#033c03" stroke-width="1" opacity="0.21"/>
<line x1="396.7" y1="300.4" x2="396.7" y2="302.8" stroke="#033c03" stroke-width="1" opacity="0.67"/>
<line x1="305.6" y1="396.7" x2="305.6" y2="399.1" stroke="#033c03" stroke-width="1" opacity="0.19"/>
<line x1="187" y1="299.4" x2="187" y2="301.7" stroke="#033c03" stroke-width="1" opacity="0.23"/>
<line x1="242.2" y1="300.7" x2="242.2" y2="302" stroke="#033c03" stroke-width="1" opacity="0.35"/>
<line x1="219" y1="397.3" x2="219" y2="400.5" stroke="#033c03" stroke-width="1" opacity="0.24"/>
<line x1="179.2" y1="302.9" x2="179.2" y2="305.3" stroke="#033c03" stroke-width="1" opacity="0.25"/>
<line x1="273.4" y1="399.4" x2="273.4" y2="401.5" stroke="#033c03" stroke-width="1" opacity="0.35"/>
<line x1="132" y1="398.4" x2="132" y2="401.3" stroke="#033c03" stroke-width="1" opacity="0.15"/>
<line x1="198.6" y1="299.4" x2="198.6" y2="301.3" stroke="#033c03" stroke-width="1" opacity="0.24"/>
<line x1="401.2" y1="395.7" x2="401.2" y2="397.8" stroke="#033c03" stroke-width="1" opacity="0.53"/>
<line x1="168.4" y1="302.7" x2="168.4" y2="304.6" stroke="#033c03" stroke-width="1" opacity="0.18"/>
<line x1="294.5" y1="399.3" x2="294.5" y2="401.8" stroke="#033c03" stroke-width="1" opacity="0.39"/>
<line x1="297.5" y1="300.2" x2="297.5" y2="303.1" stroke="#033c03" stroke-width="1" opacity="0.48"/>
<line x1="231.6" y1="300.9" x2="231.6" y2="302.9" stroke="#033c03" stroke-width="1" opacity="0.24"/>
<line x1="279.7" y1="302.3" x2="279.7" y2="303.7" stroke="#033c03" stroke-width="1" opacity="0.30"/>
<line x1="304.1" y1="299.9" x2="304.1" y2="301.3" stroke="#033c03" stroke-width="1" opacity="0.36"/>
<line x1="264.1" y1="299.9" x2="264.1" y2="302.8" stroke="#033c03" stroke-width="1" opacity="0.24"/>
<line x1="294.1" y1="302.9" x2="294.1" y2="304.1" stroke="#033c03" stroke-width="1" opacity="0.15"/>
<line x1="319.9" y1="301.4" x2="319.9" y2="303.4" stroke="#033c03" stroke-width="1" opacity="0.55"/>
<line x1="244.3" y1="396.8" x2="244.3" y2="399.1" stroke="#033c03" stroke-width="1" opacity="0.31"/>
<line x1="301.3" y1="299.4" x2="301.3" y2="301.2" stroke="#033c03" stroke-width="1" opacity="0.43"/>
<line x1="235.2" y1="302.4" x2="235.2" y2="304.6" stroke="#033c03" stroke-width="1" opacity="0.34"/>
<line x1="239.8" y1="302.9" x2="239.8" y2="306" stroke="#033c03" stroke-width="1" opacity="0.32"/>
<line x1="252" y1="398.7" x2="252" y2="401.3" stroke="#033c03" stroke-width="1" opacity="0.24"/>
<line x1="158.6" y1="301.5" x2="158.6" y2="304" stroke="#033c03" stroke-width="1" opacity="0.21"/>
<line x1="393.2" y1="302.7" x2="393.2" y2="305.7" stroke="#033c03" stroke-width="1" opacity="0.51"/>
<line x1="316.7" y1="397.2" x2="316.7" y2="399.9" stroke="#033c03" stroke-width="1" opacity="0.15"/>
<line x1="404.7" y1="302.1" x2="404.7" y2="304.3" stroke="#033c03" stroke-width="1" opacity="0.69"/>
<line x1="355.8" y1="300.7" x2="355.8" y2="302.2" stroke="#033c03" stroke-width="1" opacity="0.34"/>
<line x1="249.7" y1="299.5" x2="249.7" y2="302.6" stroke="#033c03" stroke-width="1" opacity="0.35"/>
<line x1="336.7" y1="299.5" x2="336.7" y2="301.4" stroke="#033c03" stroke-width="1" opacity="0.40"/>
<line x1="398.6" y1="396.3" x2="398.6" y2="398.5" stroke="#033c03" stroke-width="1" opacity="0.48"/>
<line x1="306.2" y1="302.5" x2="306.2" y2="304.8" stroke="#033c03" stroke-width="1" opacity="0.48"/>
<line x1="145.5" y1="301.7" x2="145.5" y2="305" stroke="#033c03" stroke-width="1" opacity="0.17"/>
<line x1="295.7" y1="302.1" x2="295.7" y2="303.6" stroke="#033c03" stroke-width="1" opacity="0.40"/>
<line x1="353.8" y1="396.3" x2="353.8" y2="398.3" stroke="#033c03" stroke-width="1" opacity="0.23"/>
<line x1="201.2" y1="397.6" x2="201.2" y2="399.7" stroke="#033c03" stroke-width="1" opacity="0.21"/>
<line x1="315.3" y1="301.3" x2="315.3" y2="303.6" stroke="#033c03" stroke-width="1" opacity="0.49"/>
<line x1="404.1" y1="396.4" x2="404.1" y2="398.2" stroke="#033c03" stroke-width="1" opacity="0.34"/>
<line x1="351.1" y1="299.3" x2="351.1" y2="302.4" stroke="#033c03" stroke-width="1" opacity="0.43"/>
<line x1="265.6" y1="301.5" x2="265.6" y2="304" stroke="#033c03" stroke-width="1" opacity="0.37"/>
<line x1="403.1" y1="300.9" x2="403.1" y2="302.7" stroke="#033c03" stroke-width="1" opacity="0.69"/>
<line x1="356.2" y1="302.4" x2="356.2" y2="303.7" stroke="#033c03" stroke-width="1" opacity="0.20"/>
<line x1="344" y1="396.8" x2="344" y2="398.4" stroke="#033c03" stroke-width="1" opacity="0.42"/>
<line x1="398" y1="395.9" x2="398" y2="398.9" stroke="#033c03" stroke-width="1" opacity="0.59"/>
<line x1="219.3" y1="397.9" x2="219.3" y2="399.4" stroke="#033c03" stroke-width="1" opacity="0.19"/>
<line x1="358.7" y1="399.2" x2="358.7" y2="402" stroke="#033c03" stroke-width="1" opacity="0.44"/>
<line x1="262" y1="396.7" x2="262" y2="399.8" stroke="#033c03" stroke-width="1" opacity="0.43"/>
<line x1="350.4" y1="299.1" x2="350.4" y2="301.5" stroke="#033c03" stroke-width="1" opacity="0.28"/>
<line x1="230.2" y1="299.5" x2="230.2" y2="301.8" stroke="#033c03" stroke-width="1" opacity="0.22"/>
<line x1="236" y1="301" x2="236" y2="304.2" stroke="#033c03" stroke-width="1" opacity="0.22"/>
<line x1="199.9" y1="397.9" x2="199.9" y2="400.4" stroke="#033c03" stroke-width="1" opacity="0.29"/>
<line x1="351.9" y1="399.2" x2="351.9" y2="402.2" stroke="#033c03" stroke-width="1" opacity="0.41"/>
<line x1="232.1" y1="397" x2="232.1" y2="400" stroke="#033c03" stroke-width="1" opacity="0.16"/>
<line x1="224" y1="301.9" x2="224" y2="305.3" stroke="#033c03" stroke-width="1" opacity="0.25"/>
<line x1="298.7" y1="299.9" x2="298.7" y2="303.3" stroke="#033c03" stroke-width="1" opacity="0.36"/>
<line x1="181.5" y1="395.8" x2="181.5" y2="399.1" stroke="#033c03" stroke-width="1" opacity="0.27"/>
<line x1="178.3" y1="303" x2="178.3" y2="304.9" stroke="#033c03" stroke-width="1" opacity="0.22"/>
<line x1="381.7" y1="395.8" x2="381.7" y2="397" stroke="#033c03" stroke-width="1" opacity="0.18"/>
<line x1="314.5" y1="398.9" x2="314.5" y2="401.9" stroke="#033c03" stroke-width="1" opacity="0.55"/>
<line x1="302.5" y1="396.2" x2="302.5" y2="398.6" stroke="#033c03" stroke-width="1" opacity="0.18"/>
<line x1="259.3" y1="301.8" x2="259.3" y2="304" stroke="#033c03" stroke-width="1" opacity="0.29"/>
<line x1="293.8" y1="301.2" x2="293.8" y2="304.7" stroke="#033c03" stroke-width="1" opacity="0.18"/>
<line x1="312.3" y1="300.3" x2="312.3" y2="303.2" stroke="#033c03" stroke-width="1" opacity="0.20"/>
<line x1="395.6" y1="399.2" x2="395.6" y2="402.4" stroke="#033c03" stroke-width="1" opacity="0.71"/>
<line x1="394.8" y1="301.4" x2="394.8" y2="304.1" stroke="#033c03" stroke-width="1" opacity="0.16"/>
<line x1="324.4" y1="395.8" x2="324.4" y2="398.2" stroke="#033c03" stroke-width="1" opacity="0.41"/>
<line x1="399.8" y1="302.5" x2="399.8" y2="305.9" stroke="#033c03" stroke-width="1" opacity="0.17"/>
<line x1="141.2" y1="398.3" x2="141.2" y2="400.6" stroke="#033c03" stroke-width="1" opacity="0.15"/>
<line x1="316.7" y1="395.5" x2="316.7" y2="396.9" stroke="#033c03" stroke-width="1" opacity="0.46"/>
<line x1="365.1" y1="397.1" x2="365.1" y2="399.1" stroke="#033c03" stroke-width="1" opacity="0.65"/>
<line x1="257.2" y1="396.5" x2="257.2" y2="399.1" stroke="#033c03" stroke-width="1" opacity="0.15"/>
<line x1="303.7" y1="397.3" x2="303.7" y2="399.1" stroke="#033c03" stroke-width="1" opacity="0.28"/>
<line x1="383.7" y1="300" x2="383.7" y2="302.3" stroke="#033c03" stroke-width="1" opacity="0.25"/>
<line x1="362.8" y1="301.6" x2="362.8" y2="303.4" stroke="#033c03" stroke-width="1" opacity="0.32"/>
<line x1="302.9" y1="396.2" x2="302.9" y2="398" stroke="#033c03" stroke-width="1" opacity="0.25"/>
<line x1="244.4" y1="398.2" x2="244.4" y2="401.2" stroke="#033c03" stroke-width="1" opacity="0.24"/>
<line x1="307.1" y1="396.5" x2="307.1" y2="398.2" stroke="#033c03" stroke-width="1" opacity="0.18"/>
<line x1="275.4" y1="300.4" x2="275.4" y2="303.7" stroke="#033c03" stroke-width="1" opacity="0.47"/>
<line x1="406.1" y1="302.2" x2="406.1" y2="305.2" stroke="#033c03" stroke-width="1" opacity="0.38"/>
<line x1="254.8" y1="300.1" x2="254.8" y2="302.7" stroke="#033c03" stroke-width="1" opacity="0.37"/>
<line x1="353.6" y1="395.6" x2="353.6" y2="397.9" stroke="#033c03" stroke-width="1" opacity="0.38"/>
<line x1="266.4" y1="396.1" x2="266.4" y2="397.7" stroke="#033c03" stroke-width="1" opacity="0.17"/>
<line x1="383" y1="396.9" x2="383" y2="400.2" stroke="#033c03" stroke-width="1" opacity="0.68"/>
<line x1="193.4" y1="396.3" x2="193.4" y2="397.8" stroke="#033c03" stroke-width="1" opacity="0.26"/>
<line x1="339.5" y1="399.3" x2="339.5" y2="401.5" stroke="#033c03" stroke-width="1" opacity="0.55"/>
<line x1="264.2" y1="302.8" x2="264.2" y2="304.1" stroke="#033c03" stroke-width="1" opacity="0.19"/>
<line x1="208.3" y1="300.2" x2="208.3" y2="301.8" stroke="#033c03" stroke-width="1" opacity="0.21"/>
<line x1="186.3" y1="397.8" x2="186.3" y2="400.7" stroke="#033c03" stroke-width="1" opacity="0.22"/>
<line x1="303.9" y1="299.9" x2="303.9" y2="301.3" stroke="#033c03" stroke-width="1" opacity="0.51"/>
<line x1="246.7" y1="397.5" x2="246.7" y2="399.1" stroke="#033c03" stroke-width="1" opacity="0.35"/>
<line x1="252.7" y1="302.2" x2="252.7" y2="305.6" stroke="#033c03" stroke-width="1" opacity="0.31"/>
<line x1="287.2" y1="397.4" x2="287.2" y2="399" stroke="#033c03" stroke-width="1" opacity="0.36"/>
<line x1="396.6" y1="302.1" x2="396.6" y2="304.2" stroke="#033c03" stroke-width="1" opacity="0.71"/>
<line x1="156.3" y1="301.9" x2="156.3" y2="303.6" stroke="#033c03" stroke-width="1" opacity="0.16"/>
<line x1="138.4" y1="397.5" x2="138.4" y2="400.2" stroke="#033c03" stroke-width="1" opacity="0.16"/>
<line x1="288.5" y1="300.2" x2="288.5" y2="301.5" stroke="#033c03" stroke-width="1" opacity="0.21"/>
<line x1="232.3" y1="300.9" x2="232.3" y2="303.5" stroke="#033c03" stroke-width="1" opacity="0.29"/>
<line x1="248.9" y1="397.8" x2="248.9" y2="400" stroke="#033c03" stroke-width="1" opacity="0.25"/>
<line x1="307.1" y1="302.7" x2="307.1" y2="304.4" stroke="#033c03" stroke-width="1" opacity="0.33"/>
<line x1="394.9" y1="396.2" x2="394.9" y2="398.5" stroke="#033c03" stroke-width="1" opacity="0.64"/>
<line x1="404.9" y1="301.9" x2="404.9" y2="303.6" stroke="#033c03" stroke-width="1" opacity="0.32"/>
<line x1="317.6" y1="396.6" x2="317.6" y2="398.1" stroke="#033c03" stroke-width="1" opacity="0.21"/>
<line x1="341.5" y1="397.5" x2="341.5" y2="400.8" stroke="#033c03" stroke-width="1" opacity="0.31"/>
<line x1="300.8" y1="301" x2="300.8" y2="302.8" stroke="#033c03" stroke-width="1" opacity="0.29"/>
<line x1="315.3" y1="299.4" x2="315.3" y2="301.7" stroke="#033c03" stroke-width="1" opacity="0.41"/>
<line x1="292.7" y1="396.6" x2="292.7" y2="398.8" stroke="#033c03" stroke-width="1" opacity="0.38"/>
<line x1="171.1" y1="302.3" x2="171.1" y2="305.4" stroke="#033c03" stroke-width="1" opacity="0.24"/>
<line x1="230.5" y1="397.2" x2="230.5" y2="399.7" stroke="#033c03" stroke-width="1" opacity="0.36"/>
<line x1="397" y1="300.2" x2="397" y2="303.3" stroke="#033c03" stroke-width="1" opacity="0.43"/>
<line x1="298" y1="299.9" x2="298" y2="303" stroke="#033c03" stroke-width="1" opacity="0.28"/>
<line x1="367.1" y1="398.2" x2="367.1" y2="401.3" stroke="#033c03" stroke-width="1" opacity="0.65"/>
<line x1="347" y1="396.2" x2="347" y2="399.3" stroke="#033c03" stroke-width="1" opacity="0.53"/>
<line x1="244.9" y1="395.6" x2="244.9" y2="398" stroke="#033c03" stroke-width="1" opacity="0.21"/>
<line x1="256.2" y1="399.1" x2="256.2" y2="402.5" stroke="#033c03" stroke-width="1" opacity="0.37"/>
<line x1="331.7" y1="395.9" x2="331.7" y2="399.4" stroke="#033c03" stroke-width="1" opacity="0.18"/>
<line x1="381.5" y1="301.8" x2="381.5" y2="304.7" stroke="#033c03" stroke-width="1" opacity="0.32"/>
<line x1="405" y1="301.9" x2="405" y2="303.2" stroke="#033c03" stroke-width="1" opacity="0.52"/>
<line x1="380.8" y1="399" x2="380.8" y2="401.5" stroke="#033c03" stroke-width="1" opacity="0.57"/>
<line x1="396.5" y1="300.5" x2="396.5" y2="302.6" stroke="#033c03" stroke-width="1" opacity="0.52"/>
<line x1="140.5" y1="396.4" x2="140.5" y2="399.1" stroke="#033c03" stroke-width="1" opacity="0.16"/>
<line x1="361" y1="396.8" x2="361" y2="398.6" stroke="#033c03" stroke-width="1" opacity="0.50"/>
<line x1="209.2" y1="399.3" x2="209.2" y2="401.2" stroke="#033c03" stroke-width="1" opacity="0.27"/>
<line x1="393.1" y1="302.8" x2="393.1" y2="305.4" stroke="#033c03" stroke-width="1" opacity="0.67"/>
<line x1="400.4" y1="300.1" x2="400.4" y2="302.5" stroke="#033c03" stroke-width="1" opacity="0.60"/>
<line x1="294.3" y1="397.6" x2="294.3" y2="399.9" stroke="#033c03" stroke-width="1" opacity="0.16"/>
<line x1="354.3" y1="301.3" x2="354.3" y2="303.1" stroke="#033c03" stroke-width="1" opacity="0.27"/>
<line x1="251.8" y1="300.4" x2="251.8" y2="302.8" stroke="#033c03" stroke-width="1" opacity="0.17"/>
</g>
<line x1="33" y1="304.6" x2="407.5" y2="304.6" stroke="#fff" stroke-width="2.6" stroke-dasharray="6.3 5.66"/>
<line x1="33" y1="394.4" x2="407.5" y2="394.4" stroke="#fff" stroke-width="2.6" stroke-dasharray="6.3 5.66"/>
<line x1="402.3" y1="307.7" x2="402.3" y2="325.6" stroke="#fff" stroke-width="1.5"/>
<text transform="translate(397.8,327.3) rotate(-90)" font-size="10.1" fill="#fff">1µm</text>
<line x1="407.4" y1="299" x2="407.4" y2="400.7" stroke="#111" stroke-width="1"/>
<line x1="32.6" y1="402.4" x2="32.6" y2="407" stroke="#111" stroke-width="1.2"/>
<text x="32.6" y="419.8" font-size="12" text-anchor="middle" font-weight="normal" fill="#111" >0</text>
<line x1="125.7" y1="402.4" x2="125.7" y2="407" stroke="#111" stroke-width="1.2"/>
<text x="125.7" y="419.8" font-size="12" text-anchor="middle" font-weight="normal" fill="#111" >50</text>
<line x1="218.7" y1="402.4" x2="218.7" y2="407" stroke="#111" stroke-width="1.2"/>
<text x="218.7" y="419.8" font-size="12" text-anchor="middle" font-weight="normal" fill="#111" >100</text>
<line x1="311.8" y1="402.4" x2="311.8" y2="407" stroke="#111" stroke-width="1.2"/>
<text x="311.8" y="419.8" font-size="12" text-anchor="middle" font-weight="normal" fill="#111" >150</text>
<line x1="404.8" y1="402.4" x2="404.8" y2="407" stroke="#111" stroke-width="1.2"/>
<text x="401.8" y="419.8" font-size="12" text-anchor="middle" font-weight="normal" fill="#111" >200</text>
<text x="228.4" y="438.9" font-size="13.6" text-anchor="middle" font-weight="normal" fill="#111" >Time (s)</text>
<text transform="translate(0.8,337.6) scale(0.82,1)" font-size="18.9" text-anchor="start" font-weight="bold" fill="#f08a24">3’</text>
<text transform="translate(-0.2,371.2) scale(0.82,1)" font-size="18.9" text-anchor="start" font-weight="bold" fill="#1c75bc">5’</text>
<path d="M16.3 326 L28 332.3 L16.3 338.6 Z" fill="#1a1a1a"/>
<path d="M16.3 359 L28 365.3 L16.3 371.6 Z" fill="#1a1a1a"/>
<path d="M409.6 352.3 L421.6 346 L421.6 358.6 Z" fill="#f9c9f1" stroke="#222" stroke-width="1"/>
<text x="225" y="255" font-size="14.8" text-anchor="middle" fill="#111"><tspan fill="#0aa653">A555</tspan>-Smc5/6 (5 nM)</text>
<text x="223" y="273.3" font-size="14.8" text-anchor="middle" fill="#111"><tspan fill="#ed1c24">LD655</tspan>-RPA (5 nM)</text>
<text x="225" y="290.6" font-size="14.8" text-anchor="middle" font-weight="normal" fill="#111" >+ ATP</text>
<!-- panel b -->
<g fill="#fdd08c"><circle cx="526.3" cy="149.1" r="0.9"/><circle cx="527.3" cy="149.3" r="0.9"/><circle cx="528.2" cy="149.5" r="0.9"/><circle cx="529.3" cy="149.3" r="0.9"/><circle cx="530.4" cy="149.1" r="0.9"/><circle cx="531.6" cy="149.3" r="0.9"/><circle cx="532.2" cy="149.3" r="0.9"/><circle cx="533.8" cy="149.6" r="0.9"/><circle cx="534.6" cy="149.1" r="0.9"/><circle cx="535.9" cy="149.2" r="0.9"/><circle cx="536.4" cy="149.1" r="0.9"/><circle cx="537.8" cy="149.4" r="0.9"/><circle cx="538.6" cy="149.2" r="0.9"/><circle cx="540.0" cy="149.2" r="0.9"/><circle cx="540.8" cy="149.4" r="0.9"/><circle cx="542.0" cy="149.4" r="0.9"/><circle cx="543.1" cy="149.5" r="0.9"/><circle cx="525.1" cy="137.9" r="0.9"/><circle cx="526.3" cy="137.8" r="0.9"/><circle cx="527.2" cy="137.7" r="0.9"/><circle cx="528.2" cy="137.3" r="0.9"/><circle cx="529.6" cy="137.8" r="0.9"/><circle cx="530.5" cy="137.9" r="0.9"/><circle cx="531.5" cy="138.0" r="0.9"/><circle cx="532.5" cy="137.9" r="0.9"/><circle cx="533.3" cy="137.5" r="0.9"/><circle cx="534.6" cy="137.8" r="0.9"/><circle cx="535.7" cy="137.8" r="0.9"/><circle cx="536.6" cy="137.7" r="0.9"/><circle cx="537.9" cy="137.7" r="0.9"/><circle cx="538.5" cy="137.7" r="0.9"/><circle cx="539.6" cy="137.5" r="0.9"/><circle cx="540.7" cy="137.8" r="0.9"/><circle cx="541.8" cy="137.8" r="0.9"/><circle cx="542.8" cy="137.4" r="0.9"/><circle cx="544.2" cy="137.9" r="0.9"/><circle cx="520.8" cy="145.0" r="0.9"/><circle cx="521.7" cy="145.0" r="0.9"/><circle cx="522.2" cy="144.6" r="0.9"/><circle cx="522.8" cy="145.2" r="0.9"/><circle cx="523.7" cy="145.0" r="0.9"/><circle cx="524.2" cy="145.1" r="0.9"/><circle cx="525.3" cy="144.7" r="0.9"/><circle cx="525.9" cy="145.2" r="0.9"/><circle cx="526.7" cy="145.0" r="0.9"/><circle cx="527.1" cy="144.8" r="0.9"/><circle cx="527.9" cy="144.8" r="0.9"/><circle cx="528.4" cy="145.0" r="0.9"/><circle cx="529.3" cy="145.2" r="0.9"/><circle cx="529.4" cy="144.7" r="0.9"/><circle cx="530.2" cy="144.9" r="0.9"/><circle cx="531.1" cy="144.8" r="0.9"/><circle cx="531.7" cy="144.9" r="0.9"/><circle cx="532.2" cy="145.0" r="0.9"/><circle cx="532.9" cy="145.3" r="0.9"/><circle cx="533.4" cy="145.2" r="0.9"/><circle cx="534.4" cy="144.9" r="0.9"/><circle cx="534.7" cy="145.1" r="0.9"/><circle cx="535.8" cy="144.8" r="0.9"/><circle cx="536.4" cy="145.0" r="0.9"/><circle cx="536.7" cy="145.2" r="0.9"/><circle cx="537.5" cy="144.9" r="0.9"/><circle cx="538.4" cy="145.2" r="0.9"/><circle cx="539.1" cy="144.9" r="0.9"/><circle cx="539.7" cy="144.7" r="0.9"/><circle cx="540.2" cy="144.9" r="0.9"/><circle cx="541.1" cy="145.1" r="0.9"/><circle cx="541.6" cy="145.2" r="0.9"/><circle cx="542.1" cy="144.9" r="0.9"/><circle cx="542.6" cy="144.8" r="0.9"/><circle cx="543.3" cy="145.1" r="0.9"/><circle cx="543.9" cy="145.2" r="0.9"/><circle cx="544.9" cy="144.9" r="0.9"/><circle cx="545.2" cy="144.9" r="0.9"/><circle cx="546.2" cy="144.7" r="0.9"/><circle cx="547.1" cy="144.9" r="0.9"/><circle cx="547.4" cy="144.8" r="0.9"/><circle cx="548.0" cy="144.8" r="0.9"/><circle cx="526.8" cy="136.2" r="0.9"/><circle cx="527.6" cy="136.6" r="0.9"/><circle cx="528.7" cy="136.4" r="0.9"/><circle cx="529.8" cy="136.2" r="0.9"/><circle cx="530.8" cy="136.4" r="0.9"/><circle cx="532.1" cy="136.4" r="0.9"/><circle cx="532.9" cy="136.6" r="0.9"/><circle cx="533.9" cy="136.5" r="0.9"/><circle cx="535.0" cy="136.6" r="0.9"/><circle cx="536.2" cy="136.6" r="0.9"/><circle cx="537.5" cy="136.7" r="0.9"/><circle cx="538.6" cy="136.3" r="0.9"/><circle cx="539.7" cy="136.4" r="0.9"/><circle cx="540.4" cy="136.5" r="0.9"/><circle cx="541.8" cy="136.8" r="0.9"/><circle cx="542.8" cy="136.3" r="0.9"/><circle cx="520.9" cy="139.9" r="0.9"/><circle cx="522.2" cy="140.3" r="0.9"/><circle cx="522.9" cy="139.8" r="0.9"/><circle cx="524.5" cy="140.0" r="0.9"/><circle cx="525.0" cy="140.1" r="0.9"/><circle cx="526.1" cy="140.4" r="0.9"/><circle cx="527.3" cy="140.2" r="0.9"/><circle cx="528.6" cy="139.9" r="0.9"/><circle cx="529.2" cy="140.3" r="0.9"/><circle cx="530.5" cy="140.1" r="0.9"/><circle cx="531.4" cy="140.2" r="0.9"/><circle cx="532.8" cy="140.4" r="0.9"/><circle cx="533.8" cy="140.5" r="0.9"/><circle cx="534.4" cy="139.8" r="0.9"/><circle cx="535.8" cy="140.0" r="0.9"/><circle cx="536.7" cy="140.1" r="0.9"/><circle cx="538.0" cy="140.1" r="0.9"/><circle cx="538.5" cy="139.9" r="0.9"/><circle cx="540.0" cy="140.4" r="0.9"/><circle cx="540.6" cy="140.5" r="0.9"/><circle cx="541.8" cy="140.3" r="0.9"/><circle cx="542.9" cy="140.4" r="0.9"/><circle cx="543.9" cy="139.8" r="0.9"/><circle cx="545.0" cy="140.4" r="0.9"/><circle cx="546.0" cy="140.4" r="0.9"/><circle cx="547.0" cy="140.0" r="0.9"/><circle cx="548.0" cy="139.9" r="0.9"/><circle cx="523.1" cy="133.4" r="0.9"/><circle cx="524.2" cy="133.3" r="0.9"/><circle cx="525.0" cy="133.0" r="0.9"/><circle cx="526.3" cy="133.0" r="0.9"/><circle cx="527.0" cy="133.4" r="0.9"/><circle cx="528.1" cy="133.2" r="0.9"/><circle cx="529.7" cy="132.9" r="0.9"/><circle cx="530.3" cy="133.0" r="0.9"/><circle cx="531.5" cy="133.4" r="0.9"/><circle cx="532.3" cy="132.9" r="0.9"/><circle cx="533.8" cy="132.9" r="0.9"/><circle cx="534.7" cy="133.3" r="0.9"/><circle cx="535.3" cy="132.8" r="0.9"/><circle cx="536.8" cy="133.4" r="0.9"/><circle cx="537.9" cy="133.1" r="0.9"/><circle cx="538.5" cy="133.1" r="0.9"/><circle cx="539.6" cy="133.0" r="0.9"/><circle cx="540.6" cy="133.1" r="0.9"/><circle cx="541.9" cy="132.9" r="0.9"/><circle cx="542.8" cy="132.8" r="0.9"/><circle cx="543.7" cy="132.8" r="0.9"/><circle cx="545.3" cy="132.8" r="0.9"/><circle cx="546.2" cy="133.1" r="0.9"/><circle cx="523.2" cy="143.0" r="0.9"/><circle cx="524.4" cy="143.4" r="0.9"/><circle cx="525.1" cy="143.1" r="0.9"/><circle cx="526.5" cy="142.9" r="0.9"/><circle cx="527.5" cy="143.3" r="0.9"/><circle cx="528.4" cy="143.2" r="0.9"/><circle cx="529.4" cy="142.9" r="0.9"/><circle cx="530.3" cy="143.1" r="0.9"/><circle cx="531.3" cy="142.9" r="0.9"/><circle cx="532.6" cy="143.1" r="0.9"/><circle cx="533.7" cy="143.1" r="0.9"/><circle cx="534.9" cy="143.0" r="0.9"/><circle cx="535.7" cy="143.1" r="0.9"/><circle cx="536.9" cy="142.9" r="0.9"/><circle cx="537.8" cy="143.1" r="0.9"/><circle cx="538.9" cy="143.0" r="0.9"/><circle cx="539.9" cy="143.5" r="0.9"/><circle cx="540.6" cy="143.5" r="0.9"/><circle cx="542.2" cy="143.1" r="0.9"/><circle cx="542.7" cy="143.2" r="0.9"/><circle cx="544.3" cy="142.8" r="0.9"/><circle cx="545.2" cy="143.4" r="0.9"/><circle cx="545.9" cy="143.2" r="0.9"/><circle cx="530.4" cy="123.2" r="0.9"/><circle cx="531.8" cy="123.3" r="0.9"/><circle cx="533.0" cy="123.5" r="0.9"/><circle cx="533.9" cy="123.8" r="0.9"/><circle cx="534.9" cy="123.7" r="0.9"/><circle cx="536.2" cy="123.7" r="0.9"/><circle cx="537.5" cy="123.4" r="0.9"/><circle cx="538.4" cy="123.7" r="0.9"/><circle cx="533.3" cy="113.1" r="0.9"/><circle cx="534.7" cy="113.0" r="0.9"/><circle cx="536.3" cy="112.8" r="0.9"/><circle cx="529.0" cy="134.5" r="0.9"/><circle cx="530.1" cy="134.7" r="0.9"/><circle cx="531.3" cy="134.7" r="0.9"/><circle cx="532.6" cy="134.6" r="0.9"/><circle cx="533.3" cy="134.3" r="0.9"/><circle cx="534.4" cy="134.3" r="0.9"/><circle cx="535.5" cy="134.3" r="0.9"/><circle cx="537.0" cy="134.2" r="0.9"/><circle cx="538.2" cy="134.8" r="0.9"/><circle cx="539.2" cy="134.3" r="0.9"/><circle cx="540.0" cy="134.4" r="0.9"/><circle cx="533.2" cy="106.8" r="0.9"/><circle cx="534.3" cy="106.2" r="0.9"/><circle cx="536.3" cy="106.2" r="0.9"/><circle cx="525.3" cy="138.6" r="0.9"/><circle cx="526.4" cy="138.8" r="0.9"/><circle cx="527.3" cy="139.0" r="0.9"/><circle cx="528.5" cy="138.8" r="0.9"/><circle cx="529.3" cy="139.0" r="0.9"/><circle cx="530.2" cy="138.7" r="0.9"/><circle cx="531.7" cy="139.1" r="0.9"/><circle cx="532.7" cy="138.7" r="0.9"/><circle cx="533.5" cy="138.5" r="0.9"/><circle cx="534.8" cy="138.5" r="0.9"/><circle cx="535.5" cy="138.5" r="0.9"/><circle cx="536.7" cy="139.2" r="0.9"/><circle cx="537.5" cy="138.6" r="0.9"/><circle cx="538.7" cy="139.0" r="0.9"/><circle cx="539.8" cy="138.6" r="0.9"/><circle cx="541.0" cy="139.1" r="0.9"/><circle cx="541.8" cy="138.5" r="0.9"/><circle cx="543.0" cy="139.1" r="0.9"/><circle cx="543.8" cy="138.6" r="0.9"/><circle cx="532.2" cy="120.0" r="0.9"/><circle cx="533.3" cy="119.5" r="0.9"/><circle cx="534.6" cy="119.5" r="0.9"/><circle cx="535.6" cy="119.5" r="0.9"/><circle cx="537.4" cy="119.5" r="0.9"/><circle cx="531.6" cy="109.3" r="0.9"/><circle cx="532.6" cy="109.0" r="0.9"/><circle cx="534.2" cy="109.1" r="0.9"/><circle cx="535.0" cy="109.1" r="0.9"/><circle cx="536.7" cy="109.3" r="0.9"/><circle cx="537.9" cy="108.8" r="0.9"/><circle cx="531.3" cy="122.5" r="0.9"/><circle cx="532.5" cy="122.8" r="0.9"/><circle cx="533.9" cy="122.5" r="0.9"/><circle cx="535.4" cy="122.4" r="0.9"/><circle cx="536.6" cy="122.2" r="0.9"/><circle cx="537.6" cy="122.6" r="0.9"/><circle cx="530.1" cy="125.6" r="0.9"/><circle cx="531.4" cy="125.7" r="0.9"/><circle cx="532.6" cy="125.7" r="0.9"/><circle cx="533.7" cy="125.6" r="0.9"/><circle cx="534.7" cy="126.1" r="0.9"/><circle cx="535.8" cy="125.8" r="0.9"/><circle cx="537.1" cy="126.2" r="0.9"/><circle cx="538.2" cy="125.6" r="0.9"/><circle cx="538.9" cy="125.9" r="0.9"/><circle cx="521.9" cy="151.8" r="0.9"/><circle cx="523.2" cy="152.4" r="0.9"/><circle cx="524.0" cy="152.3" r="0.9"/><circle cx="525.5" cy="152.4" r="0.9"/><circle cx="526.0" cy="151.8" r="0.9"/><circle cx="527.6" cy="152.4" r="0.9"/><circle cx="528.2" cy="151.8" r="0.9"/><circle cx="529.5" cy="151.8" r="0.9"/><circle cx="530.2" cy="151.8" r="0.9"/><circle cx="531.5" cy="152.0" r="0.9"/><circle cx="532.7" cy="151.8" r="0.9"/><circle cx="533.8" cy="152.3" r="0.9"/><circle cx="534.5" cy="152.1" r="0.9"/><circle cx="535.7" cy="151.8" r="0.9"/><circle cx="536.9" cy="152.0" r="0.9"/><circle cx="537.7" cy="152.3" r="0.9"/><circle cx="538.5" cy="151.9" r="0.9"/><circle cx="539.5" cy="152.2" r="0.9"/><circle cx="540.7" cy="152.2" r="0.9"/><circle cx="542.0" cy="152.4" r="0.9"/><circle cx="542.7" cy="152.0" r="0.9"/><circle cx="544.1" cy="152.0" r="0.9"/><circle cx="544.8" cy="152.2" r="0.9"/><circle cx="546.2" cy="152.0" r="0.9"/><circle cx="547.0" cy="151.8" r="0.9"/><circle cx="521.0" cy="147.2" r="0.9"/><circle cx="521.9" cy="147.3" r="0.9"/><circle cx="522.9" cy="147.0" r="0.9"/><circle cx="524.1" cy="147.3" r="0.9"/><circle cx="525.0" cy="146.9" r="0.9"/><circle cx="525.7" cy="146.7" r="0.9"/><circle cx="526.7" cy="147.2" r="0.9"/><circle cx="527.4" cy="146.8" r="0.9"/><circle cx="528.3" cy="146.9" r="0.9"/><circle cx="529.5" cy="147.3" r="0.9"/><circle cx="530.5" cy="147.3" r="0.9"/><circle cx="531.2" cy="146.9" r="0.9"/><circle cx="532.4" cy="146.7" r="0.9"/><circle cx="533.2" cy="147.1" r="0.9"/><circle cx="533.9" cy="146.8" r="0.9"/><circle cx="535.2" cy="146.7" r="0.9"/><circle cx="536.1" cy="146.9" r="0.9"/><circle cx="536.9" cy="147.2" r="0.9"/><circle cx="537.8" cy="147.2" r="0.9"/><circle cx="539.0" cy="147.0" r="0.9"/><circle cx="539.5" cy="146.9" r="0.9"/><circle cx="540.9" cy="146.8" r="0.9"/><circle cx="541.6" cy="146.8" r="0.9"/><circle cx="542.7" cy="147.1" r="0.9"/><circle cx="543.7" cy="147.0" r="0.9"/><circle cx="544.1" cy="147.2" r="0.9"/><circle cx="545.4" cy="147.3" r="0.9"/><circle cx="546.2" cy="146.8" r="0.9"/><circle cx="547.1" cy="147.0" r="0.9"/><circle cx="548.2" cy="147.1" r="0.9"/><circle cx="523.3" cy="141.6" r="0.9"/><circle cx="524.0" cy="141.8" r="0.9"/><circle cx="525.3" cy="141.3" r="0.9"/><circle cx="526.2" cy="141.8" r="0.9"/><circle cx="527.3" cy="141.3" r="0.9"/><circle cx="528.5" cy="141.7" r="0.9"/><circle cx="529.2" cy="141.7" r="0.9"/><circle cx="530.6" cy="141.6" r="0.9"/><circle cx="531.7" cy="141.6" r="0.9"/><circle cx="532.2" cy="141.7" r="0.9"/><circle cx="533.8" cy="141.9" r="0.9"/><circle cx="534.8" cy="141.9" r="0.9"/><circle cx="535.8" cy="141.6" r="0.9"/><circle cx="536.4" cy="141.3" r="0.9"/><circle cx="537.5" cy="141.9" r="0.9"/><circle cx="539.0" cy="141.9" r="0.9"/><circle cx="540.0" cy="141.5" r="0.9"/><circle cx="540.9" cy="141.2" r="0.9"/><circle cx="541.7" cy="141.5" r="0.9"/><circle cx="542.7" cy="141.4" r="0.9"/><circle cx="544.0" cy="141.3" r="0.9"/><circle cx="544.9" cy="141.3" r="0.9"/><circle cx="546.1" cy="141.8" r="0.9"/><circle cx="521.1" cy="155.6" r="0.9"/><circle cx="522.2" cy="155.6" r="0.9"/><circle cx="523.3" cy="155.4" r="0.9"/><circle cx="523.8" cy="155.2" r="0.9"/><circle cx="525.0" cy="155.3" r="0.9"/><circle cx="526.2" cy="155.4" r="0.9"/><circle cx="527.0" cy="155.2" r="0.9"/><circle cx="528.2" cy="155.8" r="0.9"/><circle cx="529.2" cy="155.2" r="0.9"/><circle cx="530.2" cy="155.6" r="0.9"/><circle cx="531.1" cy="155.5" r="0.9"/><circle cx="532.3" cy="155.4" r="0.9"/><circle cx="533.2" cy="155.2" r="0.9"/><circle cx="534.3" cy="155.5" r="0.9"/><circle cx="534.9" cy="155.5" r="0.9"/><circle cx="536.3" cy="155.4" r="0.9"/><circle cx="537.0" cy="155.6" r="0.9"/><circle cx="538.4" cy="155.8" r="0.9"/><circle cx="539.0" cy="155.4" r="0.9"/><circle cx="540.0" cy="155.2" r="0.9"/><circle cx="541.1" cy="155.3" r="0.9"/><circle cx="542.1" cy="155.7" r="0.9"/><circle cx="543.1" cy="155.8" r="0.9"/><circle cx="543.9" cy="155.2" r="0.9"/><circle cx="544.8" cy="155.6" r="0.9"/><circle cx="546.0" cy="155.2" r="0.9"/><circle cx="547.2" cy="155.8" r="0.9"/><circle cx="548.3" cy="155.8" r="0.9"/><circle cx="533.9" cy="75.4" r="0.9"/><circle cx="535.4" cy="75.6" r="0.9"/><circle cx="530.4" cy="117.3" r="0.9"/><circle cx="531.7" cy="117.7" r="0.9"/><circle cx="533.0" cy="117.5" r="0.9"/><circle cx="533.8" cy="117.3" r="0.9"/><circle cx="535.2" cy="117.6" r="0.9"/><circle cx="536.3" cy="117.7" r="0.9"/><circle cx="537.5" cy="117.8" r="0.9"/><circle cx="538.9" cy="117.6" r="0.9"/><circle cx="529.0" cy="128.6" r="0.9"/><circle cx="530.0" cy="128.3" r="0.9"/><circle cx="531.4" cy="128.5" r="0.9"/><circle cx="532.1" cy="128.5" r="0.9"/><circle cx="533.4" cy="128.3" r="0.9"/><circle cx="534.3" cy="128.6" r="0.9"/><circle cx="535.9" cy="128.8" r="0.9"/><circle cx="536.9" cy="128.4" r="0.9"/><circle cx="538.0" cy="128.4" r="0.9"/><circle cx="538.8" cy="128.4" r="0.9"/><circle cx="539.9" cy="128.3" r="0.9"/><circle cx="528.9" cy="127.2" r="0.9"/><circle cx="530.0" cy="127.6" r="0.9"/><circle cx="530.9" cy="127.2" r="0.9"/><circle cx="532.0" cy="127.3" r="0.9"/><circle cx="533.0" cy="127.4" r="0.9"/><circle cx="534.3" cy="127.2" r="0.9"/><circle cx="534.8" cy="127.5" r="0.9"/><circle cx="536.3" cy="127.6" r="0.9"/><circle cx="537.1" cy="127.4" r="0.9"/><circle cx="538.5" cy="127.5" r="0.9"/><circle cx="539.4" cy="127.1" r="0.9"/><circle cx="540.3" cy="127.7" r="0.9"/><circle cx="534.3" cy="47.0" r="0.9"/><circle cx="530.0" cy="118.8" r="0.9"/><circle cx="531.3" cy="118.7" r="0.9"/><circle cx="532.4" cy="119.2" r="0.9"/><circle cx="533.5" cy="119.1" r="0.9"/><circle cx="534.4" cy="119.0" r="0.9"/><circle cx="535.9" cy="118.9" r="0.9"/><circle cx="537.0" cy="118.8" r="0.9"/><circle cx="538.0" cy="119.3" r="0.9"/><circle cx="539.2" cy="118.9" r="0.9"/><circle cx="531.5" cy="110.2" r="0.9"/><circle cx="533.0" cy="110.2" r="0.9"/><circle cx="534.2" cy="110.5" r="0.9"/><circle cx="535.4" cy="110.3" r="0.9"/><circle cx="536.3" cy="110.4" r="0.9"/><circle cx="537.6" cy="110.0" r="0.9"/><circle cx="534.5" cy="60.6" r="0.9"/><circle cx="532.3" cy="116.3" r="0.9"/><circle cx="534.2" cy="116.6" r="0.9"/><circle cx="535.2" cy="116.6" r="0.9"/><circle cx="536.5" cy="116.5" r="0.9"/><circle cx="527.5" cy="135.7" r="0.9"/><circle cx="528.9" cy="135.4" r="0.9"/><circle cx="529.8" cy="135.4" r="0.9"/><circle cx="531.0" cy="135.7" r="0.9"/><circle cx="532.2" cy="135.2" r="0.9"/><circle cx="533.2" cy="135.2" r="0.9"/><circle cx="533.8" cy="135.4" r="0.9"/><circle cx="535.2" cy="135.2" r="0.9"/><circle cx="536.3" cy="135.8" r="0.9"/><circle cx="537.5" cy="135.7" r="0.9"/><circle cx="538.2" cy="135.3" r="0.9"/><circle cx="539.3" cy="135.4" r="0.9"/><circle cx="540.8" cy="135.8" r="0.9"/><circle cx="541.5" cy="135.5" r="0.9"/><circle cx="532.7" cy="100.1" r="0.9"/><circle cx="533.9" cy="99.5" r="0.9"/><circle cx="535.0" cy="99.5" r="0.9"/><circle cx="536.6" cy="99.5" r="0.9"/><circle cx="525.7" cy="130.6" r="0.9"/><circle cx="526.4" cy="131.0" r="0.9"/><circle cx="527.7" cy="131.0" r="0.9"/><circle cx="528.8" cy="130.7" r="0.9"/><circle cx="529.6" cy="131.1" r="0.9"/><circle cx="531.0" cy="130.6" r="0.9"/><circle cx="531.7" cy="130.9" r="0.9"/><circle cx="533.3" cy="131.0" r="0.9"/><circle cx="534.3" cy="131.1" r="0.9"/><circle cx="534.9" cy="130.6" r="0.9"/><circle cx="536.2" cy="130.5" r="0.9"/><circle cx="537.2" cy="131.0" r="0.9"/><circle cx="538.2" cy="131.0" r="0.9"/><circle cx="539.2" cy="131.0" r="0.9"/><circle cx="540.2" cy="130.5" r="0.9"/><circle cx="541.2" cy="130.9" r="0.9"/><circle cx="542.3" cy="130.9" r="0.9"/><circle cx="543.6" cy="131.1" r="0.9"/><circle cx="530.0" cy="115.5" r="0.9"/><circle cx="531.4" cy="115.2" r="0.9"/><circle cx="532.5" cy="115.4" r="0.9"/><circle cx="533.5" cy="115.2" r="0.9"/><circle cx="534.4" cy="115.3" r="0.9"/><circle cx="535.7" cy="115.2" r="0.9"/><circle cx="537.1" cy="115.1" r="0.9"/><circle cx="538.2" cy="115.3" r="0.9"/><circle cx="538.9" cy="115.3" r="0.9"/><circle cx="534.2" cy="98.4" r="0.9"/><circle cx="531.1" cy="114.3" r="0.9"/><circle cx="532.5" cy="113.8" r="0.9"/><circle cx="533.7" cy="114.4" r="0.9"/><circle cx="534.4" cy="113.8" r="0.9"/><circle cx="535.7" cy="113.8" r="0.9"/><circle cx="536.7" cy="114.1" r="0.9"/><circle cx="537.9" cy="114.2" r="0.9"/><circle cx="529.4" cy="121.5" r="0.9"/><circle cx="530.8" cy="121.1" r="0.9"/><circle cx="531.9" cy="121.7" r="0.9"/><circle cx="533.2" cy="121.1" r="0.9"/><circle cx="534.2" cy="121.3" r="0.9"/><circle cx="535.1" cy="121.4" r="0.9"/><circle cx="536.0" cy="121.5" r="0.9"/><circle cx="537.2" cy="121.6" r="0.9"/><circle cx="538.2" cy="121.5" r="0.9"/><circle cx="539.6" cy="121.1" r="0.9"/><circle cx="534.1" cy="93.9" r="0.9"/><circle cx="533.5" cy="94.5" r="0.9"/><circle cx="535.4" cy="94.5" r="0.9"/><circle cx="532.8" cy="111.0" r="0.9"/><circle cx="534.1" cy="111.0" r="0.9"/><circle cx="535.5" cy="111.5" r="0.9"/><circle cx="536.8" cy="111.2" r="0.9"/><circle cx="531.4" cy="129.6" r="0.9"/><circle cx="532.3" cy="129.9" r="0.9"/><circle cx="533.2" cy="129.3" r="0.9"/><circle cx="534.7" cy="129.5" r="0.9"/><circle cx="535.6" cy="129.6" r="0.9"/><circle cx="536.7" cy="129.5" r="0.9"/><circle cx="537.9" cy="129.4" r="0.9"/><circle cx="535.0" cy="45.8" r="0.9"/><circle cx="534.9" cy="101.8" r="0.9"/><circle cx="535.2" cy="96.4" r="0.9"/><circle cx="533.6" cy="105.1" r="0.9"/><circle cx="535.5" cy="105.2" r="0.9"/><circle cx="532.2" cy="166.2" r="0.9"/><circle cx="533.4" cy="165.8" r="0.9"/><circle cx="534.8" cy="165.6" r="0.9"/><circle cx="536.0" cy="165.6" r="0.9"/><circle cx="537.4" cy="166.1" r="0.9"/><circle cx="532.9" cy="108.1" r="0.9"/><circle cx="534.0" cy="108.1" r="0.9"/><circle cx="535.4" cy="108.2" r="0.9"/><circle cx="536.6" cy="108.3" r="0.9"/><circle cx="533.9" cy="159.6" r="0.9"/><circle cx="535.5" cy="160.1" r="0.9"/><circle cx="534.4" cy="80.9" r="0.9"/><circle cx="533.6" cy="104.3" r="0.9"/><circle cx="535.6" cy="104.3" r="0.9"/><circle cx="532.1" cy="124.8" r="0.9"/><circle cx="533.5" cy="124.9" r="0.9"/><circle cx="534.9" cy="124.4" r="0.9"/><circle cx="536.0" cy="124.7" r="0.9"/><circle cx="537.2" cy="124.6" r="0.9"/><circle cx="531.4" cy="131.9" r="0.9"/><circle cx="532.5" cy="131.6" r="0.9"/><circle cx="533.3" cy="131.6" r="0.9"/><circle cx="534.7" cy="131.8" r="0.9"/><circle cx="535.7" cy="131.8" r="0.9"/><circle cx="536.9" cy="131.7" r="0.9"/><circle cx="538.1" cy="132.0" r="0.9"/><circle cx="533.3" cy="58.6" r="0.9"/><circle cx="535.6" cy="59.0" r="0.9"/><circle cx="533.7" cy="52.7" r="0.9"/><circle cx="535.6" cy="52.8" r="0.9"/><circle cx="535.0" cy="84.1" r="0.9"/><circle cx="534.7" cy="87.8" r="0.9"/><circle cx="533.5" cy="49.8" r="0.9"/><circle cx="535.6" cy="50.0" r="0.9"/><circle cx="534.0" cy="100.9" r="0.9"/><circle cx="533.9" cy="73.9" r="0.9"/><circle cx="535.6" cy="73.8" r="0.9"/><circle cx="534.4" cy="83.1" r="0.9"/><circle cx="535.1" cy="74.4" r="0.9"/><circle cx="534.8" cy="72.3" r="0.9"/><circle cx="535.3" cy="103.4" r="0.9"/></g>
<g fill="#4690d8"><circle cx="564.0" cy="135.4" r="0.9"/><circle cx="565.0" cy="135.3" r="0.9"/><circle cx="565.8" cy="135.5" r="0.9"/><circle cx="566.2" cy="135.4" r="0.9"/><circle cx="567.0" cy="135.5" r="0.9"/><circle cx="568.1" cy="135.3" r="0.9"/><circle cx="568.2" cy="135.5" r="0.9"/><circle cx="569.4" cy="135.2" r="0.9"/><circle cx="569.6" cy="135.4" r="0.9"/><circle cx="570.8" cy="135.6" r="0.9"/><circle cx="571.2" cy="135.7" r="0.9"/><circle cx="572.0" cy="135.1" r="0.9"/><circle cx="572.6" cy="135.1" r="0.9"/><circle cx="573.2" cy="135.3" r="0.9"/><circle cx="574.1" cy="135.4" r="0.9"/><circle cx="575.1" cy="135.5" r="0.9"/><circle cx="575.7" cy="135.1" r="0.9"/><circle cx="576.5" cy="135.3" r="0.9"/><circle cx="577.1" cy="135.2" r="0.9"/><circle cx="577.7" cy="135.2" r="0.9"/><circle cx="578.6" cy="135.4" r="0.9"/><circle cx="579.3" cy="135.7" r="0.9"/><circle cx="579.6" cy="135.3" r="0.9"/><circle cx="580.6" cy="135.3" r="0.9"/><circle cx="581.0" cy="135.1" r="0.9"/><circle cx="582.1" cy="135.6" r="0.9"/><circle cx="582.4" cy="135.8" r="0.9"/><circle cx="583.1" cy="135.3" r="0.9"/><circle cx="583.9" cy="135.2" r="0.9"/><circle cx="584.4" cy="135.3" r="0.9"/><circle cx="585.6" cy="135.2" r="0.9"/><circle cx="586.1" cy="135.7" r="0.9"/><circle cx="586.6" cy="135.5" r="0.9"/><circle cx="587.7" cy="135.2" r="0.9"/><circle cx="572.3" cy="116.8" r="0.9"/><circle cx="572.8" cy="117.0" r="0.9"/><circle cx="573.7" cy="116.9" r="0.9"/><circle cx="574.6" cy="116.5" r="0.9"/><circle cx="574.9" cy="116.3" r="0.9"/><circle cx="575.7" cy="116.4" r="0.9"/><circle cx="576.8" cy="116.5" r="0.9"/><circle cx="577.5" cy="116.3" r="0.9"/><circle cx="577.9" cy="116.4" r="0.9"/><circle cx="578.7" cy="116.7" r="0.9"/><circle cx="579.7" cy="116.5" r="0.9"/><circle cx="564.2" cy="155.7" r="0.9"/><circle cx="564.4" cy="155.5" r="0.9"/><circle cx="565.3" cy="155.6" r="0.9"/><circle cx="565.9" cy="155.3" r="0.9"/><circle cx="566.5" cy="155.5" r="0.9"/><circle cx="567.4" cy="155.4" r="0.9"/><circle cx="568.4" cy="155.7" r="0.9"/><circle cx="568.6" cy="155.1" r="0.9"/><circle cx="569.6" cy="155.3" r="0.9"/><circle cx="570.1" cy="155.5" r="0.9"/><circle cx="571.1" cy="155.3" r="0.9"/><circle cx="571.8" cy="155.2" r="0.9"/><circle cx="572.6" cy="155.5" r="0.9"/><circle cx="573.1" cy="155.6" r="0.9"/><circle cx="573.8" cy="155.3" r="0.9"/><circle cx="574.3" cy="155.5" r="0.9"/><circle cx="575.3" cy="155.7" r="0.9"/><circle cx="575.8" cy="155.4" r="0.9"/><circle cx="576.4" cy="155.5" r="0.9"/><circle cx="577.4" cy="155.3" r="0.9"/><circle cx="577.8" cy="155.7" r="0.9"/><circle cx="578.6" cy="155.3" r="0.9"/><circle cx="579.5" cy="155.7" r="0.9"/><circle cx="580.3" cy="155.5" r="0.9"/><circle cx="581.0" cy="155.1" r="0.9"/><circle cx="581.4" cy="155.6" r="0.9"/><circle cx="582.2" cy="155.3" r="0.9"/><circle cx="583.2" cy="155.3" r="0.9"/><circle cx="583.5" cy="155.1" r="0.9"/><circle cx="584.3" cy="155.2" r="0.9"/><circle cx="585.3" cy="155.7" r="0.9"/><circle cx="585.8" cy="155.4" r="0.9"/><circle cx="586.3" cy="155.7" r="0.9"/><circle cx="586.9" cy="155.1" r="0.9"/><circle cx="587.6" cy="155.3" r="0.9"/><circle cx="562.7" cy="140.4" r="0.9"/><circle cx="563.1" cy="140.3" r="0.9"/><circle cx="563.8" cy="140.3" r="0.9"/><circle cx="563.8" cy="140.4" r="0.9"/><circle cx="564.5" cy="139.8" r="0.9"/><circle cx="565.1" cy="140.2" r="0.9"/><circle cx="565.2" cy="140.3" r="0.9"/><circle cx="565.7" cy="140.2" r="0.9"/><circle cx="566.1" cy="140.3" r="0.9"/><circle cx="566.8" cy="140.0" r="0.9"/><circle cx="567.2" cy="140.4" r="0.9"/><circle cx="567.5" cy="140.3" r="0.9"/><circle cx="567.7" cy="140.2" r="0.9"/><circle cx="568.4" cy="140.3" r="0.9"/><circle cx="568.6" cy="139.8" r="0.9"/><circle cx="569.0" cy="140.0" r="0.9"/><circle cx="569.3" cy="140.0" r="0.9"/><circle cx="569.8" cy="140.1" r="0.9"/><circle cx="570.4" cy="140.3" r="0.9"/><circle cx="570.6" cy="140.4" r="0.9"/><circle cx="570.9" cy="140.2" r="0.9"/><circle cx="571.6" cy="140.1" r="0.9"/><circle cx="572.0" cy="140.4" r="0.9"/><circle cx="572.4" cy="140.1" r="0.9"/><circle cx="572.4" cy="140.3" r="0.9"/><circle cx="573.1" cy="140.2" r="0.9"/><circle cx="573.2" cy="139.8" r="0.9"/><circle cx="573.6" cy="139.8" r="0.9"/><circle cx="574.6" cy="140.1" r="0.9"/><circle cx="574.9" cy="140.1" r="0.9"/><circle cx="575.3" cy="139.8" r="0.9"/><circle cx="575.3" cy="140.3" r="0.9"/><circle cx="575.9" cy="140.0" r="0.9"/><circle cx="576.1" cy="140.4" r="0.9"/><circle cx="576.7" cy="140.2" r="0.9"/><circle cx="577.1" cy="140.4" r="0.9"/><circle cx="577.3" cy="140.0" r="0.9"/><circle cx="577.8" cy="140.1" r="0.9"/><circle cx="578.2" cy="140.0" r="0.9"/><circle cx="578.5" cy="140.3" r="0.9"/><circle cx="578.9" cy="139.9" r="0.9"/><circle cx="579.3" cy="140.4" r="0.9"/><circle cx="579.8" cy="140.0" r="0.9"/><circle cx="580.4" cy="140.3" r="0.9"/><circle cx="580.7" cy="140.1" r="0.9"/><circle cx="580.9" cy="139.8" r="0.9"/><circle cx="581.9" cy="140.1" r="0.9"/><circle cx="582.1" cy="139.9" r="0.9"/><circle cx="582.5" cy="140.3" r="0.9"/><circle cx="582.8" cy="140.4" r="0.9"/><circle cx="583.5" cy="139.9" r="0.9"/><circle cx="583.5" cy="140.1" r="0.9"/><circle cx="583.8" cy="140.1" r="0.9"/><circle cx="584.3" cy="139.9" r="0.9"/><circle cx="584.6" cy="139.8" r="0.9"/><circle cx="585.1" cy="140.1" r="0.9"/><circle cx="585.7" cy="139.8" r="0.9"/><circle cx="586.3" cy="140.3" r="0.9"/><circle cx="586.6" cy="140.1" r="0.9"/><circle cx="586.6" cy="139.9" r="0.9"/><circle cx="587.2" cy="140.2" r="0.9"/><circle cx="588.0" cy="139.9" r="0.9"/><circle cx="588.3" cy="140.4" r="0.9"/><circle cx="588.7" cy="140.0" r="0.9"/><circle cx="589.0" cy="140.3" r="0.9"/><circle cx="563.1" cy="139.0" r="0.9"/><circle cx="563.8" cy="139.0" r="0.9"/><circle cx="564.0" cy="138.6" r="0.9"/><circle cx="564.4" cy="138.7" r="0.9"/><circle cx="565.4" cy="138.6" r="0.9"/><circle cx="566.1" cy="139.0" r="0.9"/><circle cx="566.2" cy="139.0" r="0.9"/><circle cx="567.1" cy="138.6" r="0.9"/><circle cx="567.6" cy="138.9" r="0.9"/><circle cx="568.1" cy="138.8" r="0.9"/><circle cx="568.6" cy="138.7" r="0.9"/><circle cx="569.6" cy="139.0" r="0.9"/><circle cx="570.2" cy="138.8" r="0.9"/><circle cx="570.6" cy="138.7" r="0.9"/><circle cx="571.4" cy="139.0" r="0.9"/><circle cx="571.8" cy="138.7" r="0.9"/><circle cx="572.5" cy="139.1" r="0.9"/><circle cx="572.9" cy="138.5" r="0.9"/><circle cx="573.4" cy="138.7" r="0.9"/><circle cx="573.8" cy="138.6" r="0.9"/><circle cx="574.6" cy="139.0" r="0.9"/><circle cx="575.6" cy="139.1" r="0.9"/><circle cx="575.9" cy="139.1" r="0.9"/><circle cx="576.5" cy="138.6" r="0.9"/><circle cx="577.1" cy="138.8" r="0.9"/><circle cx="577.9" cy="138.7" r="0.9"/><circle cx="578.0" cy="138.5" r="0.9"/><circle cx="578.9" cy="138.9" r="0.9"/><circle cx="579.4" cy="139.0" r="0.9"/><circle cx="580.2" cy="139.0" r="0.9"/><circle cx="580.5" cy="138.9" r="0.9"/><circle cx="581.4" cy="138.5" r="0.9"/><circle cx="581.5" cy="138.8" r="0.9"/><circle cx="582.5" cy="138.6" r="0.9"/><circle cx="582.9" cy="138.6" r="0.9"/><circle cx="583.6" cy="139.1" r="0.9"/><circle cx="583.9" cy="138.8" r="0.9"/><circle cx="584.6" cy="138.8" r="0.9"/><circle cx="585.1" cy="139.0" r="0.9"/><circle cx="586.1" cy="138.9" r="0.9"/><circle cx="586.3" cy="138.5" r="0.9"/><circle cx="587.0" cy="138.5" r="0.9"/><circle cx="587.6" cy="138.9" r="0.9"/><circle cx="588.6" cy="138.5" r="0.9"/><circle cx="588.7" cy="138.8" r="0.9"/><circle cx="563.0" cy="136.2" r="0.9"/><circle cx="563.4" cy="136.2" r="0.9"/><circle cx="564.3" cy="136.5" r="0.9"/><circle cx="564.6" cy="136.2" r="0.9"/><circle cx="565.0" cy="136.5" r="0.9"/><circle cx="565.5" cy="136.3" r="0.9"/><circle cx="566.0" cy="136.2" r="0.9"/><circle cx="566.9" cy="136.4" r="0.9"/><circle cx="567.3" cy="136.4" r="0.9"/><circle cx="567.7" cy="136.3" r="0.9"/><circle cx="568.7" cy="136.5" r="0.9"/><circle cx="569.3" cy="136.3" r="0.9"/><circle cx="570.0" cy="136.8" r="0.9"/><circle cx="570.0" cy="136.4" r="0.9"/><circle cx="571.0" cy="136.3" r="0.9"/><circle cx="571.4" cy="136.6" r="0.9"/><circle cx="571.7" cy="136.5" r="0.9"/><circle cx="572.7" cy="136.6" r="0.9"/><circle cx="573.3" cy="136.7" r="0.9"/><circle cx="573.6" cy="136.2" r="0.9"/><circle cx="574.4" cy="136.8" r="0.9"/><circle cx="574.9" cy="136.7" r="0.9"/><circle cx="575.5" cy="136.4" r="0.9"/><circle cx="575.8" cy="136.2" r="0.9"/><circle cx="576.5" cy="136.7" r="0.9"/><circle cx="577.3" cy="136.6" r="0.9"/><circle cx="577.8" cy="136.4" r="0.9"/><circle cx="578.0" cy="136.5" r="0.9"/><circle cx="578.7" cy="136.4" r="0.9"/><circle cx="579.4" cy="136.5" r="0.9"/><circle cx="579.7" cy="136.8" r="0.9"/><circle cx="580.6" cy="136.6" r="0.9"/><circle cx="580.7" cy="136.6" r="0.9"/><circle cx="581.8" cy="136.2" r="0.9"/><circle cx="582.4" cy="136.2" r="0.9"/><circle cx="582.7" cy="136.3" r="0.9"/><circle cx="583.5" cy="136.4" r="0.9"/><circle cx="584.0" cy="136.4" r="0.9"/><circle cx="584.1" cy="136.5" r="0.9"/><circle cx="584.7" cy="136.4" r="0.9"/><circle cx="585.4" cy="136.2" r="0.9"/><circle cx="586.0" cy="136.7" r="0.9"/><circle cx="586.5" cy="136.8" r="0.9"/><circle cx="587.5" cy="136.2" r="0.9"/><circle cx="587.9" cy="136.7" r="0.9"/><circle cx="588.2" cy="136.3" r="0.9"/><circle cx="588.7" cy="136.7" r="0.9"/><circle cx="568.1" cy="149.4" r="0.9"/><circle cx="569.2" cy="149.0" r="0.9"/><circle cx="569.9" cy="149.4" r="0.9"/><circle cx="570.5" cy="149.2" r="0.9"/><circle cx="571.4" cy="149.2" r="0.9"/><circle cx="571.9" cy="149.6" r="0.9"/><circle cx="572.9" cy="149.3" r="0.9"/><circle cx="573.4" cy="149.0" r="0.9"/><circle cx="574.0" cy="149.1" r="0.9"/><circle cx="574.6" cy="149.3" r="0.9"/><circle cx="575.8" cy="149.6" r="0.9"/><circle cx="576.1" cy="149.0" r="0.9"/><circle cx="576.7" cy="149.3" r="0.9"/><circle cx="577.9" cy="149.6" r="0.9"/><circle cx="578.6" cy="149.6" r="0.9"/><circle cx="579.2" cy="149.2" r="0.9"/><circle cx="579.7" cy="149.3" r="0.9"/><circle cx="580.8" cy="149.2" r="0.9"/><circle cx="581.1" cy="149.6" r="0.9"/><circle cx="582.1" cy="149.5" r="0.9"/><circle cx="582.8" cy="149.6" r="0.9"/><circle cx="583.1" cy="149.3" r="0.9"/><circle cx="566.6" cy="130.8" r="0.9"/><circle cx="567.0" cy="131.0" r="0.9"/><circle cx="567.6" cy="131.0" r="0.9"/><circle cx="568.6" cy="130.9" r="0.9"/><circle cx="569.3" cy="130.5" r="0.9"/><circle cx="569.7" cy="130.6" r="0.9"/><circle cx="570.9" cy="131.0" r="0.9"/><circle cx="571.4" cy="130.4" r="0.9"/><circle cx="571.9" cy="130.6" r="0.9"/><circle cx="572.8" cy="131.0" r="0.9"/><circle cx="573.3" cy="130.8" r="0.9"/><circle cx="574.0" cy="130.4" r="0.9"/><circle cx="574.9" cy="130.4" r="0.9"/><circle cx="575.8" cy="130.6" r="0.9"/><circle cx="576.4" cy="130.8" r="0.9"/><circle cx="577.1" cy="130.7" r="0.9"/><circle cx="577.4" cy="130.6" r="0.9"/><circle cx="578.4" cy="130.9" r="0.9"/><circle cx="579.0" cy="130.9" r="0.9"/><circle cx="579.8" cy="130.9" r="0.9"/><circle cx="580.8" cy="130.7" r="0.9"/><circle cx="581.5" cy="130.4" r="0.9"/><circle cx="581.8" cy="130.4" r="0.9"/><circle cx="582.7" cy="130.4" r="0.9"/><circle cx="583.3" cy="130.4" r="0.9"/><circle cx="584.3" cy="130.8" r="0.9"/><circle cx="584.9" cy="130.7" r="0.9"/><circle cx="585.3" cy="130.6" r="0.9"/><circle cx="570.9" cy="121.3" r="0.9"/><circle cx="571.5" cy="121.0" r="0.9"/><circle cx="572.2" cy="121.3" r="0.9"/><circle cx="573.2" cy="121.2" r="0.9"/><circle cx="573.5" cy="121.0" r="0.9"/><circle cx="574.4" cy="120.9" r="0.9"/><circle cx="575.1" cy="121.0" r="0.9"/><circle cx="575.6" cy="121.0" r="0.9"/><circle cx="576.9" cy="120.8" r="0.9"/><circle cx="577.5" cy="120.9" r="0.9"/><circle cx="578.2" cy="120.8" r="0.9"/><circle cx="578.8" cy="121.0" r="0.9"/><circle cx="579.6" cy="120.8" r="0.9"/><circle cx="580.4" cy="121.2" r="0.9"/><circle cx="580.9" cy="120.7" r="0.9"/><circle cx="570.7" cy="127.5" r="0.9"/><circle cx="571.1" cy="127.7" r="0.9"/><circle cx="571.7" cy="127.8" r="0.9"/><circle cx="572.8" cy="127.2" r="0.9"/><circle cx="573.0" cy="127.4" r="0.9"/><circle cx="573.8" cy="127.5" r="0.9"/><circle cx="575.0" cy="127.5" r="0.9"/><circle cx="575.6" cy="127.1" r="0.9"/><circle cx="576.2" cy="127.7" r="0.9"/><circle cx="577.1" cy="127.2" r="0.9"/><circle cx="577.6" cy="127.4" r="0.9"/><circle cx="578.2" cy="127.6" r="0.9"/><circle cx="579.4" cy="127.7" r="0.9"/><circle cx="580.2" cy="127.2" r="0.9"/><circle cx="580.8" cy="127.5" r="0.9"/><circle cx="581.3" cy="127.2" r="0.9"/><circle cx="570.8" cy="146.8" r="0.9"/><circle cx="571.9" cy="146.8" r="0.9"/><circle cx="572.3" cy="147.2" r="0.9"/><circle cx="573.4" cy="146.8" r="0.9"/><circle cx="573.8" cy="147.0" r="0.9"/><circle cx="574.9" cy="147.2" r="0.9"/><circle cx="575.7" cy="146.9" r="0.9"/><circle cx="576.5" cy="146.7" r="0.9"/><circle cx="577.1" cy="146.7" r="0.9"/><circle cx="578.0" cy="146.7" r="0.9"/><circle cx="578.7" cy="147.2" r="0.9"/><circle cx="579.0" cy="147.1" r="0.9"/><circle cx="580.1" cy="147.1" r="0.9"/><circle cx="580.7" cy="146.6" r="0.9"/><circle cx="568.2" cy="134.3" r="0.9"/><circle cx="568.6" cy="134.6" r="0.9"/><circle cx="569.4" cy="134.2" r="0.9"/><circle cx="570.0" cy="134.8" r="0.9"/><circle cx="570.7" cy="134.3" r="0.9"/><circle cx="571.7" cy="134.6" r="0.9"/><circle cx="572.1" cy="134.6" r="0.9"/><circle cx="573.0" cy="134.4" r="0.9"/><circle cx="573.8" cy="134.3" r="0.9"/><circle cx="574.3" cy="134.5" r="0.9"/><circle cx="575.2" cy="134.6" r="0.9"/><circle cx="575.6" cy="134.2" r="0.9"/><circle cx="576.8" cy="134.6" r="0.9"/><circle cx="577.3" cy="134.7" r="0.9"/><circle cx="578.0" cy="134.3" r="0.9"/><circle cx="578.7" cy="134.2" r="0.9"/><circle cx="579.5" cy="134.7" r="0.9"/><circle cx="580.0" cy="134.3" r="0.9"/><circle cx="580.9" cy="134.3" r="0.9"/><circle cx="581.4" cy="134.6" r="0.9"/><circle cx="582.2" cy="134.2" r="0.9"/><circle cx="583.3" cy="134.6" r="0.9"/><circle cx="584.0" cy="134.1" r="0.9"/><circle cx="568.9" cy="125.9" r="0.9"/><circle cx="569.9" cy="125.5" r="0.9"/><circle cx="570.7" cy="125.9" r="0.9"/><circle cx="571.5" cy="125.9" r="0.9"/><circle cx="571.6" cy="125.8" r="0.9"/><circle cx="572.8" cy="125.8" r="0.9"/><circle cx="573.4" cy="125.9" r="0.9"/><circle cx="574.1" cy="125.6" r="0.9"/><circle cx="574.6" cy="126.1" r="0.9"/><circle cx="575.6" cy="125.8" r="0.9"/><circle cx="576.0" cy="126.1" r="0.9"/><circle cx="576.7" cy="125.7" r="0.9"/><circle cx="577.8" cy="125.7" r="0.9"/><circle cx="578.3" cy="125.7" r="0.9"/><circle cx="579.0" cy="126.2" r="0.9"/><circle cx="580.0" cy="126.2" r="0.9"/><circle cx="580.5" cy="125.6" r="0.9"/><circle cx="581.3" cy="125.8" r="0.9"/><circle cx="582.1" cy="126.0" r="0.9"/><circle cx="583.0" cy="125.8" r="0.9"/><circle cx="571.2" cy="122.4" r="0.9"/><circle cx="572.4" cy="122.1" r="0.9"/><circle cx="573.0" cy="122.5" r="0.9"/><circle cx="573.5" cy="122.3" r="0.9"/><circle cx="574.4" cy="122.2" r="0.9"/><circle cx="574.9" cy="122.2" r="0.9"/><circle cx="575.9" cy="122.1" r="0.9"/><circle cx="576.4" cy="122.7" r="0.9"/><circle cx="577.5" cy="122.2" r="0.9"/><circle cx="578.3" cy="122.6" r="0.9"/><circle cx="579.1" cy="122.6" r="0.9"/><circle cx="579.6" cy="122.2" r="0.9"/><circle cx="580.3" cy="122.3" r="0.9"/><circle cx="571.9" cy="115.2" r="0.9"/><circle cx="572.7" cy="115.4" r="0.9"/><circle cx="573.1" cy="115.1" r="0.9"/><circle cx="573.8" cy="115.0" r="0.9"/><circle cx="574.8" cy="115.6" r="0.9"/><circle cx="575.3" cy="115.3" r="0.9"/><circle cx="576.3" cy="115.2" r="0.9"/><circle cx="577.3" cy="115.0" r="0.9"/><circle cx="578.0" cy="115.4" r="0.9"/><circle cx="578.8" cy="115.3" r="0.9"/><circle cx="579.5" cy="115.1" r="0.9"/><circle cx="580.0" cy="115.6" r="0.9"/><circle cx="562.8" cy="137.6" r="0.9"/><circle cx="563.6" cy="137.7" r="0.9"/><circle cx="564.4" cy="137.6" r="0.9"/><circle cx="564.8" cy="137.5" r="0.9"/><circle cx="565.2" cy="137.9" r="0.9"/><circle cx="565.9" cy="137.7" r="0.9"/><circle cx="566.5" cy="137.8" r="0.9"/><circle cx="567.3" cy="137.4" r="0.9"/><circle cx="568.0" cy="137.5" r="0.9"/><circle cx="569.0" cy="137.9" r="0.9"/><circle cx="569.2" cy="137.4" r="0.9"/><circle cx="570.2" cy="137.7" r="0.9"/><circle cx="570.4" cy="137.6" r="0.9"/><circle cx="571.1" cy="137.4" r="0.9"/><circle cx="571.8" cy="137.4" r="0.9"/><circle cx="572.4" cy="137.5" r="0.9"/><circle cx="573.1" cy="137.9" r="0.9"/><circle cx="574.0" cy="137.8" r="0.9"/><circle cx="574.4" cy="137.4" r="0.9"/><circle cx="575.2" cy="137.7" r="0.9"/><circle cx="576.0" cy="137.3" r="0.9"/><circle cx="576.3" cy="137.6" r="0.9"/><circle cx="577.2" cy="137.6" r="0.9"/><circle cx="578.0" cy="137.5" r="0.9"/><circle cx="578.3" cy="137.8" r="0.9"/><circle cx="579.2" cy="137.3" r="0.9"/><circle cx="579.8" cy="137.6" r="0.9"/><circle cx="580.2" cy="137.5" r="0.9"/><circle cx="581.3" cy="137.7" r="0.9"/><circle cx="581.9" cy="137.7" r="0.9"/><circle cx="582.5" cy="137.8" r="0.9"/><circle cx="583.2" cy="137.6" r="0.9"/><circle cx="583.7" cy="137.7" r="0.9"/><circle cx="584.1" cy="137.4" r="0.9"/><circle cx="584.7" cy="137.4" r="0.9"/><circle cx="585.7" cy="137.4" r="0.9"/><circle cx="586.2" cy="137.5" r="0.9"/><circle cx="586.7" cy="137.7" r="0.9"/><circle cx="587.9" cy="137.5" r="0.9"/><circle cx="588.1" cy="137.3" r="0.9"/><circle cx="588.8" cy="137.9" r="0.9"/><circle cx="576.4" cy="93.4" r="0.9"/><circle cx="574.3" cy="112.3" r="0.9"/><circle cx="575.0" cy="112.5" r="0.9"/><circle cx="575.8" cy="112.9" r="0.9"/><circle cx="576.9" cy="112.8" r="0.9"/><circle cx="577.4" cy="112.7" r="0.9"/><circle cx="563.1" cy="141.5" r="0.9"/><circle cx="563.5" cy="141.2" r="0.9"/><circle cx="564.0" cy="141.5" r="0.9"/><circle cx="564.5" cy="141.7" r="0.9"/><circle cx="565.0" cy="141.5" r="0.9"/><circle cx="565.7" cy="141.2" r="0.9"/><circle cx="565.7" cy="141.3" r="0.9"/><circle cx="566.3" cy="141.5" r="0.9"/><circle cx="567.0" cy="141.3" r="0.9"/><circle cx="567.8" cy="141.7" r="0.9"/><circle cx="567.9" cy="141.8" r="0.9"/><circle cx="568.7" cy="141.8" r="0.9"/><circle cx="569.0" cy="141.7" r="0.9"/><circle cx="569.6" cy="141.7" r="0.9"/><circle cx="570.4" cy="141.9" r="0.9"/><circle cx="570.7" cy="141.3" r="0.9"/><circle cx="571.4" cy="141.9" r="0.9"/><circle cx="571.7" cy="141.5" r="0.9"/><circle cx="572.2" cy="141.4" r="0.9"/><circle cx="572.7" cy="141.5" r="0.9"/><circle cx="573.3" cy="141.6" r="0.9"/><circle cx="573.9" cy="141.6" r="0.9"/><circle cx="574.5" cy="141.3" r="0.9"/><circle cx="575.1" cy="141.3" r="0.9"/><circle cx="575.6" cy="141.7" r="0.9"/><circle cx="576.1" cy="141.6" r="0.9"/><circle cx="576.2" cy="141.5" r="0.9"/><circle cx="577.1" cy="141.5" r="0.9"/><circle cx="577.2" cy="141.5" r="0.9"/><circle cx="578.0" cy="141.3" r="0.9"/><circle cx="578.3" cy="141.5" r="0.9"/><circle cx="578.8" cy="141.4" r="0.9"/><circle cx="579.3" cy="141.4" r="0.9"/><circle cx="580.2" cy="141.3" r="0.9"/><circle cx="580.6" cy="141.4" r="0.9"/><circle cx="581.2" cy="141.4" r="0.9"/><circle cx="581.7" cy="141.8" r="0.9"/><circle cx="582.1" cy="141.4" r="0.9"/><circle cx="582.4" cy="141.7" r="0.9"/><circle cx="583.3" cy="141.4" r="0.9"/><circle cx="583.4" cy="141.2" r="0.9"/><circle cx="584.5" cy="141.7" r="0.9"/><circle cx="584.7" cy="141.7" r="0.9"/><circle cx="585.2" cy="141.9" r="0.9"/><circle cx="585.7" cy="141.3" r="0.9"/><circle cx="586.2" cy="141.7" r="0.9"/><circle cx="586.5" cy="141.6" r="0.9"/><circle cx="587.4" cy="141.4" r="0.9"/><circle cx="587.9" cy="141.7" r="0.9"/><circle cx="588.1" cy="141.4" r="0.9"/><circle cx="588.7" cy="141.5" r="0.9"/><circle cx="572.5" cy="159.6" r="0.9"/><circle cx="573.5" cy="159.6" r="0.9"/><circle cx="573.8" cy="160.1" r="0.9"/><circle cx="574.8" cy="160.1" r="0.9"/><circle cx="575.7" cy="159.7" r="0.9"/><circle cx="576.3" cy="160.1" r="0.9"/><circle cx="577.2" cy="159.5" r="0.9"/><circle cx="577.6" cy="159.9" r="0.9"/><circle cx="578.5" cy="159.8" r="0.9"/><circle cx="579.1" cy="159.5" r="0.9"/><circle cx="563.7" cy="133.2" r="0.9"/><circle cx="564.9" cy="133.3" r="0.9"/><circle cx="565.5" cy="133.2" r="0.9"/><circle cx="566.1" cy="133.2" r="0.9"/><circle cx="566.5" cy="133.0" r="0.9"/><circle cx="567.6" cy="133.5" r="0.9"/><circle cx="568.3" cy="133.0" r="0.9"/><circle cx="568.9" cy="132.9" r="0.9"/><circle cx="569.5" cy="132.8" r="0.9"/><circle cx="570.5" cy="132.9" r="0.9"/><circle cx="570.9" cy="133.5" r="0.9"/><circle cx="571.6" cy="132.9" r="0.9"/><circle cx="572.4" cy="133.1" r="0.9"/><circle cx="572.9" cy="133.3" r="0.9"/><circle cx="573.6" cy="132.8" r="0.9"/><circle cx="574.4" cy="133.0" r="0.9"/><circle cx="575.4" cy="133.1" r="0.9"/><circle cx="576.1" cy="133.1" r="0.9"/><circle cx="576.6" cy="133.4" r="0.9"/><circle cx="577.3" cy="133.0" r="0.9"/><circle cx="578.2" cy="133.4" r="0.9"/><circle cx="578.8" cy="133.5" r="0.9"/><circle cx="579.4" cy="133.4" r="0.9"/><circle cx="579.9" cy="132.9" r="0.9"/><circle cx="580.9" cy="133.3" r="0.9"/><circle cx="581.3" cy="133.2" r="0.9"/><circle cx="582.0" cy="132.9" r="0.9"/><circle cx="583.0" cy="133.2" r="0.9"/><circle cx="583.9" cy="132.9" r="0.9"/><circle cx="584.5" cy="133.0" r="0.9"/><circle cx="585.2" cy="133.1" r="0.9"/><circle cx="585.7" cy="132.9" r="0.9"/><circle cx="586.8" cy="133.1" r="0.9"/><circle cx="587.2" cy="133.0" r="0.9"/><circle cx="587.9" cy="132.9" r="0.9"/><circle cx="572.8" cy="113.9" r="0.9"/><circle cx="573.5" cy="114.2" r="0.9"/><circle cx="574.1" cy="114.1" r="0.9"/><circle cx="574.8" cy="114.1" r="0.9"/><circle cx="575.9" cy="114.3" r="0.9"/><circle cx="576.8" cy="114.0" r="0.9"/><circle cx="577.2" cy="114.1" r="0.9"/><circle cx="578.1" cy="114.0" r="0.9"/><circle cx="579.3" cy="114.1" r="0.9"/><circle cx="567.0" cy="151.7" r="0.9"/><circle cx="567.6" cy="151.8" r="0.9"/><circle cx="568.3" cy="152.1" r="0.9"/><circle cx="569.1" cy="152.1" r="0.9"/><circle cx="569.6" cy="151.8" r="0.9"/><circle cx="570.8" cy="152.0" r="0.9"/><circle cx="571.0" cy="152.0" r="0.9"/><circle cx="571.9" cy="151.9" r="0.9"/><circle cx="572.8" cy="152.2" r="0.9"/><circle cx="573.6" cy="152.3" r="0.9"/><circle cx="574.2" cy="152.2" r="0.9"/><circle cx="575.0" cy="151.7" r="0.9"/><circle cx="575.4" cy="152.2" r="0.9"/><circle cx="576.5" cy="152.2" r="0.9"/><circle cx="577.0" cy="151.8" r="0.9"/><circle cx="577.8" cy="151.9" r="0.9"/><circle cx="578.4" cy="152.0" r="0.9"/><circle cx="579.3" cy="152.1" r="0.9"/><circle cx="580.0" cy="152.3" r="0.9"/><circle cx="580.7" cy="152.1" r="0.9"/><circle cx="581.2" cy="151.8" r="0.9"/><circle cx="581.7" cy="152.4" r="0.9"/><circle cx="582.5" cy="152.0" r="0.9"/><circle cx="583.7" cy="151.7" r="0.9"/><circle cx="584.1" cy="152.4" r="0.9"/><circle cx="585.0" cy="151.7" r="0.9"/><circle cx="571.3" cy="145.2" r="0.9"/><circle cx="572.2" cy="144.6" r="0.9"/><circle cx="572.9" cy="144.7" r="0.9"/><circle cx="573.7" cy="144.8" r="0.9"/><circle cx="574.7" cy="145.2" r="0.9"/><circle cx="575.4" cy="144.9" r="0.9"/><circle cx="576.0" cy="144.9" r="0.9"/><circle cx="576.4" cy="145.2" r="0.9"/><circle cx="577.5" cy="145.2" r="0.9"/><circle cx="578.1" cy="145.2" r="0.9"/><circle cx="578.6" cy="145.0" r="0.9"/><circle cx="579.5" cy="144.9" r="0.9"/><circle cx="580.6" cy="144.9" r="0.9"/><circle cx="567.2" cy="142.9" r="0.9"/><circle cx="568.2" cy="143.1" r="0.9"/><circle cx="569.0" cy="143.4" r="0.9"/><circle cx="569.3" cy="143.4" r="0.9"/><circle cx="570.0" cy="143.0" r="0.9"/><circle cx="571.0" cy="142.8" r="0.9"/><circle cx="571.6" cy="143.5" r="0.9"/><circle cx="572.2" cy="142.8" r="0.9"/><circle cx="573.2" cy="143.4" r="0.9"/><circle cx="573.6" cy="142.9" r="0.9"/><circle cx="574.4" cy="143.2" r="0.9"/><circle cx="575.2" cy="142.9" r="0.9"/><circle cx="575.6" cy="142.9" r="0.9"/><circle cx="576.7" cy="143.4" r="0.9"/><circle cx="577.0" cy="143.1" r="0.9"/><circle cx="578.0" cy="143.2" r="0.9"/><circle cx="578.6" cy="143.3" r="0.9"/><circle cx="579.3" cy="142.9" r="0.9"/><circle cx="579.9" cy="143.0" r="0.9"/><circle cx="580.7" cy="143.2" r="0.9"/><circle cx="581.9" cy="143.3" r="0.9"/><circle cx="582.2" cy="143.2" r="0.9"/><circle cx="583.1" cy="143.4" r="0.9"/><circle cx="584.0" cy="142.9" r="0.9"/><circle cx="584.2" cy="143.5" r="0.9"/><circle cx="571.6" cy="165.7" r="0.9"/><circle cx="572.1" cy="165.9" r="0.9"/><circle cx="573.1" cy="165.8" r="0.9"/><circle cx="573.8" cy="166.0" r="0.9"/><circle cx="574.2" cy="165.9" r="0.9"/><circle cx="575.1" cy="166.0" r="0.9"/><circle cx="575.7" cy="165.8" r="0.9"/><circle cx="576.4" cy="165.6" r="0.9"/><circle cx="577.3" cy="165.9" r="0.9"/><circle cx="578.3" cy="165.7" r="0.9"/><circle cx="578.8" cy="165.8" r="0.9"/><circle cx="579.8" cy="166.0" r="0.9"/><circle cx="580.5" cy="165.9" r="0.9"/><circle cx="571.0" cy="124.4" r="0.9"/><circle cx="571.7" cy="124.4" r="0.9"/><circle cx="572.8" cy="124.7" r="0.9"/><circle cx="573.1" cy="124.5" r="0.9"/><circle cx="574.0" cy="124.6" r="0.9"/><circle cx="574.5" cy="125.0" r="0.9"/><circle cx="575.5" cy="125.0" r="0.9"/><circle cx="576.3" cy="124.9" r="0.9"/><circle cx="577.2" cy="124.7" r="0.9"/><circle cx="577.7" cy="124.4" r="0.9"/><circle cx="578.3" cy="124.8" r="0.9"/><circle cx="579.1" cy="124.5" r="0.9"/><circle cx="579.8" cy="124.9" r="0.9"/><circle cx="580.9" cy="124.6" r="0.9"/><circle cx="571.8" cy="131.7" r="0.9"/><circle cx="572.7" cy="131.9" r="0.9"/><circle cx="573.0" cy="132.1" r="0.9"/><circle cx="574.0" cy="131.6" r="0.9"/><circle cx="574.6" cy="132.1" r="0.9"/><circle cx="575.6" cy="131.7" r="0.9"/><circle cx="576.3" cy="132.1" r="0.9"/><circle cx="577.0" cy="132.0" r="0.9"/><circle cx="577.6" cy="132.2" r="0.9"/><circle cx="578.8" cy="131.6" r="0.9"/><circle cx="579.1" cy="132.1" r="0.9"/><circle cx="579.9" cy="132.2" r="0.9"/><circle cx="572.4" cy="129.4" r="0.9"/><circle cx="573.5" cy="129.5" r="0.9"/><circle cx="574.3" cy="129.8" r="0.9"/><circle cx="574.9" cy="129.9" r="0.9"/><circle cx="575.4" cy="129.5" r="0.9"/><circle cx="576.4" cy="129.4" r="0.9"/><circle cx="576.9" cy="129.3" r="0.9"/><circle cx="577.7" cy="129.5" r="0.9"/><circle cx="578.8" cy="129.4" r="0.9"/><circle cx="579.4" cy="129.5" r="0.9"/><circle cx="576.0" cy="52.8" r="0.9"/><circle cx="573.2" cy="118.3" r="0.9"/><circle cx="573.9" cy="118.7" r="0.9"/><circle cx="575.0" cy="118.6" r="0.9"/><circle cx="575.6" cy="118.7" r="0.9"/><circle cx="576.1" cy="118.8" r="0.9"/><circle cx="577.2" cy="118.7" r="0.9"/><circle cx="577.9" cy="118.8" r="0.9"/><circle cx="578.9" cy="118.8" r="0.9"/><circle cx="573.4" cy="119.8" r="0.9"/><circle cx="573.7" cy="120.1" r="0.9"/><circle cx="574.9" cy="120.1" r="0.9"/><circle cx="575.3" cy="120.1" r="0.9"/><circle cx="576.2" cy="119.9" r="0.9"/><circle cx="576.9" cy="119.9" r="0.9"/><circle cx="577.8" cy="119.8" r="0.9"/><circle cx="578.9" cy="119.6" r="0.9"/><circle cx="575.3" cy="70.2" r="0.9"/><circle cx="576.8" cy="69.7" r="0.9"/><circle cx="575.5" cy="88.7" r="0.9"/><circle cx="570.1" cy="123.2" r="0.9"/><circle cx="570.6" cy="123.8" r="0.9"/><circle cx="571.3" cy="123.8" r="0.9"/><circle cx="572.2" cy="123.2" r="0.9"/><circle cx="572.8" cy="123.7" r="0.9"/><circle cx="573.8" cy="123.2" r="0.9"/><circle cx="574.4" cy="123.6" r="0.9"/><circle cx="575.1" cy="123.3" r="0.9"/><circle cx="575.7" cy="123.8" r="0.9"/><circle cx="576.8" cy="123.7" r="0.9"/><circle cx="577.5" cy="123.6" r="0.9"/><circle cx="578.2" cy="123.8" r="0.9"/><circle cx="578.9" cy="123.4" r="0.9"/><circle cx="579.7" cy="123.7" r="0.9"/><circle cx="580.1" cy="123.5" r="0.9"/><circle cx="581.0" cy="123.8" r="0.9"/><circle cx="581.8" cy="123.7" r="0.9"/><circle cx="575.6" cy="79.1" r="0.9"/><circle cx="575.4" cy="57.9" r="0.9"/><circle cx="576.7" cy="58.1" r="0.9"/><circle cx="575.3" cy="79.8" r="0.9"/><circle cx="576.6" cy="79.6" r="0.9"/><circle cx="575.5" cy="88.0" r="0.9"/><circle cx="570.9" cy="129.0" r="0.9"/><circle cx="571.5" cy="128.9" r="0.9"/><circle cx="572.4" cy="128.8" r="0.9"/><circle cx="573.2" cy="128.9" r="0.9"/><circle cx="573.6" cy="129.0" r="0.9"/><circle cx="574.3" cy="128.5" r="0.9"/><circle cx="575.1" cy="128.6" r="0.9"/><circle cx="576.1" cy="128.5" r="0.9"/><circle cx="576.8" cy="128.9" r="0.9"/><circle cx="577.2" cy="128.9" r="0.9"/><circle cx="578.0" cy="128.5" r="0.9"/><circle cx="578.6" cy="128.8" r="0.9"/><circle cx="579.3" cy="128.9" r="0.9"/><circle cx="580.5" cy="128.4" r="0.9"/><circle cx="580.9" cy="128.8" r="0.9"/><circle cx="573.8" cy="117.4" r="0.9"/><circle cx="574.9" cy="118.0" r="0.9"/><circle cx="575.4" cy="117.4" r="0.9"/><circle cx="576.0" cy="117.8" r="0.9"/><circle cx="577.4" cy="117.3" r="0.9"/><circle cx="577.9" cy="117.5" r="0.9"/><circle cx="575.1" cy="83.5" r="0.9"/><circle cx="576.8" cy="83.7" r="0.9"/><circle cx="575.4" cy="82.3" r="0.9"/><circle cx="576.5" cy="82.3" r="0.9"/><circle cx="576.2" cy="72.8" r="0.9"/><circle cx="575.4" cy="92.2" r="0.9"/><circle cx="576.6" cy="92.4" r="0.9"/><circle cx="575.6" cy="95.5" r="0.9"/><circle cx="574.8" cy="111.4" r="0.9"/><circle cx="575.4" cy="111.6" r="0.9"/><circle cx="576.2" cy="111.9" r="0.9"/><circle cx="577.1" cy="111.8" r="0.9"/><circle cx="575.7" cy="85.4" r="0.9"/><circle cx="575.2" cy="110.2" r="0.9"/><circle cx="576.5" cy="110.3" r="0.9"/><circle cx="575.6" cy="107.0" r="0.9"/><circle cx="575.8" cy="72.8" r="0.9"/><circle cx="576.1" cy="95.3" r="0.9"/><circle cx="574.7" cy="109.4" r="0.9"/><circle cx="575.4" cy="109.2" r="0.9"/><circle cx="576.6" cy="109.2" r="0.9"/><circle cx="577.3" cy="109.1" r="0.9"/><circle cx="574.6" cy="108.4" r="0.9"/><circle cx="575.2" cy="108.5" r="0.9"/><circle cx="576.6" cy="108.0" r="0.9"/><circle cx="577.2" cy="108.5" r="0.9"/><circle cx="576.1" cy="89.9" r="0.9"/><circle cx="576.5" cy="51.4" r="0.9"/><circle cx="576.6" cy="65.9" r="0.9"/><circle cx="576.4" cy="61.8" r="0.9"/><circle cx="575.7" cy="77.5" r="0.9"/></g>
<g fill="#fdd08c"><circle cx="613.6" cy="118.7" r="0.9"/><circle cx="614.6" cy="118.7" r="0.9"/><circle cx="615.9" cy="118.5" r="0.9"/><circle cx="616.9" cy="119.0" r="0.9"/><circle cx="617.9" cy="118.5" r="0.9"/><circle cx="618.9" cy="118.8" r="0.9"/><circle cx="620.1" cy="119.0" r="0.9"/><circle cx="603.2" cy="149.4" r="0.9"/><circle cx="604.3" cy="149.5" r="0.9"/><circle cx="605.0" cy="149.4" r="0.9"/><circle cx="605.8" cy="149.6" r="0.9"/><circle cx="606.7" cy="149.3" r="0.9"/><circle cx="607.6" cy="149.2" r="0.9"/><circle cx="608.2" cy="149.6" r="0.9"/><circle cx="609.0" cy="149.4" r="0.9"/><circle cx="609.9" cy="149.3" r="0.9"/><circle cx="610.9" cy="149.0" r="0.9"/><circle cx="611.8" cy="149.0" r="0.9"/><circle cx="612.6" cy="149.2" r="0.9"/><circle cx="613.6" cy="149.1" r="0.9"/><circle cx="614.0" cy="149.2" r="0.9"/><circle cx="615.2" cy="149.5" r="0.9"/><circle cx="615.7" cy="149.6" r="0.9"/><circle cx="616.8" cy="149.3" r="0.9"/><circle cx="617.5" cy="149.6" r="0.9"/><circle cx="618.5" cy="149.0" r="0.9"/><circle cx="619.2" cy="149.6" r="0.9"/><circle cx="620.1" cy="149.5" r="0.9"/><circle cx="621.2" cy="149.6" r="0.9"/><circle cx="621.7" cy="149.0" r="0.9"/><circle cx="622.3" cy="149.6" r="0.9"/><circle cx="623.4" cy="149.2" r="0.9"/><circle cx="624.1" cy="149.5" r="0.9"/><circle cx="625.3" cy="149.4" r="0.9"/><circle cx="625.9" cy="149.4" r="0.9"/><circle cx="627.0" cy="149.5" r="0.9"/><circle cx="627.4" cy="149.4" r="0.9"/><circle cx="628.2" cy="149.2" r="0.9"/><circle cx="629.5" cy="149.2" r="0.9"/><circle cx="630.3" cy="149.0" r="0.9"/><circle cx="607.5" cy="136.6" r="0.9"/><circle cx="608.0" cy="136.7" r="0.9"/><circle cx="609.3" cy="136.7" r="0.9"/><circle cx="610.3" cy="136.8" r="0.9"/><circle cx="610.9" cy="136.7" r="0.9"/><circle cx="612.3" cy="136.5" r="0.9"/><circle cx="612.8" cy="136.5" r="0.9"/><circle cx="613.7" cy="136.2" r="0.9"/><circle cx="614.9" cy="136.3" r="0.9"/><circle cx="615.5" cy="136.5" r="0.9"/><circle cx="616.9" cy="136.7" r="0.9"/><circle cx="617.8" cy="136.3" r="0.9"/><circle cx="618.8" cy="136.6" r="0.9"/><circle cx="619.6" cy="136.4" r="0.9"/><circle cx="620.6" cy="136.7" r="0.9"/><circle cx="621.5" cy="136.8" r="0.9"/><circle cx="622.3" cy="136.7" r="0.9"/><circle cx="623.4" cy="136.6" r="0.9"/><circle cx="624.5" cy="136.1" r="0.9"/><circle cx="625.3" cy="136.4" r="0.9"/><circle cx="625.9" cy="136.8" r="0.9"/><circle cx="606.3" cy="130.6" r="0.9"/><circle cx="607.4" cy="130.5" r="0.9"/><circle cx="608.4" cy="130.7" r="0.9"/><circle cx="608.9" cy="131.1" r="0.9"/><circle cx="610.0" cy="131.0" r="0.9"/><circle cx="611.2" cy="130.9" r="0.9"/><circle cx="612.1" cy="130.7" r="0.9"/><circle cx="613.0" cy="130.9" r="0.9"/><circle cx="613.6" cy="130.7" r="0.9"/><circle cx="614.6" cy="131.0" r="0.9"/><circle cx="615.5" cy="130.8" r="0.9"/><circle cx="616.9" cy="130.9" r="0.9"/><circle cx="617.4" cy="130.9" r="0.9"/><circle cx="618.5" cy="130.8" r="0.9"/><circle cx="619.7" cy="130.5" r="0.9"/><circle cx="620.3" cy="130.5" r="0.9"/><circle cx="621.2" cy="130.7" r="0.9"/><circle cx="622.4" cy="131.1" r="0.9"/><circle cx="623.1" cy="130.7" r="0.9"/><circle cx="624.0" cy="130.7" r="0.9"/><circle cx="625.2" cy="130.6" r="0.9"/><circle cx="626.2" cy="130.9" r="0.9"/><circle cx="627.2" cy="130.7" r="0.9"/><circle cx="613.9" cy="97.5" r="0.9"/><circle cx="615.0" cy="97.4" r="0.9"/><circle cx="616.0" cy="97.5" r="0.9"/><circle cx="616.9" cy="97.3" r="0.9"/><circle cx="618.5" cy="97.2" r="0.9"/><circle cx="619.1" cy="97.3" r="0.9"/><circle cx="606.2" cy="140.4" r="0.9"/><circle cx="606.6" cy="140.0" r="0.9"/><circle cx="608.1" cy="139.9" r="0.9"/><circle cx="608.7" cy="140.1" r="0.9"/><circle cx="609.6" cy="139.8" r="0.9"/><circle cx="610.5" cy="140.4" r="0.9"/><circle cx="611.3" cy="140.4" r="0.9"/><circle cx="612.6" cy="140.0" r="0.9"/><circle cx="613.3" cy="140.4" r="0.9"/><circle cx="614.1" cy="140.3" r="0.9"/><circle cx="615.1" cy="140.3" r="0.9"/><circle cx="616.0" cy="140.2" r="0.9"/><circle cx="616.9" cy="140.2" r="0.9"/><circle cx="617.9" cy="139.8" r="0.9"/><circle cx="619.2" cy="140.4" r="0.9"/><circle cx="620.2" cy="140.2" r="0.9"/><circle cx="620.6" cy="140.4" r="0.9"/><circle cx="621.6" cy="140.2" r="0.9"/><circle cx="622.6" cy="139.9" r="0.9"/><circle cx="623.7" cy="140.3" r="0.9"/><circle cx="624.9" cy="139.9" r="0.9"/><circle cx="625.9" cy="140.0" r="0.9"/><circle cx="626.8" cy="139.9" r="0.9"/><circle cx="627.4" cy="139.8" r="0.9"/><circle cx="605.3" cy="128.5" r="0.9"/><circle cx="605.9" cy="128.8" r="0.9"/><circle cx="606.9" cy="128.5" r="0.9"/><circle cx="607.6" cy="128.6" r="0.9"/><circle cx="608.6" cy="128.8" r="0.9"/><circle cx="609.9" cy="128.6" r="0.9"/><circle cx="610.6" cy="128.9" r="0.9"/><circle cx="611.7" cy="129.0" r="0.9"/><circle cx="612.2" cy="129.0" r="0.9"/><circle cx="613.5" cy="128.5" r="0.9"/><circle cx="614.6" cy="129.0" r="0.9"/><circle cx="615.1" cy="129.0" r="0.9"/><circle cx="616.2" cy="128.6" r="0.9"/><circle cx="617.2" cy="128.7" r="0.9"/><circle cx="617.8" cy="129.1" r="0.9"/><circle cx="618.8" cy="128.7" r="0.9"/><circle cx="620.2" cy="128.7" r="0.9"/><circle cx="620.7" cy="128.7" r="0.9"/><circle cx="621.6" cy="129.1" r="0.9"/><circle cx="622.6" cy="128.5" r="0.9"/><circle cx="623.9" cy="128.5" r="0.9"/><circle cx="624.4" cy="128.5" r="0.9"/><circle cx="625.5" cy="128.5" r="0.9"/><circle cx="626.2" cy="129.1" r="0.9"/><circle cx="627.5" cy="128.8" r="0.9"/><circle cx="628.4" cy="129.1" r="0.9"/><circle cx="612.6" cy="115.1" r="0.9"/><circle cx="613.6" cy="115.2" r="0.9"/><circle cx="614.8" cy="115.4" r="0.9"/><circle cx="616.0" cy="115.5" r="0.9"/><circle cx="616.6" cy="114.9" r="0.9"/><circle cx="617.9" cy="115.4" r="0.9"/><circle cx="619.0" cy="115.0" r="0.9"/><circle cx="619.7" cy="115.2" r="0.9"/><circle cx="620.6" cy="115.2" r="0.9"/><circle cx="614.8" cy="165.7" r="0.9"/><circle cx="616.3" cy="165.9" r="0.9"/><circle cx="617.4" cy="165.8" r="0.9"/><circle cx="618.5" cy="166.1" r="0.9"/><circle cx="612.2" cy="131.5" r="0.9"/><circle cx="613.1" cy="131.8" r="0.9"/><circle cx="614.3" cy="131.8" r="0.9"/><circle cx="615.3" cy="131.7" r="0.9"/><circle cx="616.3" cy="131.8" r="0.9"/><circle cx="617.2" cy="131.9" r="0.9"/><circle cx="618.1" cy="131.9" r="0.9"/><circle cx="619.3" cy="132.1" r="0.9"/><circle cx="620.4" cy="131.8" r="0.9"/><circle cx="620.9" cy="131.9" r="0.9"/><circle cx="607.9" cy="135.3" r="0.9"/><circle cx="608.8" cy="135.8" r="0.9"/><circle cx="609.7" cy="135.1" r="0.9"/><circle cx="610.4" cy="135.5" r="0.9"/><circle cx="611.2" cy="135.7" r="0.9"/><circle cx="612.4" cy="135.7" r="0.9"/><circle cx="613.4" cy="135.5" r="0.9"/><circle cx="614.6" cy="135.7" r="0.9"/><circle cx="615.0" cy="135.7" r="0.9"/><circle cx="616.4" cy="135.4" r="0.9"/><circle cx="617.1" cy="135.6" r="0.9"/><circle cx="618.4" cy="135.2" r="0.9"/><circle cx="619.3" cy="135.6" r="0.9"/><circle cx="620.0" cy="135.4" r="0.9"/><circle cx="620.9" cy="135.4" r="0.9"/><circle cx="621.6" cy="135.7" r="0.9"/><circle cx="622.8" cy="135.5" r="0.9"/><circle cx="624.0" cy="135.3" r="0.9"/><circle cx="624.4" cy="135.7" r="0.9"/><circle cx="625.6" cy="135.7" r="0.9"/><circle cx="613.3" cy="113.9" r="0.9"/><circle cx="614.3" cy="114.0" r="0.9"/><circle cx="614.9" cy="114.3" r="0.9"/><circle cx="615.9" cy="113.8" r="0.9"/><circle cx="617.4" cy="114.0" r="0.9"/><circle cx="618.4" cy="114.2" r="0.9"/><circle cx="619.3" cy="114.0" r="0.9"/><circle cx="620.2" cy="114.1" r="0.9"/><circle cx="610.7" cy="116.7" r="0.9"/><circle cx="611.7" cy="116.6" r="0.9"/><circle cx="612.7" cy="116.6" r="0.9"/><circle cx="613.6" cy="116.7" r="0.9"/><circle cx="614.6" cy="116.2" r="0.9"/><circle cx="615.7" cy="116.6" r="0.9"/><circle cx="616.5" cy="116.3" r="0.9"/><circle cx="617.7" cy="116.6" r="0.9"/><circle cx="618.6" cy="116.7" r="0.9"/><circle cx="619.4" cy="116.7" r="0.9"/><circle cx="620.6" cy="116.4" r="0.9"/><circle cx="621.6" cy="116.7" r="0.9"/><circle cx="622.8" cy="116.7" r="0.9"/><circle cx="608.5" cy="137.7" r="0.9"/><circle cx="609.5" cy="137.7" r="0.9"/><circle cx="610.4" cy="137.6" r="0.9"/><circle cx="611.7" cy="137.3" r="0.9"/><circle cx="612.3" cy="137.8" r="0.9"/><circle cx="613.4" cy="137.7" r="0.9"/><circle cx="614.3" cy="137.3" r="0.9"/><circle cx="615.2" cy="137.5" r="0.9"/><circle cx="616.3" cy="137.6" r="0.9"/><circle cx="617.4" cy="137.7" r="0.9"/><circle cx="618.1" cy="137.3" r="0.9"/><circle cx="618.9" cy="137.4" r="0.9"/><circle cx="620.0" cy="137.8" r="0.9"/><circle cx="620.9" cy="137.6" r="0.9"/><circle cx="621.8" cy="137.8" r="0.9"/><circle cx="622.8" cy="137.7" r="0.9"/><circle cx="623.6" cy="137.6" r="0.9"/><circle cx="625.1" cy="137.5" r="0.9"/><circle cx="612.9" cy="123.8" r="0.9"/><circle cx="613.6" cy="123.5" r="0.9"/><circle cx="614.9" cy="123.7" r="0.9"/><circle cx="615.9" cy="123.4" r="0.9"/><circle cx="617.0" cy="123.6" r="0.9"/><circle cx="617.5" cy="123.5" r="0.9"/><circle cx="618.5" cy="123.7" r="0.9"/><circle cx="619.6" cy="123.8" r="0.9"/><circle cx="620.8" cy="123.5" r="0.9"/><circle cx="608.9" cy="125.9" r="0.9"/><circle cx="609.5" cy="126.3" r="0.9"/><circle cx="610.4" cy="126.2" r="0.9"/><circle cx="611.2" cy="126.2" r="0.9"/><circle cx="612.7" cy="126.1" r="0.9"/><circle cx="613.1" cy="125.9" r="0.9"/><circle cx="614.2" cy="125.9" r="0.9"/><circle cx="615.1" cy="126.2" r="0.9"/><circle cx="616.2" cy="126.1" r="0.9"/><circle cx="617.5" cy="126.1" r="0.9"/><circle cx="618.2" cy="126.0" r="0.9"/><circle cx="619.2" cy="126.1" r="0.9"/><circle cx="620.3" cy="125.8" r="0.9"/><circle cx="621.0" cy="126.5" r="0.9"/><circle cx="621.7" cy="126.3" r="0.9"/><circle cx="622.6" cy="126.4" r="0.9"/><circle cx="623.7" cy="126.5" r="0.9"/><circle cx="625.0" cy="126.0" r="0.9"/><circle cx="613.8" cy="117.9" r="0.9"/><circle cx="614.8" cy="117.4" r="0.9"/><circle cx="615.7" cy="117.8" r="0.9"/><circle cx="616.5" cy="117.7" r="0.9"/><circle cx="617.6" cy="117.8" r="0.9"/><circle cx="618.6" cy="117.3" r="0.9"/><circle cx="620.1" cy="117.6" r="0.9"/><circle cx="613.7" cy="112.9" r="0.9"/><circle cx="614.9" cy="113.2" r="0.9"/><circle cx="615.6" cy="112.9" r="0.9"/><circle cx="616.8" cy="112.9" r="0.9"/><circle cx="617.8" cy="113.1" r="0.9"/><circle cx="619.1" cy="112.7" r="0.9"/><circle cx="619.9" cy="113.1" r="0.9"/><circle cx="614.3" cy="109.4" r="0.9"/><circle cx="615.7" cy="109.4" r="0.9"/><circle cx="616.8" cy="109.3" r="0.9"/><circle cx="617.6" cy="109.4" r="0.9"/><circle cx="618.7" cy="109.3" r="0.9"/><circle cx="612.9" cy="105.9" r="0.9"/><circle cx="613.9" cy="105.7" r="0.9"/><circle cx="615.0" cy="105.4" r="0.9"/><circle cx="616.3" cy="105.8" r="0.9"/><circle cx="617.0" cy="105.7" r="0.9"/><circle cx="618.2" cy="105.8" r="0.9"/><circle cx="619.2" cy="106.0" r="0.9"/><circle cx="620.3" cy="105.5" r="0.9"/><circle cx="617.2" cy="51.4" r="0.9"/><circle cx="610.1" cy="127.0" r="0.9"/><circle cx="611.0" cy="127.3" r="0.9"/><circle cx="611.7" cy="127.3" r="0.9"/><circle cx="612.9" cy="127.1" r="0.9"/><circle cx="613.9" cy="127.3" r="0.9"/><circle cx="614.8" cy="127.5" r="0.9"/><circle cx="616.0" cy="127.2" r="0.9"/><circle cx="616.7" cy="127.4" r="0.9"/><circle cx="617.6" cy="127.0" r="0.9"/><circle cx="618.7" cy="127.5" r="0.9"/><circle cx="619.5" cy="127.0" r="0.9"/><circle cx="620.3" cy="127.0" r="0.9"/><circle cx="621.5" cy="127.6" r="0.9"/><circle cx="622.2" cy="127.5" r="0.9"/><circle cx="623.7" cy="127.3" r="0.9"/><circle cx="613.8" cy="155.6" r="0.9"/><circle cx="615.3" cy="155.5" r="0.9"/><circle cx="616.2" cy="155.6" r="0.9"/><circle cx="617.5" cy="155.7" r="0.9"/><circle cx="618.1" cy="155.6" r="0.9"/><circle cx="619.5" cy="155.8" r="0.9"/><circle cx="607.7" cy="133.7" r="0.9"/><circle cx="608.4" cy="133.6" r="0.9"/><circle cx="609.9" cy="133.7" r="0.9"/><circle cx="610.4" cy="133.5" r="0.9"/><circle cx="611.5" cy="133.7" r="0.9"/><circle cx="612.6" cy="133.3" r="0.9"/><circle cx="613.7" cy="133.6" r="0.9"/><circle cx="614.4" cy="133.1" r="0.9"/><circle cx="615.2" cy="133.2" r="0.9"/><circle cx="616.0" cy="133.2" r="0.9"/><circle cx="617.4" cy="133.4" r="0.9"/><circle cx="618.2" cy="133.3" r="0.9"/><circle cx="619.1" cy="133.4" r="0.9"/><circle cx="620.1" cy="133.5" r="0.9"/><circle cx="621.2" cy="133.6" r="0.9"/><circle cx="622.1" cy="133.6" r="0.9"/><circle cx="622.6" cy="133.4" r="0.9"/><circle cx="623.9" cy="133.4" r="0.9"/><circle cx="624.9" cy="133.8" r="0.9"/><circle cx="625.6" cy="133.5" r="0.9"/><circle cx="615.6" cy="76.5" r="0.9"/><circle cx="617.4" cy="76.4" r="0.9"/><circle cx="614.9" cy="96.0" r="0.9"/><circle cx="616.2" cy="95.9" r="0.9"/><circle cx="617.2" cy="95.8" r="0.9"/><circle cx="618.3" cy="95.9" r="0.9"/><circle cx="606.1" cy="142.8" r="0.9"/><circle cx="607.2" cy="143.5" r="0.9"/><circle cx="608.6" cy="143.1" r="0.9"/><circle cx="609.3" cy="143.1" r="0.9"/><circle cx="610.4" cy="143.3" r="0.9"/><circle cx="611.1" cy="143.3" r="0.9"/><circle cx="612.2" cy="143.0" r="0.9"/><circle cx="613.1" cy="143.5" r="0.9"/><circle cx="614.0" cy="143.2" r="0.9"/><circle cx="615.0" cy="143.0" r="0.9"/><circle cx="615.6" cy="143.2" r="0.9"/><circle cx="616.6" cy="143.1" r="0.9"/><circle cx="617.7" cy="143.5" r="0.9"/><circle cx="618.5" cy="143.3" r="0.9"/><circle cx="619.3" cy="143.1" r="0.9"/><circle cx="620.7" cy="143.0" r="0.9"/><circle cx="621.6" cy="143.1" r="0.9"/><circle cx="622.3" cy="143.1" r="0.9"/><circle cx="623.0" cy="143.5" r="0.9"/><circle cx="624.1" cy="143.5" r="0.9"/><circle cx="624.9" cy="143.4" r="0.9"/><circle cx="626.1" cy="143.1" r="0.9"/><circle cx="627.1" cy="143.3" r="0.9"/><circle cx="614.7" cy="98.8" r="0.9"/><circle cx="615.8" cy="98.3" r="0.9"/><circle cx="616.7" cy="98.4" r="0.9"/><circle cx="617.6" cy="98.5" r="0.9"/><circle cx="618.8" cy="98.6" r="0.9"/><circle cx="614.7" cy="99.6" r="0.9"/><circle cx="615.7" cy="99.5" r="0.9"/><circle cx="616.5" cy="99.5" r="0.9"/><circle cx="617.9" cy="99.5" r="0.9"/><circle cx="619.0" cy="99.8" r="0.9"/><circle cx="608.5" cy="138.8" r="0.9"/><circle cx="609.7" cy="139.2" r="0.9"/><circle cx="610.5" cy="139.0" r="0.9"/><circle cx="611.3" cy="138.6" r="0.9"/><circle cx="612.2" cy="138.8" r="0.9"/><circle cx="613.5" cy="139.1" r="0.9"/><circle cx="614.1" cy="138.5" r="0.9"/><circle cx="615.4" cy="138.7" r="0.9"/><circle cx="616.4" cy="139.0" r="0.9"/><circle cx="617.1" cy="139.1" r="0.9"/><circle cx="618.4" cy="139.0" r="0.9"/><circle cx="619.3" cy="138.8" r="0.9"/><circle cx="620.1" cy="139.2" r="0.9"/><circle cx="621.2" cy="138.6" r="0.9"/><circle cx="621.8" cy="138.8" r="0.9"/><circle cx="622.8" cy="139.1" r="0.9"/><circle cx="623.7" cy="139.0" r="0.9"/><circle cx="624.6" cy="138.6" r="0.9"/><circle cx="607.0" cy="141.8" r="0.9"/><circle cx="607.7" cy="141.7" r="0.9"/><circle cx="608.4" cy="141.7" r="0.9"/><circle cx="609.7" cy="141.4" r="0.9"/><circle cx="610.8" cy="141.7" r="0.9"/><circle cx="611.3" cy="141.3" r="0.9"/><circle cx="612.2" cy="141.7" r="0.9"/><circle cx="613.6" cy="141.6" r="0.9"/><circle cx="614.6" cy="141.8" r="0.9"/><circle cx="615.0" cy="141.8" r="0.9"/><circle cx="616.5" cy="141.9" r="0.9"/><circle cx="617.0" cy="141.2" r="0.9"/><circle cx="618.0" cy="141.8" r="0.9"/><circle cx="618.9" cy="141.4" r="0.9"/><circle cx="620.0" cy="141.8" r="0.9"/><circle cx="621.2" cy="141.4" r="0.9"/><circle cx="621.7" cy="141.5" r="0.9"/><circle cx="623.0" cy="141.4" r="0.9"/><circle cx="623.9" cy="141.9" r="0.9"/><circle cx="624.9" cy="141.7" r="0.9"/><circle cx="625.7" cy="141.7" r="0.9"/><circle cx="626.3" cy="141.7" r="0.9"/><circle cx="607.8" cy="145.3" r="0.9"/><circle cx="608.9" cy="145.0" r="0.9"/><circle cx="609.3" cy="144.9" r="0.9"/><circle cx="610.8" cy="144.8" r="0.9"/><circle cx="611.4" cy="145.1" r="0.9"/><circle cx="612.3" cy="144.6" r="0.9"/><circle cx="613.5" cy="145.0" r="0.9"/><circle cx="614.6" cy="145.3" r="0.9"/><circle cx="615.4" cy="144.7" r="0.9"/><circle cx="616.5" cy="144.7" r="0.9"/><circle cx="616.9" cy="145.1" r="0.9"/><circle cx="618.0" cy="144.8" r="0.9"/><circle cx="619.1" cy="145.0" r="0.9"/><circle cx="620.2" cy="144.6" r="0.9"/><circle cx="621.2" cy="145.0" r="0.9"/><circle cx="622.0" cy="144.9" r="0.9"/><circle cx="623.0" cy="145.1" r="0.9"/><circle cx="623.6" cy="144.7" r="0.9"/><circle cx="624.7" cy="144.9" r="0.9"/><circle cx="625.8" cy="144.7" r="0.9"/><circle cx="611.3" cy="134.3" r="0.9"/><circle cx="612.5" cy="134.4" r="0.9"/><circle cx="613.4" cy="134.7" r="0.9"/><circle cx="614.2" cy="134.4" r="0.9"/><circle cx="615.4" cy="134.2" r="0.9"/><circle cx="615.9" cy="134.3" r="0.9"/><circle cx="617.4" cy="134.5" r="0.9"/><circle cx="617.9" cy="134.5" r="0.9"/><circle cx="619.0" cy="134.5" r="0.9"/><circle cx="620.1" cy="134.5" r="0.9"/><circle cx="621.4" cy="134.4" r="0.9"/><circle cx="622.1" cy="134.6" r="0.9"/><circle cx="612.0" cy="121.5" r="0.9"/><circle cx="612.5" cy="121.4" r="0.9"/><circle cx="613.8" cy="121.2" r="0.9"/><circle cx="614.5" cy="121.5" r="0.9"/><circle cx="615.6" cy="121.4" r="0.9"/><circle cx="616.8" cy="121.6" r="0.9"/><circle cx="617.6" cy="121.6" r="0.9"/><circle cx="618.4" cy="121.0" r="0.9"/><circle cx="619.6" cy="121.2" r="0.9"/><circle cx="620.6" cy="121.3" r="0.9"/><circle cx="621.8" cy="121.3" r="0.9"/><circle cx="613.8" cy="102.9" r="0.9"/><circle cx="614.5" cy="103.2" r="0.9"/><circle cx="615.7" cy="103.2" r="0.9"/><circle cx="616.9" cy="102.9" r="0.9"/><circle cx="617.6" cy="103.1" r="0.9"/><circle cx="618.6" cy="103.0" r="0.9"/><circle cx="620.1" cy="102.9" r="0.9"/><circle cx="616.4" cy="65.0" r="0.9"/><circle cx="608.1" cy="147.0" r="0.9"/><circle cx="609.2" cy="147.2" r="0.9"/><circle cx="610.1" cy="146.9" r="0.9"/><circle cx="611.0" cy="146.7" r="0.9"/><circle cx="612.0" cy="146.7" r="0.9"/><circle cx="613.1" cy="147.0" r="0.9"/><circle cx="613.8" cy="147.2" r="0.9"/><circle cx="614.9" cy="147.2" r="0.9"/><circle cx="615.5" cy="147.0" r="0.9"/><circle cx="616.4" cy="147.0" r="0.9"/><circle cx="617.7" cy="147.1" r="0.9"/><circle cx="618.7" cy="147.0" r="0.9"/><circle cx="619.5" cy="147.1" r="0.9"/><circle cx="620.2" cy="147.0" r="0.9"/><circle cx="621.4" cy="146.9" r="0.9"/><circle cx="622.5" cy="147.1" r="0.9"/><circle cx="623.6" cy="147.0" r="0.9"/><circle cx="624.2" cy="147.1" r="0.9"/><circle cx="625.1" cy="147.1" r="0.9"/><circle cx="616.0" cy="69.7" r="0.9"/><circle cx="617.8" cy="70.0" r="0.9"/><circle cx="613.9" cy="111.3" r="0.9"/><circle cx="615.0" cy="111.7" r="0.9"/><circle cx="616.0" cy="111.8" r="0.9"/><circle cx="617.4" cy="111.6" r="0.9"/><circle cx="618.2" cy="111.2" r="0.9"/><circle cx="619.2" cy="111.7" r="0.9"/><circle cx="610.6" cy="124.7" r="0.9"/><circle cx="611.6" cy="124.7" r="0.9"/><circle cx="612.4" cy="124.9" r="0.9"/><circle cx="613.4" cy="124.5" r="0.9"/><circle cx="614.6" cy="124.4" r="0.9"/><circle cx="615.4" cy="124.5" r="0.9"/><circle cx="616.4" cy="124.7" r="0.9"/><circle cx="617.1" cy="124.7" r="0.9"/><circle cx="617.9" cy="124.9" r="0.9"/><circle cx="619.1" cy="124.7" r="0.9"/><circle cx="620.2" cy="124.7" r="0.9"/><circle cx="621.0" cy="124.6" r="0.9"/><circle cx="622.0" cy="124.8" r="0.9"/><circle cx="622.8" cy="124.7" r="0.9"/><circle cx="612.1" cy="122.4" r="0.9"/><circle cx="613.0" cy="122.6" r="0.9"/><circle cx="614.4" cy="122.1" r="0.9"/><circle cx="615.2" cy="122.4" r="0.9"/><circle cx="616.0" cy="122.2" r="0.9"/><circle cx="617.3" cy="122.1" r="0.9"/><circle cx="618.3" cy="122.6" r="0.9"/><circle cx="619.1" cy="122.2" r="0.9"/><circle cx="620.5" cy="122.1" r="0.9"/><circle cx="621.3" cy="122.7" r="0.9"/><circle cx="615.0" cy="106.5" r="0.9"/><circle cx="616.0" cy="106.6" r="0.9"/><circle cx="617.4" cy="107.1" r="0.9"/><circle cx="618.6" cy="107.1" r="0.9"/><circle cx="613.2" cy="101.0" r="0.9"/><circle cx="614.2" cy="101.2" r="0.9"/><circle cx="615.2" cy="100.7" r="0.9"/><circle cx="616.1" cy="100.9" r="0.9"/><circle cx="617.4" cy="100.9" r="0.9"/><circle cx="618.4" cy="100.9" r="0.9"/><circle cx="619.2" cy="100.6" r="0.9"/><circle cx="620.5" cy="100.6" r="0.9"/><circle cx="616.4" cy="69.1" r="0.9"/><circle cx="612.9" cy="108.0" r="0.9"/><circle cx="614.0" cy="108.4" r="0.9"/><circle cx="615.2" cy="107.9" r="0.9"/><circle cx="616.0" cy="108.2" r="0.9"/><circle cx="617.1" cy="107.8" r="0.9"/><circle cx="618.2" cy="108.0" r="0.9"/><circle cx="619.1" cy="108.1" r="0.9"/><circle cx="620.3" cy="108.2" r="0.9"/><circle cx="616.9" cy="63.5" r="0.9"/><circle cx="611.0" cy="129.9" r="0.9"/><circle cx="612.5" cy="129.8" r="0.9"/><circle cx="613.4" cy="129.3" r="0.9"/><circle cx="614.5" cy="129.4" r="0.9"/><circle cx="615.1" cy="129.7" r="0.9"/><circle cx="616.4" cy="129.6" r="0.9"/><circle cx="617.0" cy="129.9" r="0.9"/><circle cx="618.0" cy="129.5" r="0.9"/><circle cx="619.0" cy="129.6" r="0.9"/><circle cx="620.3" cy="129.8" r="0.9"/><circle cx="621.4" cy="129.3" r="0.9"/><circle cx="621.8" cy="129.3" r="0.9"/><circle cx="612.4" cy="120.0" r="0.9"/><circle cx="613.5" cy="120.1" r="0.9"/><circle cx="614.7" cy="120.0" r="0.9"/><circle cx="615.4" cy="120.0" r="0.9"/><circle cx="616.7" cy="120.1" r="0.9"/><circle cx="617.7" cy="120.2" r="0.9"/><circle cx="618.6" cy="119.9" r="0.9"/><circle cx="619.8" cy="119.9" r="0.9"/><circle cx="620.5" cy="119.8" r="0.9"/><circle cx="615.5" cy="110.5" r="0.9"/><circle cx="616.5" cy="110.7" r="0.9"/><circle cx="618.3" cy="110.7" r="0.9"/><circle cx="615.5" cy="93.6" r="0.9"/><circle cx="616.8" cy="93.5" r="0.9"/><circle cx="618.0" cy="93.8" r="0.9"/><circle cx="616.4" cy="83.3" r="0.9"/><circle cx="614.3" cy="152.1" r="0.9"/><circle cx="615.6" cy="152.0" r="0.9"/><circle cx="616.7" cy="151.9" r="0.9"/><circle cx="617.8" cy="151.8" r="0.9"/><circle cx="618.7" cy="152.2" r="0.9"/><circle cx="615.6" cy="104.9" r="0.9"/><circle cx="617.4" cy="104.7" r="0.9"/><circle cx="614.8" cy="102.3" r="0.9"/><circle cx="616.1" cy="101.9" r="0.9"/><circle cx="617.5" cy="102.3" r="0.9"/><circle cx="618.3" cy="101.8" r="0.9"/><circle cx="615.9" cy="60.0" r="0.9"/><circle cx="617.6" cy="60.0" r="0.9"/><circle cx="615.3" cy="159.5" r="0.9"/><circle cx="616.5" cy="159.6" r="0.9"/><circle cx="617.8" cy="159.9" r="0.9"/><circle cx="617.1" cy="77.9" r="0.9"/><circle cx="615.7" cy="67.4" r="0.9"/><circle cx="617.7" cy="67.7" r="0.9"/><circle cx="615.1" cy="85.0" r="0.9"/><circle cx="616.5" cy="85.0" r="0.9"/><circle cx="618.3" cy="84.9" r="0.9"/><circle cx="615.8" cy="91.0" r="0.9"/><circle cx="617.8" cy="91.6" r="0.9"/><circle cx="616.4" cy="87.0" r="0.9"/><circle cx="617.3" cy="89.2" r="0.9"/><circle cx="616.8" cy="56.9" r="0.9"/><circle cx="616.8" cy="89.8" r="0.9"/><circle cx="616.8" cy="82.3" r="0.9"/><circle cx="616.8" cy="81.6" r="0.9"/><circle cx="616.5" cy="94.6" r="0.9"/></g>
<g fill="#4690d8"><circle cx="652.0" cy="114.2" r="0.9"/><circle cx="652.7" cy="114.1" r="0.9"/><circle cx="653.4" cy="114.4" r="0.9"/><circle cx="654.0" cy="114.4" r="0.9"/><circle cx="654.3" cy="114.3" r="0.9"/><circle cx="654.9" cy="114.2" r="0.9"/><circle cx="655.5" cy="114.2" r="0.9"/><circle cx="656.2" cy="114.3" r="0.9"/><circle cx="657.4" cy="113.7" r="0.9"/><circle cx="657.5" cy="114.2" r="0.9"/><circle cx="658.2" cy="114.0" r="0.9"/><circle cx="659.3" cy="114.2" r="0.9"/><circle cx="659.6" cy="113.7" r="0.9"/><circle cx="660.7" cy="114.3" r="0.9"/><circle cx="660.9" cy="114.3" r="0.9"/><circle cx="661.8" cy="113.7" r="0.9"/><circle cx="662.6" cy="113.9" r="0.9"/><circle cx="663.1" cy="114.2" r="0.9"/><circle cx="652.9" cy="107.1" r="0.9"/><circle cx="653.4" cy="106.8" r="0.9"/><circle cx="654.2" cy="106.9" r="0.9"/><circle cx="654.6" cy="107.0" r="0.9"/><circle cx="655.2" cy="107.1" r="0.9"/><circle cx="656.4" cy="106.6" r="0.9"/><circle cx="657.1" cy="106.7" r="0.9"/><circle cx="657.2" cy="106.6" r="0.9"/><circle cx="658.2" cy="107.1" r="0.9"/><circle cx="658.7" cy="107.1" r="0.9"/><circle cx="659.3" cy="107.0" r="0.9"/><circle cx="660.4" cy="106.9" r="0.9"/><circle cx="660.8" cy="107.0" r="0.9"/><circle cx="661.6" cy="106.6" r="0.9"/><circle cx="662.3" cy="107.0" r="0.9"/><circle cx="655.7" cy="101.7" r="0.9"/><circle cx="656.4" cy="102.1" r="0.9"/><circle cx="657.2" cy="102.1" r="0.9"/><circle cx="657.9" cy="102.0" r="0.9"/><circle cx="658.8" cy="101.9" r="0.9"/><circle cx="659.6" cy="101.5" r="0.9"/><circle cx="650.5" cy="116.9" r="0.9"/><circle cx="650.8" cy="116.6" r="0.9"/><circle cx="651.4" cy="116.5" r="0.9"/><circle cx="652.2" cy="116.8" r="0.9"/><circle cx="652.6" cy="116.4" r="0.9"/><circle cx="653.7" cy="116.3" r="0.9"/><circle cx="654.2" cy="116.8" r="0.9"/><circle cx="655.1" cy="116.8" r="0.9"/><circle cx="655.8" cy="116.3" r="0.9"/><circle cx="655.9" cy="116.5" r="0.9"/><circle cx="656.9" cy="116.8" r="0.9"/><circle cx="657.4" cy="116.9" r="0.9"/><circle cx="658.3" cy="116.7" r="0.9"/><circle cx="659.1" cy="116.7" r="0.9"/><circle cx="659.8" cy="116.3" r="0.9"/><circle cx="660.2" cy="116.5" r="0.9"/><circle cx="661.1" cy="116.4" r="0.9"/><circle cx="661.7" cy="116.5" r="0.9"/><circle cx="662.4" cy="116.9" r="0.9"/><circle cx="662.6" cy="116.9" r="0.9"/><circle cx="663.6" cy="116.8" r="0.9"/><circle cx="664.4" cy="116.7" r="0.9"/><circle cx="664.6" cy="116.4" r="0.9"/><circle cx="650.2" cy="110.4" r="0.9"/><circle cx="650.9" cy="110.6" r="0.9"/><circle cx="651.4" cy="110.3" r="0.9"/><circle cx="652.3" cy="110.4" r="0.9"/><circle cx="652.8" cy="110.4" r="0.9"/><circle cx="653.5" cy="110.7" r="0.9"/><circle cx="654.3" cy="110.3" r="0.9"/><circle cx="654.7" cy="110.4" r="0.9"/><circle cx="655.3" cy="110.4" r="0.9"/><circle cx="656.4" cy="110.2" r="0.9"/><circle cx="657.1" cy="110.3" r="0.9"/><circle cx="657.7" cy="110.6" r="0.9"/><circle cx="657.9" cy="110.6" r="0.9"/><circle cx="658.7" cy="110.3" r="0.9"/><circle cx="659.3" cy="110.4" r="0.9"/><circle cx="660.1" cy="110.2" r="0.9"/><circle cx="661.0" cy="110.2" r="0.9"/><circle cx="661.3" cy="110.5" r="0.9"/><circle cx="662.4" cy="110.2" r="0.9"/><circle cx="662.9" cy="110.6" r="0.9"/><circle cx="663.2" cy="110.4" r="0.9"/><circle cx="663.9" cy="110.6" r="0.9"/><circle cx="664.7" cy="110.1" r="0.9"/><circle cx="656.1" cy="95.9" r="0.9"/><circle cx="657.1" cy="95.8" r="0.9"/><circle cx="657.9" cy="96.2" r="0.9"/><circle cx="658.7" cy="95.9" r="0.9"/><circle cx="654.3" cy="122.5" r="0.9"/><circle cx="654.5" cy="122.4" r="0.9"/><circle cx="655.4" cy="122.2" r="0.9"/><circle cx="656.2" cy="122.7" r="0.9"/><circle cx="656.5" cy="122.3" r="0.9"/><circle cx="657.4" cy="122.3" r="0.9"/><circle cx="658.5" cy="122.6" r="0.9"/><circle cx="659.1" cy="122.4" r="0.9"/><circle cx="659.6" cy="122.3" r="0.9"/><circle cx="660.0" cy="122.4" r="0.9"/><circle cx="660.9" cy="122.3" r="0.9"/><circle cx="654.4" cy="118.8" r="0.9"/><circle cx="655.2" cy="118.5" r="0.9"/><circle cx="655.9" cy="118.9" r="0.9"/><circle cx="657.0" cy="118.6" r="0.9"/><circle cx="657.8" cy="118.4" r="0.9"/><circle cx="658.0" cy="118.5" r="0.9"/><circle cx="658.7" cy="118.3" r="0.9"/><circle cx="659.6" cy="118.4" r="0.9"/><circle cx="660.5" cy="118.6" r="0.9"/><circle cx="653.2" cy="136.6" r="0.9"/><circle cx="653.8" cy="136.3" r="0.9"/><circle cx="654.5" cy="136.5" r="0.9"/><circle cx="655.4" cy="136.6" r="0.9"/><circle cx="655.6" cy="136.1" r="0.9"/><circle cx="656.6" cy="136.3" r="0.9"/><circle cx="657.0" cy="136.4" r="0.9"/><circle cx="658.1" cy="136.4" r="0.9"/><circle cx="658.5" cy="136.5" r="0.9"/><circle cx="659.1" cy="136.8" r="0.9"/><circle cx="660.2" cy="136.3" r="0.9"/><circle cx="660.6" cy="136.8" r="0.9"/><circle cx="661.0" cy="136.5" r="0.9"/><circle cx="661.9" cy="136.2" r="0.9"/><circle cx="653.9" cy="113.2" r="0.9"/><circle cx="654.5" cy="113.0" r="0.9"/><circle cx="655.2" cy="112.9" r="0.9"/><circle cx="655.9" cy="112.5" r="0.9"/><circle cx="656.8" cy="113.1" r="0.9"/><circle cx="657.2" cy="112.9" r="0.9"/><circle cx="657.9" cy="112.6" r="0.9"/><circle cx="658.7" cy="112.5" r="0.9"/><circle cx="659.0" cy="112.8" r="0.9"/><circle cx="660.1" cy="112.8" r="0.9"/><circle cx="660.4" cy="113.0" r="0.9"/><circle cx="661.2" cy="112.5" r="0.9"/><circle cx="650.4" cy="126.1" r="0.9"/><circle cx="650.9" cy="126.5" r="0.9"/><circle cx="651.8" cy="126.2" r="0.9"/><circle cx="652.2" cy="126.2" r="0.9"/><circle cx="652.7" cy="126.3" r="0.9"/><circle cx="653.4" cy="126.1" r="0.9"/><circle cx="654.4" cy="125.8" r="0.9"/><circle cx="654.9" cy="125.8" r="0.9"/><circle cx="655.4" cy="126.1" r="0.9"/><circle cx="656.0" cy="126.1" r="0.9"/><circle cx="656.8" cy="126.3" r="0.9"/><circle cx="657.3" cy="125.9" r="0.9"/><circle cx="657.9" cy="125.9" r="0.9"/><circle cx="658.6" cy="125.8" r="0.9"/><circle cx="659.7" cy="125.9" r="0.9"/><circle cx="660.3" cy="125.9" r="0.9"/><circle cx="660.7" cy="126.1" r="0.9"/><circle cx="661.8" cy="125.8" r="0.9"/><circle cx="662.2" cy="126.3" r="0.9"/><circle cx="662.8" cy="126.0" r="0.9"/><circle cx="663.3" cy="126.2" r="0.9"/><circle cx="664.2" cy="126.0" r="0.9"/><circle cx="664.7" cy="126.1" r="0.9"/><circle cx="656.4" cy="74.3" r="0.9"/><circle cx="657.8" cy="74.8" r="0.9"/><circle cx="658.6" cy="74.3" r="0.9"/><circle cx="652.5" cy="111.8" r="0.9"/><circle cx="653.3" cy="111.5" r="0.9"/><circle cx="654.0" cy="111.4" r="0.9"/><circle cx="654.6" cy="111.9" r="0.9"/><circle cx="655.4" cy="111.4" r="0.9"/><circle cx="656.2" cy="112.0" r="0.9"/><circle cx="656.8" cy="111.6" r="0.9"/><circle cx="657.3" cy="111.3" r="0.9"/><circle cx="658.4" cy="111.6" r="0.9"/><circle cx="658.8" cy="111.7" r="0.9"/><circle cx="659.6" cy="111.8" r="0.9"/><circle cx="660.1" cy="111.9" r="0.9"/><circle cx="660.9" cy="111.9" r="0.9"/><circle cx="661.4" cy="111.9" r="0.9"/><circle cx="662.4" cy="111.4" r="0.9"/><circle cx="653.3" cy="117.8" r="0.9"/><circle cx="653.5" cy="117.9" r="0.9"/><circle cx="654.4" cy="117.5" r="0.9"/><circle cx="655.2" cy="118.2" r="0.9"/><circle cx="655.6" cy="117.6" r="0.9"/><circle cx="656.5" cy="118.1" r="0.9"/><circle cx="657.2" cy="117.6" r="0.9"/><circle cx="657.6" cy="118.2" r="0.9"/><circle cx="658.6" cy="118.1" r="0.9"/><circle cx="659.2" cy="118.0" r="0.9"/><circle cx="660.2" cy="117.9" r="0.9"/><circle cx="660.7" cy="117.8" r="0.9"/><circle cx="661.2" cy="117.6" r="0.9"/><circle cx="661.9" cy="117.9" r="0.9"/><circle cx="654.6" cy="124.4" r="0.9"/><circle cx="655.4" cy="124.9" r="0.9"/><circle cx="656.3" cy="124.4" r="0.9"/><circle cx="656.5" cy="125.0" r="0.9"/><circle cx="657.5" cy="124.5" r="0.9"/><circle cx="658.4" cy="124.6" r="0.9"/><circle cx="659.0" cy="125.0" r="0.9"/><circle cx="659.9" cy="124.4" r="0.9"/><circle cx="660.5" cy="124.6" r="0.9"/><circle cx="647.3" cy="145.0" r="0.9"/><circle cx="647.7" cy="145.1" r="0.9"/><circle cx="648.5" cy="145.3" r="0.9"/><circle cx="649.2" cy="144.6" r="0.9"/><circle cx="649.4" cy="145.2" r="0.9"/><circle cx="650.2" cy="144.8" r="0.9"/><circle cx="650.7" cy="145.1" r="0.9"/><circle cx="651.6" cy="144.7" r="0.9"/><circle cx="652.4" cy="145.1" r="0.9"/><circle cx="652.9" cy="144.6" r="0.9"/><circle cx="653.6" cy="145.1" r="0.9"/><circle cx="654.0" cy="145.1" r="0.9"/><circle cx="655.0" cy="144.7" r="0.9"/><circle cx="655.8" cy="144.9" r="0.9"/><circle cx="655.9" cy="144.9" r="0.9"/><circle cx="657.0" cy="144.8" r="0.9"/><circle cx="657.5" cy="145.0" r="0.9"/><circle cx="658.0" cy="145.1" r="0.9"/><circle cx="659.1" cy="145.2" r="0.9"/><circle cx="659.5" cy="145.3" r="0.9"/><circle cx="659.9" cy="145.0" r="0.9"/><circle cx="660.9" cy="144.7" r="0.9"/><circle cx="661.1" cy="145.1" r="0.9"/><circle cx="662.0" cy="145.2" r="0.9"/><circle cx="662.7" cy="145.1" r="0.9"/><circle cx="663.3" cy="145.1" r="0.9"/><circle cx="664.1" cy="145.1" r="0.9"/><circle cx="664.6" cy="145.1" r="0.9"/><circle cx="665.6" cy="145.2" r="0.9"/><circle cx="665.8" cy="144.9" r="0.9"/><circle cx="666.8" cy="145.0" r="0.9"/><circle cx="667.4" cy="145.0" r="0.9"/><circle cx="668.0" cy="145.0" r="0.9"/><circle cx="654.9" cy="131.8" r="0.9"/><circle cx="655.9" cy="132.1" r="0.9"/><circle cx="656.1" cy="131.8" r="0.9"/><circle cx="657.3" cy="132.1" r="0.9"/><circle cx="657.8" cy="132.2" r="0.9"/><circle cx="658.8" cy="132.0" r="0.9"/><circle cx="659.0" cy="132.0" r="0.9"/><circle cx="659.8" cy="132.1" r="0.9"/><circle cx="652.5" cy="134.5" r="0.9"/><circle cx="653.6" cy="134.5" r="0.9"/><circle cx="654.4" cy="134.7" r="0.9"/><circle cx="654.8" cy="134.6" r="0.9"/><circle cx="655.6" cy="134.5" r="0.9"/><circle cx="656.0" cy="134.6" r="0.9"/><circle cx="656.7" cy="134.4" r="0.9"/><circle cx="657.5" cy="134.5" r="0.9"/><circle cx="658.4" cy="134.5" r="0.9"/><circle cx="659.2" cy="134.2" r="0.9"/><circle cx="659.6" cy="134.2" r="0.9"/><circle cx="660.5" cy="134.4" r="0.9"/><circle cx="660.9" cy="134.2" r="0.9"/><circle cx="661.9" cy="134.8" r="0.9"/><circle cx="662.5" cy="134.7" r="0.9"/><circle cx="644.3" cy="138.6" r="0.9"/><circle cx="645.2" cy="138.6" r="0.9"/><circle cx="646.0" cy="138.7" r="0.9"/><circle cx="646.6" cy="138.7" r="0.9"/><circle cx="647.2" cy="138.9" r="0.9"/><circle cx="647.4" cy="139.1" r="0.9"/><circle cx="648.3" cy="138.9" r="0.9"/><circle cx="648.7" cy="138.9" r="0.9"/><circle cx="649.2" cy="138.8" r="0.9"/><circle cx="649.9" cy="139.0" r="0.9"/><circle cx="651.0" cy="139.0" r="0.9"/><circle cx="651.1" cy="138.9" r="0.9"/><circle cx="651.9" cy="138.8" r="0.9"/><circle cx="652.5" cy="138.8" r="0.9"/><circle cx="653.0" cy="138.6" r="0.9"/><circle cx="654.0" cy="139.1" r="0.9"/><circle cx="654.4" cy="138.5" r="0.9"/><circle cx="654.7" cy="138.8" r="0.9"/><circle cx="655.8" cy="138.5" r="0.9"/><circle cx="656.1" cy="138.5" r="0.9"/><circle cx="657.1" cy="138.7" r="0.9"/><circle cx="657.5" cy="138.9" r="0.9"/><circle cx="658.0" cy="138.7" r="0.9"/><circle cx="658.6" cy="139.2" r="0.9"/><circle cx="659.5" cy="139.0" r="0.9"/><circle cx="659.7" cy="138.8" r="0.9"/><circle cx="660.4" cy="139.1" r="0.9"/><circle cx="661.2" cy="138.7" r="0.9"/><circle cx="661.9" cy="138.6" r="0.9"/><circle cx="662.3" cy="138.8" r="0.9"/><circle cx="663.2" cy="138.7" r="0.9"/><circle cx="663.6" cy="139.1" r="0.9"/><circle cx="664.4" cy="139.0" r="0.9"/><circle cx="665.1" cy="139.0" r="0.9"/><circle cx="665.5" cy="139.1" r="0.9"/><circle cx="666.4" cy="139.0" r="0.9"/><circle cx="667.1" cy="139.0" r="0.9"/><circle cx="667.1" cy="138.6" r="0.9"/><circle cx="668.0" cy="139.0" r="0.9"/><circle cx="668.9" cy="138.7" r="0.9"/><circle cx="669.0" cy="138.8" r="0.9"/><circle cx="670.1" cy="138.6" r="0.9"/><circle cx="670.7" cy="138.9" r="0.9"/><circle cx="644.7" cy="128.9" r="0.9"/><circle cx="644.9" cy="128.5" r="0.9"/><circle cx="645.7" cy="128.8" r="0.9"/><circle cx="646.0" cy="128.7" r="0.9"/><circle cx="646.8" cy="128.7" r="0.9"/><circle cx="647.6" cy="128.5" r="0.9"/><circle cx="647.9" cy="128.6" r="0.9"/><circle cx="648.8" cy="128.4" r="0.9"/><circle cx="649.1" cy="128.6" r="0.9"/><circle cx="650.1" cy="128.6" r="0.9"/><circle cx="650.4" cy="128.6" r="0.9"/><circle cx="650.7" cy="128.8" r="0.9"/><circle cx="651.5" cy="128.4" r="0.9"/><circle cx="652.1" cy="128.8" r="0.9"/><circle cx="653.0" cy="128.4" r="0.9"/><circle cx="653.5" cy="128.6" r="0.9"/><circle cx="654.2" cy="128.8" r="0.9"/><circle cx="654.5" cy="128.7" r="0.9"/><circle cx="655.2" cy="128.9" r="0.9"/><circle cx="655.5" cy="128.5" r="0.9"/><circle cx="656.1" cy="128.8" r="0.9"/><circle cx="656.7" cy="128.7" r="0.9"/><circle cx="657.7" cy="128.7" r="0.9"/><circle cx="658.2" cy="128.6" r="0.9"/><circle cx="658.9" cy="128.8" r="0.9"/><circle cx="659.0" cy="128.7" r="0.9"/><circle cx="659.7" cy="128.5" r="0.9"/><circle cx="660.4" cy="128.4" r="0.9"/><circle cx="661.3" cy="128.9" r="0.9"/><circle cx="661.9" cy="128.7" r="0.9"/><circle cx="662.2" cy="128.3" r="0.9"/><circle cx="662.6" cy="128.3" r="0.9"/><circle cx="663.5" cy="128.7" r="0.9"/><circle cx="663.9" cy="128.4" r="0.9"/><circle cx="664.4" cy="128.9" r="0.9"/><circle cx="665.1" cy="128.5" r="0.9"/><circle cx="665.7" cy="128.3" r="0.9"/><circle cx="666.2" cy="128.6" r="0.9"/><circle cx="667.0" cy="128.5" r="0.9"/><circle cx="667.5" cy="128.5" r="0.9"/><circle cx="668.2" cy="128.4" r="0.9"/><circle cx="668.8" cy="128.3" r="0.9"/><circle cx="669.3" cy="128.5" r="0.9"/><circle cx="669.9" cy="128.6" r="0.9"/><circle cx="670.4" cy="128.5" r="0.9"/><circle cx="650.0" cy="123.8" r="0.9"/><circle cx="650.8" cy="123.5" r="0.9"/><circle cx="651.0" cy="123.8" r="0.9"/><circle cx="652.0" cy="123.7" r="0.9"/><circle cx="652.6" cy="123.8" r="0.9"/><circle cx="653.4" cy="123.5" r="0.9"/><circle cx="653.7" cy="123.7" r="0.9"/><circle cx="654.4" cy="123.8" r="0.9"/><circle cx="655.2" cy="123.3" r="0.9"/><circle cx="656.1" cy="123.4" r="0.9"/><circle cx="656.7" cy="123.5" r="0.9"/><circle cx="657.2" cy="123.8" r="0.9"/><circle cx="658.1" cy="123.8" r="0.9"/><circle cx="658.6" cy="123.7" r="0.9"/><circle cx="658.9" cy="123.2" r="0.9"/><circle cx="659.7" cy="123.3" r="0.9"/><circle cx="660.3" cy="123.3" r="0.9"/><circle cx="661.2" cy="123.5" r="0.9"/><circle cx="661.8" cy="123.5" r="0.9"/><circle cx="662.7" cy="123.4" r="0.9"/><circle cx="662.9" cy="123.3" r="0.9"/><circle cx="663.6" cy="123.6" r="0.9"/><circle cx="664.2" cy="123.8" r="0.9"/><circle cx="665.0" cy="123.3" r="0.9"/><circle cx="650.7" cy="135.6" r="0.9"/><circle cx="651.3" cy="135.2" r="0.9"/><circle cx="652.4" cy="135.5" r="0.9"/><circle cx="652.8" cy="135.5" r="0.9"/><circle cx="653.7" cy="135.7" r="0.9"/><circle cx="654.4" cy="135.4" r="0.9"/><circle cx="655.1" cy="135.7" r="0.9"/><circle cx="655.3" cy="135.5" r="0.9"/><circle cx="656.2" cy="135.4" r="0.9"/><circle cx="656.6" cy="135.1" r="0.9"/><circle cx="657.6" cy="135.4" r="0.9"/><circle cx="658.2" cy="135.3" r="0.9"/><circle cx="658.8" cy="135.4" r="0.9"/><circle cx="659.7" cy="135.4" r="0.9"/><circle cx="660.2" cy="135.3" r="0.9"/><circle cx="660.5" cy="135.2" r="0.9"/><circle cx="661.6" cy="135.5" r="0.9"/><circle cx="662.3" cy="135.5" r="0.9"/><circle cx="663.0" cy="135.7" r="0.9"/><circle cx="663.3" cy="135.7" r="0.9"/><circle cx="663.9" cy="135.8" r="0.9"/><circle cx="647.5" cy="149.6" r="0.9"/><circle cx="648.5" cy="149.0" r="0.9"/><circle cx="649.1" cy="149.3" r="0.9"/><circle cx="649.7" cy="149.2" r="0.9"/><circle cx="650.4" cy="149.3" r="0.9"/><circle cx="650.8" cy="149.3" r="0.9"/><circle cx="651.6" cy="149.4" r="0.9"/><circle cx="652.0" cy="149.0" r="0.9"/><circle cx="653.0" cy="149.0" r="0.9"/><circle cx="653.7" cy="149.0" r="0.9"/><circle cx="654.4" cy="149.6" r="0.9"/><circle cx="654.9" cy="149.5" r="0.9"/><circle cx="655.4" cy="149.2" r="0.9"/><circle cx="656.1" cy="149.0" r="0.9"/><circle cx="656.9" cy="149.3" r="0.9"/><circle cx="657.6" cy="149.2" r="0.9"/><circle cx="658.5" cy="149.5" r="0.9"/><circle cx="658.7" cy="149.0" r="0.9"/><circle cx="659.3" cy="149.6" r="0.9"/><circle cx="660.4" cy="149.6" r="0.9"/><circle cx="660.7" cy="149.4" r="0.9"/><circle cx="661.3" cy="149.0" r="0.9"/><circle cx="662.1" cy="149.4" r="0.9"/><circle cx="662.5" cy="149.0" r="0.9"/><circle cx="663.2" cy="149.4" r="0.9"/><circle cx="664.0" cy="149.6" r="0.9"/><circle cx="664.9" cy="149.2" r="0.9"/><circle cx="665.6" cy="149.6" r="0.9"/><circle cx="666.1" cy="149.2" r="0.9"/><circle cx="666.8" cy="149.4" r="0.9"/><circle cx="667.6" cy="149.2" r="0.9"/><circle cx="653.3" cy="109.2" r="0.9"/><circle cx="653.9" cy="109.4" r="0.9"/><circle cx="654.5" cy="109.3" r="0.9"/><circle cx="655.3" cy="109.5" r="0.9"/><circle cx="655.6" cy="109.0" r="0.9"/><circle cx="656.3" cy="108.9" r="0.9"/><circle cx="657.1" cy="109.4" r="0.9"/><circle cx="657.7" cy="109.5" r="0.9"/><circle cx="658.4" cy="109.4" r="0.9"/><circle cx="659.5" cy="109.5" r="0.9"/><circle cx="660.2" cy="109.2" r="0.9"/><circle cx="660.8" cy="109.5" r="0.9"/><circle cx="661.5" cy="109.0" r="0.9"/><circle cx="661.9" cy="109.3" r="0.9"/><circle cx="654.3" cy="105.5" r="0.9"/><circle cx="655.3" cy="105.7" r="0.9"/><circle cx="655.5" cy="105.3" r="0.9"/><circle cx="656.2" cy="105.7" r="0.9"/><circle cx="657.4" cy="105.4" r="0.9"/><circle cx="658.1" cy="105.9" r="0.9"/><circle cx="658.5" cy="105.8" r="0.9"/><circle cx="659.2" cy="105.9" r="0.9"/><circle cx="660.3" cy="105.5" r="0.9"/><circle cx="660.7" cy="105.3" r="0.9"/><circle cx="657.1" cy="89.6" r="0.9"/><circle cx="658.1" cy="89.8" r="0.9"/><circle cx="651.0" cy="115.4" r="0.9"/><circle cx="651.6" cy="115.3" r="0.9"/><circle cx="652.2" cy="115.4" r="0.9"/><circle cx="652.9" cy="115.5" r="0.9"/><circle cx="653.6" cy="115.6" r="0.9"/><circle cx="654.8" cy="115.0" r="0.9"/><circle cx="655.4" cy="115.0" r="0.9"/><circle cx="656.1" cy="115.4" r="0.9"/><circle cx="656.3" cy="115.3" r="0.9"/><circle cx="656.9" cy="115.3" r="0.9"/><circle cx="657.6" cy="115.6" r="0.9"/><circle cx="658.6" cy="115.6" r="0.9"/><circle cx="659.2" cy="115.4" r="0.9"/><circle cx="659.9" cy="115.3" r="0.9"/><circle cx="660.7" cy="115.5" r="0.9"/><circle cx="661.4" cy="115.3" r="0.9"/><circle cx="661.7" cy="115.1" r="0.9"/><circle cx="662.6" cy="115.0" r="0.9"/><circle cx="663.0" cy="115.0" r="0.9"/><circle cx="663.8" cy="115.2" r="0.9"/><circle cx="650.6" cy="130.8" r="0.9"/><circle cx="651.2" cy="130.5" r="0.9"/><circle cx="651.7" cy="130.7" r="0.9"/><circle cx="652.6" cy="130.7" r="0.9"/><circle cx="653.2" cy="130.7" r="0.9"/><circle cx="653.8" cy="130.8" r="0.9"/><circle cx="654.7" cy="130.7" r="0.9"/><circle cx="655.2" cy="131.0" r="0.9"/><circle cx="655.9" cy="130.8" r="0.9"/><circle cx="656.4" cy="130.5" r="0.9"/><circle cx="657.0" cy="130.4" r="0.9"/><circle cx="658.0" cy="130.8" r="0.9"/><circle cx="658.6" cy="131.0" r="0.9"/><circle cx="659.4" cy="131.0" r="0.9"/><circle cx="660.0" cy="130.6" r="0.9"/><circle cx="660.5" cy="130.4" r="0.9"/><circle cx="661.4" cy="130.5" r="0.9"/><circle cx="661.6" cy="131.0" r="0.9"/><circle cx="662.7" cy="130.9" r="0.9"/><circle cx="662.9" cy="130.8" r="0.9"/><circle cx="663.8" cy="130.6" r="0.9"/><circle cx="664.4" cy="131.0" r="0.9"/><circle cx="656.9" cy="62.5" r="0.9"/><circle cx="658.1" cy="62.4" r="0.9"/><circle cx="646.7" cy="133.1" r="0.9"/><circle cx="647.1" cy="132.9" r="0.9"/><circle cx="648.0" cy="133.3" r="0.9"/><circle cx="648.9" cy="133.2" r="0.9"/><circle cx="649.5" cy="133.1" r="0.9"/><circle cx="649.9" cy="132.9" r="0.9"/><circle cx="650.5" cy="132.8" r="0.9"/><circle cx="651.3" cy="133.3" r="0.9"/><circle cx="652.2" cy="133.1" r="0.9"/><circle cx="652.7" cy="133.3" r="0.9"/><circle cx="653.0" cy="133.0" r="0.9"/><circle cx="654.1" cy="133.3" r="0.9"/><circle cx="654.5" cy="132.8" r="0.9"/><circle cx="655.2" cy="132.8" r="0.9"/><circle cx="655.8" cy="133.3" r="0.9"/><circle cx="656.4" cy="133.1" r="0.9"/><circle cx="657.3" cy="133.5" r="0.9"/><circle cx="658.0" cy="133.3" r="0.9"/><circle cx="658.2" cy="133.1" r="0.9"/><circle cx="659.0" cy="132.8" r="0.9"/><circle cx="659.9" cy="133.0" r="0.9"/><circle cx="660.3" cy="132.9" r="0.9"/><circle cx="660.9" cy="133.4" r="0.9"/><circle cx="662.0" cy="132.9" r="0.9"/><circle cx="662.6" cy="133.2" r="0.9"/><circle cx="663.0" cy="133.3" r="0.9"/><circle cx="663.7" cy="133.5" r="0.9"/><circle cx="664.4" cy="133.0" r="0.9"/><circle cx="665.2" cy="132.9" r="0.9"/><circle cx="666.0" cy="133.0" r="0.9"/><circle cx="666.3" cy="132.8" r="0.9"/><circle cx="667.1" cy="132.8" r="0.9"/><circle cx="667.9" cy="132.9" r="0.9"/><circle cx="668.4" cy="133.4" r="0.9"/><circle cx="650.9" cy="139.9" r="0.9"/><circle cx="651.3" cy="140.5" r="0.9"/><circle cx="652.4" cy="140.2" r="0.9"/><circle cx="653.1" cy="140.0" r="0.9"/><circle cx="653.6" cy="140.2" r="0.9"/><circle cx="654.3" cy="140.4" r="0.9"/><circle cx="655.0" cy="139.9" r="0.9"/><circle cx="655.5" cy="139.9" r="0.9"/><circle cx="656.2" cy="140.3" r="0.9"/><circle cx="656.7" cy="140.3" r="0.9"/><circle cx="657.5" cy="140.3" r="0.9"/><circle cx="658.0" cy="140.4" r="0.9"/><circle cx="658.9" cy="140.2" r="0.9"/><circle cx="659.4" cy="140.0" r="0.9"/><circle cx="660.1" cy="139.8" r="0.9"/><circle cx="661.0" cy="140.3" r="0.9"/><circle cx="661.3" cy="139.8" r="0.9"/><circle cx="662.3" cy="139.8" r="0.9"/><circle cx="663.1" cy="139.8" r="0.9"/><circle cx="663.3" cy="140.3" r="0.9"/><circle cx="664.2" cy="140.4" r="0.9"/><circle cx="651.6" cy="130.0" r="0.9"/><circle cx="652.4" cy="130.0" r="0.9"/><circle cx="652.9" cy="129.4" r="0.9"/><circle cx="653.3" cy="129.8" r="0.9"/><circle cx="654.0" cy="129.8" r="0.9"/><circle cx="654.9" cy="129.5" r="0.9"/><circle cx="655.7" cy="129.5" r="0.9"/><circle cx="656.4" cy="129.4" r="0.9"/><circle cx="657.0" cy="129.3" r="0.9"/><circle cx="657.6" cy="129.9" r="0.9"/><circle cx="658.4" cy="129.3" r="0.9"/><circle cx="659.0" cy="129.5" r="0.9"/><circle cx="659.2" cy="129.4" r="0.9"/><circle cx="659.9" cy="129.9" r="0.9"/><circle cx="660.7" cy="129.7" r="0.9"/><circle cx="661.6" cy="129.7" r="0.9"/><circle cx="662.4" cy="129.8" r="0.9"/><circle cx="662.7" cy="129.7" r="0.9"/><circle cx="663.4" cy="129.9" r="0.9"/><circle cx="649.5" cy="151.8" r="0.9"/><circle cx="650.5" cy="151.8" r="0.9"/><circle cx="650.9" cy="151.9" r="0.9"/><circle cx="651.4" cy="152.1" r="0.9"/><circle cx="652.5" cy="152.4" r="0.9"/><circle cx="652.9" cy="152.2" r="0.9"/><circle cx="653.7" cy="152.2" r="0.9"/><circle cx="654.4" cy="152.1" r="0.9"/><circle cx="654.9" cy="151.9" r="0.9"/><circle cx="655.4" cy="152.1" r="0.9"/><circle cx="656.0" cy="152.1" r="0.9"/><circle cx="656.8" cy="152.0" r="0.9"/><circle cx="657.3" cy="152.3" r="0.9"/><circle cx="658.0" cy="151.9" r="0.9"/><circle cx="658.5" cy="152.3" r="0.9"/><circle cx="659.7" cy="151.9" r="0.9"/><circle cx="660.0" cy="151.9" r="0.9"/><circle cx="661.0" cy="152.0" r="0.9"/><circle cx="661.5" cy="152.4" r="0.9"/><circle cx="662.3" cy="152.1" r="0.9"/><circle cx="662.6" cy="151.9" r="0.9"/><circle cx="663.7" cy="152.3" r="0.9"/><circle cx="664.2" cy="152.4" r="0.9"/><circle cx="664.7" cy="152.0" r="0.9"/><circle cx="665.6" cy="152.2" r="0.9"/><circle cx="656.9" cy="84.0" r="0.9"/><circle cx="658.2" cy="84.1" r="0.9"/><circle cx="652.2" cy="121.1" r="0.9"/><circle cx="653.2" cy="120.9" r="0.9"/><circle cx="653.7" cy="121.3" r="0.9"/><circle cx="654.3" cy="121.5" r="0.9"/><circle cx="654.9" cy="121.3" r="0.9"/><circle cx="656.1" cy="121.4" r="0.9"/><circle cx="656.3" cy="120.9" r="0.9"/><circle cx="657.2" cy="121.3" r="0.9"/><circle cx="657.7" cy="120.9" r="0.9"/><circle cx="658.8" cy="121.0" r="0.9"/><circle cx="658.9" cy="121.5" r="0.9"/><circle cx="660.2" cy="121.3" r="0.9"/><circle cx="660.6" cy="120.9" r="0.9"/><circle cx="661.1" cy="120.8" r="0.9"/><circle cx="661.7" cy="121.5" r="0.9"/><circle cx="662.9" cy="120.9" r="0.9"/><circle cx="647.2" cy="137.7" r="0.9"/><circle cx="648.0" cy="137.4" r="0.9"/><circle cx="648.3" cy="137.5" r="0.9"/><circle cx="648.9" cy="137.3" r="0.9"/><circle cx="649.8" cy="137.4" r="0.9"/><circle cx="650.5" cy="137.9" r="0.9"/><circle cx="650.8" cy="137.9" r="0.9"/><circle cx="651.5" cy="137.7" r="0.9"/><circle cx="652.2" cy="137.8" r="0.9"/><circle cx="653.0" cy="137.9" r="0.9"/><circle cx="653.6" cy="137.4" r="0.9"/><circle cx="654.4" cy="137.7" r="0.9"/><circle cx="654.8" cy="137.9" r="0.9"/><circle cx="655.7" cy="137.7" r="0.9"/><circle cx="656.4" cy="137.6" r="0.9"/><circle cx="656.8" cy="137.4" r="0.9"/><circle cx="657.3" cy="137.3" r="0.9"/><circle cx="658.1" cy="137.9" r="0.9"/><circle cx="658.7" cy="137.3" r="0.9"/><circle cx="659.5" cy="137.3" r="0.9"/><circle cx="660.3" cy="137.3" r="0.9"/><circle cx="660.8" cy="137.3" r="0.9"/><circle cx="661.2" cy="137.6" r="0.9"/><circle cx="662.1" cy="137.6" r="0.9"/><circle cx="662.6" cy="137.9" r="0.9"/><circle cx="663.2" cy="137.8" r="0.9"/><circle cx="664.2" cy="137.3" r="0.9"/><circle cx="664.5" cy="137.8" r="0.9"/><circle cx="665.4" cy="137.5" r="0.9"/><circle cx="665.9" cy="137.3" r="0.9"/><circle cx="666.8" cy="137.3" r="0.9"/><circle cx="667.4" cy="137.6" r="0.9"/><circle cx="667.7" cy="137.3" r="0.9"/><circle cx="650.5" cy="143.0" r="0.9"/><circle cx="650.9" cy="142.8" r="0.9"/><circle cx="651.5" cy="143.2" r="0.9"/><circle cx="652.4" cy="143.3" r="0.9"/><circle cx="652.8" cy="143.3" r="0.9"/><circle cx="653.2" cy="143.3" r="0.9"/><circle cx="653.9" cy="142.9" r="0.9"/><circle cx="654.8" cy="143.0" r="0.9"/><circle cx="655.6" cy="143.5" r="0.9"/><circle cx="656.1" cy="142.9" r="0.9"/><circle cx="656.8" cy="143.1" r="0.9"/><circle cx="657.7" cy="143.5" r="0.9"/><circle cx="657.9" cy="143.2" r="0.9"/><circle cx="658.7" cy="143.0" r="0.9"/><circle cx="659.7" cy="143.5" r="0.9"/><circle cx="660.4" cy="143.4" r="0.9"/><circle cx="661.0" cy="143.4" r="0.9"/><circle cx="661.5" cy="143.5" r="0.9"/><circle cx="662.0" cy="143.5" r="0.9"/><circle cx="662.8" cy="143.2" r="0.9"/><circle cx="663.7" cy="143.2" r="0.9"/><circle cx="664.1" cy="143.0" r="0.9"/><circle cx="664.5" cy="143.1" r="0.9"/><circle cx="657.0" cy="82.6" r="0.9"/><circle cx="658.1" cy="82.6" r="0.9"/><circle cx="650.9" cy="147.0" r="0.9"/><circle cx="651.8" cy="147.1" r="0.9"/><circle cx="652.4" cy="147.2" r="0.9"/><circle cx="653.0" cy="146.6" r="0.9"/><circle cx="654.1" cy="146.9" r="0.9"/><circle cx="654.7" cy="147.2" r="0.9"/><circle cx="655.4" cy="147.2" r="0.9"/><circle cx="656.0" cy="147.2" r="0.9"/><circle cx="656.4" cy="147.2" r="0.9"/><circle cx="656.9" cy="147.2" r="0.9"/><circle cx="658.1" cy="147.1" r="0.9"/><circle cx="658.3" cy="146.9" r="0.9"/><circle cx="659.2" cy="146.7" r="0.9"/><circle cx="659.9" cy="146.9" r="0.9"/><circle cx="660.8" cy="146.7" r="0.9"/><circle cx="661.1" cy="147.2" r="0.9"/><circle cx="661.8" cy="147.1" r="0.9"/><circle cx="662.2" cy="147.1" r="0.9"/><circle cx="662.9" cy="146.7" r="0.9"/><circle cx="664.0" cy="147.2" r="0.9"/><circle cx="656.1" cy="165.9" r="0.9"/><circle cx="657.2" cy="165.7" r="0.9"/><circle cx="657.9" cy="166.0" r="0.9"/><circle cx="658.7" cy="165.7" r="0.9"/><circle cx="656.9" cy="72.5" r="0.9"/><circle cx="656.3" cy="76.7" r="0.9"/><circle cx="657.6" cy="76.8" r="0.9"/><circle cx="658.3" cy="76.9" r="0.9"/><circle cx="656.8" cy="95.2" r="0.9"/><circle cx="658.1" cy="95.2" r="0.9"/><circle cx="656.7" cy="81.5" r="0.9"/><circle cx="658.4" cy="82.0" r="0.9"/><circle cx="648.5" cy="127.5" r="0.9"/><circle cx="648.8" cy="127.3" r="0.9"/><circle cx="649.4" cy="127.5" r="0.9"/><circle cx="650.4" cy="127.3" r="0.9"/><circle cx="651.1" cy="127.4" r="0.9"/><circle cx="651.7" cy="127.7" r="0.9"/><circle cx="652.3" cy="127.8" r="0.9"/><circle cx="653.0" cy="127.2" r="0.9"/><circle cx="653.8" cy="127.4" r="0.9"/><circle cx="654.5" cy="127.6" r="0.9"/><circle cx="654.9" cy="127.7" r="0.9"/><circle cx="655.5" cy="127.5" r="0.9"/><circle cx="656.3" cy="127.5" r="0.9"/><circle cx="657.0" cy="127.5" r="0.9"/><circle cx="657.3" cy="127.6" r="0.9"/><circle cx="658.0" cy="127.7" r="0.9"/><circle cx="658.6" cy="127.2" r="0.9"/><circle cx="659.5" cy="127.5" r="0.9"/><circle cx="660.2" cy="127.2" r="0.9"/><circle cx="660.8" cy="127.6" r="0.9"/><circle cx="661.6" cy="127.4" r="0.9"/><circle cx="662.0" cy="127.3" r="0.9"/><circle cx="662.6" cy="127.7" r="0.9"/><circle cx="663.3" cy="127.5" r="0.9"/><circle cx="664.1" cy="127.5" r="0.9"/><circle cx="664.8" cy="127.8" r="0.9"/><circle cx="665.4" cy="127.6" r="0.9"/><circle cx="666.3" cy="127.2" r="0.9"/><circle cx="666.7" cy="127.6" r="0.9"/><circle cx="657.6" cy="47.5" r="0.9"/><circle cx="654.4" cy="104.2" r="0.9"/><circle cx="655.5" cy="104.2" r="0.9"/><circle cx="656.2" cy="104.1" r="0.9"/><circle cx="656.8" cy="104.7" r="0.9"/><circle cx="657.4" cy="104.4" r="0.9"/><circle cx="658.4" cy="104.6" r="0.9"/><circle cx="658.7" cy="104.1" r="0.9"/><circle cx="659.4" cy="104.3" r="0.9"/><circle cx="660.6" cy="104.2" r="0.9"/><circle cx="656.6" cy="98.8" r="0.9"/><circle cx="657.7" cy="98.6" r="0.9"/><circle cx="658.5" cy="98.3" r="0.9"/><circle cx="655.6" cy="159.9" r="0.9"/><circle cx="656.5" cy="160.1" r="0.9"/><circle cx="657.2" cy="159.9" r="0.9"/><circle cx="657.6" cy="159.8" r="0.9"/><circle cx="658.5" cy="159.7" r="0.9"/><circle cx="659.5" cy="159.7" r="0.9"/><circle cx="652.6" cy="141.7" r="0.9"/><circle cx="652.9" cy="141.7" r="0.9"/><circle cx="653.5" cy="141.3" r="0.9"/><circle cx="654.7" cy="141.9" r="0.9"/><circle cx="655.4" cy="141.5" r="0.9"/><circle cx="655.7" cy="141.4" r="0.9"/><circle cx="656.4" cy="141.3" r="0.9"/><circle cx="657.3" cy="141.5" r="0.9"/><circle cx="657.7" cy="141.4" r="0.9"/><circle cx="658.5" cy="141.9" r="0.9"/><circle cx="659.2" cy="141.9" r="0.9"/><circle cx="660.0" cy="141.8" r="0.9"/><circle cx="660.8" cy="141.4" r="0.9"/><circle cx="660.9" cy="141.6" r="0.9"/><circle cx="662.0" cy="141.3" r="0.9"/><circle cx="662.5" cy="141.6" r="0.9"/><circle cx="653.4" cy="102.9" r="0.9"/><circle cx="654.4" cy="103.3" r="0.9"/><circle cx="654.8" cy="103.3" r="0.9"/><circle cx="655.4" cy="103.2" r="0.9"/><circle cx="656.2" cy="103.5" r="0.9"/><circle cx="656.7" cy="103.5" r="0.9"/><circle cx="657.8" cy="103.0" r="0.9"/><circle cx="658.3" cy="103.5" r="0.9"/><circle cx="659.1" cy="102.9" r="0.9"/><circle cx="659.6" cy="103.5" r="0.9"/><circle cx="660.3" cy="103.3" r="0.9"/><circle cx="660.9" cy="103.2" r="0.9"/><circle cx="661.4" cy="103.1" r="0.9"/><circle cx="654.4" cy="119.7" r="0.9"/><circle cx="655.5" cy="119.7" r="0.9"/><circle cx="656.3" cy="119.6" r="0.9"/><circle cx="656.7" cy="120.2" r="0.9"/><circle cx="657.2" cy="119.9" r="0.9"/><circle cx="658.0" cy="119.6" r="0.9"/><circle cx="659.1" cy="119.9" r="0.9"/><circle cx="659.4" cy="120.2" r="0.9"/><circle cx="660.1" cy="119.6" r="0.9"/><circle cx="653.8" cy="107.8" r="0.9"/><circle cx="654.2" cy="107.8" r="0.9"/><circle cx="654.9" cy="108.1" r="0.9"/><circle cx="655.5" cy="108.2" r="0.9"/><circle cx="656.4" cy="108.3" r="0.9"/><circle cx="657.3" cy="107.7" r="0.9"/><circle cx="657.9" cy="107.8" r="0.9"/><circle cx="658.6" cy="108.4" r="0.9"/><circle cx="659.4" cy="108.3" r="0.9"/><circle cx="659.8" cy="107.7" r="0.9"/><circle cx="660.8" cy="108.1" r="0.9"/><circle cx="661.1" cy="108.2" r="0.9"/><circle cx="656.9" cy="50.8" r="0.9"/><circle cx="658.1" cy="50.9" r="0.9"/><circle cx="657.0" cy="78.1" r="0.9"/><circle cx="657.8" cy="78.0" r="0.9"/><circle cx="657.5" cy="48.7" r="0.9"/><circle cx="656.1" cy="155.6" r="0.9"/><circle cx="657.0" cy="155.5" r="0.9"/><circle cx="657.6" cy="155.3" r="0.9"/><circle cx="658.2" cy="155.7" r="0.9"/><circle cx="659.0" cy="155.1" r="0.9"/><circle cx="657.0" cy="53.6" r="0.9"/><circle cx="657.4" cy="86.1" r="0.9"/><circle cx="658.0" cy="67.6" r="0.9"/><circle cx="657.0" cy="99.2" r="0.9"/><circle cx="657.6" cy="54.6" r="0.9"/><circle cx="656.6" cy="100.7" r="0.9"/><circle cx="657.8" cy="100.8" r="0.9"/><circle cx="658.4" cy="100.5" r="0.9"/><circle cx="657.8" cy="96.9" r="0.9"/><circle cx="656.9" cy="69.5" r="0.9"/><circle cx="657.2" cy="73.2" r="0.9"/><circle cx="657.0" cy="57.1" r="0.9"/><circle cx="657.6" cy="85.7" r="0.9"/><circle cx="658.2" cy="58.2" r="0.9"/><circle cx="658.1" cy="93.7" r="0.9"/><circle cx="657.0" cy="61.4" r="0.9"/></g>
<g stroke="#f7941d" stroke-width="1.5" fill="none">
<rect x="522.6" y="122.9" width="24" height="21.9"/>
<line x1="522.6" y1="136" x2="546.6" y2="136"/>
<line x1="534.6" y1="122.9" x2="534.6" y2="97.1"/>
<line x1="534.6" y1="144.8" x2="534.6" y2="157"/>
<line x1="527.1" y1="97.1" x2="542.1" y2="97.1"/>
<line x1="527.1" y1="157" x2="542.1" y2="157"/>
</g>
<g stroke="#2e3192" stroke-width="1.5" fill="none">
<rect x="563.8" y="126.8" width="24.2" height="14.6"/>
<line x1="563.8" y1="136.3" x2="588" y2="136.3"/>
<line x1="575.9" y1="126.8" x2="575.9" y2="106"/>
<line x1="575.9" y1="141.4" x2="575.9" y2="157"/>
<line x1="568.4" y1="106" x2="583.4" y2="106"/>
<line x1="568.4" y1="157" x2="583.4" y2="157"/>
</g>
<g stroke="#f7941d" stroke-width="1.5" fill="none">
<rect x="604.7" y="117.9" width="24" height="21.9"/>
<line x1="604.7" y1="130" x2="628.7" y2="130"/>
<line x1="616.7" y1="117.9" x2="616.7" y2="87.6"/>
<line x1="616.7" y1="139.8" x2="616.7" y2="150.7"/>
<line x1="609.2" y1="87.6" x2="624.2" y2="87.6"/>
<line x1="609.2" y1="150.7" x2="624.2" y2="150.7"/>
</g>
<g stroke="#2e3192" stroke-width="1.5" fill="none">
<rect x="645.4" y="116.7" width="24.2" height="22.2"/>
<line x1="645.4" y1="128.8" x2="669.6" y2="128.8"/>
<line x1="657.5" y1="116.7" x2="657.5" y2="97.3"/>
<line x1="657.5" y1="138.9" x2="657.5" y2="151.5"/>
<line x1="650" y1="97.3" x2="665" y2="97.3"/>
<line x1="650" y1="151.5" x2="665" y2="151.5"/>
</g>
<path d="M500.3 26.6 H507.7 V176.4" stroke="#111" stroke-width="1.6" fill="none"/>
<path d="M500.3 176.4 H685" stroke="#111" stroke-width="1.6" fill="none"/>
<text x="498" y="30.4" font-size="11.4" text-anchor="end" font-weight="normal" fill="#111" >1000</text>
<line x1="500.3" y1="61.4" x2="507.7" y2="61.4" stroke="#111" stroke-width="1.6"/>
<text x="498" y="65.2" font-size="11.4" text-anchor="end" font-weight="normal" fill="#111" >100</text>
<line x1="500.3" y1="96.3" x2="507.7" y2="96.3" stroke="#111" stroke-width="1.6"/>
<text x="498" y="100.1" font-size="11.4" text-anchor="end" font-weight="normal" fill="#111" >10</text>
<line x1="500.3" y1="131.1" x2="507.7" y2="131.1" stroke="#111" stroke-width="1.6"/>
<text x="498" y="134.9" font-size="11.4" text-anchor="end" font-weight="normal" fill="#111" >1</text>
<line x1="500.3" y1="165.9" x2="507.7" y2="165.9" stroke="#111" stroke-width="1.6"/>
<text x="498" y="169.7" font-size="11.4" text-anchor="end" font-weight="normal" fill="#111" >0.1</text>
<line x1="534.6" y1="176.4" x2="534.6" y2="183.6" stroke="#111" stroke-width="1.6"/>
<line x1="575.9" y1="176.4" x2="575.9" y2="183.6" stroke="#111" stroke-width="1.6"/>
<line x1="616.7" y1="176.4" x2="616.7" y2="183.6" stroke="#111" stroke-width="1.6"/>
<line x1="657.5" y1="176.4" x2="657.5" y2="183.6" stroke="#111" stroke-width="1.6"/>
<text transform="translate(535.4,198.6) scale(0.82,1)" font-size="18.9" text-anchor="middle" font-weight="bold" fill="#f7941d">3'</text>
<text transform="translate(576.7,198.6) scale(0.82,1)" font-size="18.9" text-anchor="middle" font-weight="bold" fill="#1c75bc">5'</text>
<text transform="translate(617.5,198.6) scale(0.82,1)" font-size="18.9" text-anchor="middle" font-weight="bold" fill="#f7941d">3'</text>
<text transform="translate(658.3,198.6) scale(0.82,1)" font-size="18.9" text-anchor="middle" font-weight="bold" fill="#1c75bc">5'</text>
<line x1="526" y1="204.5" x2="585.7" y2="204.5" stroke="#111" stroke-width="1.4"/>
<line x1="608.6" y1="204.5" x2="664.2" y2="204.5" stroke="#111" stroke-width="1.4"/>
<text x="554.7" y="220.5" font-size="12.7" text-anchor="middle" font-weight="normal" fill="#111" >+ATP</text>
<text x="636.8" y="220.5" font-size="12.7" text-anchor="middle" font-weight="normal" fill="#111" >-ATP</text>
<text x="471" y="200.5" font-size="12.7" text-anchor="start" font-weight="normal" fill="#111" >No RPA</text>
<text transform="translate(452,93.8) rotate(-90)" font-size="13.5" text-anchor="middle" fill="#111">Smc5/6 junction</text>
<text transform="translate(467.6,93.8) rotate(-90)" font-size="13.5" text-anchor="middle" fill="#111">dwell time (s)</text>
<g stroke="#222" stroke-width="1" fill="none">
<path d="M531.3 39.7 V21.7 H619.2 V26"/>
<path d="M531.3 35.4 H577.3 V39.7"/>
<path d="M577.8 12.5 V8.4 H661.4 V39.7"/>
<path d="M618 39.7 V34.9 H661.4"/>
</g>
<text x="555" y="32.4" font-size="9.4" text-anchor="middle" fill="#111"><tspan font-style="italic">P</tspan> = 0.93</text>
<text x="602.4" y="18.8" font-size="9.4" text-anchor="middle" fill="#111"><tspan font-style="italic">P</tspan> &lt; 0.0001</text>
<text x="622.7" y="6" font-size="9.4" text-anchor="middle" fill="#111"><tspan font-style="italic">P</tspan> &lt; 0.0001</text>
<text x="640.1" y="32" font-size="9.4" text-anchor="middle" fill="#111"><tspan font-style="italic">P</tspan> = 0.36</text>
<!-- panel d -->
<g fill="#fdd08c"><circle cx="530.8" cy="390.2" r="0.9"/><circle cx="532.4" cy="390.5" r="0.9"/><circle cx="533.5" cy="390.2" r="0.9"/><circle cx="534.6" cy="390.2" r="0.9"/><circle cx="535.8" cy="390.3" r="0.9"/><circle cx="537.2" cy="390.0" r="0.9"/><circle cx="538.6" cy="390.0" r="0.9"/><circle cx="539.8" cy="389.9" r="0.9"/><circle cx="540.5" cy="390.6" r="0.9"/><circle cx="522.3" cy="401.8" r="0.9"/><circle cx="523.3" cy="401.6" r="0.9"/><circle cx="523.9" cy="402.1" r="0.9"/><circle cx="524.5" cy="401.5" r="0.9"/><circle cx="525.0" cy="402.1" r="0.9"/><circle cx="525.8" cy="402.0" r="0.9"/><circle cx="526.7" cy="402.0" r="0.9"/><circle cx="527.5" cy="401.9" r="0.9"/><circle cx="528.3" cy="402.0" r="0.9"/><circle cx="528.6" cy="401.6" r="0.9"/><circle cx="529.6" cy="401.9" r="0.9"/><circle cx="530.3" cy="401.7" r="0.9"/><circle cx="531.2" cy="401.9" r="0.9"/><circle cx="531.6" cy="401.6" r="0.9"/><circle cx="532.2" cy="401.7" r="0.9"/><circle cx="533.2" cy="401.8" r="0.9"/><circle cx="534.0" cy="401.7" r="0.9"/><circle cx="534.7" cy="402.2" r="0.9"/><circle cx="535.3" cy="402.1" r="0.9"/><circle cx="535.8" cy="401.8" r="0.9"/><circle cx="536.5" cy="401.8" r="0.9"/><circle cx="537.6" cy="401.7" r="0.9"/><circle cx="538.3" cy="402.0" r="0.9"/><circle cx="538.6" cy="401.8" r="0.9"/><circle cx="539.4" cy="401.8" r="0.9"/><circle cx="540.4" cy="401.9" r="0.9"/><circle cx="540.9" cy="401.9" r="0.9"/><circle cx="541.5" cy="401.6" r="0.9"/><circle cx="542.2" cy="402.1" r="0.9"/><circle cx="543.2" cy="401.5" r="0.9"/><circle cx="543.8" cy="402.0" r="0.9"/><circle cx="544.5" cy="402.2" r="0.9"/><circle cx="545.0" cy="401.6" r="0.9"/><circle cx="545.8" cy="401.5" r="0.9"/><circle cx="546.8" cy="401.8" r="0.9"/><circle cx="547.4" cy="401.9" r="0.9"/><circle cx="548.0" cy="401.8" r="0.9"/><circle cx="548.9" cy="402.1" r="0.9"/><circle cx="549.7" cy="401.9" r="0.9"/><circle cx="532.6" cy="382.6" r="0.9"/><circle cx="534.2" cy="382.4" r="0.9"/><circle cx="535.0" cy="382.5" r="0.9"/><circle cx="536.8" cy="382.3" r="0.9"/><circle cx="537.8" cy="382.6" r="0.9"/><circle cx="539.2" cy="382.4" r="0.9"/><circle cx="523.6" cy="406.4" r="0.9"/><circle cx="524.7" cy="406.5" r="0.9"/><circle cx="525.5" cy="406.1" r="0.9"/><circle cx="526.8" cy="406.1" r="0.9"/><circle cx="527.9" cy="406.5" r="0.9"/><circle cx="529.3" cy="406.0" r="0.9"/><circle cx="530.4" cy="406.3" r="0.9"/><circle cx="531.2" cy="406.1" r="0.9"/><circle cx="532.3" cy="406.2" r="0.9"/><circle cx="533.8" cy="406.1" r="0.9"/><circle cx="534.7" cy="406.0" r="0.9"/><circle cx="536.2" cy="406.0" r="0.9"/><circle cx="537.0" cy="406.0" r="0.9"/><circle cx="538.2" cy="406.4" r="0.9"/><circle cx="539.5" cy="406.3" r="0.9"/><circle cx="540.7" cy="406.1" r="0.9"/><circle cx="541.7" cy="406.1" r="0.9"/><circle cx="542.6" cy="406.1" r="0.9"/><circle cx="543.7" cy="406.3" r="0.9"/><circle cx="544.8" cy="406.3" r="0.9"/><circle cx="546.2" cy="405.9" r="0.9"/><circle cx="547.2" cy="406.3" r="0.9"/><circle cx="548.4" cy="406.3" r="0.9"/><circle cx="528.6" cy="385.1" r="0.9"/><circle cx="529.8" cy="384.6" r="0.9"/><circle cx="531.4" cy="384.9" r="0.9"/><circle cx="532.2" cy="384.7" r="0.9"/><circle cx="533.5" cy="385.1" r="0.9"/><circle cx="534.4" cy="385.0" r="0.9"/><circle cx="535.9" cy="385.2" r="0.9"/><circle cx="537.0" cy="384.7" r="0.9"/><circle cx="538.3" cy="384.7" r="0.9"/><circle cx="539.2" cy="385.2" r="0.9"/><circle cx="540.6" cy="384.8" r="0.9"/><circle cx="541.6" cy="384.7" r="0.9"/><circle cx="542.9" cy="384.9" r="0.9"/><circle cx="534.5" cy="311.1" r="0.9"/><circle cx="535.8" cy="311.1" r="0.9"/><circle cx="537.4" cy="311.1" r="0.9"/><circle cx="527.2" cy="395.5" r="0.9"/><circle cx="528.3" cy="395.9" r="0.9"/><circle cx="529.3" cy="395.8" r="0.9"/><circle cx="531.0" cy="395.8" r="0.9"/><circle cx="531.8" cy="396.0" r="0.9"/><circle cx="533.1" cy="395.6" r="0.9"/><circle cx="533.9" cy="396.0" r="0.9"/><circle cx="535.3" cy="395.6" r="0.9"/><circle cx="536.2" cy="395.5" r="0.9"/><circle cx="537.8" cy="395.8" r="0.9"/><circle cx="538.6" cy="395.9" r="0.9"/><circle cx="540.1" cy="395.4" r="0.9"/><circle cx="541.2" cy="395.6" r="0.9"/><circle cx="542.2" cy="395.6" r="0.9"/><circle cx="543.4" cy="395.4" r="0.9"/><circle cx="544.8" cy="395.5" r="0.9"/><circle cx="536.6" cy="328.7" r="0.9"/><circle cx="523.4" cy="399.9" r="0.9"/><circle cx="524.9" cy="400.0" r="0.9"/><circle cx="526.0" cy="400.0" r="0.9"/><circle cx="526.6" cy="400.0" r="0.9"/><circle cx="527.7" cy="400.1" r="0.9"/><circle cx="528.9" cy="399.9" r="0.9"/><circle cx="530.0" cy="399.9" r="0.9"/><circle cx="531.7" cy="400.1" r="0.9"/><circle cx="532.6" cy="400.3" r="0.9"/><circle cx="533.6" cy="400.2" r="0.9"/><circle cx="534.5" cy="400.1" r="0.9"/><circle cx="536.1" cy="400.0" r="0.9"/><circle cx="536.8" cy="400.4" r="0.9"/><circle cx="538.3" cy="399.9" r="0.9"/><circle cx="539.1" cy="400.0" r="0.9"/><circle cx="540.4" cy="399.9" r="0.9"/><circle cx="541.8" cy="400.1" r="0.9"/><circle cx="542.9" cy="400.1" r="0.9"/><circle cx="544.1" cy="400.2" r="0.9"/><circle cx="545.0" cy="400.1" r="0.9"/><circle cx="546.3" cy="400.2" r="0.9"/><circle cx="547.3" cy="399.8" r="0.9"/><circle cx="548.6" cy="400.2" r="0.9"/><circle cx="530.2" cy="391.3" r="0.9"/><circle cx="531.0" cy="391.1" r="0.9"/><circle cx="532.2" cy="391.4" r="0.9"/><circle cx="533.4" cy="391.5" r="0.9"/><circle cx="534.5" cy="391.7" r="0.9"/><circle cx="535.7" cy="391.1" r="0.9"/><circle cx="536.9" cy="391.6" r="0.9"/><circle cx="538.5" cy="391.5" r="0.9"/><circle cx="539.3" cy="391.6" r="0.9"/><circle cx="540.8" cy="391.2" r="0.9"/><circle cx="542.1" cy="391.5" r="0.9"/><circle cx="533.1" cy="375.4" r="0.9"/><circle cx="534.3" cy="375.1" r="0.9"/><circle cx="535.6" cy="375.6" r="0.9"/><circle cx="537.2" cy="375.4" r="0.9"/><circle cx="538.9" cy="375.2" r="0.9"/><circle cx="528.6" cy="394.3" r="0.9"/><circle cx="530.3" cy="394.4" r="0.9"/><circle cx="530.9" cy="394.2" r="0.9"/><circle cx="532.3" cy="394.8" r="0.9"/><circle cx="533.4" cy="394.7" r="0.9"/><circle cx="534.6" cy="394.8" r="0.9"/><circle cx="536.0" cy="394.3" r="0.9"/><circle cx="537.0" cy="394.5" r="0.9"/><circle cx="538.2" cy="394.5" r="0.9"/><circle cx="539.7" cy="394.2" r="0.9"/><circle cx="540.5" cy="394.7" r="0.9"/><circle cx="542.0" cy="394.8" r="0.9"/><circle cx="542.9" cy="394.4" r="0.9"/><circle cx="528.6" cy="392.4" r="0.9"/><circle cx="529.8" cy="392.1" r="0.9"/><circle cx="530.8" cy="392.5" r="0.9"/><circle cx="532.1" cy="392.2" r="0.9"/><circle cx="533.0" cy="392.6" r="0.9"/><circle cx="534.1" cy="392.1" r="0.9"/><circle cx="535.4" cy="392.1" r="0.9"/><circle cx="536.3" cy="392.7" r="0.9"/><circle cx="537.6" cy="392.7" r="0.9"/><circle cx="539.1" cy="392.1" r="0.9"/><circle cx="539.8" cy="392.5" r="0.9"/><circle cx="541.0" cy="392.1" r="0.9"/><circle cx="542.1" cy="392.6" r="0.9"/><circle cx="543.7" cy="392.6" r="0.9"/><circle cx="530.4" cy="380.4" r="0.9"/><circle cx="531.7" cy="380.3" r="0.9"/><circle cx="532.7" cy="380.9" r="0.9"/><circle cx="534.4" cy="380.5" r="0.9"/><circle cx="535.1" cy="380.7" r="0.9"/><circle cx="536.7" cy="380.6" r="0.9"/><circle cx="537.7" cy="380.7" r="0.9"/><circle cx="539.0" cy="380.5" r="0.9"/><circle cx="540.0" cy="380.6" r="0.9"/><circle cx="541.3" cy="380.9" r="0.9"/><circle cx="534.6" cy="312.0" r="0.9"/><circle cx="537.0" cy="312.7" r="0.9"/><circle cx="522.7" cy="403.6" r="0.9"/><circle cx="523.7" cy="404.2" r="0.9"/><circle cx="524.3" cy="403.7" r="0.9"/><circle cx="525.3" cy="403.9" r="0.9"/><circle cx="526.6" cy="403.7" r="0.9"/><circle cx="527.6" cy="403.9" r="0.9"/><circle cx="528.4" cy="404.0" r="0.9"/><circle cx="529.4" cy="403.8" r="0.9"/><circle cx="530.5" cy="403.6" r="0.9"/><circle cx="531.8" cy="404.1" r="0.9"/><circle cx="532.8" cy="403.6" r="0.9"/><circle cx="533.6" cy="404.1" r="0.9"/><circle cx="534.9" cy="403.7" r="0.9"/><circle cx="535.8" cy="403.6" r="0.9"/><circle cx="537.0" cy="403.5" r="0.9"/><circle cx="538.1" cy="403.7" r="0.9"/><circle cx="538.9" cy="404.2" r="0.9"/><circle cx="539.8" cy="403.8" r="0.9"/><circle cx="541.2" cy="404.0" r="0.9"/><circle cx="542.3" cy="404.1" r="0.9"/><circle cx="543.1" cy="404.1" r="0.9"/><circle cx="544.1" cy="404.1" r="0.9"/><circle cx="545.4" cy="403.5" r="0.9"/><circle cx="546.4" cy="403.8" r="0.9"/><circle cx="547.1" cy="403.6" r="0.9"/><circle cx="548.2" cy="404.1" r="0.9"/><circle cx="549.6" cy="404.0" r="0.9"/><circle cx="533.6" cy="344.3" r="0.9"/><circle cx="535.0" cy="344.2" r="0.9"/><circle cx="536.6" cy="344.6" r="0.9"/><circle cx="538.3" cy="344.7" r="0.9"/><circle cx="523.1" cy="409.0" r="0.9"/><circle cx="524.2" cy="409.0" r="0.9"/><circle cx="525.3" cy="409.2" r="0.9"/><circle cx="526.0" cy="408.6" r="0.9"/><circle cx="527.3" cy="408.9" r="0.9"/><circle cx="528.5" cy="408.7" r="0.9"/><circle cx="529.8" cy="409.0" r="0.9"/><circle cx="530.7" cy="409.2" r="0.9"/><circle cx="531.8" cy="408.8" r="0.9"/><circle cx="533.4" cy="408.8" r="0.9"/><circle cx="534.0" cy="408.6" r="0.9"/><circle cx="535.3" cy="409.0" r="0.9"/><circle cx="536.4" cy="409.0" r="0.9"/><circle cx="537.7" cy="409.0" r="0.9"/><circle cx="539.0" cy="409.1" r="0.9"/><circle cx="539.6" cy="409.2" r="0.9"/><circle cx="541.1" cy="409.1" r="0.9"/><circle cx="542.3" cy="409.2" r="0.9"/><circle cx="543.1" cy="408.9" r="0.9"/><circle cx="544.5" cy="409.0" r="0.9"/><circle cx="545.7" cy="408.9" r="0.9"/><circle cx="546.8" cy="408.9" r="0.9"/><circle cx="547.7" cy="409.1" r="0.9"/><circle cx="548.9" cy="408.9" r="0.9"/><circle cx="533.7" cy="416.6" r="0.9"/><circle cx="535.1" cy="416.6" r="0.9"/><circle cx="536.7" cy="416.4" r="0.9"/><circle cx="538.0" cy="416.8" r="0.9"/><circle cx="523.9" cy="412.5" r="0.9"/><circle cx="525.0" cy="412.3" r="0.9"/><circle cx="526.2" cy="412.2" r="0.9"/><circle cx="527.4" cy="412.6" r="0.9"/><circle cx="528.8" cy="412.1" r="0.9"/><circle cx="529.8" cy="412.4" r="0.9"/><circle cx="530.8" cy="412.1" r="0.9"/><circle cx="531.8" cy="412.3" r="0.9"/><circle cx="532.8" cy="412.6" r="0.9"/><circle cx="534.4" cy="412.7" r="0.9"/><circle cx="535.1" cy="412.1" r="0.9"/><circle cx="536.7" cy="412.4" r="0.9"/><circle cx="537.5" cy="412.5" r="0.9"/><circle cx="538.8" cy="412.5" r="0.9"/><circle cx="540.1" cy="412.2" r="0.9"/><circle cx="540.9" cy="412.4" r="0.9"/><circle cx="542.4" cy="412.4" r="0.9"/><circle cx="543.3" cy="412.3" r="0.9"/><circle cx="544.1" cy="412.6" r="0.9"/><circle cx="545.6" cy="412.1" r="0.9"/><circle cx="546.4" cy="412.3" r="0.9"/><circle cx="548.0" cy="412.6" r="0.9"/><circle cx="523.6" cy="398.8" r="0.9"/><circle cx="524.7" cy="398.3" r="0.9"/><circle cx="525.5" cy="398.5" r="0.9"/><circle cx="526.8" cy="398.3" r="0.9"/><circle cx="528.2" cy="398.2" r="0.9"/><circle cx="528.9" cy="398.3" r="0.9"/><circle cx="530.2" cy="398.6" r="0.9"/><circle cx="531.2" cy="398.3" r="0.9"/><circle cx="532.6" cy="398.8" r="0.9"/><circle cx="533.6" cy="398.8" r="0.9"/><circle cx="534.8" cy="398.5" r="0.9"/><circle cx="535.8" cy="398.3" r="0.9"/><circle cx="537.0" cy="398.8" r="0.9"/><circle cx="538.3" cy="398.7" r="0.9"/><circle cx="539.5" cy="398.7" r="0.9"/><circle cx="540.3" cy="398.3" r="0.9"/><circle cx="541.3" cy="398.6" r="0.9"/><circle cx="542.5" cy="398.7" r="0.9"/><circle cx="544.0" cy="398.2" r="0.9"/><circle cx="545.2" cy="398.3" r="0.9"/><circle cx="546.1" cy="398.7" r="0.9"/><circle cx="546.9" cy="398.3" r="0.9"/><circle cx="548.2" cy="398.7" r="0.9"/><circle cx="532.9" cy="350.4" r="0.9"/><circle cx="533.7" cy="350.6" r="0.9"/><circle cx="535.1" cy="350.5" r="0.9"/><circle cx="536.8" cy="350.6" r="0.9"/><circle cx="537.9" cy="350.5" r="0.9"/><circle cx="539.2" cy="350.4" r="0.9"/><circle cx="532.6" cy="387.8" r="0.9"/><circle cx="534.2" cy="387.3" r="0.9"/><circle cx="535.1" cy="387.7" r="0.9"/><circle cx="536.8" cy="387.7" r="0.9"/><circle cx="537.8" cy="387.4" r="0.9"/><circle cx="539.2" cy="387.3" r="0.9"/><circle cx="528.2" cy="397.3" r="0.9"/><circle cx="529.5" cy="397.1" r="0.9"/><circle cx="530.5" cy="396.7" r="0.9"/><circle cx="532.0" cy="396.8" r="0.9"/><circle cx="533.0" cy="397.1" r="0.9"/><circle cx="534.1" cy="396.9" r="0.9"/><circle cx="535.4" cy="397.1" r="0.9"/><circle cx="536.2" cy="396.9" r="0.9"/><circle cx="537.8" cy="397.1" r="0.9"/><circle cx="538.7" cy="397.1" r="0.9"/><circle cx="539.9" cy="396.7" r="0.9"/><circle cx="540.9" cy="397.2" r="0.9"/><circle cx="542.4" cy="396.9" r="0.9"/><circle cx="543.4" cy="396.8" r="0.9"/><circle cx="531.8" cy="386.2" r="0.9"/><circle cx="533.3" cy="386.3" r="0.9"/><circle cx="534.4" cy="386.6" r="0.9"/><circle cx="535.9" cy="386.0" r="0.9"/><circle cx="537.3" cy="386.1" r="0.9"/><circle cx="538.5" cy="386.3" r="0.9"/><circle cx="539.7" cy="386.3" r="0.9"/><circle cx="533.9" cy="361.0" r="0.9"/><circle cx="534.9" cy="361.1" r="0.9"/><circle cx="536.7" cy="360.9" r="0.9"/><circle cx="538.1" cy="361.3" r="0.9"/><circle cx="532.4" cy="353.2" r="0.9"/><circle cx="533.9" cy="352.9" r="0.9"/><circle cx="535.1" cy="353.1" r="0.9"/><circle cx="536.6" cy="352.9" r="0.9"/><circle cx="537.8" cy="353.1" r="0.9"/><circle cx="539.0" cy="352.7" r="0.9"/><circle cx="529.7" cy="374.5" r="0.9"/><circle cx="531.4" cy="374.5" r="0.9"/><circle cx="532.6" cy="374.2" r="0.9"/><circle cx="533.8" cy="374.3" r="0.9"/><circle cx="534.6" cy="374.1" r="0.9"/><circle cx="535.8" cy="374.1" r="0.9"/><circle cx="537.0" cy="374.1" r="0.9"/><circle cx="538.5" cy="373.9" r="0.9"/><circle cx="539.5" cy="374.4" r="0.9"/><circle cx="540.8" cy="373.9" r="0.9"/><circle cx="542.0" cy="374.1" r="0.9"/><circle cx="536.1" cy="356.2" r="0.9"/><circle cx="535.0" cy="336.2" r="0.9"/><circle cx="537.1" cy="335.6" r="0.9"/><circle cx="533.6" cy="371.9" r="0.9"/><circle cx="534.9" cy="371.9" r="0.9"/><circle cx="536.4" cy="372.4" r="0.9"/><circle cx="538.1" cy="372.3" r="0.9"/><circle cx="530.8" cy="423.1" r="0.9"/><circle cx="531.8" cy="422.7" r="0.9"/><circle cx="532.8" cy="422.8" r="0.9"/><circle cx="534.3" cy="422.7" r="0.9"/><circle cx="535.3" cy="423.0" r="0.9"/><circle cx="536.3" cy="422.9" r="0.9"/><circle cx="537.4" cy="422.6" r="0.9"/><circle cx="539.0" cy="422.9" r="0.9"/><circle cx="540.4" cy="422.9" r="0.9"/><circle cx="541.5" cy="423.0" r="0.9"/><circle cx="534.7" cy="339.1" r="0.9"/><circle cx="536.7" cy="339.0" r="0.9"/><circle cx="532.6" cy="367.2" r="0.9"/><circle cx="533.8" cy="367.5" r="0.9"/><circle cx="535.5" cy="367.3" r="0.9"/><circle cx="536.8" cy="367.2" r="0.9"/><circle cx="538.1" cy="367.7" r="0.9"/><circle cx="539.3" cy="367.2" r="0.9"/><circle cx="533.6" cy="364.6" r="0.9"/><circle cx="535.4" cy="365.1" r="0.9"/><circle cx="536.5" cy="364.6" r="0.9"/><circle cx="538.3" cy="365.1" r="0.9"/><circle cx="533.2" cy="373.1" r="0.9"/><circle cx="534.7" cy="373.2" r="0.9"/><circle cx="535.9" cy="373.2" r="0.9"/><circle cx="537.5" cy="373.5" r="0.9"/><circle cx="538.3" cy="373.5" r="0.9"/><circle cx="532.5" cy="359.0" r="0.9"/><circle cx="533.8" cy="358.8" r="0.9"/><circle cx="535.3" cy="358.7" r="0.9"/><circle cx="536.3" cy="358.7" r="0.9"/><circle cx="537.6" cy="359.0" r="0.9"/><circle cx="539.0" cy="358.5" r="0.9"/><circle cx="534.8" cy="376.7" r="0.9"/><circle cx="537.1" cy="376.7" r="0.9"/><circle cx="534.6" cy="320.2" r="0.9"/><circle cx="537.3" cy="320.7" r="0.9"/><circle cx="534.2" cy="348.8" r="0.9"/><circle cx="536.0" cy="349.2" r="0.9"/><circle cx="537.6" cy="348.8" r="0.9"/><circle cx="532.5" cy="363.9" r="0.9"/><circle cx="533.9" cy="363.8" r="0.9"/><circle cx="535.0" cy="363.8" r="0.9"/><circle cx="536.8" cy="364.0" r="0.9"/><circle cx="538.1" cy="363.6" r="0.9"/><circle cx="539.1" cy="363.7" r="0.9"/><circle cx="533.7" cy="371.0" r="0.9"/><circle cx="535.1" cy="371.2" r="0.9"/><circle cx="536.9" cy="370.9" r="0.9"/><circle cx="538.2" cy="371.2" r="0.9"/><circle cx="535.1" cy="342.0" r="0.9"/><circle cx="536.9" cy="341.7" r="0.9"/><circle cx="530.2" cy="393.4" r="0.9"/><circle cx="531.5" cy="393.4" r="0.9"/><circle cx="533.1" cy="393.3" r="0.9"/><circle cx="534.1" cy="393.7" r="0.9"/><circle cx="535.3" cy="393.6" r="0.9"/><circle cx="536.8" cy="393.2" r="0.9"/><circle cx="537.6" cy="393.6" r="0.9"/><circle cx="538.9" cy="393.2" r="0.9"/><circle cx="540.0" cy="393.5" r="0.9"/><circle cx="541.2" cy="393.5" r="0.9"/><circle cx="534.7" cy="333.6" r="0.9"/><circle cx="536.9" cy="334.0" r="0.9"/><circle cx="535.5" cy="342.8" r="0.9"/><circle cx="534.6" cy="309.8" r="0.9"/><circle cx="537.2" cy="309.6" r="0.9"/><circle cx="534.0" cy="388.9" r="0.9"/><circle cx="535.2" cy="388.7" r="0.9"/><circle cx="536.8" cy="388.8" r="0.9"/><circle cx="538.2" cy="388.5" r="0.9"/><circle cx="533.8" cy="381.8" r="0.9"/><circle cx="535.1" cy="381.5" r="0.9"/><circle cx="536.5" cy="381.4" r="0.9"/><circle cx="538.0" cy="381.4" r="0.9"/><circle cx="534.5" cy="339.8" r="0.9"/><circle cx="536.9" cy="339.9" r="0.9"/><circle cx="533.6" cy="379.4" r="0.9"/><circle cx="535.0" cy="379.1" r="0.9"/><circle cx="536.4" cy="379.1" r="0.9"/><circle cx="538.0" cy="379.1" r="0.9"/><circle cx="534.1" cy="345.7" r="0.9"/><circle cx="536.0" cy="345.7" r="0.9"/><circle cx="537.4" cy="345.5" r="0.9"/><circle cx="533.7" cy="341.0" r="0.9"/><circle cx="535.3" cy="341.1" r="0.9"/><circle cx="536.5" cy="341.3" r="0.9"/><circle cx="538.4" cy="341.2" r="0.9"/><circle cx="533.7" cy="383.8" r="0.9"/><circle cx="535.2" cy="384.1" r="0.9"/><circle cx="536.6" cy="383.4" r="0.9"/><circle cx="538.1" cy="383.8" r="0.9"/><circle cx="534.8" cy="368.6" r="0.9"/><circle cx="537.2" cy="368.5" r="0.9"/><circle cx="535.6" cy="327.0" r="0.9"/><circle cx="534.2" cy="369.8" r="0.9"/><circle cx="535.6" cy="370.0" r="0.9"/><circle cx="537.6" cy="369.5" r="0.9"/><circle cx="534.3" cy="378.2" r="0.9"/><circle cx="535.9" cy="377.9" r="0.9"/><circle cx="537.7" cy="378.2" r="0.9"/><circle cx="536.6" cy="351.0" r="0.9"/><circle cx="534.3" cy="353.7" r="0.9"/><circle cx="535.8" cy="354.2" r="0.9"/><circle cx="537.8" cy="354.3" r="0.9"/><circle cx="534.1" cy="324.8" r="0.9"/><circle cx="536.0" cy="325.2" r="0.9"/><circle cx="537.4" cy="324.7" r="0.9"/><circle cx="534.7" cy="313.1" r="0.9"/><circle cx="536.8" cy="312.9" r="0.9"/><circle cx="533.6" cy="308.7" r="0.9"/><circle cx="535.3" cy="308.7" r="0.9"/><circle cx="536.7" cy="308.5" r="0.9"/><circle cx="538.0" cy="308.3" r="0.9"/><circle cx="535.5" cy="331.4" r="0.9"/><circle cx="534.3" cy="322.8" r="0.9"/><circle cx="535.8" cy="323.2" r="0.9"/><circle cx="537.2" cy="322.6" r="0.9"/><circle cx="535.0" cy="334.8" r="0.9"/><circle cx="537.1" cy="335.0" r="0.9"/><circle cx="536.3" cy="314.1" r="0.9"/><circle cx="536.3" cy="332.9" r="0.9"/><circle cx="536.0" cy="336.5" r="0.9"/><circle cx="536.2" cy="366.0" r="0.9"/><circle cx="536.3" cy="348.0" r="0.9"/><circle cx="536.5" cy="360.0" r="0.9"/><circle cx="535.4" cy="326.6" r="0.9"/></g>
<g fill="#4690d8"><circle cx="575.1" cy="378.1" r="0.9"/><circle cx="576.8" cy="377.6" r="0.9"/><circle cx="562.8" cy="412.3" r="0.9"/><circle cx="563.3" cy="412.3" r="0.9"/><circle cx="563.8" cy="412.3" r="0.9"/><circle cx="564.2" cy="412.1" r="0.9"/><circle cx="564.5" cy="412.3" r="0.9"/><circle cx="564.8" cy="412.1" r="0.9"/><circle cx="565.4" cy="412.2" r="0.9"/><circle cx="565.5" cy="412.0" r="0.9"/><circle cx="565.9" cy="412.3" r="0.9"/><circle cx="566.4" cy="412.5" r="0.9"/><circle cx="566.5" cy="412.2" r="0.9"/><circle cx="567.1" cy="412.5" r="0.9"/><circle cx="567.4" cy="412.7" r="0.9"/><circle cx="568.2" cy="412.6" r="0.9"/><circle cx="568.2" cy="412.5" r="0.9"/><circle cx="568.9" cy="412.2" r="0.9"/><circle cx="569.1" cy="412.6" r="0.9"/><circle cx="569.6" cy="412.5" r="0.9"/><circle cx="569.6" cy="412.6" r="0.9"/><circle cx="570.4" cy="412.0" r="0.9"/><circle cx="570.4" cy="412.5" r="0.9"/><circle cx="571.1" cy="412.2" r="0.9"/><circle cx="571.7" cy="412.4" r="0.9"/><circle cx="571.9" cy="412.6" r="0.9"/><circle cx="571.9" cy="412.0" r="0.9"/><circle cx="572.6" cy="412.4" r="0.9"/><circle cx="573.1" cy="412.2" r="0.9"/><circle cx="573.4" cy="412.2" r="0.9"/><circle cx="573.8" cy="412.4" r="0.9"/><circle cx="574.0" cy="412.6" r="0.9"/><circle cx="574.2" cy="412.5" r="0.9"/><circle cx="574.9" cy="412.4" r="0.9"/><circle cx="575.0" cy="412.2" r="0.9"/><circle cx="575.9" cy="412.0" r="0.9"/><circle cx="576.2" cy="412.5" r="0.9"/><circle cx="576.6" cy="412.6" r="0.9"/><circle cx="576.5" cy="412.3" r="0.9"/><circle cx="576.8" cy="412.3" r="0.9"/><circle cx="577.6" cy="412.2" r="0.9"/><circle cx="578.0" cy="412.5" r="0.9"/><circle cx="578.1" cy="412.2" r="0.9"/><circle cx="578.9" cy="412.1" r="0.9"/><circle cx="578.9" cy="412.3" r="0.9"/><circle cx="579.2" cy="412.5" r="0.9"/><circle cx="579.8" cy="412.2" r="0.9"/><circle cx="580.3" cy="412.3" r="0.9"/><circle cx="580.9" cy="412.5" r="0.9"/><circle cx="580.9" cy="412.0" r="0.9"/><circle cx="581.3" cy="412.6" r="0.9"/><circle cx="581.9" cy="412.2" r="0.9"/><circle cx="581.8" cy="412.0" r="0.9"/><circle cx="582.7" cy="412.4" r="0.9"/><circle cx="583.1" cy="412.4" r="0.9"/><circle cx="583.3" cy="412.2" r="0.9"/><circle cx="583.6" cy="412.2" r="0.9"/><circle cx="583.8" cy="412.5" r="0.9"/><circle cx="584.2" cy="412.2" r="0.9"/><circle cx="584.9" cy="412.2" r="0.9"/><circle cx="585.4" cy="412.4" r="0.9"/><circle cx="585.4" cy="412.3" r="0.9"/><circle cx="585.7" cy="412.4" r="0.9"/><circle cx="586.4" cy="412.6" r="0.9"/><circle cx="586.9" cy="412.7" r="0.9"/><circle cx="587.3" cy="412.4" r="0.9"/><circle cx="587.6" cy="412.4" r="0.9"/><circle cx="588.0" cy="412.2" r="0.9"/><circle cx="588.4" cy="412.0" r="0.9"/><circle cx="588.6" cy="412.7" r="0.9"/><circle cx="589.2" cy="412.6" r="0.9"/><circle cx="573.2" cy="384.2" r="0.9"/><circle cx="573.9" cy="383.7" r="0.9"/><circle cx="575.0" cy="383.6" r="0.9"/><circle cx="575.7" cy="383.8" r="0.9"/><circle cx="576.2" cy="384.1" r="0.9"/><circle cx="577.3" cy="383.9" r="0.9"/><circle cx="577.7" cy="383.9" r="0.9"/><circle cx="578.6" cy="383.8" r="0.9"/><circle cx="572.2" cy="384.7" r="0.9"/><circle cx="572.9" cy="384.7" r="0.9"/><circle cx="573.4" cy="384.9" r="0.9"/><circle cx="574.0" cy="385.0" r="0.9"/><circle cx="575.1" cy="384.4" r="0.9"/><circle cx="575.6" cy="384.4" r="0.9"/><circle cx="576.6" cy="384.8" r="0.9"/><circle cx="576.9" cy="384.4" r="0.9"/><circle cx="578.0" cy="384.7" r="0.9"/><circle cx="578.7" cy="384.5" r="0.9"/><circle cx="579.3" cy="384.6" r="0.9"/><circle cx="579.9" cy="384.7" r="0.9"/><circle cx="572.4" cy="389.1" r="0.9"/><circle cx="573.1" cy="388.5" r="0.9"/><circle cx="573.8" cy="388.4" r="0.9"/><circle cx="574.6" cy="389.1" r="0.9"/><circle cx="575.3" cy="389.0" r="0.9"/><circle cx="576.0" cy="388.6" r="0.9"/><circle cx="576.9" cy="389.0" r="0.9"/><circle cx="577.4" cy="388.9" r="0.9"/><circle cx="578.3" cy="388.6" r="0.9"/><circle cx="578.8" cy="388.7" r="0.9"/><circle cx="579.4" cy="389.0" r="0.9"/><circle cx="570.5" cy="394.3" r="0.9"/><circle cx="571.5" cy="394.5" r="0.9"/><circle cx="572.1" cy="394.2" r="0.9"/><circle cx="572.7" cy="394.6" r="0.9"/><circle cx="573.3" cy="394.5" r="0.9"/><circle cx="574.2" cy="394.6" r="0.9"/><circle cx="575.1" cy="394.7" r="0.9"/><circle cx="575.4" cy="394.5" r="0.9"/><circle cx="576.6" cy="394.3" r="0.9"/><circle cx="577.2" cy="394.8" r="0.9"/><circle cx="578.0" cy="394.7" r="0.9"/><circle cx="578.2" cy="394.4" r="0.9"/><circle cx="579.2" cy="394.4" r="0.9"/><circle cx="580.1" cy="394.8" r="0.9"/><circle cx="580.5" cy="394.8" r="0.9"/><circle cx="581.1" cy="394.8" r="0.9"/><circle cx="562.7" cy="408.8" r="0.9"/><circle cx="563.5" cy="409.2" r="0.9"/><circle cx="563.6" cy="408.8" r="0.9"/><circle cx="564.4" cy="409.1" r="0.9"/><circle cx="564.6" cy="409.1" r="0.9"/><circle cx="565.3" cy="408.9" r="0.9"/><circle cx="565.9" cy="409.0" r="0.9"/><circle cx="565.9" cy="408.9" r="0.9"/><circle cx="566.6" cy="409.0" r="0.9"/><circle cx="567.2" cy="408.8" r="0.9"/><circle cx="567.5" cy="409.2" r="0.9"/><circle cx="567.7" cy="409.1" r="0.9"/><circle cx="568.2" cy="409.0" r="0.9"/><circle cx="568.6" cy="408.8" r="0.9"/><circle cx="569.1" cy="409.0" r="0.9"/><circle cx="569.6" cy="408.6" r="0.9"/><circle cx="569.9" cy="409.0" r="0.9"/><circle cx="570.7" cy="408.8" r="0.9"/><circle cx="571.1" cy="409.3" r="0.9"/><circle cx="571.8" cy="408.7" r="0.9"/><circle cx="572.3" cy="408.9" r="0.9"/><circle cx="572.3" cy="409.2" r="0.9"/><circle cx="572.6" cy="408.8" r="0.9"/><circle cx="573.5" cy="409.0" r="0.9"/><circle cx="573.9" cy="408.7" r="0.9"/><circle cx="574.0" cy="409.2" r="0.9"/><circle cx="574.8" cy="408.8" r="0.9"/><circle cx="574.9" cy="409.3" r="0.9"/><circle cx="575.8" cy="409.2" r="0.9"/><circle cx="575.9" cy="408.8" r="0.9"/><circle cx="576.6" cy="409.0" r="0.9"/><circle cx="577.0" cy="408.7" r="0.9"/><circle cx="577.3" cy="409.0" r="0.9"/><circle cx="577.5" cy="408.9" r="0.9"/><circle cx="578.3" cy="409.0" r="0.9"/><circle cx="578.9" cy="408.7" r="0.9"/><circle cx="579.0" cy="409.1" r="0.9"/><circle cx="579.8" cy="408.9" r="0.9"/><circle cx="579.8" cy="409.2" r="0.9"/><circle cx="580.5" cy="409.1" r="0.9"/><circle cx="581.0" cy="409.0" r="0.9"/><circle cx="581.5" cy="409.1" r="0.9"/><circle cx="581.9" cy="409.3" r="0.9"/><circle cx="582.4" cy="408.8" r="0.9"/><circle cx="582.5" cy="408.8" r="0.9"/><circle cx="583.2" cy="408.7" r="0.9"/><circle cx="583.5" cy="409.2" r="0.9"/><circle cx="584.1" cy="408.6" r="0.9"/><circle cx="584.3" cy="409.2" r="0.9"/><circle cx="584.7" cy="409.1" r="0.9"/><circle cx="585.5" cy="409.1" r="0.9"/><circle cx="586.1" cy="409.2" r="0.9"/><circle cx="586.4" cy="408.9" r="0.9"/><circle cx="586.6" cy="409.2" r="0.9"/><circle cx="586.9" cy="409.2" r="0.9"/><circle cx="587.6" cy="409.1" r="0.9"/><circle cx="588.1" cy="409.1" r="0.9"/><circle cx="588.6" cy="408.9" r="0.9"/><circle cx="588.9" cy="408.7" r="0.9"/><circle cx="562.9" cy="406.4" r="0.9"/><circle cx="563.1" cy="406.2" r="0.9"/><circle cx="563.2" cy="405.9" r="0.9"/><circle cx="564.0" cy="406.3" r="0.9"/><circle cx="563.8" cy="406.4" r="0.9"/><circle cx="564.0" cy="406.5" r="0.9"/><circle cx="564.3" cy="406.5" r="0.9"/><circle cx="565.0" cy="406.2" r="0.9"/><circle cx="565.0" cy="406.4" r="0.9"/><circle cx="565.4" cy="406.0" r="0.9"/><circle cx="565.6" cy="406.0" r="0.9"/><circle cx="565.6" cy="406.0" r="0.9"/><circle cx="566.3" cy="406.3" r="0.9"/><circle cx="566.3" cy="406.1" r="0.9"/><circle cx="566.6" cy="406.5" r="0.9"/><circle cx="567.1" cy="406.0" r="0.9"/><circle cx="567.0" cy="406.0" r="0.9"/><circle cx="567.1" cy="406.0" r="0.9"/><circle cx="567.7" cy="406.1" r="0.9"/><circle cx="567.9" cy="406.4" r="0.9"/><circle cx="568.3" cy="406.3" r="0.9"/><circle cx="568.2" cy="406.5" r="0.9"/><circle cx="568.5" cy="406.1" r="0.9"/><circle cx="569.0" cy="406.3" r="0.9"/><circle cx="569.0" cy="406.3" r="0.9"/><circle cx="569.3" cy="406.2" r="0.9"/><circle cx="569.5" cy="406.1" r="0.9"/><circle cx="570.1" cy="406.5" r="0.9"/><circle cx="570.4" cy="406.5" r="0.9"/><circle cx="570.4" cy="406.3" r="0.9"/><circle cx="570.9" cy="405.9" r="0.9"/><circle cx="570.6" cy="406.1" r="0.9"/><circle cx="571.0" cy="406.2" r="0.9"/><circle cx="571.7" cy="406.0" r="0.9"/><circle cx="571.6" cy="406.1" r="0.9"/><circle cx="572.1" cy="406.0" r="0.9"/><circle cx="572.4" cy="406.2" r="0.9"/><circle cx="572.7" cy="406.3" r="0.9"/><circle cx="572.6" cy="406.4" r="0.9"/><circle cx="573.1" cy="406.4" r="0.9"/><circle cx="572.9" cy="406.0" r="0.9"/><circle cx="573.4" cy="406.1" r="0.9"/><circle cx="573.5" cy="406.1" r="0.9"/><circle cx="573.9" cy="406.5" r="0.9"/><circle cx="574.4" cy="406.2" r="0.9"/><circle cx="574.6" cy="406.3" r="0.9"/><circle cx="574.5" cy="406.3" r="0.9"/><circle cx="575.0" cy="406.2" r="0.9"/><circle cx="575.1" cy="406.4" r="0.9"/><circle cx="575.5" cy="406.4" r="0.9"/><circle cx="576.0" cy="406.3" r="0.9"/><circle cx="576.3" cy="406.5" r="0.9"/><circle cx="576.1" cy="406.2" r="0.9"/><circle cx="576.5" cy="406.5" r="0.9"/><circle cx="576.7" cy="406.0" r="0.9"/><circle cx="577.0" cy="406.0" r="0.9"/><circle cx="577.3" cy="406.2" r="0.9"/><circle cx="577.8" cy="406.1" r="0.9"/><circle cx="577.7" cy="406.0" r="0.9"/><circle cx="578.3" cy="406.1" r="0.9"/><circle cx="578.3" cy="405.9" r="0.9"/><circle cx="578.3" cy="406.1" r="0.9"/><circle cx="578.7" cy="406.2" r="0.9"/><circle cx="579.3" cy="406.3" r="0.9"/><circle cx="579.5" cy="406.2" r="0.9"/><circle cx="579.7" cy="406.5" r="0.9"/><circle cx="579.9" cy="406.1" r="0.9"/><circle cx="580.1" cy="406.0" r="0.9"/><circle cx="580.6" cy="406.4" r="0.9"/><circle cx="580.6" cy="406.1" r="0.9"/><circle cx="581.1" cy="406.3" r="0.9"/><circle cx="581.4" cy="405.9" r="0.9"/><circle cx="581.3" cy="406.3" r="0.9"/><circle cx="581.5" cy="406.1" r="0.9"/><circle cx="581.7" cy="406.3" r="0.9"/><circle cx="582.1" cy="406.0" r="0.9"/><circle cx="582.6" cy="406.3" r="0.9"/><circle cx="582.4" cy="406.0" r="0.9"/><circle cx="583.2" cy="406.0" r="0.9"/><circle cx="583.3" cy="406.1" r="0.9"/><circle cx="583.3" cy="406.3" r="0.9"/><circle cx="583.5" cy="406.4" r="0.9"/><circle cx="583.7" cy="406.4" r="0.9"/><circle cx="584.3" cy="406.5" r="0.9"/><circle cx="584.1" cy="406.4" r="0.9"/><circle cx="584.6" cy="406.4" r="0.9"/><circle cx="585.0" cy="406.3" r="0.9"/><circle cx="585.4" cy="406.2" r="0.9"/><circle cx="585.3" cy="406.5" r="0.9"/><circle cx="586.0" cy="405.9" r="0.9"/><circle cx="586.0" cy="406.0" r="0.9"/><circle cx="585.9" cy="406.5" r="0.9"/><circle cx="586.6" cy="406.5" r="0.9"/><circle cx="586.8" cy="406.2" r="0.9"/><circle cx="587.1" cy="406.3" r="0.9"/><circle cx="587.1" cy="406.0" r="0.9"/><circle cx="587.4" cy="406.5" r="0.9"/><circle cx="587.8" cy="406.0" r="0.9"/><circle cx="588.3" cy="406.4" r="0.9"/><circle cx="588.5" cy="406.4" r="0.9"/><circle cx="588.5" cy="406.4" r="0.9"/><circle cx="588.7" cy="406.3" r="0.9"/><circle cx="589.1" cy="406.5" r="0.9"/><circle cx="572.7" cy="385.9" r="0.9"/><circle cx="572.9" cy="386.1" r="0.9"/><circle cx="573.7" cy="386.5" r="0.9"/><circle cx="574.7" cy="386.0" r="0.9"/><circle cx="575.0" cy="386.5" r="0.9"/><circle cx="575.8" cy="386.2" r="0.9"/><circle cx="576.8" cy="385.9" r="0.9"/><circle cx="577.5" cy="386.3" r="0.9"/><circle cx="578.0" cy="386.4" r="0.9"/><circle cx="578.9" cy="386.4" r="0.9"/><circle cx="579.6" cy="386.0" r="0.9"/><circle cx="575.5" cy="318.4" r="0.9"/><circle cx="576.9" cy="317.9" r="0.9"/><circle cx="575.4" cy="319.0" r="0.9"/><circle cx="576.9" cy="319.1" r="0.9"/><circle cx="562.9" cy="401.8" r="0.9"/><circle cx="563.3" cy="401.5" r="0.9"/><circle cx="563.9" cy="401.6" r="0.9"/><circle cx="564.0" cy="401.6" r="0.9"/><circle cx="564.3" cy="401.9" r="0.9"/><circle cx="564.6" cy="401.9" r="0.9"/><circle cx="565.0" cy="402.2" r="0.9"/><circle cx="565.4" cy="401.6" r="0.9"/><circle cx="566.0" cy="401.6" r="0.9"/><circle cx="566.3" cy="401.5" r="0.9"/><circle cx="566.5" cy="401.8" r="0.9"/><circle cx="566.9" cy="401.8" r="0.9"/><circle cx="567.3" cy="402.1" r="0.9"/><circle cx="567.6" cy="401.7" r="0.9"/><circle cx="568.2" cy="401.7" r="0.9"/><circle cx="568.2" cy="401.6" r="0.9"/><circle cx="568.8" cy="401.9" r="0.9"/><circle cx="569.5" cy="402.0" r="0.9"/><circle cx="569.7" cy="401.7" r="0.9"/><circle cx="569.7" cy="402.2" r="0.9"/><circle cx="570.0" cy="401.9" r="0.9"/><circle cx="570.9" cy="402.2" r="0.9"/><circle cx="570.9" cy="401.7" r="0.9"/><circle cx="571.6" cy="401.7" r="0.9"/><circle cx="571.5" cy="401.6" r="0.9"/><circle cx="572.0" cy="402.1" r="0.9"/><circle cx="572.4" cy="401.7" r="0.9"/><circle cx="572.9" cy="402.0" r="0.9"/><circle cx="573.0" cy="402.1" r="0.9"/><circle cx="573.8" cy="401.5" r="0.9"/><circle cx="574.0" cy="401.7" r="0.9"/><circle cx="574.1" cy="401.7" r="0.9"/><circle cx="574.9" cy="402.0" r="0.9"/><circle cx="575.0" cy="401.9" r="0.9"/><circle cx="575.6" cy="402.0" r="0.9"/><circle cx="576.1" cy="402.1" r="0.9"/><circle cx="576.4" cy="402.2" r="0.9"/><circle cx="576.4" cy="401.5" r="0.9"/><circle cx="576.8" cy="401.6" r="0.9"/><circle cx="577.4" cy="401.7" r="0.9"/><circle cx="577.7" cy="401.8" r="0.9"/><circle cx="577.9" cy="401.8" r="0.9"/><circle cx="578.1" cy="401.7" r="0.9"/><circle cx="578.8" cy="401.9" r="0.9"/><circle cx="579.1" cy="401.8" r="0.9"/><circle cx="579.2" cy="402.1" r="0.9"/><circle cx="579.7" cy="401.9" r="0.9"/><circle cx="580.3" cy="402.2" r="0.9"/><circle cx="580.8" cy="402.0" r="0.9"/><circle cx="581.2" cy="401.9" r="0.9"/><circle cx="581.1" cy="401.8" r="0.9"/><circle cx="581.7" cy="401.8" r="0.9"/><circle cx="582.2" cy="402.2" r="0.9"/><circle cx="582.4" cy="401.5" r="0.9"/><circle cx="582.9" cy="401.6" r="0.9"/><circle cx="583.3" cy="401.5" r="0.9"/><circle cx="583.3" cy="402.0" r="0.9"/><circle cx="584.2" cy="401.5" r="0.9"/><circle cx="584.2" cy="401.7" r="0.9"/><circle cx="584.6" cy="401.6" r="0.9"/><circle cx="585.0" cy="401.5" r="0.9"/><circle cx="585.2" cy="401.6" r="0.9"/><circle cx="585.6" cy="401.9" r="0.9"/><circle cx="586.3" cy="401.6" r="0.9"/><circle cx="586.4" cy="401.6" r="0.9"/><circle cx="586.9" cy="401.8" r="0.9"/><circle cx="587.2" cy="401.5" r="0.9"/><circle cx="587.6" cy="402.2" r="0.9"/><circle cx="588.1" cy="402.0" r="0.9"/><circle cx="588.1" cy="402.0" r="0.9"/><circle cx="588.4" cy="402.0" r="0.9"/><circle cx="589.0" cy="402.2" r="0.9"/><circle cx="573.7" cy="391.4" r="0.9"/><circle cx="574.2" cy="391.3" r="0.9"/><circle cx="575.5" cy="391.1" r="0.9"/><circle cx="576.1" cy="391.4" r="0.9"/><circle cx="577.0" cy="391.4" r="0.9"/><circle cx="577.6" cy="391.5" r="0.9"/><circle cx="578.2" cy="391.3" r="0.9"/><circle cx="575.0" cy="372.8" r="0.9"/><circle cx="575.8" cy="373.0" r="0.9"/><circle cx="577.0" cy="373.0" r="0.9"/><circle cx="569.2" cy="395.5" r="0.9"/><circle cx="569.6" cy="396.0" r="0.9"/><circle cx="570.6" cy="395.9" r="0.9"/><circle cx="571.0" cy="395.7" r="0.9"/><circle cx="572.0" cy="395.6" r="0.9"/><circle cx="572.5" cy="395.9" r="0.9"/><circle cx="573.1" cy="395.5" r="0.9"/><circle cx="573.8" cy="396.0" r="0.9"/><circle cx="574.4" cy="395.7" r="0.9"/><circle cx="575.2" cy="395.9" r="0.9"/><circle cx="576.1" cy="395.9" r="0.9"/><circle cx="576.7" cy="395.4" r="0.9"/><circle cx="577.1" cy="395.7" r="0.9"/><circle cx="578.0" cy="396.1" r="0.9"/><circle cx="578.6" cy="395.8" r="0.9"/><circle cx="579.3" cy="395.7" r="0.9"/><circle cx="579.9" cy="395.8" r="0.9"/><circle cx="580.6" cy="395.6" r="0.9"/><circle cx="581.5" cy="395.6" r="0.9"/><circle cx="582.0" cy="395.5" r="0.9"/><circle cx="583.1" cy="395.9" r="0.9"/><circle cx="562.7" cy="404.0" r="0.9"/><circle cx="563.1" cy="403.9" r="0.9"/><circle cx="563.4" cy="403.7" r="0.9"/><circle cx="563.4" cy="403.8" r="0.9"/><circle cx="563.8" cy="403.6" r="0.9"/><circle cx="564.2" cy="403.8" r="0.9"/><circle cx="564.5" cy="403.9" r="0.9"/><circle cx="564.8" cy="404.1" r="0.9"/><circle cx="564.9" cy="403.9" r="0.9"/><circle cx="564.9" cy="403.6" r="0.9"/><circle cx="565.3" cy="404.1" r="0.9"/><circle cx="565.4" cy="403.6" r="0.9"/><circle cx="565.5" cy="403.8" r="0.9"/><circle cx="566.2" cy="403.6" r="0.9"/><circle cx="566.0" cy="403.5" r="0.9"/><circle cx="566.6" cy="403.9" r="0.9"/><circle cx="566.8" cy="403.8" r="0.9"/><circle cx="567.0" cy="403.9" r="0.9"/><circle cx="566.9" cy="403.8" r="0.9"/><circle cx="567.4" cy="403.7" r="0.9"/><circle cx="567.7" cy="404.0" r="0.9"/><circle cx="567.6" cy="403.8" r="0.9"/><circle cx="568.2" cy="403.6" r="0.9"/><circle cx="568.0" cy="403.9" r="0.9"/><circle cx="568.2" cy="404.2" r="0.9"/><circle cx="568.6" cy="404.2" r="0.9"/><circle cx="569.0" cy="403.9" r="0.9"/><circle cx="568.9" cy="403.7" r="0.9"/><circle cx="569.2" cy="404.1" r="0.9"/><circle cx="569.4" cy="403.6" r="0.9"/><circle cx="569.7" cy="403.6" r="0.9"/><circle cx="570.0" cy="404.0" r="0.9"/><circle cx="570.3" cy="404.1" r="0.9"/><circle cx="570.2" cy="404.1" r="0.9"/><circle cx="571.0" cy="404.0" r="0.9"/><circle cx="571.0" cy="404.0" r="0.9"/><circle cx="571.0" cy="403.7" r="0.9"/><circle cx="571.6" cy="403.7" r="0.9"/><circle cx="571.4" cy="404.0" r="0.9"/><circle cx="571.9" cy="403.8" r="0.9"/><circle cx="571.9" cy="403.9" r="0.9"/><circle cx="572.5" cy="403.7" r="0.9"/><circle cx="572.4" cy="403.7" r="0.9"/><circle cx="573.0" cy="403.6" r="0.9"/><circle cx="572.8" cy="403.6" r="0.9"/><circle cx="573.5" cy="404.1" r="0.9"/><circle cx="573.5" cy="404.2" r="0.9"/><circle cx="573.9" cy="404.2" r="0.9"/><circle cx="574.1" cy="403.5" r="0.9"/><circle cx="574.2" cy="403.9" r="0.9"/><circle cx="574.6" cy="403.7" r="0.9"/><circle cx="574.7" cy="403.7" r="0.9"/><circle cx="574.6" cy="403.5" r="0.9"/><circle cx="575.2" cy="404.0" r="0.9"/><circle cx="575.4" cy="403.7" r="0.9"/><circle cx="575.3" cy="403.7" r="0.9"/><circle cx="575.6" cy="403.8" r="0.9"/><circle cx="576.2" cy="403.5" r="0.9"/><circle cx="575.9" cy="404.0" r="0.9"/><circle cx="576.5" cy="403.6" r="0.9"/><circle cx="576.4" cy="403.8" r="0.9"/><circle cx="577.0" cy="403.8" r="0.9"/><circle cx="577.2" cy="404.1" r="0.9"/><circle cx="577.6" cy="403.9" r="0.9"/><circle cx="577.6" cy="404.0" r="0.9"/><circle cx="578.1" cy="403.7" r="0.9"/><circle cx="578.0" cy="403.6" r="0.9"/><circle cx="578.1" cy="404.0" r="0.9"/><circle cx="578.8" cy="404.2" r="0.9"/><circle cx="578.6" cy="403.7" r="0.9"/><circle cx="579.1" cy="403.8" r="0.9"/><circle cx="579.5" cy="404.0" r="0.9"/><circle cx="579.2" cy="403.6" r="0.9"/><circle cx="579.7" cy="403.6" r="0.9"/><circle cx="580.0" cy="403.7" r="0.9"/><circle cx="580.2" cy="403.7" r="0.9"/><circle cx="580.1" cy="403.6" r="0.9"/><circle cx="580.8" cy="404.1" r="0.9"/><circle cx="580.8" cy="404.1" r="0.9"/><circle cx="581.1" cy="404.1" r="0.9"/><circle cx="581.1" cy="403.8" r="0.9"/><circle cx="581.4" cy="403.8" r="0.9"/><circle cx="581.8" cy="403.8" r="0.9"/><circle cx="582.1" cy="403.6" r="0.9"/><circle cx="582.3" cy="403.9" r="0.9"/><circle cx="582.3" cy="403.8" r="0.9"/><circle cx="582.8" cy="403.6" r="0.9"/><circle cx="583.0" cy="403.9" r="0.9"/><circle cx="583.1" cy="403.7" r="0.9"/><circle cx="583.4" cy="403.5" r="0.9"/><circle cx="583.5" cy="404.2" r="0.9"/><circle cx="583.7" cy="403.9" r="0.9"/><circle cx="584.2" cy="403.5" r="0.9"/><circle cx="584.4" cy="404.1" r="0.9"/><circle cx="584.2" cy="404.2" r="0.9"/><circle cx="584.9" cy="403.9" r="0.9"/><circle cx="584.8" cy="404.0" r="0.9"/><circle cx="585.2" cy="403.6" r="0.9"/><circle cx="585.1" cy="404.1" r="0.9"/><circle cx="585.6" cy="404.1" r="0.9"/><circle cx="585.7" cy="403.7" r="0.9"/><circle cx="585.8" cy="403.9" r="0.9"/><circle cx="586.3" cy="404.1" r="0.9"/><circle cx="586.2" cy="403.6" r="0.9"/><circle cx="586.5" cy="403.5" r="0.9"/><circle cx="586.7" cy="403.6" r="0.9"/><circle cx="587.4" cy="404.1" r="0.9"/><circle cx="587.5" cy="403.5" r="0.9"/><circle cx="587.7" cy="403.7" r="0.9"/><circle cx="587.6" cy="404.1" r="0.9"/><circle cx="588.4" cy="404.0" r="0.9"/><circle cx="588.6" cy="403.9" r="0.9"/><circle cx="588.8" cy="403.7" r="0.9"/><circle cx="589.0" cy="404.0" r="0.9"/><circle cx="588.8" cy="403.7" r="0.9"/><circle cx="571.9" cy="392.4" r="0.9"/><circle cx="572.7" cy="392.3" r="0.9"/><circle cx="573.0" cy="392.2" r="0.9"/><circle cx="573.7" cy="392.7" r="0.9"/><circle cx="574.4" cy="392.3" r="0.9"/><circle cx="575.2" cy="392.4" r="0.9"/><circle cx="575.8" cy="392.7" r="0.9"/><circle cx="576.6" cy="392.6" r="0.9"/><circle cx="577.2" cy="392.5" r="0.9"/><circle cx="578.2" cy="392.1" r="0.9"/><circle cx="578.9" cy="392.3" r="0.9"/><circle cx="579.8" cy="392.2" r="0.9"/><circle cx="580.4" cy="392.4" r="0.9"/><circle cx="574.9" cy="366.9" r="0.9"/><circle cx="576.2" cy="367.5" r="0.9"/><circle cx="577.2" cy="367.4" r="0.9"/><circle cx="574.8" cy="380.7" r="0.9"/><circle cx="576.2" cy="380.2" r="0.9"/><circle cx="577.2" cy="380.1" r="0.9"/><circle cx="570.9" cy="390.2" r="0.9"/><circle cx="571.3" cy="390.0" r="0.9"/><circle cx="572.3" cy="390.3" r="0.9"/><circle cx="572.9" cy="390.0" r="0.9"/><circle cx="573.9" cy="389.7" r="0.9"/><circle cx="574.4" cy="390.1" r="0.9"/><circle cx="574.9" cy="390.2" r="0.9"/><circle cx="575.6" cy="390.1" r="0.9"/><circle cx="576.3" cy="390.3" r="0.9"/><circle cx="576.8" cy="389.8" r="0.9"/><circle cx="577.8" cy="389.9" r="0.9"/><circle cx="578.4" cy="390.1" r="0.9"/><circle cx="579.4" cy="389.9" r="0.9"/><circle cx="579.7" cy="390.1" r="0.9"/><circle cx="580.8" cy="390.1" r="0.9"/><circle cx="581.1" cy="389.7" r="0.9"/><circle cx="562.8" cy="399.9" r="0.9"/><circle cx="563.5" cy="399.7" r="0.9"/><circle cx="564.0" cy="400.0" r="0.9"/><circle cx="564.2" cy="400.2" r="0.9"/><circle cx="564.9" cy="399.9" r="0.9"/><circle cx="565.6" cy="400.1" r="0.9"/><circle cx="565.9" cy="400.2" r="0.9"/><circle cx="566.2" cy="399.8" r="0.9"/><circle cx="566.8" cy="399.9" r="0.9"/><circle cx="567.5" cy="399.9" r="0.9"/><circle cx="567.4" cy="399.9" r="0.9"/><circle cx="567.8" cy="400.0" r="0.9"/><circle cx="568.4" cy="399.8" r="0.9"/><circle cx="569.0" cy="400.2" r="0.9"/><circle cx="569.8" cy="399.8" r="0.9"/><circle cx="570.2" cy="400.2" r="0.9"/><circle cx="570.5" cy="400.3" r="0.9"/><circle cx="571.1" cy="400.3" r="0.9"/><circle cx="571.6" cy="400.4" r="0.9"/><circle cx="571.8" cy="400.2" r="0.9"/><circle cx="572.1" cy="400.3" r="0.9"/><circle cx="572.5" cy="400.2" r="0.9"/><circle cx="573.3" cy="399.9" r="0.9"/><circle cx="573.9" cy="400.4" r="0.9"/><circle cx="573.9" cy="400.3" r="0.9"/><circle cx="574.8" cy="400.3" r="0.9"/><circle cx="575.3" cy="400.0" r="0.9"/><circle cx="575.5" cy="399.9" r="0.9"/><circle cx="576.0" cy="400.4" r="0.9"/><circle cx="576.3" cy="399.9" r="0.9"/><circle cx="577.1" cy="399.7" r="0.9"/><circle cx="577.3" cy="400.1" r="0.9"/><circle cx="577.6" cy="400.0" r="0.9"/><circle cx="578.4" cy="400.1" r="0.9"/><circle cx="578.7" cy="399.9" r="0.9"/><circle cx="579.4" cy="400.2" r="0.9"/><circle cx="580.0" cy="400.2" r="0.9"/><circle cx="580.0" cy="400.3" r="0.9"/><circle cx="580.6" cy="400.4" r="0.9"/><circle cx="581.3" cy="399.8" r="0.9"/><circle cx="581.9" cy="399.9" r="0.9"/><circle cx="581.8" cy="400.0" r="0.9"/><circle cx="582.8" cy="399.8" r="0.9"/><circle cx="582.8" cy="400.4" r="0.9"/><circle cx="583.4" cy="399.8" r="0.9"/><circle cx="584.0" cy="400.3" r="0.9"/><circle cx="584.3" cy="400.4" r="0.9"/><circle cx="585.0" cy="400.2" r="0.9"/><circle cx="585.4" cy="400.0" r="0.9"/><circle cx="586.0" cy="399.9" r="0.9"/><circle cx="586.0" cy="399.8" r="0.9"/><circle cx="586.7" cy="400.1" r="0.9"/><circle cx="587.1" cy="400.2" r="0.9"/><circle cx="587.6" cy="400.1" r="0.9"/><circle cx="588.0" cy="399.7" r="0.9"/><circle cx="588.7" cy="400.0" r="0.9"/><circle cx="589.1" cy="399.9" r="0.9"/><circle cx="574.9" cy="371.1" r="0.9"/><circle cx="575.6" cy="370.5" r="0.9"/><circle cx="576.5" cy="370.6" r="0.9"/><circle cx="577.5" cy="371.0" r="0.9"/><circle cx="573.8" cy="375.3" r="0.9"/><circle cx="574.9" cy="375.0" r="0.9"/><circle cx="575.7" cy="375.4" r="0.9"/><circle cx="576.4" cy="375.4" r="0.9"/><circle cx="577.3" cy="375.4" r="0.9"/><circle cx="577.7" cy="375.3" r="0.9"/><circle cx="575.8" cy="359.9" r="0.9"/><circle cx="572.0" cy="387.9" r="0.9"/><circle cx="572.7" cy="387.7" r="0.9"/><circle cx="573.6" cy="387.5" r="0.9"/><circle cx="574.4" cy="387.7" r="0.9"/><circle cx="574.9" cy="387.4" r="0.9"/><circle cx="575.6" cy="387.8" r="0.9"/><circle cx="576.3" cy="387.9" r="0.9"/><circle cx="576.9" cy="387.8" r="0.9"/><circle cx="577.8" cy="387.6" r="0.9"/><circle cx="578.3" cy="387.9" r="0.9"/><circle cx="579.4" cy="387.7" r="0.9"/><circle cx="579.6" cy="387.4" r="0.9"/><circle cx="567.4" cy="396.9" r="0.9"/><circle cx="568.0" cy="396.9" r="0.9"/><circle cx="568.3" cy="396.9" r="0.9"/><circle cx="569.1" cy="397.3" r="0.9"/><circle cx="570.0" cy="397.1" r="0.9"/><circle cx="570.6" cy="397.0" r="0.9"/><circle cx="571.0" cy="397.1" r="0.9"/><circle cx="571.7" cy="397.2" r="0.9"/><circle cx="572.5" cy="397.2" r="0.9"/><circle cx="573.1" cy="396.9" r="0.9"/><circle cx="574.0" cy="396.8" r="0.9"/><circle cx="574.6" cy="396.9" r="0.9"/><circle cx="575.2" cy="396.8" r="0.9"/><circle cx="576.2" cy="397.3" r="0.9"/><circle cx="576.8" cy="397.1" r="0.9"/><circle cx="577.2" cy="397.0" r="0.9"/><circle cx="578.0" cy="397.0" r="0.9"/><circle cx="578.9" cy="396.9" r="0.9"/><circle cx="579.5" cy="396.8" r="0.9"/><circle cx="580.3" cy="397.2" r="0.9"/><circle cx="580.8" cy="396.9" r="0.9"/><circle cx="581.6" cy="396.8" r="0.9"/><circle cx="582.3" cy="396.9" r="0.9"/><circle cx="582.6" cy="396.8" r="0.9"/><circle cx="583.7" cy="396.7" r="0.9"/><circle cx="584.0" cy="397.4" r="0.9"/><circle cx="585.0" cy="396.7" r="0.9"/><circle cx="574.6" cy="381.2" r="0.9"/><circle cx="575.1" cy="381.5" r="0.9"/><circle cx="576.2" cy="381.5" r="0.9"/><circle cx="576.8" cy="381.4" r="0.9"/><circle cx="577.5" cy="381.8" r="0.9"/><circle cx="570.7" cy="423.1" r="0.9"/><circle cx="571.6" cy="422.8" r="0.9"/><circle cx="572.1" cy="423.1" r="0.9"/><circle cx="573.0" cy="423.0" r="0.9"/><circle cx="573.5" cy="422.8" r="0.9"/><circle cx="574.2" cy="423.1" r="0.9"/><circle cx="575.2" cy="422.8" r="0.9"/><circle cx="575.4" cy="422.8" r="0.9"/><circle cx="576.1" cy="422.8" r="0.9"/><circle cx="577.2" cy="422.7" r="0.9"/><circle cx="577.7" cy="422.8" r="0.9"/><circle cx="578.4" cy="422.5" r="0.9"/><circle cx="579.3" cy="422.7" r="0.9"/><circle cx="579.7" cy="423.0" r="0.9"/><circle cx="580.7" cy="422.9" r="0.9"/><circle cx="581.4" cy="423.0" r="0.9"/><circle cx="575.0" cy="368.2" r="0.9"/><circle cx="575.6" cy="368.4" r="0.9"/><circle cx="576.7" cy="368.3" r="0.9"/><circle cx="577.2" cy="368.7" r="0.9"/><circle cx="575.8" cy="330.9" r="0.9"/><circle cx="576.5" cy="355.0" r="0.9"/><circle cx="574.1" cy="374.6" r="0.9"/><circle cx="575.2" cy="374.6" r="0.9"/><circle cx="575.8" cy="374.2" r="0.9"/><circle cx="576.9" cy="374.6" r="0.9"/><circle cx="577.9" cy="374.2" r="0.9"/><circle cx="573.4" cy="376.4" r="0.9"/><circle cx="573.8" cy="376.9" r="0.9"/><circle cx="574.5" cy="376.7" r="0.9"/><circle cx="575.3" cy="376.4" r="0.9"/><circle cx="576.0" cy="376.7" r="0.9"/><circle cx="576.6" cy="376.9" r="0.9"/><circle cx="577.3" cy="376.5" r="0.9"/><circle cx="578.1" cy="377.0" r="0.9"/><circle cx="579.1" cy="377.0" r="0.9"/><circle cx="572.5" cy="382.2" r="0.9"/><circle cx="573.6" cy="382.8" r="0.9"/><circle cx="574.2" cy="382.4" r="0.9"/><circle cx="574.8" cy="382.5" r="0.9"/><circle cx="575.4" cy="382.8" r="0.9"/><circle cx="576.1" cy="382.3" r="0.9"/><circle cx="577.0" cy="382.4" r="0.9"/><circle cx="577.5" cy="382.6" r="0.9"/><circle cx="578.5" cy="382.9" r="0.9"/><circle cx="579.0" cy="382.8" r="0.9"/><circle cx="573.2" cy="371.8" r="0.9"/><circle cx="573.6" cy="372.0" r="0.9"/><circle cx="574.5" cy="372.1" r="0.9"/><circle cx="575.1" cy="372.2" r="0.9"/><circle cx="576.0" cy="372.0" r="0.9"/><circle cx="576.6" cy="371.7" r="0.9"/><circle cx="577.6" cy="371.7" r="0.9"/><circle cx="578.4" cy="372.1" r="0.9"/><circle cx="579.1" cy="371.9" r="0.9"/><circle cx="568.7" cy="398.7" r="0.9"/><circle cx="569.3" cy="398.6" r="0.9"/><circle cx="570.0" cy="398.6" r="0.9"/><circle cx="570.7" cy="398.2" r="0.9"/><circle cx="571.4" cy="398.6" r="0.9"/><circle cx="572.0" cy="398.4" r="0.9"/><circle cx="572.6" cy="398.2" r="0.9"/><circle cx="573.3" cy="398.3" r="0.9"/><circle cx="574.1" cy="398.3" r="0.9"/><circle cx="574.9" cy="398.4" r="0.9"/><circle cx="575.2" cy="398.5" r="0.9"/><circle cx="576.0" cy="398.6" r="0.9"/><circle cx="576.9" cy="398.6" r="0.9"/><circle cx="577.3" cy="398.2" r="0.9"/><circle cx="578.3" cy="398.8" r="0.9"/><circle cx="578.6" cy="398.4" r="0.9"/><circle cx="579.6" cy="398.7" r="0.9"/><circle cx="580.4" cy="398.4" r="0.9"/><circle cx="580.9" cy="398.2" r="0.9"/><circle cx="581.3" cy="398.3" r="0.9"/><circle cx="582.1" cy="398.2" r="0.9"/><circle cx="582.7" cy="398.7" r="0.9"/><circle cx="583.7" cy="398.7" r="0.9"/><circle cx="570.6" cy="393.5" r="0.9"/><circle cx="571.5" cy="393.2" r="0.9"/><circle cx="572.4" cy="393.1" r="0.9"/><circle cx="572.6" cy="393.7" r="0.9"/><circle cx="573.5" cy="393.6" r="0.9"/><circle cx="574.3" cy="393.7" r="0.9"/><circle cx="575.1" cy="393.4" r="0.9"/><circle cx="575.8" cy="393.2" r="0.9"/><circle cx="576.6" cy="393.3" r="0.9"/><circle cx="576.7" cy="393.5" r="0.9"/><circle cx="577.8" cy="393.3" r="0.9"/><circle cx="578.5" cy="393.3" r="0.9"/><circle cx="578.8" cy="393.1" r="0.9"/><circle cx="579.6" cy="393.1" r="0.9"/><circle cx="580.5" cy="393.6" r="0.9"/><circle cx="581.4" cy="393.2" r="0.9"/><circle cx="576.1" cy="352.2" r="0.9"/><circle cx="570.4" cy="379.5" r="0.9"/><circle cx="571.2" cy="378.9" r="0.9"/><circle cx="571.7" cy="379.0" r="0.9"/><circle cx="572.7" cy="378.8" r="0.9"/><circle cx="573.3" cy="379.1" r="0.9"/><circle cx="573.8" cy="379.3" r="0.9"/><circle cx="574.7" cy="379.3" r="0.9"/><circle cx="575.1" cy="379.3" r="0.9"/><circle cx="575.8" cy="379.4" r="0.9"/><circle cx="576.9" cy="379.2" r="0.9"/><circle cx="577.5" cy="379.0" r="0.9"/><circle cx="577.9" cy="378.8" r="0.9"/><circle cx="578.8" cy="378.8" r="0.9"/><circle cx="579.6" cy="378.9" r="0.9"/><circle cx="580.4" cy="379.1" r="0.9"/><circle cx="580.6" cy="379.1" r="0.9"/><circle cx="581.6" cy="378.9" r="0.9"/><circle cx="575.6" cy="337.1" r="0.9"/><circle cx="574.3" cy="369.4" r="0.9"/><circle cx="575.0" cy="369.7" r="0.9"/><circle cx="575.6" cy="369.8" r="0.9"/><circle cx="576.2" cy="370.0" r="0.9"/><circle cx="577.1" cy="370.0" r="0.9"/><circle cx="578.1" cy="369.6" r="0.9"/><circle cx="575.6" cy="335.5" r="0.9"/><circle cx="575.6" cy="332.3" r="0.9"/><circle cx="575.5" cy="350.5" r="0.9"/><circle cx="576.9" cy="350.3" r="0.9"/><circle cx="575.5" cy="307.2" r="0.9"/><circle cx="576.8" cy="307.2" r="0.9"/><circle cx="576.3" cy="327.8" r="0.9"/><circle cx="575.9" cy="313.9" r="0.9"/><circle cx="574.5" cy="416.7" r="0.9"/><circle cx="575.3" cy="417.0" r="0.9"/><circle cx="576.7" cy="416.6" r="0.9"/><circle cx="577.1" cy="416.4" r="0.9"/><circle cx="576.1" cy="363.3" r="0.9"/><circle cx="575.8" cy="317.2" r="0.9"/><circle cx="575.8" cy="362.5" r="0.9"/><circle cx="575.8" cy="321.2" r="0.9"/><circle cx="576.6" cy="308.6" r="0.9"/><circle cx="576.5" cy="310.2" r="0.9"/><circle cx="575.9" cy="353.7" r="0.9"/><circle cx="576.0" cy="306.3" r="0.9"/><circle cx="575.8" cy="347.9" r="0.9"/></g>
<g fill="#fdd08c"><circle cx="616.3" cy="310.2" r="0.9"/><circle cx="615.2" cy="360.6" r="0.9"/><circle cx="616.9" cy="361.0" r="0.9"/><circle cx="602.3" cy="412.2" r="0.9"/><circle cx="603.1" cy="412.4" r="0.9"/><circle cx="603.9" cy="412.6" r="0.9"/><circle cx="604.7" cy="412.5" r="0.9"/><circle cx="605.4" cy="412.2" r="0.9"/><circle cx="606.2" cy="412.2" r="0.9"/><circle cx="607.3" cy="412.5" r="0.9"/><circle cx="607.7" cy="412.6" r="0.9"/><circle cx="608.7" cy="412.6" r="0.9"/><circle cx="609.6" cy="412.2" r="0.9"/><circle cx="610.3" cy="412.6" r="0.9"/><circle cx="611.2" cy="412.3" r="0.9"/><circle cx="611.7" cy="412.6" r="0.9"/><circle cx="613.0" cy="412.5" r="0.9"/><circle cx="613.6" cy="412.2" r="0.9"/><circle cx="614.4" cy="412.7" r="0.9"/><circle cx="615.2" cy="412.7" r="0.9"/><circle cx="616.1" cy="412.1" r="0.9"/><circle cx="616.9" cy="412.3" r="0.9"/><circle cx="617.5" cy="412.0" r="0.9"/><circle cx="618.5" cy="412.6" r="0.9"/><circle cx="618.8" cy="412.0" r="0.9"/><circle cx="620.1" cy="412.6" r="0.9"/><circle cx="620.5" cy="412.2" r="0.9"/><circle cx="621.4" cy="412.1" r="0.9"/><circle cx="622.1" cy="412.1" r="0.9"/><circle cx="623.3" cy="412.1" r="0.9"/><circle cx="623.8" cy="412.3" r="0.9"/><circle cx="624.9" cy="412.2" r="0.9"/><circle cx="625.7" cy="412.1" r="0.9"/><circle cx="626.2" cy="412.2" r="0.9"/><circle cx="627.3" cy="412.2" r="0.9"/><circle cx="627.8" cy="412.3" r="0.9"/><circle cx="628.7" cy="412.4" r="0.9"/><circle cx="629.3" cy="412.5" r="0.9"/><circle cx="614.7" cy="327.9" r="0.9"/><circle cx="616.6" cy="327.8" r="0.9"/><circle cx="613.8" cy="381.2" r="0.9"/><circle cx="614.7" cy="381.9" r="0.9"/><circle cx="616.1" cy="381.3" r="0.9"/><circle cx="617.0" cy="381.3" r="0.9"/><circle cx="618.3" cy="381.3" r="0.9"/><circle cx="602.2" cy="400.0" r="0.9"/><circle cx="603.0" cy="400.3" r="0.9"/><circle cx="603.6" cy="400.1" r="0.9"/><circle cx="604.3" cy="400.3" r="0.9"/><circle cx="605.2" cy="399.9" r="0.9"/><circle cx="606.1" cy="399.9" r="0.9"/><circle cx="606.4" cy="400.1" r="0.9"/><circle cx="607.0" cy="400.0" r="0.9"/><circle cx="608.1" cy="400.2" r="0.9"/><circle cx="608.5" cy="400.3" r="0.9"/><circle cx="609.1" cy="400.4" r="0.9"/><circle cx="609.9" cy="400.1" r="0.9"/><circle cx="610.4" cy="399.7" r="0.9"/><circle cx="611.6" cy="400.0" r="0.9"/><circle cx="612.1" cy="400.2" r="0.9"/><circle cx="612.6" cy="400.4" r="0.9"/><circle cx="613.4" cy="400.4" r="0.9"/><circle cx="614.0" cy="400.0" r="0.9"/><circle cx="614.6" cy="400.2" r="0.9"/><circle cx="615.3" cy="399.9" r="0.9"/><circle cx="616.1" cy="399.8" r="0.9"/><circle cx="616.7" cy="400.2" r="0.9"/><circle cx="617.7" cy="400.1" r="0.9"/><circle cx="618.1" cy="400.3" r="0.9"/><circle cx="619.1" cy="399.7" r="0.9"/><circle cx="619.6" cy="400.4" r="0.9"/><circle cx="620.3" cy="399.8" r="0.9"/><circle cx="621.3" cy="400.4" r="0.9"/><circle cx="621.6" cy="400.1" r="0.9"/><circle cx="622.8" cy="399.8" r="0.9"/><circle cx="623.4" cy="400.3" r="0.9"/><circle cx="624.0" cy="399.9" r="0.9"/><circle cx="624.8" cy="400.3" r="0.9"/><circle cx="625.3" cy="400.1" r="0.9"/><circle cx="626.2" cy="400.0" r="0.9"/><circle cx="626.9" cy="400.4" r="0.9"/><circle cx="627.5" cy="399.9" r="0.9"/><circle cx="628.0" cy="400.4" r="0.9"/><circle cx="628.8" cy="400.0" r="0.9"/><circle cx="629.2" cy="399.9" r="0.9"/><circle cx="610.5" cy="388.8" r="0.9"/><circle cx="611.7" cy="389.0" r="0.9"/><circle cx="613.0" cy="389.0" r="0.9"/><circle cx="613.8" cy="388.7" r="0.9"/><circle cx="615.0" cy="389.0" r="0.9"/><circle cx="615.7" cy="388.9" r="0.9"/><circle cx="616.8" cy="388.6" r="0.9"/><circle cx="617.8" cy="388.4" r="0.9"/><circle cx="618.8" cy="388.5" r="0.9"/><circle cx="620.4" cy="388.6" r="0.9"/><circle cx="621.3" cy="389.0" r="0.9"/><circle cx="602.2" cy="396.9" r="0.9"/><circle cx="603.0" cy="397.2" r="0.9"/><circle cx="604.2" cy="397.1" r="0.9"/><circle cx="604.6" cy="396.7" r="0.9"/><circle cx="605.7" cy="397.3" r="0.9"/><circle cx="606.5" cy="397.2" r="0.9"/><circle cx="607.1" cy="396.7" r="0.9"/><circle cx="607.9" cy="397.0" r="0.9"/><circle cx="608.9" cy="396.8" r="0.9"/><circle cx="609.6" cy="397.1" r="0.9"/><circle cx="610.8" cy="396.8" r="0.9"/><circle cx="611.6" cy="397.3" r="0.9"/><circle cx="612.5" cy="397.0" r="0.9"/><circle cx="612.9" cy="396.8" r="0.9"/><circle cx="614.0" cy="397.2" r="0.9"/><circle cx="614.4" cy="396.8" r="0.9"/><circle cx="615.7" cy="396.9" r="0.9"/><circle cx="616.6" cy="396.7" r="0.9"/><circle cx="616.9" cy="397.4" r="0.9"/><circle cx="618.0" cy="396.8" r="0.9"/><circle cx="618.6" cy="397.3" r="0.9"/><circle cx="619.8" cy="396.8" r="0.9"/><circle cx="620.3" cy="397.0" r="0.9"/><circle cx="621.3" cy="397.1" r="0.9"/><circle cx="621.9" cy="397.2" r="0.9"/><circle cx="622.8" cy="397.1" r="0.9"/><circle cx="623.7" cy="396.7" r="0.9"/><circle cx="624.8" cy="397.3" r="0.9"/><circle cx="625.2" cy="397.2" r="0.9"/><circle cx="625.9" cy="397.0" r="0.9"/><circle cx="627.0" cy="397.2" r="0.9"/><circle cx="627.6" cy="396.8" r="0.9"/><circle cx="628.7" cy="396.7" r="0.9"/><circle cx="629.5" cy="397.3" r="0.9"/><circle cx="614.6" cy="376.9" r="0.9"/><circle cx="615.9" cy="376.6" r="0.9"/><circle cx="617.2" cy="377.0" r="0.9"/><circle cx="609.9" cy="391.5" r="0.9"/><circle cx="611.0" cy="391.4" r="0.9"/><circle cx="611.9" cy="391.3" r="0.9"/><circle cx="613.1" cy="391.1" r="0.9"/><circle cx="614.5" cy="391.6" r="0.9"/><circle cx="615.4" cy="391.5" r="0.9"/><circle cx="616.2" cy="391.1" r="0.9"/><circle cx="617.5" cy="391.6" r="0.9"/><circle cx="618.6" cy="391.2" r="0.9"/><circle cx="619.4" cy="391.5" r="0.9"/><circle cx="620.6" cy="391.5" r="0.9"/><circle cx="621.9" cy="391.5" r="0.9"/><circle cx="611.3" cy="422.6" r="0.9"/><circle cx="612.2" cy="422.7" r="0.9"/><circle cx="613.0" cy="423.0" r="0.9"/><circle cx="614.1" cy="422.5" r="0.9"/><circle cx="615.2" cy="423.0" r="0.9"/><circle cx="616.3" cy="423.0" r="0.9"/><circle cx="617.5" cy="423.1" r="0.9"/><circle cx="618.4" cy="422.8" r="0.9"/><circle cx="619.5" cy="422.7" r="0.9"/><circle cx="620.6" cy="423.1" r="0.9"/><circle cx="616.0" cy="308.2" r="0.9"/><circle cx="608.2" cy="394.9" r="0.9"/><circle cx="609.1" cy="394.4" r="0.9"/><circle cx="610.1" cy="394.5" r="0.9"/><circle cx="611.4" cy="394.7" r="0.9"/><circle cx="612.0" cy="394.8" r="0.9"/><circle cx="613.4" cy="394.4" r="0.9"/><circle cx="614.6" cy="394.8" r="0.9"/><circle cx="615.7" cy="394.7" r="0.9"/><circle cx="616.3" cy="394.8" r="0.9"/><circle cx="617.6" cy="394.2" r="0.9"/><circle cx="618.7" cy="394.4" r="0.9"/><circle cx="619.6" cy="394.8" r="0.9"/><circle cx="620.7" cy="394.8" r="0.9"/><circle cx="621.7" cy="394.2" r="0.9"/><circle cx="622.4" cy="394.8" r="0.9"/><circle cx="623.4" cy="394.3" r="0.9"/><circle cx="614.6" cy="368.5" r="0.9"/><circle cx="616.1" cy="368.5" r="0.9"/><circle cx="617.3" cy="368.5" r="0.9"/><circle cx="612.8" cy="372.2" r="0.9"/><circle cx="614.2" cy="372.2" r="0.9"/><circle cx="615.4" cy="371.8" r="0.9"/><circle cx="616.2" cy="371.8" r="0.9"/><circle cx="617.8" cy="371.7" r="0.9"/><circle cx="619.0" cy="372.1" r="0.9"/><circle cx="602.9" cy="409.2" r="0.9"/><circle cx="603.9" cy="409.1" r="0.9"/><circle cx="605.2" cy="408.8" r="0.9"/><circle cx="605.8" cy="409.2" r="0.9"/><circle cx="606.9" cy="409.1" r="0.9"/><circle cx="607.6" cy="408.7" r="0.9"/><circle cx="609.1" cy="409.0" r="0.9"/><circle cx="609.6" cy="408.8" r="0.9"/><circle cx="610.9" cy="409.1" r="0.9"/><circle cx="611.7" cy="408.7" r="0.9"/><circle cx="612.8" cy="409.3" r="0.9"/><circle cx="614.2" cy="408.7" r="0.9"/><circle cx="615.1" cy="409.0" r="0.9"/><circle cx="615.9" cy="408.9" r="0.9"/><circle cx="617.0" cy="409.2" r="0.9"/><circle cx="618.0" cy="408.8" r="0.9"/><circle cx="619.0" cy="408.7" r="0.9"/><circle cx="620.1" cy="409.1" r="0.9"/><circle cx="620.9" cy="408.6" r="0.9"/><circle cx="621.9" cy="409.3" r="0.9"/><circle cx="623.1" cy="408.9" r="0.9"/><circle cx="624.0" cy="408.7" r="0.9"/><circle cx="625.2" cy="408.8" r="0.9"/><circle cx="625.6" cy="408.8" r="0.9"/><circle cx="626.9" cy="409.1" r="0.9"/><circle cx="627.6" cy="408.8" r="0.9"/><circle cx="629.1" cy="408.6" r="0.9"/><circle cx="612.5" cy="416.9" r="0.9"/><circle cx="613.9" cy="416.5" r="0.9"/><circle cx="614.7" cy="416.9" r="0.9"/><circle cx="616.0" cy="416.7" r="0.9"/><circle cx="616.9" cy="416.7" r="0.9"/><circle cx="618.3" cy="416.9" r="0.9"/><circle cx="619.3" cy="416.9" r="0.9"/><circle cx="611.2" cy="386.2" r="0.9"/><circle cx="611.9" cy="385.8" r="0.9"/><circle cx="613.5" cy="386.5" r="0.9"/><circle cx="614.1" cy="386.3" r="0.9"/><circle cx="615.4" cy="385.8" r="0.9"/><circle cx="616.7" cy="386.1" r="0.9"/><circle cx="617.5" cy="386.4" r="0.9"/><circle cx="618.7" cy="385.9" r="0.9"/><circle cx="619.9" cy="386.5" r="0.9"/><circle cx="620.9" cy="386.3" r="0.9"/><circle cx="616.3" cy="360.4" r="0.9"/><circle cx="607.9" cy="396.0" r="0.9"/><circle cx="608.6" cy="395.6" r="0.9"/><circle cx="610.0" cy="395.8" r="0.9"/><circle cx="610.9" cy="395.5" r="0.9"/><circle cx="611.9" cy="395.8" r="0.9"/><circle cx="612.6" cy="395.5" r="0.9"/><circle cx="613.8" cy="395.7" r="0.9"/><circle cx="615.0" cy="395.9" r="0.9"/><circle cx="616.0" cy="395.6" r="0.9"/><circle cx="617.2" cy="395.4" r="0.9"/><circle cx="617.8" cy="395.9" r="0.9"/><circle cx="618.9" cy="396.0" r="0.9"/><circle cx="620.3" cy="396.1" r="0.9"/><circle cx="621.2" cy="395.6" r="0.9"/><circle cx="622.3" cy="395.5" r="0.9"/><circle cx="622.9" cy="396.0" r="0.9"/><circle cx="624.0" cy="396.0" r="0.9"/><circle cx="614.8" cy="375.3" r="0.9"/><circle cx="617.1" cy="375.8" r="0.9"/><circle cx="603.0" cy="398.8" r="0.9"/><circle cx="603.7" cy="398.4" r="0.9"/><circle cx="605.0" cy="398.2" r="0.9"/><circle cx="605.6" cy="398.2" r="0.9"/><circle cx="606.8" cy="398.3" r="0.9"/><circle cx="607.7" cy="398.6" r="0.9"/><circle cx="608.6" cy="398.7" r="0.9"/><circle cx="609.9" cy="398.7" r="0.9"/><circle cx="610.6" cy="398.7" r="0.9"/><circle cx="612.0" cy="398.6" r="0.9"/><circle cx="612.6" cy="398.1" r="0.9"/><circle cx="613.6" cy="398.5" r="0.9"/><circle cx="615.0" cy="398.4" r="0.9"/><circle cx="616.0" cy="398.8" r="0.9"/><circle cx="616.9" cy="398.1" r="0.9"/><circle cx="618.0" cy="398.2" r="0.9"/><circle cx="618.7" cy="398.3" r="0.9"/><circle cx="620.0" cy="398.6" r="0.9"/><circle cx="620.7" cy="398.3" r="0.9"/><circle cx="621.7" cy="398.4" r="0.9"/><circle cx="622.9" cy="398.6" r="0.9"/><circle cx="623.8" cy="398.4" r="0.9"/><circle cx="625.1" cy="398.4" r="0.9"/><circle cx="626.0" cy="398.7" r="0.9"/><circle cx="626.7" cy="398.6" r="0.9"/><circle cx="627.9" cy="398.8" r="0.9"/><circle cx="628.9" cy="398.5" r="0.9"/><circle cx="616.4" cy="320.1" r="0.9"/><circle cx="612.5" cy="382.6" r="0.9"/><circle cx="613.6" cy="382.4" r="0.9"/><circle cx="614.7" cy="382.4" r="0.9"/><circle cx="616.1" cy="382.9" r="0.9"/><circle cx="616.9" cy="382.5" r="0.9"/><circle cx="618.3" cy="382.5" r="0.9"/><circle cx="619.1" cy="382.8" r="0.9"/><circle cx="602.3" cy="402.2" r="0.9"/><circle cx="603.2" cy="401.8" r="0.9"/><circle cx="604.1" cy="402.1" r="0.9"/><circle cx="604.7" cy="401.9" r="0.9"/><circle cx="605.5" cy="401.9" r="0.9"/><circle cx="606.2" cy="401.7" r="0.9"/><circle cx="606.9" cy="402.1" r="0.9"/><circle cx="607.7" cy="401.6" r="0.9"/><circle cx="608.0" cy="402.2" r="0.9"/><circle cx="609.2" cy="401.6" r="0.9"/><circle cx="609.8" cy="401.7" r="0.9"/><circle cx="610.7" cy="402.1" r="0.9"/><circle cx="610.9" cy="402.0" r="0.9"/><circle cx="611.6" cy="401.8" r="0.9"/><circle cx="612.5" cy="402.0" r="0.9"/><circle cx="613.6" cy="402.0" r="0.9"/><circle cx="613.9" cy="401.5" r="0.9"/><circle cx="615.0" cy="401.7" r="0.9"/><circle cx="615.4" cy="401.9" r="0.9"/><circle cx="616.5" cy="401.6" r="0.9"/><circle cx="616.9" cy="401.6" r="0.9"/><circle cx="617.6" cy="401.5" r="0.9"/><circle cx="618.5" cy="401.9" r="0.9"/><circle cx="619.3" cy="402.0" r="0.9"/><circle cx="619.9" cy="402.1" r="0.9"/><circle cx="620.9" cy="402.2" r="0.9"/><circle cx="621.2" cy="401.5" r="0.9"/><circle cx="622.2" cy="401.5" r="0.9"/><circle cx="623.1" cy="401.9" r="0.9"/><circle cx="623.6" cy="401.6" r="0.9"/><circle cx="624.4" cy="402.1" r="0.9"/><circle cx="624.9" cy="401.7" r="0.9"/><circle cx="625.6" cy="401.9" r="0.9"/><circle cx="626.6" cy="401.6" r="0.9"/><circle cx="627.3" cy="401.6" r="0.9"/><circle cx="628.2" cy="401.7" r="0.9"/><circle cx="628.6" cy="401.6" r="0.9"/><circle cx="629.6" cy="401.8" r="0.9"/><circle cx="614.1" cy="365.6" r="0.9"/><circle cx="615.4" cy="366.1" r="0.9"/><circle cx="616.6" cy="365.5" r="0.9"/><circle cx="617.6" cy="365.9" r="0.9"/><circle cx="616.1" cy="323.0" r="0.9"/><circle cx="610.1" cy="392.2" r="0.9"/><circle cx="611.3" cy="392.0" r="0.9"/><circle cx="612.5" cy="392.1" r="0.9"/><circle cx="613.3" cy="392.6" r="0.9"/><circle cx="614.3" cy="392.2" r="0.9"/><circle cx="615.3" cy="392.3" r="0.9"/><circle cx="616.6" cy="392.6" r="0.9"/><circle cx="617.6" cy="392.1" r="0.9"/><circle cx="618.4" cy="392.2" r="0.9"/><circle cx="619.5" cy="392.3" r="0.9"/><circle cx="620.8" cy="392.4" r="0.9"/><circle cx="621.5" cy="392.4" r="0.9"/><circle cx="602.6" cy="404.0" r="0.9"/><circle cx="603.2" cy="404.2" r="0.9"/><circle cx="604.0" cy="404.2" r="0.9"/><circle cx="604.8" cy="403.8" r="0.9"/><circle cx="605.5" cy="404.1" r="0.9"/><circle cx="606.1" cy="403.6" r="0.9"/><circle cx="606.6" cy="404.1" r="0.9"/><circle cx="607.3" cy="404.2" r="0.9"/><circle cx="607.9" cy="403.5" r="0.9"/><circle cx="608.9" cy="404.1" r="0.9"/><circle cx="609.5" cy="403.9" r="0.9"/><circle cx="609.8" cy="403.6" r="0.9"/><circle cx="611.0" cy="404.0" r="0.9"/><circle cx="611.5" cy="404.0" r="0.9"/><circle cx="612.3" cy="403.5" r="0.9"/><circle cx="613.1" cy="403.8" r="0.9"/><circle cx="613.4" cy="404.2" r="0.9"/><circle cx="614.0" cy="403.9" r="0.9"/><circle cx="614.9" cy="404.1" r="0.9"/><circle cx="615.7" cy="403.9" r="0.9"/><circle cx="616.4" cy="403.6" r="0.9"/><circle cx="616.8" cy="404.0" r="0.9"/><circle cx="617.7" cy="403.7" r="0.9"/><circle cx="618.3" cy="403.9" r="0.9"/><circle cx="618.9" cy="403.6" r="0.9"/><circle cx="619.5" cy="404.0" r="0.9"/><circle cx="620.2" cy="403.7" r="0.9"/><circle cx="621.1" cy="403.8" r="0.9"/><circle cx="621.5" cy="403.6" r="0.9"/><circle cx="622.6" cy="403.7" r="0.9"/><circle cx="622.9" cy="403.5" r="0.9"/><circle cx="623.9" cy="403.6" r="0.9"/><circle cx="624.3" cy="403.8" r="0.9"/><circle cx="625.2" cy="403.6" r="0.9"/><circle cx="626.0" cy="404.2" r="0.9"/><circle cx="626.4" cy="403.8" r="0.9"/><circle cx="627.5" cy="403.7" r="0.9"/><circle cx="628.0" cy="403.9" r="0.9"/><circle cx="628.6" cy="403.9" r="0.9"/><circle cx="629.7" cy="403.5" r="0.9"/><circle cx="616.2" cy="350.0" r="0.9"/><circle cx="613.7" cy="378.6" r="0.9"/><circle cx="615.1" cy="378.9" r="0.9"/><circle cx="616.7" cy="378.9" r="0.9"/><circle cx="618.0" cy="378.6" r="0.9"/><circle cx="612.3" cy="374.0" r="0.9"/><circle cx="613.6" cy="374.5" r="0.9"/><circle cx="614.6" cy="374.2" r="0.9"/><circle cx="615.8" cy="374.5" r="0.9"/><circle cx="617.2" cy="374.0" r="0.9"/><circle cx="618.1" cy="374.4" r="0.9"/><circle cx="619.1" cy="374.6" r="0.9"/><circle cx="616.5" cy="332.8" r="0.9"/><circle cx="608.6" cy="387.6" r="0.9"/><circle cx="610.0" cy="388.0" r="0.9"/><circle cx="611.0" cy="387.8" r="0.9"/><circle cx="611.6" cy="387.4" r="0.9"/><circle cx="612.5" cy="387.3" r="0.9"/><circle cx="613.9" cy="388.0" r="0.9"/><circle cx="615.1" cy="387.8" r="0.9"/><circle cx="616.2" cy="387.8" r="0.9"/><circle cx="616.9" cy="387.8" r="0.9"/><circle cx="617.8" cy="387.7" r="0.9"/><circle cx="619.1" cy="387.6" r="0.9"/><circle cx="619.9" cy="387.7" r="0.9"/><circle cx="621.0" cy="387.7" r="0.9"/><circle cx="622.0" cy="387.7" r="0.9"/><circle cx="622.9" cy="387.4" r="0.9"/><circle cx="606.0" cy="389.9" r="0.9"/><circle cx="606.9" cy="390.0" r="0.9"/><circle cx="607.6" cy="389.7" r="0.9"/><circle cx="608.8" cy="390.4" r="0.9"/><circle cx="610.1" cy="390.0" r="0.9"/><circle cx="610.9" cy="390.2" r="0.9"/><circle cx="611.9" cy="389.9" r="0.9"/><circle cx="612.6" cy="390.0" r="0.9"/><circle cx="613.9" cy="389.7" r="0.9"/><circle cx="615.0" cy="390.1" r="0.9"/><circle cx="616.2" cy="389.9" r="0.9"/><circle cx="616.9" cy="389.9" r="0.9"/><circle cx="617.7" cy="390.3" r="0.9"/><circle cx="618.9" cy="389.9" r="0.9"/><circle cx="619.7" cy="390.4" r="0.9"/><circle cx="621.2" cy="390.3" r="0.9"/><circle cx="622.0" cy="390.3" r="0.9"/><circle cx="623.0" cy="390.2" r="0.9"/><circle cx="624.0" cy="390.0" r="0.9"/><circle cx="624.8" cy="390.2" r="0.9"/><circle cx="626.0" cy="390.1" r="0.9"/><circle cx="602.6" cy="406.5" r="0.9"/><circle cx="603.1" cy="406.4" r="0.9"/><circle cx="603.6" cy="406.3" r="0.9"/><circle cx="604.5" cy="405.9" r="0.9"/><circle cx="605.1" cy="405.9" r="0.9"/><circle cx="605.6" cy="406.3" r="0.9"/><circle cx="606.7" cy="406.5" r="0.9"/><circle cx="607.1" cy="405.9" r="0.9"/><circle cx="607.8" cy="406.3" r="0.9"/><circle cx="608.5" cy="406.0" r="0.9"/><circle cx="609.2" cy="406.5" r="0.9"/><circle cx="610.0" cy="406.5" r="0.9"/><circle cx="610.9" cy="405.9" r="0.9"/><circle cx="611.5" cy="405.9" r="0.9"/><circle cx="611.8" cy="405.9" r="0.9"/><circle cx="612.8" cy="405.9" r="0.9"/><circle cx="613.2" cy="406.3" r="0.9"/><circle cx="614.4" cy="406.3" r="0.9"/><circle cx="615.1" cy="406.5" r="0.9"/><circle cx="615.3" cy="406.5" r="0.9"/><circle cx="616.0" cy="406.4" r="0.9"/><circle cx="616.9" cy="406.4" r="0.9"/><circle cx="617.8" cy="406.0" r="0.9"/><circle cx="618.5" cy="406.3" r="0.9"/><circle cx="618.8" cy="406.1" r="0.9"/><circle cx="619.6" cy="406.3" r="0.9"/><circle cx="620.1" cy="405.9" r="0.9"/><circle cx="621.4" cy="406.4" r="0.9"/><circle cx="622.1" cy="406.1" r="0.9"/><circle cx="622.7" cy="406.0" r="0.9"/><circle cx="623.3" cy="405.9" r="0.9"/><circle cx="624.1" cy="406.1" r="0.9"/><circle cx="624.5" cy="406.0" r="0.9"/><circle cx="625.4" cy="406.3" r="0.9"/><circle cx="626.0" cy="406.3" r="0.9"/><circle cx="626.8" cy="406.1" r="0.9"/><circle cx="627.5" cy="406.3" r="0.9"/><circle cx="627.8" cy="406.0" r="0.9"/><circle cx="628.5" cy="406.0" r="0.9"/><circle cx="629.1" cy="406.2" r="0.9"/><circle cx="612.4" cy="383.4" r="0.9"/><circle cx="613.4" cy="384.0" r="0.9"/><circle cx="615.1" cy="383.6" r="0.9"/><circle cx="615.9" cy="383.4" r="0.9"/><circle cx="617.0" cy="383.9" r="0.9"/><circle cx="618.3" cy="383.6" r="0.9"/><circle cx="619.3" cy="383.8" r="0.9"/><circle cx="611.9" cy="393.6" r="0.9"/><circle cx="612.9" cy="393.5" r="0.9"/><circle cx="614.5" cy="393.1" r="0.9"/><circle cx="615.2" cy="393.7" r="0.9"/><circle cx="616.6" cy="393.5" r="0.9"/><circle cx="617.8" cy="393.2" r="0.9"/><circle cx="618.6" cy="393.5" r="0.9"/><circle cx="619.8" cy="393.6" r="0.9"/><circle cx="614.8" cy="362.5" r="0.9"/><circle cx="617.1" cy="362.5" r="0.9"/><circle cx="616.4" cy="341.5" r="0.9"/><circle cx="611.7" cy="378.3" r="0.9"/><circle cx="612.8" cy="378.2" r="0.9"/><circle cx="613.6" cy="377.8" r="0.9"/><circle cx="615.0" cy="377.7" r="0.9"/><circle cx="615.8" cy="378.3" r="0.9"/><circle cx="617.2" cy="378.3" r="0.9"/><circle cx="617.8" cy="377.9" r="0.9"/><circle cx="619.3" cy="378.2" r="0.9"/><circle cx="619.9" cy="378.0" r="0.9"/><circle cx="615.2" cy="323.4" r="0.9"/><circle cx="615.5" cy="336.8" r="0.9"/><circle cx="612.8" cy="367.4" r="0.9"/><circle cx="613.9" cy="367.5" r="0.9"/><circle cx="615.3" cy="367.4" r="0.9"/><circle cx="616.6" cy="367.1" r="0.9"/><circle cx="617.6" cy="367.5" r="0.9"/><circle cx="618.6" cy="367.1" r="0.9"/><circle cx="614.0" cy="370.7" r="0.9"/><circle cx="615.2" cy="370.4" r="0.9"/><circle cx="616.8" cy="370.8" r="0.9"/><circle cx="618.0" cy="370.7" r="0.9"/><circle cx="614.7" cy="357.7" r="0.9"/><circle cx="617.2" cy="358.1" r="0.9"/><circle cx="614.7" cy="372.5" r="0.9"/><circle cx="616.9" cy="372.7" r="0.9"/><circle cx="614.6" cy="358.7" r="0.9"/><circle cx="617.0" cy="358.8" r="0.9"/><circle cx="616.6" cy="330.6" r="0.9"/><circle cx="613.9" cy="363.6" r="0.9"/><circle cx="615.4" cy="363.2" r="0.9"/><circle cx="616.6" cy="363.6" r="0.9"/><circle cx="617.9" cy="363.4" r="0.9"/><circle cx="615.7" cy="311.6" r="0.9"/><circle cx="615.7" cy="345.7" r="0.9"/><circle cx="615.3" cy="307.6" r="0.9"/><circle cx="613.2" cy="369.5" r="0.9"/><circle cx="614.0" cy="369.7" r="0.9"/><circle cx="615.1" cy="369.6" r="0.9"/><circle cx="616.2" cy="369.7" r="0.9"/><circle cx="617.9" cy="369.9" r="0.9"/><circle cx="618.7" cy="369.8" r="0.9"/><circle cx="615.0" cy="338.5" r="0.9"/><circle cx="616.8" cy="338.5" r="0.9"/><circle cx="615.5" cy="318.2" r="0.9"/><circle cx="615.2" cy="312.4" r="0.9"/><circle cx="614.7" cy="384.5" r="0.9"/><circle cx="615.6" cy="384.6" r="0.9"/><circle cx="617.4" cy="384.5" r="0.9"/><circle cx="616.6" cy="344.2" r="0.9"/><circle cx="615.3" cy="343.7" r="0.9"/><circle cx="613.5" cy="380.7" r="0.9"/><circle cx="614.7" cy="380.3" r="0.9"/><circle cx="616.1" cy="380.6" r="0.9"/><circle cx="617.2" cy="380.3" r="0.9"/><circle cx="618.5" cy="380.4" r="0.9"/><circle cx="616.5" cy="351.9" r="0.9"/><circle cx="616.3" cy="334.4" r="0.9"/><circle cx="616.3" cy="348.4" r="0.9"/></g>
<g fill="#4690d8"><circle cx="653.1" cy="383.5" r="0.9"/><circle cx="653.8" cy="383.8" r="0.9"/><circle cx="654.2" cy="384.0" r="0.9"/><circle cx="655.2" cy="383.7" r="0.9"/><circle cx="655.5" cy="383.5" r="0.9"/><circle cx="656.4" cy="383.8" r="0.9"/><circle cx="656.7" cy="383.4" r="0.9"/><circle cx="657.9" cy="383.5" r="0.9"/><circle cx="658.4" cy="383.6" r="0.9"/><circle cx="659.2" cy="383.5" r="0.9"/><circle cx="643.1" cy="416.6" r="0.9"/><circle cx="643.4" cy="416.5" r="0.9"/><circle cx="643.5" cy="416.5" r="0.9"/><circle cx="644.2" cy="416.9" r="0.9"/><circle cx="644.6" cy="416.7" r="0.9"/><circle cx="644.7" cy="416.4" r="0.9"/><circle cx="645.3" cy="416.7" r="0.9"/><circle cx="645.8" cy="416.5" r="0.9"/><circle cx="645.8" cy="416.5" r="0.9"/><circle cx="646.6" cy="416.8" r="0.9"/><circle cx="646.9" cy="417.0" r="0.9"/><circle cx="646.8" cy="416.5" r="0.9"/><circle cx="647.3" cy="416.5" r="0.9"/><circle cx="647.8" cy="416.8" r="0.9"/><circle cx="648.1" cy="416.5" r="0.9"/><circle cx="648.6" cy="416.4" r="0.9"/><circle cx="649.1" cy="416.6" r="0.9"/><circle cx="649.5" cy="416.8" r="0.9"/><circle cx="649.7" cy="416.5" r="0.9"/><circle cx="649.9" cy="416.6" r="0.9"/><circle cx="650.1" cy="416.7" r="0.9"/><circle cx="650.9" cy="417.0" r="0.9"/><circle cx="651.1" cy="416.5" r="0.9"/><circle cx="651.3" cy="416.8" r="0.9"/><circle cx="651.7" cy="416.5" r="0.9"/><circle cx="652.0" cy="416.6" r="0.9"/><circle cx="652.5" cy="416.4" r="0.9"/><circle cx="653.2" cy="416.8" r="0.9"/><circle cx="653.1" cy="416.6" r="0.9"/><circle cx="653.8" cy="416.7" r="0.9"/><circle cx="653.9" cy="416.6" r="0.9"/><circle cx="654.7" cy="416.6" r="0.9"/><circle cx="654.9" cy="417.0" r="0.9"/><circle cx="655.4" cy="416.4" r="0.9"/><circle cx="655.9" cy="416.8" r="0.9"/><circle cx="656.2" cy="416.5" r="0.9"/><circle cx="656.2" cy="416.8" r="0.9"/><circle cx="656.5" cy="416.7" r="0.9"/><circle cx="657.3" cy="416.6" r="0.9"/><circle cx="657.8" cy="416.9" r="0.9"/><circle cx="657.9" cy="416.6" r="0.9"/><circle cx="658.4" cy="416.7" r="0.9"/><circle cx="658.3" cy="416.9" r="0.9"/><circle cx="659.1" cy="416.9" r="0.9"/><circle cx="659.4" cy="416.5" r="0.9"/><circle cx="659.6" cy="416.9" r="0.9"/><circle cx="659.9" cy="416.9" r="0.9"/><circle cx="660.5" cy="416.8" r="0.9"/><circle cx="660.9" cy="416.9" r="0.9"/><circle cx="661.0" cy="416.4" r="0.9"/><circle cx="661.3" cy="416.8" r="0.9"/><circle cx="661.9" cy="416.8" r="0.9"/><circle cx="662.3" cy="416.9" r="0.9"/><circle cx="662.9" cy="417.0" r="0.9"/><circle cx="663.1" cy="416.5" r="0.9"/><circle cx="663.2" cy="416.6" r="0.9"/><circle cx="663.6" cy="416.8" r="0.9"/><circle cx="664.4" cy="416.6" r="0.9"/><circle cx="664.5" cy="417.0" r="0.9"/><circle cx="664.7" cy="416.9" r="0.9"/><circle cx="665.3" cy="416.4" r="0.9"/><circle cx="665.6" cy="416.9" r="0.9"/><circle cx="665.9" cy="416.7" r="0.9"/><circle cx="666.5" cy="416.3" r="0.9"/><circle cx="666.5" cy="416.7" r="0.9"/><circle cx="667.4" cy="416.8" r="0.9"/><circle cx="667.6" cy="416.4" r="0.9"/><circle cx="667.8" cy="416.8" r="0.9"/><circle cx="668.4" cy="416.6" r="0.9"/><circle cx="668.8" cy="416.6" r="0.9"/><circle cx="669.0" cy="416.7" r="0.9"/><circle cx="643.2" cy="403.7" r="0.9"/><circle cx="643.4" cy="404.1" r="0.9"/><circle cx="643.8" cy="403.9" r="0.9"/><circle cx="644.2" cy="403.6" r="0.9"/><circle cx="644.7" cy="404.0" r="0.9"/><circle cx="644.6" cy="403.8" r="0.9"/><circle cx="645.4" cy="403.9" r="0.9"/><circle cx="645.4" cy="404.0" r="0.9"/><circle cx="645.9" cy="403.8" r="0.9"/><circle cx="646.2" cy="404.0" r="0.9"/><circle cx="646.8" cy="404.2" r="0.9"/><circle cx="647.1" cy="404.2" r="0.9"/><circle cx="647.1" cy="403.8" r="0.9"/><circle cx="647.8" cy="404.2" r="0.9"/><circle cx="648.1" cy="403.9" r="0.9"/><circle cx="648.5" cy="403.6" r="0.9"/><circle cx="648.7" cy="403.7" r="0.9"/><circle cx="649.4" cy="404.0" r="0.9"/><circle cx="649.6" cy="404.2" r="0.9"/><circle cx="649.6" cy="403.9" r="0.9"/><circle cx="650.1" cy="403.8" r="0.9"/><circle cx="650.4" cy="403.6" r="0.9"/><circle cx="650.8" cy="403.6" r="0.9"/><circle cx="651.2" cy="404.1" r="0.9"/><circle cx="651.7" cy="404.0" r="0.9"/><circle cx="652.3" cy="403.8" r="0.9"/><circle cx="652.1" cy="404.2" r="0.9"/><circle cx="653.0" cy="403.6" r="0.9"/><circle cx="653.1" cy="404.0" r="0.9"/><circle cx="653.4" cy="404.1" r="0.9"/><circle cx="654.1" cy="403.7" r="0.9"/><circle cx="654.3" cy="404.0" r="0.9"/><circle cx="654.7" cy="403.7" r="0.9"/><circle cx="654.8" cy="403.5" r="0.9"/><circle cx="655.4" cy="403.7" r="0.9"/><circle cx="655.7" cy="403.8" r="0.9"/><circle cx="655.7" cy="404.1" r="0.9"/><circle cx="656.3" cy="404.0" r="0.9"/><circle cx="657.0" cy="404.0" r="0.9"/><circle cx="657.3" cy="404.1" r="0.9"/><circle cx="657.7" cy="403.9" r="0.9"/><circle cx="657.7" cy="404.0" r="0.9"/><circle cx="658.2" cy="404.2" r="0.9"/><circle cx="658.8" cy="403.6" r="0.9"/><circle cx="658.9" cy="403.8" r="0.9"/><circle cx="659.3" cy="404.0" r="0.9"/><circle cx="659.5" cy="404.1" r="0.9"/><circle cx="660.1" cy="404.2" r="0.9"/><circle cx="660.0" cy="403.7" r="0.9"/><circle cx="660.6" cy="403.7" r="0.9"/><circle cx="661.3" cy="403.8" r="0.9"/><circle cx="661.6" cy="403.8" r="0.9"/><circle cx="661.6" cy="403.9" r="0.9"/><circle cx="662.1" cy="403.9" r="0.9"/><circle cx="662.4" cy="403.9" r="0.9"/><circle cx="663.0" cy="403.8" r="0.9"/><circle cx="663.2" cy="403.6" r="0.9"/><circle cx="663.7" cy="404.2" r="0.9"/><circle cx="664.2" cy="403.8" r="0.9"/><circle cx="664.3" cy="403.6" r="0.9"/><circle cx="664.9" cy="403.9" r="0.9"/><circle cx="665.0" cy="403.7" r="0.9"/><circle cx="665.4" cy="404.0" r="0.9"/><circle cx="665.9" cy="403.8" r="0.9"/><circle cx="665.8" cy="403.9" r="0.9"/><circle cx="666.6" cy="403.9" r="0.9"/><circle cx="666.8" cy="403.8" r="0.9"/><circle cx="667.1" cy="403.8" r="0.9"/><circle cx="667.8" cy="403.7" r="0.9"/><circle cx="668.0" cy="403.6" r="0.9"/><circle cx="668.3" cy="403.8" r="0.9"/><circle cx="668.5" cy="403.8" r="0.9"/><circle cx="668.9" cy="403.9" r="0.9"/><circle cx="643.2" cy="409.2" r="0.9"/><circle cx="643.0" cy="408.8" r="0.9"/><circle cx="643.5" cy="408.9" r="0.9"/><circle cx="643.7" cy="408.7" r="0.9"/><circle cx="644.4" cy="409.1" r="0.9"/><circle cx="644.4" cy="409.0" r="0.9"/><circle cx="645.0" cy="409.0" r="0.9"/><circle cx="645.3" cy="408.7" r="0.9"/><circle cx="645.6" cy="409.1" r="0.9"/><circle cx="645.6" cy="408.6" r="0.9"/><circle cx="645.9" cy="408.9" r="0.9"/><circle cx="646.5" cy="409.3" r="0.9"/><circle cx="646.5" cy="408.8" r="0.9"/><circle cx="646.7" cy="409.0" r="0.9"/><circle cx="647.1" cy="408.8" r="0.9"/><circle cx="647.5" cy="409.1" r="0.9"/><circle cx="647.9" cy="408.9" r="0.9"/><circle cx="647.7" cy="408.9" r="0.9"/><circle cx="648.0" cy="409.1" r="0.9"/><circle cx="648.8" cy="408.7" r="0.9"/><circle cx="648.9" cy="408.6" r="0.9"/><circle cx="649.1" cy="409.2" r="0.9"/><circle cx="649.2" cy="408.8" r="0.9"/><circle cx="649.8" cy="408.9" r="0.9"/><circle cx="649.8" cy="408.8" r="0.9"/><circle cx="650.1" cy="409.0" r="0.9"/><circle cx="650.3" cy="409.1" r="0.9"/><circle cx="650.7" cy="409.0" r="0.9"/><circle cx="651.1" cy="409.3" r="0.9"/><circle cx="651.3" cy="408.6" r="0.9"/><circle cx="651.6" cy="408.7" r="0.9"/><circle cx="651.9" cy="408.8" r="0.9"/><circle cx="652.5" cy="409.2" r="0.9"/><circle cx="652.7" cy="409.2" r="0.9"/><circle cx="652.9" cy="409.3" r="0.9"/><circle cx="653.0" cy="409.0" r="0.9"/><circle cx="653.3" cy="409.0" r="0.9"/><circle cx="653.6" cy="408.6" r="0.9"/><circle cx="654.0" cy="408.9" r="0.9"/><circle cx="654.1" cy="409.3" r="0.9"/><circle cx="654.4" cy="409.3" r="0.9"/><circle cx="654.8" cy="408.6" r="0.9"/><circle cx="655.4" cy="408.6" r="0.9"/><circle cx="655.5" cy="409.2" r="0.9"/><circle cx="655.8" cy="409.1" r="0.9"/><circle cx="656.0" cy="408.8" r="0.9"/><circle cx="656.6" cy="409.0" r="0.9"/><circle cx="656.9" cy="409.0" r="0.9"/><circle cx="657.3" cy="408.8" r="0.9"/><circle cx="657.3" cy="409.3" r="0.9"/><circle cx="657.7" cy="409.2" r="0.9"/><circle cx="657.7" cy="408.8" r="0.9"/><circle cx="658.3" cy="409.2" r="0.9"/><circle cx="658.6" cy="408.6" r="0.9"/><circle cx="658.6" cy="409.0" r="0.9"/><circle cx="659.2" cy="408.7" r="0.9"/><circle cx="659.2" cy="409.0" r="0.9"/><circle cx="659.5" cy="408.6" r="0.9"/><circle cx="660.2" cy="408.7" r="0.9"/><circle cx="660.0" cy="408.7" r="0.9"/><circle cx="660.6" cy="409.0" r="0.9"/><circle cx="661.1" cy="409.2" r="0.9"/><circle cx="661.0" cy="409.1" r="0.9"/><circle cx="661.1" cy="408.7" r="0.9"/><circle cx="661.8" cy="408.6" r="0.9"/><circle cx="661.8" cy="409.0" r="0.9"/><circle cx="662.1" cy="408.7" r="0.9"/><circle cx="662.5" cy="409.1" r="0.9"/><circle cx="663.2" cy="408.8" r="0.9"/><circle cx="663.4" cy="408.9" r="0.9"/><circle cx="663.7" cy="409.2" r="0.9"/><circle cx="663.7" cy="408.6" r="0.9"/><circle cx="664.2" cy="409.2" r="0.9"/><circle cx="664.6" cy="408.8" r="0.9"/><circle cx="664.5" cy="409.1" r="0.9"/><circle cx="665.1" cy="408.7" r="0.9"/><circle cx="665.0" cy="409.2" r="0.9"/><circle cx="665.4" cy="409.0" r="0.9"/><circle cx="666.0" cy="408.8" r="0.9"/><circle cx="666.2" cy="408.8" r="0.9"/><circle cx="666.2" cy="409.3" r="0.9"/><circle cx="666.9" cy="409.2" r="0.9"/><circle cx="666.9" cy="409.2" r="0.9"/><circle cx="667.0" cy="408.9" r="0.9"/><circle cx="667.6" cy="408.8" r="0.9"/><circle cx="668.0" cy="409.1" r="0.9"/><circle cx="668.1" cy="408.9" r="0.9"/><circle cx="668.3" cy="408.7" r="0.9"/><circle cx="669.0" cy="409.3" r="0.9"/><circle cx="669.1" cy="408.7" r="0.9"/><circle cx="642.7" cy="399.8" r="0.9"/><circle cx="643.4" cy="400.3" r="0.9"/><circle cx="643.4" cy="400.1" r="0.9"/><circle cx="643.6" cy="400.2" r="0.9"/><circle cx="644.4" cy="400.3" r="0.9"/><circle cx="644.5" cy="399.8" r="0.9"/><circle cx="644.6" cy="400.1" r="0.9"/><circle cx="645.3" cy="400.3" r="0.9"/><circle cx="645.1" cy="400.1" r="0.9"/><circle cx="645.7" cy="400.3" r="0.9"/><circle cx="645.7" cy="400.0" r="0.9"/><circle cx="646.4" cy="400.2" r="0.9"/><circle cx="646.8" cy="400.0" r="0.9"/><circle cx="647.1" cy="400.1" r="0.9"/><circle cx="647.1" cy="400.4" r="0.9"/><circle cx="647.4" cy="400.2" r="0.9"/><circle cx="647.6" cy="400.2" r="0.9"/><circle cx="648.4" cy="399.8" r="0.9"/><circle cx="648.2" cy="400.3" r="0.9"/><circle cx="648.8" cy="399.7" r="0.9"/><circle cx="648.7" cy="399.7" r="0.9"/><circle cx="649.0" cy="399.9" r="0.9"/><circle cx="649.8" cy="400.3" r="0.9"/><circle cx="649.9" cy="400.1" r="0.9"/><circle cx="649.9" cy="400.2" r="0.9"/><circle cx="650.7" cy="399.9" r="0.9"/><circle cx="651.0" cy="399.9" r="0.9"/><circle cx="650.9" cy="399.8" r="0.9"/><circle cx="651.5" cy="399.8" r="0.9"/><circle cx="651.9" cy="400.3" r="0.9"/><circle cx="651.9" cy="400.3" r="0.9"/><circle cx="652.5" cy="399.7" r="0.9"/><circle cx="652.3" cy="400.1" r="0.9"/><circle cx="652.6" cy="400.4" r="0.9"/><circle cx="653.2" cy="399.8" r="0.9"/><circle cx="653.2" cy="400.0" r="0.9"/><circle cx="653.6" cy="399.8" r="0.9"/><circle cx="654.1" cy="399.8" r="0.9"/><circle cx="654.6" cy="399.8" r="0.9"/><circle cx="654.5" cy="400.4" r="0.9"/><circle cx="655.2" cy="400.3" r="0.9"/><circle cx="655.2" cy="400.2" r="0.9"/><circle cx="655.4" cy="400.2" r="0.9"/><circle cx="655.8" cy="399.9" r="0.9"/><circle cx="656.2" cy="399.8" r="0.9"/><circle cx="656.2" cy="400.3" r="0.9"/><circle cx="656.6" cy="400.0" r="0.9"/><circle cx="657.0" cy="399.7" r="0.9"/><circle cx="657.1" cy="400.1" r="0.9"/><circle cx="657.4" cy="399.7" r="0.9"/><circle cx="658.2" cy="400.0" r="0.9"/><circle cx="658.4" cy="400.2" r="0.9"/><circle cx="658.3" cy="400.2" r="0.9"/><circle cx="658.9" cy="400.1" r="0.9"/><circle cx="659.4" cy="400.4" r="0.9"/><circle cx="659.3" cy="400.2" r="0.9"/><circle cx="659.7" cy="399.7" r="0.9"/><circle cx="659.7" cy="399.8" r="0.9"/><circle cx="660.1" cy="400.1" r="0.9"/><circle cx="660.7" cy="400.3" r="0.9"/><circle cx="660.7" cy="400.0" r="0.9"/><circle cx="661.0" cy="400.0" r="0.9"/><circle cx="661.8" cy="400.0" r="0.9"/><circle cx="661.6" cy="400.2" r="0.9"/><circle cx="661.9" cy="400.2" r="0.9"/><circle cx="662.7" cy="400.3" r="0.9"/><circle cx="662.4" cy="399.7" r="0.9"/><circle cx="662.8" cy="399.9" r="0.9"/><circle cx="663.1" cy="400.2" r="0.9"/><circle cx="663.8" cy="399.9" r="0.9"/><circle cx="663.8" cy="399.9" r="0.9"/><circle cx="664.0" cy="400.2" r="0.9"/><circle cx="664.4" cy="400.1" r="0.9"/><circle cx="664.8" cy="399.7" r="0.9"/><circle cx="665.3" cy="399.7" r="0.9"/><circle cx="665.4" cy="399.8" r="0.9"/><circle cx="666.0" cy="399.8" r="0.9"/><circle cx="666.0" cy="400.4" r="0.9"/><circle cx="666.3" cy="399.9" r="0.9"/><circle cx="666.4" cy="400.3" r="0.9"/><circle cx="666.9" cy="400.4" r="0.9"/><circle cx="667.2" cy="400.0" r="0.9"/><circle cx="667.3" cy="400.3" r="0.9"/><circle cx="667.5" cy="400.3" r="0.9"/><circle cx="668.2" cy="400.2" r="0.9"/><circle cx="668.6" cy="399.8" r="0.9"/><circle cx="668.7" cy="399.8" r="0.9"/><circle cx="668.9" cy="400.1" r="0.9"/><circle cx="653.1" cy="392.6" r="0.9"/><circle cx="653.6" cy="392.1" r="0.9"/><circle cx="654.3" cy="392.2" r="0.9"/><circle cx="655.0" cy="392.1" r="0.9"/><circle cx="655.8" cy="392.2" r="0.9"/><circle cx="656.3" cy="392.6" r="0.9"/><circle cx="657.1" cy="392.5" r="0.9"/><circle cx="657.5" cy="392.6" r="0.9"/><circle cx="658.1" cy="392.3" r="0.9"/><circle cx="658.8" cy="392.1" r="0.9"/><circle cx="652.6" cy="387.2" r="0.9"/><circle cx="653.3" cy="387.5" r="0.9"/><circle cx="653.8" cy="387.7" r="0.9"/><circle cx="654.3" cy="387.1" r="0.9"/><circle cx="655.0" cy="387.2" r="0.9"/><circle cx="655.7" cy="387.4" r="0.9"/><circle cx="656.2" cy="387.5" r="0.9"/><circle cx="656.8" cy="387.3" r="0.9"/><circle cx="657.5" cy="387.7" r="0.9"/><circle cx="658.2" cy="387.7" r="0.9"/><circle cx="658.9" cy="387.6" r="0.9"/><circle cx="659.5" cy="387.5" r="0.9"/><circle cx="656.5" cy="325.2" r="0.9"/><circle cx="642.8" cy="398.3" r="0.9"/><circle cx="643.1" cy="398.5" r="0.9"/><circle cx="643.4" cy="398.4" r="0.9"/><circle cx="644.3" cy="398.6" r="0.9"/><circle cx="644.1" cy="398.7" r="0.9"/><circle cx="644.7" cy="398.5" r="0.9"/><circle cx="645.2" cy="398.5" r="0.9"/><circle cx="645.2" cy="398.3" r="0.9"/><circle cx="645.9" cy="398.6" r="0.9"/><circle cx="646.1" cy="398.6" r="0.9"/><circle cx="646.5" cy="398.3" r="0.9"/><circle cx="646.7" cy="398.8" r="0.9"/><circle cx="646.8" cy="398.6" r="0.9"/><circle cx="647.6" cy="398.6" r="0.9"/><circle cx="647.5" cy="398.8" r="0.9"/><circle cx="647.9" cy="398.4" r="0.9"/><circle cx="648.4" cy="398.6" r="0.9"/><circle cx="648.6" cy="398.6" r="0.9"/><circle cx="648.9" cy="398.2" r="0.9"/><circle cx="649.3" cy="398.1" r="0.9"/><circle cx="649.4" cy="398.2" r="0.9"/><circle cx="650.1" cy="398.5" r="0.9"/><circle cx="650.4" cy="398.5" r="0.9"/><circle cx="650.8" cy="398.6" r="0.9"/><circle cx="651.3" cy="398.3" r="0.9"/><circle cx="651.1" cy="398.4" r="0.9"/><circle cx="651.9" cy="398.3" r="0.9"/><circle cx="651.7" cy="398.6" r="0.9"/><circle cx="652.5" cy="398.4" r="0.9"/><circle cx="652.9" cy="398.4" r="0.9"/><circle cx="653.2" cy="398.1" r="0.9"/><circle cx="653.1" cy="398.3" r="0.9"/><circle cx="653.8" cy="398.7" r="0.9"/><circle cx="653.7" cy="398.6" r="0.9"/><circle cx="654.6" cy="398.5" r="0.9"/><circle cx="654.8" cy="398.3" r="0.9"/><circle cx="655.0" cy="398.4" r="0.9"/><circle cx="655.3" cy="398.3" r="0.9"/><circle cx="655.6" cy="398.6" r="0.9"/><circle cx="655.8" cy="398.5" r="0.9"/><circle cx="656.3" cy="398.3" r="0.9"/><circle cx="656.7" cy="398.3" r="0.9"/><circle cx="656.8" cy="398.4" r="0.9"/><circle cx="657.5" cy="398.4" r="0.9"/><circle cx="657.7" cy="398.7" r="0.9"/><circle cx="658.3" cy="398.4" r="0.9"/><circle cx="658.3" cy="398.3" r="0.9"/><circle cx="658.7" cy="398.7" r="0.9"/><circle cx="659.0" cy="398.8" r="0.9"/><circle cx="659.6" cy="398.5" r="0.9"/><circle cx="659.7" cy="398.3" r="0.9"/><circle cx="660.0" cy="398.2" r="0.9"/><circle cx="660.3" cy="398.3" r="0.9"/><circle cx="660.8" cy="398.7" r="0.9"/><circle cx="660.7" cy="398.2" r="0.9"/><circle cx="661.2" cy="398.7" r="0.9"/><circle cx="661.5" cy="398.4" r="0.9"/><circle cx="662.1" cy="398.7" r="0.9"/><circle cx="662.5" cy="398.2" r="0.9"/><circle cx="662.6" cy="398.7" r="0.9"/><circle cx="663.1" cy="398.3" r="0.9"/><circle cx="663.1" cy="398.6" r="0.9"/><circle cx="663.7" cy="398.1" r="0.9"/><circle cx="663.8" cy="398.3" r="0.9"/><circle cx="664.1" cy="398.7" r="0.9"/><circle cx="664.6" cy="398.2" r="0.9"/><circle cx="665.1" cy="398.6" r="0.9"/><circle cx="665.1" cy="398.2" r="0.9"/><circle cx="665.8" cy="398.3" r="0.9"/><circle cx="666.1" cy="398.4" r="0.9"/><circle cx="666.2" cy="398.6" r="0.9"/><circle cx="666.5" cy="398.2" r="0.9"/><circle cx="666.7" cy="398.5" r="0.9"/><circle cx="667.4" cy="398.8" r="0.9"/><circle cx="667.6" cy="398.4" r="0.9"/><circle cx="668.1" cy="398.6" r="0.9"/><circle cx="668.1" cy="398.3" r="0.9"/><circle cx="668.7" cy="398.3" r="0.9"/><circle cx="669.1" cy="398.6" r="0.9"/><circle cx="643.0" cy="412.4" r="0.9"/><circle cx="643.2" cy="412.1" r="0.9"/><circle cx="644.0" cy="412.3" r="0.9"/><circle cx="644.5" cy="412.4" r="0.9"/><circle cx="644.4" cy="412.0" r="0.9"/><circle cx="645.0" cy="412.0" r="0.9"/><circle cx="645.4" cy="412.4" r="0.9"/><circle cx="645.9" cy="412.3" r="0.9"/><circle cx="646.3" cy="412.3" r="0.9"/><circle cx="646.6" cy="412.7" r="0.9"/><circle cx="647.2" cy="412.1" r="0.9"/><circle cx="647.7" cy="412.6" r="0.9"/><circle cx="648.0" cy="412.0" r="0.9"/><circle cx="648.6" cy="412.1" r="0.9"/><circle cx="649.2" cy="412.2" r="0.9"/><circle cx="649.2" cy="412.6" r="0.9"/><circle cx="649.5" cy="412.0" r="0.9"/><circle cx="650.4" cy="412.2" r="0.9"/><circle cx="650.5" cy="412.1" r="0.9"/><circle cx="651.4" cy="412.1" r="0.9"/><circle cx="651.4" cy="412.1" r="0.9"/><circle cx="652.2" cy="412.3" r="0.9"/><circle cx="652.4" cy="412.6" r="0.9"/><circle cx="653.1" cy="412.0" r="0.9"/><circle cx="653.5" cy="412.4" r="0.9"/><circle cx="653.5" cy="412.3" r="0.9"/><circle cx="654.3" cy="412.3" r="0.9"/><circle cx="654.3" cy="412.0" r="0.9"/><circle cx="654.8" cy="412.1" r="0.9"/><circle cx="655.3" cy="412.0" r="0.9"/><circle cx="655.6" cy="412.6" r="0.9"/><circle cx="656.5" cy="412.5" r="0.9"/><circle cx="656.7" cy="412.1" r="0.9"/><circle cx="657.1" cy="412.3" r="0.9"/><circle cx="657.6" cy="412.7" r="0.9"/><circle cx="658.1" cy="412.2" r="0.9"/><circle cx="658.5" cy="412.4" r="0.9"/><circle cx="658.6" cy="412.3" r="0.9"/><circle cx="659.4" cy="412.5" r="0.9"/><circle cx="659.5" cy="412.3" r="0.9"/><circle cx="659.9" cy="412.5" r="0.9"/><circle cx="660.7" cy="412.5" r="0.9"/><circle cx="661.0" cy="412.0" r="0.9"/><circle cx="661.3" cy="412.6" r="0.9"/><circle cx="661.5" cy="412.3" r="0.9"/><circle cx="662.4" cy="412.3" r="0.9"/><circle cx="662.8" cy="412.2" r="0.9"/><circle cx="663.2" cy="412.1" r="0.9"/><circle cx="663.4" cy="412.5" r="0.9"/><circle cx="663.8" cy="412.1" r="0.9"/><circle cx="664.0" cy="412.7" r="0.9"/><circle cx="665.0" cy="412.2" r="0.9"/><circle cx="665.3" cy="412.1" r="0.9"/><circle cx="665.8" cy="412.6" r="0.9"/><circle cx="665.8" cy="412.2" r="0.9"/><circle cx="666.3" cy="412.2" r="0.9"/><circle cx="666.7" cy="412.0" r="0.9"/><circle cx="667.3" cy="412.2" r="0.9"/><circle cx="667.6" cy="412.5" r="0.9"/><circle cx="668.2" cy="412.1" r="0.9"/><circle cx="668.8" cy="412.4" r="0.9"/><circle cx="669.2" cy="412.2" r="0.9"/><circle cx="651.2" cy="395.8" r="0.9"/><circle cx="651.9" cy="395.8" r="0.9"/><circle cx="653.0" cy="395.9" r="0.9"/><circle cx="653.6" cy="396.1" r="0.9"/><circle cx="654.1" cy="395.9" r="0.9"/><circle cx="654.9" cy="395.8" r="0.9"/><circle cx="655.6" cy="395.7" r="0.9"/><circle cx="655.7" cy="395.8" r="0.9"/><circle cx="656.4" cy="395.8" r="0.9"/><circle cx="657.1" cy="395.7" r="0.9"/><circle cx="657.9" cy="395.9" r="0.9"/><circle cx="658.5" cy="395.6" r="0.9"/><circle cx="659.1" cy="395.8" r="0.9"/><circle cx="659.9" cy="395.5" r="0.9"/><circle cx="660.6" cy="395.4" r="0.9"/><circle cx="646.5" cy="396.7" r="0.9"/><circle cx="647.0" cy="397.2" r="0.9"/><circle cx="647.9" cy="397.2" r="0.9"/><circle cx="648.7" cy="396.7" r="0.9"/><circle cx="649.1" cy="396.7" r="0.9"/><circle cx="649.6" cy="397.0" r="0.9"/><circle cx="650.2" cy="397.3" r="0.9"/><circle cx="651.1" cy="397.2" r="0.9"/><circle cx="651.4" cy="397.1" r="0.9"/><circle cx="652.4" cy="396.9" r="0.9"/><circle cx="652.9" cy="396.8" r="0.9"/><circle cx="653.8" cy="397.3" r="0.9"/><circle cx="654.2" cy="397.1" r="0.9"/><circle cx="654.9" cy="396.7" r="0.9"/><circle cx="655.2" cy="396.9" r="0.9"/><circle cx="655.9" cy="396.8" r="0.9"/><circle cx="656.3" cy="397.1" r="0.9"/><circle cx="657.1" cy="397.2" r="0.9"/><circle cx="658.2" cy="397.3" r="0.9"/><circle cx="658.7" cy="397.2" r="0.9"/><circle cx="659.0" cy="396.7" r="0.9"/><circle cx="660.0" cy="397.1" r="0.9"/><circle cx="660.3" cy="396.9" r="0.9"/><circle cx="660.8" cy="396.7" r="0.9"/><circle cx="661.9" cy="397.0" r="0.9"/><circle cx="662.0" cy="397.2" r="0.9"/><circle cx="662.9" cy="397.2" r="0.9"/><circle cx="663.7" cy="397.0" r="0.9"/><circle cx="664.0" cy="396.8" r="0.9"/><circle cx="664.6" cy="397.4" r="0.9"/><circle cx="665.5" cy="396.8" r="0.9"/><circle cx="652.7" cy="391.6" r="0.9"/><circle cx="653.7" cy="391.6" r="0.9"/><circle cx="654.1" cy="391.3" r="0.9"/><circle cx="654.8" cy="391.4" r="0.9"/><circle cx="655.7" cy="391.6" r="0.9"/><circle cx="656.2" cy="391.1" r="0.9"/><circle cx="657.2" cy="391.0" r="0.9"/><circle cx="658.0" cy="391.7" r="0.9"/><circle cx="658.1" cy="391.2" r="0.9"/><circle cx="659.1" cy="391.7" r="0.9"/><circle cx="654.1" cy="385.0" r="0.9"/><circle cx="654.8" cy="385.0" r="0.9"/><circle cx="655.5" cy="384.8" r="0.9"/><circle cx="656.6" cy="385.2" r="0.9"/><circle cx="657.0" cy="384.8" r="0.9"/><circle cx="657.6" cy="385.0" r="0.9"/><circle cx="643.1" cy="401.6" r="0.9"/><circle cx="643.2" cy="401.5" r="0.9"/><circle cx="644.0" cy="402.1" r="0.9"/><circle cx="644.0" cy="401.6" r="0.9"/><circle cx="644.5" cy="402.1" r="0.9"/><circle cx="644.9" cy="401.9" r="0.9"/><circle cx="645.1" cy="401.8" r="0.9"/><circle cx="645.4" cy="401.6" r="0.9"/><circle cx="646.0" cy="401.8" r="0.9"/><circle cx="646.0" cy="401.8" r="0.9"/><circle cx="646.6" cy="401.9" r="0.9"/><circle cx="647.3" cy="402.0" r="0.9"/><circle cx="647.3" cy="402.1" r="0.9"/><circle cx="648.0" cy="401.8" r="0.9"/><circle cx="648.0" cy="401.9" r="0.9"/><circle cx="648.5" cy="401.9" r="0.9"/><circle cx="649.1" cy="401.5" r="0.9"/><circle cx="649.3" cy="401.9" r="0.9"/><circle cx="649.6" cy="401.9" r="0.9"/><circle cx="649.9" cy="401.9" r="0.9"/><circle cx="650.5" cy="401.9" r="0.9"/><circle cx="651.0" cy="401.9" r="0.9"/><circle cx="651.3" cy="401.9" r="0.9"/><circle cx="651.2" cy="401.8" r="0.9"/><circle cx="651.6" cy="402.0" r="0.9"/><circle cx="652.1" cy="402.2" r="0.9"/><circle cx="652.6" cy="401.9" r="0.9"/><circle cx="653.1" cy="401.9" r="0.9"/><circle cx="653.2" cy="401.9" r="0.9"/><circle cx="653.4" cy="401.7" r="0.9"/><circle cx="653.8" cy="401.5" r="0.9"/><circle cx="654.4" cy="402.0" r="0.9"/><circle cx="654.9" cy="402.1" r="0.9"/><circle cx="655.4" cy="402.2" r="0.9"/><circle cx="655.3" cy="401.9" r="0.9"/><circle cx="656.0" cy="401.8" r="0.9"/><circle cx="656.2" cy="402.2" r="0.9"/><circle cx="656.7" cy="401.9" r="0.9"/><circle cx="656.9" cy="401.6" r="0.9"/><circle cx="657.5" cy="401.8" r="0.9"/><circle cx="657.4" cy="401.7" r="0.9"/><circle cx="658.2" cy="402.1" r="0.9"/><circle cx="658.5" cy="401.6" r="0.9"/><circle cx="659.0" cy="402.1" r="0.9"/><circle cx="659.1" cy="401.6" r="0.9"/><circle cx="659.7" cy="401.9" r="0.9"/><circle cx="659.7" cy="401.8" r="0.9"/><circle cx="660.2" cy="401.7" r="0.9"/><circle cx="660.4" cy="401.6" r="0.9"/><circle cx="660.9" cy="401.7" r="0.9"/><circle cx="661.2" cy="402.1" r="0.9"/><circle cx="661.5" cy="401.7" r="0.9"/><circle cx="662.0" cy="401.6" r="0.9"/><circle cx="662.6" cy="401.7" r="0.9"/><circle cx="662.6" cy="401.5" r="0.9"/><circle cx="663.3" cy="401.7" r="0.9"/><circle cx="663.5" cy="401.5" r="0.9"/><circle cx="663.7" cy="401.9" r="0.9"/><circle cx="664.2" cy="402.0" r="0.9"/><circle cx="664.8" cy="401.8" r="0.9"/><circle cx="664.7" cy="401.5" r="0.9"/><circle cx="665.3" cy="402.1" r="0.9"/><circle cx="665.6" cy="401.6" r="0.9"/><circle cx="666.4" cy="402.1" r="0.9"/><circle cx="666.6" cy="401.6" r="0.9"/><circle cx="666.9" cy="402.0" r="0.9"/><circle cx="667.3" cy="401.5" r="0.9"/><circle cx="667.5" cy="402.1" r="0.9"/><circle cx="668.2" cy="401.7" r="0.9"/><circle cx="668.1" cy="401.7" r="0.9"/><circle cx="668.5" cy="401.6" r="0.9"/><circle cx="669.0" cy="402.1" r="0.9"/><circle cx="654.9" cy="371.7" r="0.9"/><circle cx="655.4" cy="371.9" r="0.9"/><circle cx="656.4" cy="371.6" r="0.9"/><circle cx="657.2" cy="371.9" r="0.9"/><circle cx="651.3" cy="393.2" r="0.9"/><circle cx="651.8" cy="393.5" r="0.9"/><circle cx="652.7" cy="393.6" r="0.9"/><circle cx="653.6" cy="393.7" r="0.9"/><circle cx="654.1" cy="393.6" r="0.9"/><circle cx="654.7" cy="393.4" r="0.9"/><circle cx="655.5" cy="393.6" r="0.9"/><circle cx="656.1" cy="393.6" r="0.9"/><circle cx="656.9" cy="393.5" r="0.9"/><circle cx="657.0" cy="393.2" r="0.9"/><circle cx="658.2" cy="393.5" r="0.9"/><circle cx="658.8" cy="393.6" r="0.9"/><circle cx="659.3" cy="393.2" r="0.9"/><circle cx="659.8" cy="393.7" r="0.9"/><circle cx="660.6" cy="393.7" r="0.9"/><circle cx="651.1" cy="394.7" r="0.9"/><circle cx="651.7" cy="394.5" r="0.9"/><circle cx="652.5" cy="394.7" r="0.9"/><circle cx="653.2" cy="394.6" r="0.9"/><circle cx="653.8" cy="394.2" r="0.9"/><circle cx="654.4" cy="394.5" r="0.9"/><circle cx="655.1" cy="394.3" r="0.9"/><circle cx="656.0" cy="394.8" r="0.9"/><circle cx="656.5" cy="394.8" r="0.9"/><circle cx="657.2" cy="394.7" r="0.9"/><circle cx="657.9" cy="394.6" r="0.9"/><circle cx="658.0" cy="394.3" r="0.9"/><circle cx="658.8" cy="394.3" r="0.9"/><circle cx="659.6" cy="394.3" r="0.9"/><circle cx="660.0" cy="394.7" r="0.9"/><circle cx="660.7" cy="394.2" r="0.9"/><circle cx="655.3" cy="377.2" r="0.9"/><circle cx="656.9" cy="376.9" r="0.9"/><circle cx="642.9" cy="406.1" r="0.9"/><circle cx="643.2" cy="406.5" r="0.9"/><circle cx="643.4" cy="406.3" r="0.9"/><circle cx="644.0" cy="406.0" r="0.9"/><circle cx="644.4" cy="406.1" r="0.9"/><circle cx="644.6" cy="405.9" r="0.9"/><circle cx="644.6" cy="406.1" r="0.9"/><circle cx="645.4" cy="406.5" r="0.9"/><circle cx="645.7" cy="406.5" r="0.9"/><circle cx="645.4" cy="406.4" r="0.9"/><circle cx="646.0" cy="406.0" r="0.9"/><circle cx="646.3" cy="405.9" r="0.9"/><circle cx="646.5" cy="406.0" r="0.9"/><circle cx="647.1" cy="406.0" r="0.9"/><circle cx="647.0" cy="406.4" r="0.9"/><circle cx="647.5" cy="405.9" r="0.9"/><circle cx="647.8" cy="406.2" r="0.9"/><circle cx="648.0" cy="405.9" r="0.9"/><circle cx="648.1" cy="406.5" r="0.9"/><circle cx="648.9" cy="406.4" r="0.9"/><circle cx="648.8" cy="406.5" r="0.9"/><circle cx="649.2" cy="406.5" r="0.9"/><circle cx="649.5" cy="406.1" r="0.9"/><circle cx="649.7" cy="405.9" r="0.9"/><circle cx="650.4" cy="406.1" r="0.9"/><circle cx="650.3" cy="406.1" r="0.9"/><circle cx="651.0" cy="406.0" r="0.9"/><circle cx="650.9" cy="406.2" r="0.9"/><circle cx="651.2" cy="406.3" r="0.9"/><circle cx="651.6" cy="406.0" r="0.9"/><circle cx="651.7" cy="406.2" r="0.9"/><circle cx="652.5" cy="406.2" r="0.9"/><circle cx="652.3" cy="406.4" r="0.9"/><circle cx="652.9" cy="406.5" r="0.9"/><circle cx="653.1" cy="406.5" r="0.9"/><circle cx="653.7" cy="406.4" r="0.9"/><circle cx="653.5" cy="406.0" r="0.9"/><circle cx="654.3" cy="405.9" r="0.9"/><circle cx="654.3" cy="406.3" r="0.9"/><circle cx="654.4" cy="406.0" r="0.9"/><circle cx="654.8" cy="406.0" r="0.9"/><circle cx="655.4" cy="405.9" r="0.9"/><circle cx="655.6" cy="406.4" r="0.9"/><circle cx="655.7" cy="406.2" r="0.9"/><circle cx="656.2" cy="406.3" r="0.9"/><circle cx="656.3" cy="406.2" r="0.9"/><circle cx="656.5" cy="406.0" r="0.9"/><circle cx="657.0" cy="405.9" r="0.9"/><circle cx="657.3" cy="406.0" r="0.9"/><circle cx="657.5" cy="406.1" r="0.9"/><circle cx="657.8" cy="405.9" r="0.9"/><circle cx="658.2" cy="406.4" r="0.9"/><circle cx="658.3" cy="406.3" r="0.9"/><circle cx="658.7" cy="406.1" r="0.9"/><circle cx="659.2" cy="406.5" r="0.9"/><circle cx="659.7" cy="406.5" r="0.9"/><circle cx="660.0" cy="406.4" r="0.9"/><circle cx="660.2" cy="406.3" r="0.9"/><circle cx="660.6" cy="405.9" r="0.9"/><circle cx="660.4" cy="405.9" r="0.9"/><circle cx="661.2" cy="405.9" r="0.9"/><circle cx="661.2" cy="406.0" r="0.9"/><circle cx="661.3" cy="406.4" r="0.9"/><circle cx="661.7" cy="406.4" r="0.9"/><circle cx="661.8" cy="406.0" r="0.9"/><circle cx="662.5" cy="406.3" r="0.9"/><circle cx="662.7" cy="406.2" r="0.9"/><circle cx="663.2" cy="405.9" r="0.9"/><circle cx="663.1" cy="405.9" r="0.9"/><circle cx="663.9" cy="405.9" r="0.9"/><circle cx="664.0" cy="406.2" r="0.9"/><circle cx="664.2" cy="406.1" r="0.9"/><circle cx="664.3" cy="406.2" r="0.9"/><circle cx="665.1" cy="406.3" r="0.9"/><circle cx="664.9" cy="406.1" r="0.9"/><circle cx="665.6" cy="406.4" r="0.9"/><circle cx="665.6" cy="406.3" r="0.9"/><circle cx="666.3" cy="405.9" r="0.9"/><circle cx="666.6" cy="406.1" r="0.9"/><circle cx="666.5" cy="406.5" r="0.9"/><circle cx="666.7" cy="405.9" r="0.9"/><circle cx="667.2" cy="406.2" r="0.9"/><circle cx="667.6" cy="406.4" r="0.9"/><circle cx="668.0" cy="406.2" r="0.9"/><circle cx="668.3" cy="406.0" r="0.9"/><circle cx="668.1" cy="406.3" r="0.9"/><circle cx="668.8" cy="406.1" r="0.9"/><circle cx="669.0" cy="406.4" r="0.9"/><circle cx="653.7" cy="380.8" r="0.9"/><circle cx="654.8" cy="380.5" r="0.9"/><circle cx="655.2" cy="380.6" r="0.9"/><circle cx="656.0" cy="380.6" r="0.9"/><circle cx="656.6" cy="380.8" r="0.9"/><circle cx="657.1" cy="380.5" r="0.9"/><circle cx="658.1" cy="380.6" r="0.9"/><circle cx="650.2" cy="390.0" r="0.9"/><circle cx="650.7" cy="390.2" r="0.9"/><circle cx="651.2" cy="389.8" r="0.9"/><circle cx="651.9" cy="390.1" r="0.9"/><circle cx="652.3" cy="390.2" r="0.9"/><circle cx="653.3" cy="390.1" r="0.9"/><circle cx="653.9" cy="390.0" r="0.9"/><circle cx="654.3" cy="389.9" r="0.9"/><circle cx="655.1" cy="389.9" r="0.9"/><circle cx="655.8" cy="390.1" r="0.9"/><circle cx="656.0" cy="389.6" r="0.9"/><circle cx="657.1" cy="390.2" r="0.9"/><circle cx="657.5" cy="389.7" r="0.9"/><circle cx="658.2" cy="390.1" r="0.9"/><circle cx="659.0" cy="390.1" r="0.9"/><circle cx="659.6" cy="390.1" r="0.9"/><circle cx="659.9" cy="389.6" r="0.9"/><circle cx="660.7" cy="389.9" r="0.9"/><circle cx="661.1" cy="389.9" r="0.9"/><circle cx="662.3" cy="389.8" r="0.9"/><circle cx="652.5" cy="422.6" r="0.9"/><circle cx="653.3" cy="422.9" r="0.9"/><circle cx="653.7" cy="422.6" r="0.9"/><circle cx="654.4" cy="422.9" r="0.9"/><circle cx="655.5" cy="422.6" r="0.9"/><circle cx="656.0" cy="422.7" r="0.9"/><circle cx="656.9" cy="422.7" r="0.9"/><circle cx="657.4" cy="423.0" r="0.9"/><circle cx="657.8" cy="422.8" r="0.9"/><circle cx="658.9" cy="422.8" r="0.9"/><circle cx="659.4" cy="422.8" r="0.9"/><circle cx="653.7" cy="381.7" r="0.9"/><circle cx="654.0" cy="381.7" r="0.9"/><circle cx="654.8" cy="381.9" r="0.9"/><circle cx="655.9" cy="381.9" r="0.9"/><circle cx="656.5" cy="381.8" r="0.9"/><circle cx="657.2" cy="381.8" r="0.9"/><circle cx="657.8" cy="381.3" r="0.9"/><circle cx="658.2" cy="381.8" r="0.9"/><circle cx="655.5" cy="377.8" r="0.9"/><circle cx="656.9" cy="377.9" r="0.9"/><circle cx="655.8" cy="322.2" r="0.9"/><circle cx="653.1" cy="388.6" r="0.9"/><circle cx="654.0" cy="389.1" r="0.9"/><circle cx="654.8" cy="388.8" r="0.9"/><circle cx="655.3" cy="389.0" r="0.9"/><circle cx="655.9" cy="388.5" r="0.9"/><circle cx="656.9" cy="388.5" r="0.9"/><circle cx="657.4" cy="388.8" r="0.9"/><circle cx="657.9" cy="388.6" r="0.9"/><circle cx="659.0" cy="388.9" r="0.9"/><circle cx="655.6" cy="370.2" r="0.9"/><circle cx="653.4" cy="382.7" r="0.9"/><circle cx="653.9" cy="382.4" r="0.9"/><circle cx="654.8" cy="382.7" r="0.9"/><circle cx="655.3" cy="382.4" r="0.9"/><circle cx="655.8" cy="382.3" r="0.9"/><circle cx="656.5" cy="382.7" r="0.9"/><circle cx="657.5" cy="382.8" r="0.9"/><circle cx="657.9" cy="382.7" r="0.9"/><circle cx="658.8" cy="382.3" r="0.9"/><circle cx="656.7" cy="340.7" r="0.9"/><circle cx="655.2" cy="379.1" r="0.9"/><circle cx="655.7" cy="379.1" r="0.9"/><circle cx="656.7" cy="378.5" r="0.9"/><circle cx="655.4" cy="324.3" r="0.9"/><circle cx="656.0" cy="316.5" r="0.9"/><circle cx="656.0" cy="368.8" r="0.9"/><circle cx="653.3" cy="386.2" r="0.9"/><circle cx="653.7" cy="385.9" r="0.9"/><circle cx="654.6" cy="386.1" r="0.9"/><circle cx="655.1" cy="386.1" r="0.9"/><circle cx="655.8" cy="385.8" r="0.9"/><circle cx="656.5" cy="385.8" r="0.9"/><circle cx="657.3" cy="386.1" r="0.9"/><circle cx="658.3" cy="385.8" r="0.9"/><circle cx="658.8" cy="386.4" r="0.9"/><circle cx="655.1" cy="375.9" r="0.9"/><circle cx="656.7" cy="375.6" r="0.9"/><circle cx="655.7" cy="363.3" r="0.9"/><circle cx="656.2" cy="364.0" r="0.9"/><circle cx="656.5" cy="360.1" r="0.9"/><circle cx="655.7" cy="328.7" r="0.9"/><circle cx="656.6" cy="328.7" r="0.9"/><circle cx="655.9" cy="354.9" r="0.9"/><circle cx="656.2" cy="341.7" r="0.9"/><circle cx="656.5" cy="345.5" r="0.9"/><circle cx="655.8" cy="322.9" r="0.9"/><circle cx="655.3" cy="373.4" r="0.9"/><circle cx="656.4" cy="373.4" r="0.9"/><circle cx="656.4" cy="357.0" r="0.9"/><circle cx="655.6" cy="360.9" r="0.9"/><circle cx="655.9" cy="348.1" r="0.9"/><circle cx="655.4" cy="315.0" r="0.9"/><circle cx="656.9" cy="314.6" r="0.9"/><circle cx="656.2" cy="365.5" r="0.9"/><circle cx="655.5" cy="312.5" r="0.9"/><circle cx="656.3" cy="314.9" r="0.9"/></g>
<g stroke="#f7941d" stroke-width="1.5" fill="none">
<rect x="523.9" y="373.6" width="24" height="28.7"/>
<line x1="523.9" y1="392.3" x2="547.9" y2="392.3"/>
<line x1="535.9" y1="373.6" x2="535.9" y2="314"/>
<line x1="535.9" y1="402.3" x2="535.9" y2="413.4"/>
<line x1="528.4" y1="314" x2="543.4" y2="314"/>
<line x1="528.4" y1="413.4" x2="543.4" y2="413.4"/>
</g>
<g stroke="#2e3192" stroke-width="1.5" fill="none">
<rect x="564.1" y="392.3" width="23.8" height="13.9"/>
<line x1="564.1" y1="401.4" x2="587.9" y2="401.4"/>
<line x1="576" y1="392.3" x2="576" y2="364.2"/>
<line x1="576" y1="406.2" x2="576" y2="413.7"/>
<line x1="568.5" y1="364.2" x2="583.5" y2="364.2"/>
<line x1="568.5" y1="413.7" x2="583.5" y2="413.7"/>
</g>
<g stroke="#f7941d" stroke-width="1.5" fill="none">
<rect x="603.8" y="387.8" width="24.2" height="16.1"/>
<line x1="603.8" y1="397.3" x2="628" y2="397.3"/>
<line x1="615.9" y1="387.8" x2="615.9" y2="352.2"/>
<line x1="615.9" y1="403.9" x2="615.9" y2="413.4"/>
<line x1="608.4" y1="352.2" x2="623.4" y2="352.2"/>
<line x1="608.4" y1="413.4" x2="623.4" y2="413.4"/>
</g>
<g stroke="#2e3192" stroke-width="1.5" fill="none">
<rect x="643.8" y="396.4" width="24.4" height="11.2"/>
<line x1="643.8" y1="400.8" x2="668.2" y2="400.8"/>
<line x1="656" y1="396.4" x2="656" y2="373.6"/>
<line x1="656" y1="407.6" x2="656" y2="417.8"/>
<line x1="648.5" y1="373.6" x2="663.5" y2="373.6"/>
<line x1="648.5" y1="417.8" x2="663.5" y2="417.8"/>
</g>
<path d="M501.40000000000003 283.5 H508.8 V433.7" stroke="#111" stroke-width="1.6" fill="none"/>
<path d="M501.40000000000003 433.7 H685" stroke="#111" stroke-width="1.6" fill="none"/>
<text x="499.6" y="287.3" font-size="11.4" text-anchor="end" font-weight="normal" fill="#111" >1000</text>
<line x1="501.40000000000003" y1="318.3" x2="508.8" y2="318.3" stroke="#111" stroke-width="1.6"/>
<text x="499.6" y="322.1" font-size="11.4" text-anchor="end" font-weight="normal" fill="#111" >100</text>
<line x1="501.40000000000003" y1="353.2" x2="508.8" y2="353.2" stroke="#111" stroke-width="1.6"/>
<text x="499.6" y="357" font-size="11.4" text-anchor="end" font-weight="normal" fill="#111" >10</text>
<line x1="501.40000000000003" y1="388" x2="508.8" y2="388" stroke="#111" stroke-width="1.6"/>
<text x="499.6" y="391.8" font-size="11.4" text-anchor="end" font-weight="normal" fill="#111" >1</text>
<line x1="501.40000000000003" y1="422.8" x2="508.8" y2="422.8" stroke="#111" stroke-width="1.6"/>
<text x="499.6" y="426.6" font-size="11.4" text-anchor="end" font-weight="normal" fill="#111" >0.1</text>
<line x1="535.9" y1="433.7" x2="535.9" y2="440.9" stroke="#111" stroke-width="1.6"/>
<line x1="576" y1="433.7" x2="576" y2="440.9" stroke="#111" stroke-width="1.6"/>
<line x1="615.9" y1="433.7" x2="615.9" y2="440.9" stroke="#111" stroke-width="1.6"/>
<line x1="656" y1="433.7" x2="656" y2="440.9" stroke="#111" stroke-width="1.6"/>
<text transform="translate(536.7,455) scale(0.82,1)" font-size="18.9" text-anchor="middle" font-weight="bold" fill="#f7941d">3'</text>
<text transform="translate(576.8,455) scale(0.82,1)" font-size="18.9" text-anchor="middle" font-weight="bold" fill="#1c75bc">5'</text>
<text transform="translate(616.7,455) scale(0.82,1)" font-size="18.9" text-anchor="middle" font-weight="bold" fill="#f7941d">3'</text>
<text transform="translate(656.8,455) scale(0.82,1)" font-size="18.9" text-anchor="middle" font-weight="bold" fill="#1c75bc">5'</text>
<line x1="525" y1="459" x2="585" y2="459" stroke="#111" stroke-width="1.4"/>
<line x1="610" y1="459" x2="665.3" y2="459" stroke="#111" stroke-width="1.4"/>
<text x="551.5" y="475.2" font-size="12.7" text-anchor="middle" font-weight="normal" fill="#111" >+ATP</text>
<text x="635.6" y="475.2" font-size="12.7" text-anchor="middle" font-weight="normal" fill="#111" >-ATP</text>
<text x="452.2" y="455.8" font-size="12.7" text-anchor="start" font-weight="normal" fill="#111" >RPA (5nM)</text>
<text transform="translate(454.8,356) rotate(-90)" font-size="13.5" text-anchor="middle" fill="#111">Smc5/6 junction</text>
<text transform="translate(470.4,356) rotate(-90)" font-size="13.5" text-anchor="middle" fill="#111">dwell time (s)</text>
<g stroke="#222" stroke-width="1" fill="none">
<path d="M531.3 294.3 V272.7 H619.2 V276.3"/>
<path d="M531.3 289 H577.3 V294.3"/>
<path d="M577.3 263.8 V259.9 H661.4 V294.3"/>
<path d="M617.5 294.3 V288.4 H661.4"/>
</g>
<text x="556" y="286" font-size="9.4" text-anchor="middle" fill="#111"><tspan font-style="italic">P</tspan> &lt; 0.0001</text>
<text x="602.7" y="270.3" font-size="9.4" text-anchor="middle" fill="#111"><tspan font-style="italic">P</tspan> &lt; 0.0001</text>
<text x="620.3" y="257.5" font-size="9.4" text-anchor="middle" fill="#111"><tspan font-style="italic">P</tspan> = 0.04</text>
<text x="637.5" y="286" font-size="9.4" text-anchor="middle" fill="#111"><tspan font-style="italic">P</tspan> &lt; 0.0001</text>
</svg>
</body></html>
